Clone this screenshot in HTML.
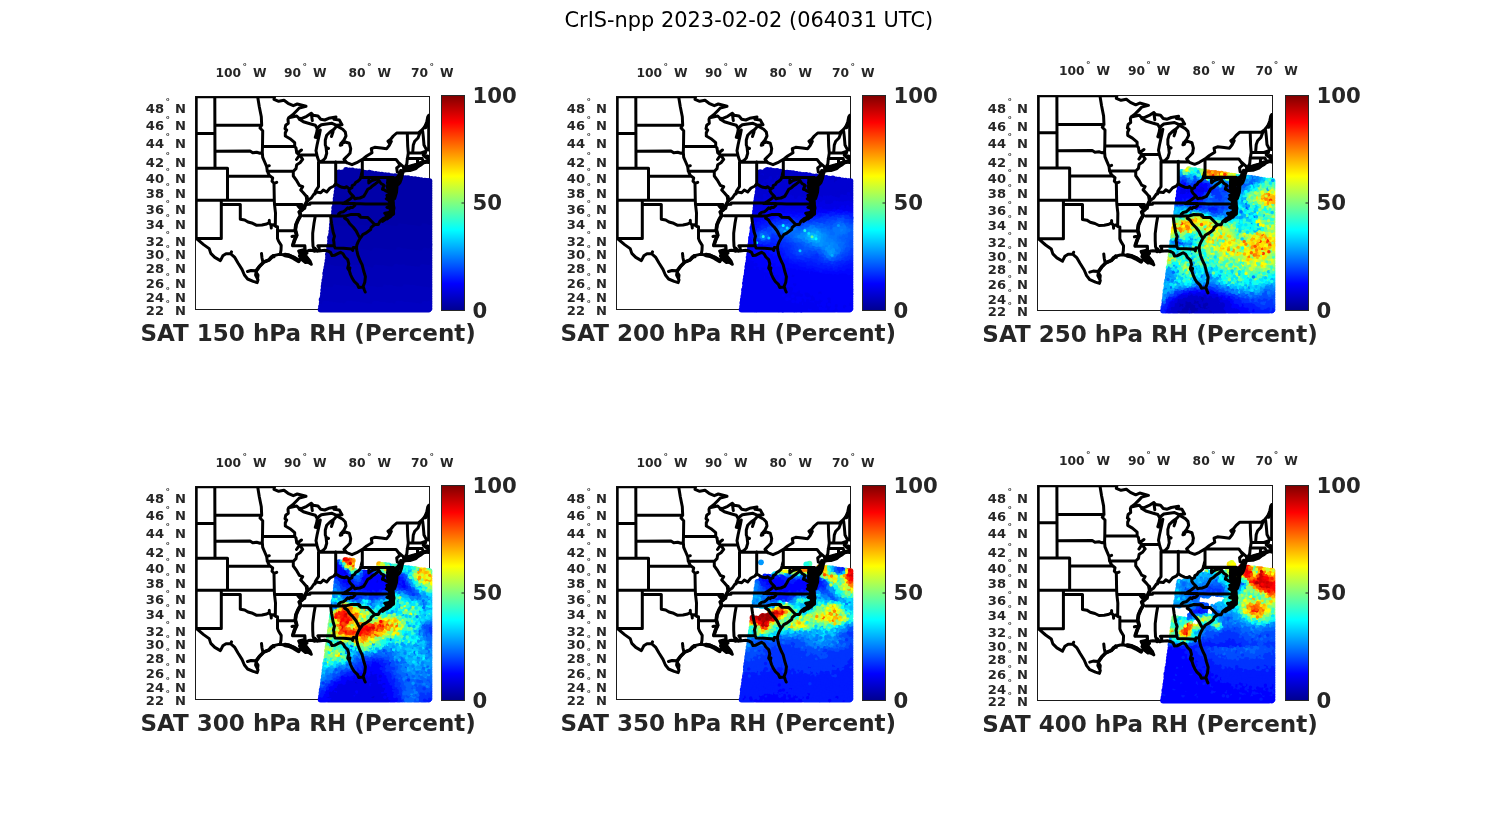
<!DOCTYPE html>
<html lang="en"><head><meta charset="utf-8"><title>CrIS-npp 2023-02-02 (064031 UTC)</title>
<style>html,body{margin:0;padding:0;background:#fff}body{width:1500px;height:825px;overflow:hidden}svg{display:block}text{font-family:"DejaVu Sans","Liberation Sans",sans-serif;fill:#262626}.b{font-weight:bold}.t{font-size:13.1px;font-weight:bold}.c{font-size:21.2px;font-weight:bold}.l{font-size:23.05px;font-weight:bold}.d{font-size:9px;font-weight:bold}.w{font-size:12.3px;font-weight:bold}</style></head><body>
<svg width="1500" height="825" viewBox="0 0 1500 825">
<defs><linearGradient id="jet" x1="0" y1="1" x2="0" y2="0"><stop offset="0" stop-color="#00008f"/><stop offset="0.125" stop-color="#0000ff"/><stop offset="0.375" stop-color="#00ffff"/><stop offset="0.625" stop-color="#ffff00"/><stop offset="0.875" stop-color="#ff0000"/><stop offset="1" stop-color="#800000"/></linearGradient>
<g id="usmap" fill="none" stroke="#000" stroke-linejoin="round" stroke-linecap="round"><path stroke-width="3" d="M0.7 0.2 L0.7 142.0 M0.7 0.2 L79.0 0.2 M233.2 18.8 L233.2 53.5 M19.3 0.5 L19.5 71.8 M1.0 37.0 L19.5 37.0 M19.5 28.8 L66.2 28.8 M19.5 54.8 L54.5 54.5 L57.2 56.2 L61.2 55.8 L64.5 56.8 L66.8 55.8 M1.0 71.8 L32.0 71.8 M32.0 71.8 L32.0 103.8 M32.0 79.8 L73.2 79.8 M1.0 103.8 L78.8 103.8 M25.8 103.8 L25.8 142.0 M1.0 142.0 L25.8 142.0 M25.8 108.0 L44.8 108.0 L44.8 122.8 L49.2 123.5 L52.5 125.5 L57.2 126.8 L61.2 128.8 L66.5 128.5 L71.2 127.5 L73.8 126.2 L75.5 128.8 L77.8 128.2 L80.5 130.0 L82.0 130.3 M73.8 126.5 L73.8 123.8 M75.5 128.5 L75.8 131.5 M62.2 0.5 L63.8 10.2 L65.8 20.2 L66.2 28.8 L64.5 31.5 L67.2 34.2 L67.0 50.0 L66.8 55.5 L67.2 60.8 L69.2 65.5 L71.2 70.2 L71.8 74.8 L73.8 78.8 L77.2 81.5 L76.5 84.8 L78.5 86.8 L78.8 103.8 L79.0 107.9 L80.0 116.5 L79.8 129.5 M71.2 70.2 L73.8 69.2 M78.5 86.8 L81.2 85.8 M82.0 130.3 L82.0 142.0 L83.0 144.5 L85.7 148.9 L85.5 153.5 L84.9 156.9 L86.5 158.1 M67.0 50.0 L99.2 50.0 M71.8 74.8 L97.8 74.8 M79.0 107.9 L106.5 107.9 L106.0 111.7 L109.3 111.7 M82.0 134.3 L99.5 134.3 M79.0 0.5 L78.5 2.8 L83.2 4.8 L88.5 3.8 L92.5 6.8 L97.8 9.2 L101.8 7.5 L110.5 9.8 L103.8 11.5 L101.2 14.2 L97.2 18.2 L93.2 21.2 M93.2 21.2 L92.5 22.8 L92.8 26.8 L90.2 28.8 L89.5 32.2 L91.2 33.5 L89.8 36.2 L89.8 39.5 L94.5 42.2 L99.2 46.2 L99.2 50.0 L100.5 51.5 L101.2 56.2 L103.8 58.2 L107.2 62.8 L104.5 66.2 L101.2 68.2 L100.5 72.2 L97.8 74.8 L97.8 79.5 L101.2 84.2 L103.8 88.8 L107.2 90.2 L105.2 93.5 L107.8 96.2 L111.2 100.2 L111.8 104.2 L110.0 108.0 L109.3 111.7 L106.5 113.5 L103.8 115.5 L105.2 118.8 L102.5 123.5 L100.5 128.2 L99.8 133.5 L101.2 138.8 L99.2 143.2 L97.2 149.3 L109.4 149.3 L109.7 154.5 M102.0 56.5 L106.0 53.5 M104.0 58.5 L101.0 63.0 M105.5 113.0 L102.5 109.5 M101.2 139.0 L96.5 140.0 M93.2 21.2 L101.2 19.5 L103.2 21.5 L105.8 22.2 L111.2 19.8 L115.8 16.8 L117.8 18.8 L122.5 19.5 L125.2 22.8 L129.2 23.5 L133.2 21.8 L140.5 20.5 L138.5 22.8 L143.8 23.5 L146.5 28.2 L141.2 28.8 L136.5 26.8 L131.2 27.5 L125.8 28.2 L123.5 30.0 L121.8 32.2 M115.8 16.8 L116.3 20.5 L116.8 24.0 M103.8 22.8 L107.8 25.2 L114.5 27.2 L119.8 28.8 L121.8 32.2 L121.2 36.2 L119.8 40.8 L122.5 37.0 L124.8 33.5 L123.8 38.5 L122.5 44.2 L121.5 48.8 L120.5 54.2 L121.8 60.2 L123.2 64.2 L124.0 65.5 M121.0 36.5 L120.5 41.0 L121.8 37.5 M141.2 29.5 L138.5 32.8 L134.5 35.5 L131.2 38.8 L129.8 43.5 L129.8 48.5 L130.5 50.2 L131.2 56.8 L129.8 61.5 L127.2 64.2 L124.0 65.5 M138.0 33.0 L137.0 36.5 L136.0 40.0 L137.5 35.5 M130.5 51.0 L133.0 52.0 M141.2 29.5 L147.2 32.8 L149.8 35.5 L150.5 39.5 L148.5 43.5 L145.8 46.8 L145.2 48.0 L147.0 46.5 L149.8 45.5 L153.8 46.8 L155.2 52.2 L154.5 56.8 L151.2 60.2 L148.5 62.8 L151.2 66.2 M145.5 46.7 L144.8 48.8 L146.3 48.3 M124.0 65.5 L151.2 65.8 M123.0 65.5 L123.0 90.2 L121.2 92.8 L119.8 95.0 L119.6 97.5 M140.2 65.2 L140.2 87.2 M103.8 58.5 L121.2 58.5 M151.2 66.2 L156.5 68.2 L161.2 66.2 L164.5 64.2 L167.8 62.2 L171.2 59.5 L176.5 56.2 L175.8 52.2 L179.2 50.8 L185.8 51.5 L191.2 52.2 L193.8 48.8 L195.8 44.8 L193.8 46.8 L192.5 44.8 L195.2 42.8 L197.8 39.5 L201.2 36.5 L223.2 36.2 L226.5 33.5 L230.5 28.8 L233.2 21.5 L233.8 18.8 M166.8 63.0 L166.8 80.8 M169.2 62.9 L200.5 62.9 L202.5 65.5 L204.5 68.8 L201.2 71.5 L201.8 75.5 L204.5 76.8 L202.5 80.0 L200.0 81.7 M211.8 36.5 L212.2 49.5 L212.8 56.5 L211.7 63.5 L211.3 67.5 L210.0 70.0 M212.8 56.5 L225.5 56.5 L229.8 55.0 M211.7 62.0 L226.5 62.0 M224.5 36.2 L222.5 41.5 L219.2 44.8 L217.8 48.5 L217.2 56.2 M227.2 34.8 L227.8 40.2 L228.5 48.5 L229.8 51.0 L230.8 52.8 M222.0 62.0 L222.0 67.0 M226.5 62.0 L227.8 64.8 L227.5 66.5 M233.8 53.5 L230.8 52.8 L229.8 56.8 L227.8 58.8 L230.5 61.0 L233.2 62.8 L233.2 60.0 L231.5 59.5 M233.2 62.8 L233.3 66.0 L231.2 65.5 L227.8 64.8 L227.5 66.5 L224.5 67.0 L217.5 68.8 L212.5 70.3 L208.5 72.2 M208.5 72.5 L213.5 72.3 L218.5 71.0 L224.5 68.3 L220.5 72.0 L214.5 74.0 L208.5 74.3 M202.5 65.5 L207.8 70.2 L208.5 72.2 L208.0 75.0 L207.0 77.5 L206.0 82.0 L204.5 86.0 L203.0 87.8 L201.5 85.0 L200.0 81.7 M111.8 104.2 L115.8 101.5 L118.5 97.5 L121.2 95.5 L125.2 96.2 L127.8 93.5 L131.2 95.5 L134.5 91.5 L138.5 89.5 L140.2 87.2 M139.9 87.2 L143.7 89.6 L146.5 90.8 L149.4 91.2 L151.3 90.2 L152.5 91.4 L153.8 92.6 L156.4 91.2 L156.7 89.2 L159.0 88.0 L160.3 85.8 L162.5 84.7 L164.6 82.7 L165.6 79.3 L166.2 76.6 L166.8 74.6 M153.8 92.6 L153.6 94.8 L154.9 96.8 L157.7 99.6 L159.5 102.3 L161.9 101.7 L164.4 101.5 L168.2 99.9 L170.1 96.8 L172.3 92.8 L175.1 91.2 L177.2 89.2 L180.1 87.2 L183.7 84.3 M157.7 99.6 L155.3 101.9 L151.3 104.7 L147.1 107.0 M110.5 107.9 L114.5 107.7 L114.7 106.5 L149.5 106.5 M147.1 107.0 L159.5 107.1 L170.1 107.4 L196.0 107.4 M107.8 119.3 L136.2 119.3 M135.0 119.4 L150.6 119.4 M119.8 119.5 L118.5 126.8 L117.2 136.8 L117.2 143.5 L117.5 149.5 L118.5 152.5 M135.0 119.4 L136.1 127.0 L137.6 135.6 L139.0 139.7 L138.0 143.4 L138.4 145.6 L138.7 149.3 L139.6 151.5 M123.4 154.4 L123.7 151.5 L122.4 149.3 L138.7 149.3 M139.6 151.5 L148.1 151.8 L156.2 152.4 L157.2 154.0 L157.3 152.4 L157.8 150.9 L161.0 151.3 M159.5 107.1 L159.3 109.0 L157.2 110.9 L155.0 110.8 L153.8 112.1 L152.2 111.3 L150.0 113.6 L148.1 115.2 L145.0 115.9 L143.1 117.5 L143.0 119.4 M179.2 128.0 L172.1 120.9 L165.1 120.8 L164.2 118.6 L163.5 119.4 L163.5 118.1 L155.7 117.9 L150.6 119.4 M150.6 119.4 L149.1 121.7 L151.9 123.4 L154.1 127.0 L157.8 130.8 L160.7 134.5 L162.5 138.2 L164.6 141.7 M166.8 81.1 L198.1 81.1 M196.5 83.1 L197.7 81.2 L198.8 81.5 M173.3 83.5 L173.3 86.4 L175.9 84.3 L177.3 83.7 L179.8 83.1 L181.4 82.3 L182.6 83.1 L183.7 84.3 L184.3 85.4 L185.7 87.2 L187.3 88.0 L188.7 89.2 L187.6 90.8 L187.0 92.8 L188.6 93.2 L190.1 94.4 L193.1 95.6 L192.6 93.6 L191.8 90.4 L192.3 88.0 L192.0 86.0 L194.6 83.5 L195.1 84.7 L193.9 88.0 L193.9 90.0 L193.3 93.6 L195.8 94.4 L197.3 96.4 L195.5 99.6 L195.3 102.9 L197.3 99.9 L199.8 96.0 L201.1 92.4 L200.8 89.6 L198.9 88.0 L198.6 85.5 L197.8 83.1 L198.8 81.5 M196.5 83.1 L197.0 92.4 L201.1 92.4 M193.6 96.8 L193.3 99.6 L191.4 98.8 L192.6 101.9 L193.3 103.9 L190.8 102.3 L195.1 104.4 L196.0 107.4 M193.1 95.6 L193.6 96.8 M196.0 107.4 L198.0 113.2 L198.1 117.5 L195.1 118.8 L191.7 122.4 L188.2 121.7 L184.5 124.7 L182.8 128.1 L179.2 128.0 M196.1 109.4 L191.4 110.9 L195.1 112.1 L195.8 114.8 L192.0 116.3 L189.2 116.7 L191.4 118.6 L190.4 119.8 L191.4 121.7 M179.2 128.0 L175.7 130.8 L175.1 133.0 L170.7 136.4 L167.2 138.2 L165.7 140.5 L164.6 141.7 L162.5 145.6 L161.3 148.6 L161.0 151.3 M123.4 154.4 L129.3 153.8 L133.1 154.8 L135.0 155.8 L136.5 159.0 L139.4 158.7 L142.8 156.9 L145.0 155.8 L147.5 157.3 L149.4 160.5 L152.2 163.1 L153.3 167.4 L152.2 171.6 L153.5 173.7 L154.4 171.3 L153.8 174.1 L155.0 178.0 L156.6 181.5 L158.8 185.0 L161.9 187.8 L163.2 190.9 L167.6 190.5 L168.2 188.5 L169.3 185.7 L169.9 180.1 L168.2 174.5 L166.6 168.1 L164.7 164.5 L162.4 158.7 L161.3 153.7 L161.0 151.3 M168.0 191.1 L168.8 193.3 L169.7 195.5 M123.4 154.4 L121.8 154.8 L120.9 153.7 L119.6 151.9 L119.3 154.8 L117.4 154.0 L114.9 153.7 L113.0 154.0 L110.5 155.1 L109.3 152.9 L109.1 149.3 M86.5 158.1 L92.9 158.5 L98.5 160.9 L103.2 164.5 L104.9 162.5 L106.5 160.0 L104.5 157.0 L103.2 154.5 L107.5 153.5 L109.7 154.5 L111.5 156.5 L109.5 158.5 L112.0 161.5 L114.5 164.5 L115.8 167.8 L113.0 165.5 L110.0 166.0 L107.5 164.0 L104.9 162.5 M104.5 157.5 L108.5 156.0 L110.5 159.5 L107.5 161.5 L105.5 159.5 L109.5 157.5 M1.0 142.0 L2.5 143.3 L8.1 148.1 L13.7 152.1 L15.3 156.9 L19.3 160.9 L24.9 164.1 L27.3 159.3 L30.5 157.3 L35.3 157.3 L39.3 160.9 L42.5 166.5 L46.5 172.9 L48.9 178.5 L52.1 182.5 L57.7 184.9 L61.7 186.1 L62.5 183.3 L60.1 178.5 L60.9 173.7 L64.1 169.7 L68.1 165.7 L73.7 163.3 L77.7 159.3 L82.5 158.1 L86.5 158.1 M60.9 174.3 L55.5 174.0 L52.0 175.0 M67.5 166.0 L66.5 161.5 L66.0 157.0 M60.5 175.5 L62.5 178.5 L62.0 182.5 M73.5 163.3 L75.5 160.5 L78.5 160.3 M35.3 157.3 L36.0 155.3"/><path stroke-width="6.5" d="M194.0 84.0 L195.0 89.5 L195.5 95.5 L195.8 101.5 L196.0 106.5"/><path stroke-width="4.5" d="M200.0 83.5 L200.8 89.5 L200.3 95.5 L198.5 101.5"/><path stroke-width="6" d="M196.0 106.5 L197.0 111.5 L196.0 116.0 L194.0 119.0"/><path stroke-width="3.8" d="M194.0 119.0 L190.5 122.0 L187.0 124.5"/><path stroke-width="5.5" d="M209.5 73.0 L214.5 71.7 L219.5 70.0 L225.0 67.3"/><path stroke-width="4" d="M225.5 67.0 L229.5 65.5 L232.8 64.5"/><path stroke-width="6" d="M106.0 156.5 L108.5 160.0 L111.0 163.0"/><path stroke-width="4" d="M104.5 159.5 L108.5 163.5 L114.0 166.0"/><path stroke-width="4.5" d="M89.5 158.5 L93.5 159.3 L98.0 161.3 L103.0 164.3"/><path stroke-width="3.8" d="M111.2 100.2 L111.8 104.2 L110.0 108.0 L106.5 113.5 L103.8 115.5 L105.2 118.8 L102.5 123.5 L100.5 128.2 L99.8 133.5 L101.2 138.8 L99.2 143.2 L97.4 148.5"/><path stroke-width="3.6" d="M60.9 174.3 L64.1 169.7 L68.1 165.7 L73.7 163.3 L77.7 159.3"/><path stroke-width="4.5" d="M230.0 30.5 L232.0 25.5 L233.0 20.5"/><path stroke-width="4" d="M202.0 83.5 L204.0 79.5 L205.5 74.5"/></g><clipPath id="fc"><rect x="0" y="0" width="234" height="213"/></clipPath>
</defs>
<rect width="1500" height="825" fill="#fff"/>
<text x="748.8" y="26.7" text-anchor="middle" style="font-size:20.9px;fill:#000">CrIS-npp 2023-02-02 (064031 UTC)</text>
<g>
<rect x="195.5" y="96.5" width="234" height="213" fill="#fff" stroke="#1a1a1a" stroke-width="1"/>
<g transform="translate(195.5 96.5) scale(1 1)">
<g fill="none" stroke-linecap="round">
<g stroke-width="5.8">
<path stroke="#0000ad" d="M226.4 127.2h0M229.8 127.6h0M233.0 128.0h0M203.0 127.4h0M206.5 127.4h0M209.8 128.1h0M213.4 128.6h0M216.3 128.9h0M219.6 129.3h0M222.9 129.6h0M226.1 130.2h0M229.3 130.9h0M232.7 130.9h0M183.0 127.9h0M186.4 128.4h0M190.1 128.7h0M192.8 129.3h0M196.4 129.4h0M199.4 130.0h0M202.6 130.6h0M206.3 131.0h0M209.3 131.5h0M212.5 131.9h0M215.8 131.9h0M219.0 132.4h0M222.7 133.0h0M225.8 133.6h0M228.9 134.0h0M232.4 134.6h0M156.4 127.5h0M160.2 128.1h0M163.1 128.7h0M166.6 129.0h0M169.8 129.2h0M173.2 129.7h0M176.5 130.2h0M179.8 130.6h0M182.8 131.1h0M186.0 131.2h0M189.4 132.1h0M192.5 132.6h0M196.1 132.9h0M199.1 133.5h0M202.6 133.7h0M205.5 134.2h0M208.7 134.8h0M212.1 134.9h0M215.5 135.5h0M218.8 135.9h0M222.1 136.5h0M225.3 136.8h0M228.8 136.9h0M231.7 137.5h0M136.4 128.1h0M140.0 128.4h0M143.3 129.3h0M146.6 129.2h0M149.6 130.1h0M153.2 130.1h0M156.2 130.7h0M159.6 130.9h0M162.6 131.8h0M166.2 131.8h0M169.3 132.6h0M172.8 132.9h0M176.1 133.2h0M178.9 133.6h0M182.4 134.1h0M185.5 134.5h0M188.6 135.4h0M192.1 135.9h0M195.6 135.9h0M199.0 136.2h0M202.3 136.7h0M205.1 137.4h0M208.2 138.0h0M211.5 138.5h0M214.8 138.7h0M218.2 139.0h0M221.6 139.5h0M224.8 140.1h0M228.0 140.3h0M231.5 140.8h0M136.2 131.4h0M139.4 132.0h0M142.7 132.1h0M145.8 132.8h0M148.9 133.1h0M152.7 133.4h0M155.7 134.1h0M159.3 134.6h0M162.4 134.8h0M165.5 135.4h0M168.8 136.0h0M171.8 136.4h0M175.5 136.6h0M178.4 137.0h0M182.0 137.7h0M185.4 137.8h0M188.2 138.2h0M192.0 139.0h0M194.8 139.4h0M198.6 139.8h0M201.4 140.5h0M204.9 140.5h0M208.2 141.1h0M211.4 141.5h0M214.5 141.9h0M217.9 142.4h0M221.4 142.6h0M224.3 143.6h0M227.8 143.8h0M231.1 144.0h0M135.8 134.8h0M139.3 134.9h0M142.2 135.4h0M145.3 136.0h0M148.8 136.2h0M152.3 137.1h0M155.1 137.0h0M158.3 137.9h0M162.1 137.9h0M164.8 138.6h0M168.3 138.8h0M171.4 139.3h0M174.8 139.8h0M178.2 140.2h0M181.3 140.7h0M185.0 141.1h0M188.1 141.7h0M191.2 142.1h0M194.3 142.4h0M197.9 143.2h0M200.9 143.3h0M204.6 143.7h0M207.8 144.6h0M210.7 145.0h0M214.0 145.0h0M217.3 145.6h0M220.8 146.1h0M224.2 146.7h0M227.0 146.8h0M230.7 147.2h0M234.1 148.1h0M135.5 138.2h0M138.7 138.3h0M141.8 138.7h0M145.0 139.2h0M148.0 139.4h0M151.4 140.2h0M155.1 140.7h0M157.9 141.0h0M161.5 141.2h0M164.4 142.0h0M167.8 142.4h0M171.0 143.0h0M174.4 143.2h0M177.8 143.9h0M181.3 144.3h0M184.4 144.3h0M187.4 145.0h0M191.1 145.6h0M193.9 145.8h0M197.7 146.3h0M200.9 147.0h0M204.1 147.3h0M207.3 147.5h0M210.2 148.3h0M213.5 148.4h0M217.1 149.2h0M220.1 149.2h0M223.8 149.7h0M226.8 150.2h0M229.8 151.0h0M233.5 150.9h0M134.5 141.1h0M138.2 141.7h0M141.6 141.8h0M144.7 142.3h0M147.8 143.0h0M151.4 143.5h0M154.7 143.5h0M157.6 144.3h0M160.7 144.4h0M164.2 145.2h0M167.3 145.3h0M170.7 146.2h0M174.1 146.8h0M177.4 147.2h0M180.6 147.4h0M183.8 147.6h0M186.9 148.3h0M190.6 148.4h0M193.5 149.0h0M196.8 149.8h0M200.1 149.9h0M203.5 150.7h0M206.6 151.0h0M209.8 151.3h0M213.6 151.6h0M216.5 152.3h0M219.9 152.7h0M223.2 153.2h0M226.3 153.5h0M134.5 144.5h0M137.5 144.6h0M141.1 145.2h0M144.0 145.7h0M147.7 146.5h0M150.8 146.9h0M153.8 147.1h0M157.0 147.4h0M160.8 147.7h0M163.9 148.4h0M167.4 149.2h0M170.1 149.2h0M173.9 149.6h0M176.7 150.4h0M180.2 150.5h0M183.5 151.0h0M186.7 151.6h0M189.8 152.0h0M193.5 152.5h0M196.7 152.7h0M199.6 153.0h0M134.2 147.9h0M137.2 147.9h0M140.3 148.9h0M143.8 148.9h0M147.2 149.3h0M150.3 150.2h0M153.3 150.1h0M156.6 150.6h0M160.0 151.1h0M163.2 151.4h0M166.6 152.1h0M170.0 152.5h0M173.2 152.9h0M176.6 153.3h0M133.6 150.8h0M136.7 151.5h0M140.1 152.0h0M143.6 152.6h0M146.4 152.5h0M150.1 153.0h0M153.4 153.4h0M234.0 127.9h0M234.0 130.3h0M234.0 132.7h0M234.0 135.1h0M234.0 137.5h0M234.0 139.9h0M234.0 142.3h0M234.0 144.7h0M234.0 147.1h0M234.0 149.5h0M234.0 151.9h0"/>
<path stroke="#0000a8" d="M150.6 73.4h0M154.0 74.0h0M156.9 74.0h0M160.7 74.7h0M163.9 74.9h0M167.0 75.7h0M170.1 76.3h0M173.8 76.2h0M176.5 76.9h0M180.3 77.3h0M183.2 77.8h0M186.3 78.1h0M189.8 78.7h0M193.0 79.0h0M196.3 79.6h0M199.6 79.7h0M203.2 80.5h0M206.3 80.7h0M209.8 81.6h0M212.5 81.7h0M216.2 82.4h0M219.6 82.6h0M222.8 83.2h0M225.7 83.6h0M229.4 84.2h0M232.4 84.5h0M143.5 75.8h0M147.2 75.9h0M150.4 76.8h0M153.7 77.2h0M156.9 77.6h0M160.0 77.9h0M163.0 78.6h0M166.6 78.7h0M169.8 79.3h0M173.0 79.7h0M176.4 80.3h0M179.7 80.6h0M182.6 80.9h0M186.0 81.6h0M189.7 82.1h0M192.9 82.6h0M195.8 83.0h0M199.4 83.0h0M202.2 83.4h0M205.9 84.0h0M208.8 84.7h0M212.2 84.8h0M215.4 85.5h0M218.7 85.8h0M222.3 86.4h0M225.3 86.8h0M228.4 87.2h0M231.9 87.5h0M143.4 79.0h0M146.3 79.2h0M150.0 79.6h0M153.2 80.6h0M156.3 80.6h0M159.8 81.5h0M163.0 81.7h0M166.0 82.0h0M169.2 82.7h0M172.6 82.8h0M175.7 83.6h0M179.1 83.9h0M182.4 84.6h0M186.0 84.5h0M188.8 85.1h0M192.6 85.8h0M195.4 85.9h0M198.9 86.8h0M202.3 86.9h0M205.6 87.6h0M208.6 88.2h0M211.7 88.5h0M214.9 88.6h0M218.7 89.0h0M221.9 89.7h0M225.2 90.0h0M228.1 90.4h0M231.7 91.0h0M143.1 82.3h0M145.8 82.6h0M149.2 83.3h0M152.3 83.9h0M155.8 84.4h0M159.4 84.4h0M162.2 84.9h0M165.4 85.5h0M168.7 85.6h0M172.5 86.2h0M175.5 86.7h0M178.6 86.9h0M182.3 87.9h0M185.6 87.8h0M188.4 88.6h0M192.1 89.0h0M195.2 89.5h0M198.2 89.9h0M201.5 90.1h0M204.7 90.6h0M208.5 91.1h0M211.5 91.7h0M215.0 92.0h0M217.9 92.4h0M221.1 93.1h0M224.8 93.2h0M227.7 93.8h0M231.1 94.3h0M142.5 85.8h0M145.8 86.2h0M149.0 86.3h0M152.1 86.7h0M155.5 87.5h0M158.5 87.5h0M162.2 88.4h0M165.3 88.7h0M168.7 89.1h0M171.7 89.5h0M174.9 89.7h0M178.4 90.4h0M181.6 90.6h0M184.8 91.1h0M187.9 91.6h0M191.6 92.2h0M194.6 92.7h0M197.8 92.8h0M201.2 93.5h0M204.6 93.9h0M207.8 94.6h0M210.8 94.9h0M214.3 95.1h0M217.5 95.8h0M221.1 96.4h0M224.0 96.7h0M227.1 96.8h0M230.6 97.7h0M233.7 98.1h0M142.2 88.6h0M145.3 89.5h0M148.5 89.9h0M151.7 90.4h0M155.3 90.5h0M158.4 91.0h0M161.3 91.4h0M164.6 92.2h0M168.3 92.2h0M171.4 92.8h0M174.4 93.2h0M177.7 93.9h0M180.8 94.0h0M184.4 94.3h0M187.7 95.1h0M191.1 95.3h0M194.1 96.0h0M197.3 96.4h0M200.6 96.9h0M204.2 97.4h0M207.6 97.7h0M210.6 98.3h0M214.0 98.6h0M217.0 98.9h0M220.1 99.6h0M223.4 100.1h0M226.9 100.6h0M230.3 101.1h0M233.2 101.2h0M141.5 92.1h0M144.6 92.3h0M147.9 93.0h0M151.2 93.7h0M154.6 94.0h0M158.0 94.5h0M161.1 94.9h0M164.4 95.3h0M167.7 95.6h0M171.0 96.2h0M174.4 96.7h0M177.6 97.1h0M180.9 97.5h0M183.9 97.7h0M187.4 98.5h0M190.5 98.5h0M194.0 99.2h0M197.0 99.4h0M200.3 100.2h0M203.5 100.4h0M206.9 100.7h0M210.1 101.7h0M213.5 101.8h0M216.8 102.4h0M219.8 102.6h0M223.4 103.0h0M226.2 103.8h0M229.8 104.0h0M233.0 104.6h0M141.1 95.2h0M144.3 95.6h0M147.3 96.4h0M150.7 96.9h0M153.9 97.3h0M157.5 97.5h0M160.4 98.0h0M163.9 98.2h0M167.0 98.7h0M170.5 99.6h0M173.5 99.5h0M177.1 100.4h0M180.5 100.8h0M183.4 101.3h0M186.6 101.7h0M189.8 102.0h0M193.3 102.4h0M196.4 102.7h0M200.1 103.3h0M203.2 103.6h0M206.5 104.1h0M209.7 104.9h0M213.2 104.8h0M216.4 105.8h0M219.4 105.9h0M222.8 106.7h0M226.0 107.1h0M229.5 107.1h0M232.8 107.5h0M140.6 98.7h0M143.8 98.8h0M147.0 99.5h0M150.2 100.2h0M153.6 100.5h0M157.0 101.0h0M160.3 101.5h0M163.3 102.0h0M166.5 102.5h0M170.2 102.9h0M173.0 102.8h0M176.7 103.5h0M179.7 104.3h0M182.8 104.4h0M186.3 104.6h0M189.6 105.4h0M193.1 105.5h0M196.2 105.9h0M199.6 106.4h0M202.4 107.0h0M206.1 107.4h0M209.0 108.1h0M212.7 108.6h0M215.7 108.8h0M218.9 109.3h0M222.2 109.6h0M225.8 110.4h0M228.9 110.4h0M232.2 111.0h0M140.1 102.2h0M143.6 102.7h0M146.9 103.1h0M150.2 103.4h0M153.0 103.7h0M156.5 104.4h0M159.9 104.7h0M163.2 104.9h0M166.5 105.6h0M169.5 105.9h0M173.1 106.4h0M175.9 106.6h0M179.5 107.3h0M182.9 107.5h0M185.9 108.3h0M188.9 108.3h0M192.5 108.9h0M195.5 109.3h0M199.1 109.9h0M202.0 110.1h0M205.7 110.9h0M208.6 111.4h0M211.8 111.6h0M215.5 112.2h0M218.5 112.8h0M221.9 113.2h0M225.4 113.4h0M228.5 113.9h0M232.0 114.5h0M139.9 105.5h0M142.9 105.7h0M146.1 106.0h0M149.5 106.6h0M152.8 107.3h0M155.8 107.5h0M159.6 108.0h0M162.6 108.2h0M165.8 109.0h0M169.3 109.3h0M172.6 109.9h0M175.9 110.0h0M178.9 110.7h0M182.1 111.1h0M185.5 111.3h0M188.7 111.6h0M191.9 112.2h0M195.0 112.5h0M198.4 113.4h0M201.9 113.5h0M205.4 113.9h0M208.4 114.6h0M211.7 114.9h0M215.1 115.4h0M218.3 115.8h0M221.7 116.4h0M224.5 116.5h0M228.3 117.0h0M231.0 117.4h0M139.5 108.2h0M142.7 108.7h0M145.7 109.6h0M148.9 109.8h0M152.3 110.5h0M155.9 110.6h0M158.9 111.4h0M162.2 111.4h0M165.6 111.9h0M168.7 112.2h0M172.2 113.0h0M175.5 113.6h0M178.3 113.8h0M181.7 114.4h0M185.2 114.5h0M188.2 115.2h0M191.5 115.3h0M194.6 116.0h0M198.2 116.7h0M201.4 116.9h0M204.4 117.3h0M207.8 117.9h0M211.0 118.0h0M214.4 118.6h0M217.6 119.1h0M220.8 119.8h0M224.4 120.0h0M227.3 120.3h0M230.9 120.9h0M138.7 111.5h0M141.9 112.3h0M145.4 112.4h0M148.4 113.2h0M151.6 113.4h0M155.0 113.7h0M158.1 114.2h0M161.6 115.1h0M165.0 115.1h0M168.3 115.6h0M171.5 116.1h0M175.0 116.5h0M178.2 117.1h0M181.5 117.6h0M184.8 117.9h0M188.0 118.4h0M191.1 118.9h0M194.4 119.2h0M197.9 119.8h0M201.0 119.9h0M204.2 120.4h0M207.3 121.0h0M210.8 121.3h0M213.9 121.9h0M217.3 122.3h0M220.3 122.7h0M223.9 123.3h0M227.1 123.9h0M230.5 124.2h0M233.3 124.5h0M138.5 115.1h0M141.6 115.7h0M144.8 116.0h0M147.9 116.3h0M151.2 116.9h0M154.4 116.9h0M157.7 117.4h0M161.2 118.0h0M164.4 118.8h0M168.0 119.1h0M171.2 119.6h0M174.2 120.1h0M177.4 120.4h0M180.8 120.6h0M184.3 121.5h0M187.3 121.9h0M190.6 122.2h0M194.2 122.7h0M196.9 122.9h0M200.4 123.3h0M203.9 123.8h0M207.1 124.4h0M210.3 124.5h0M213.7 125.4h0M216.6 125.7h0M220.1 126.0h0M223.5 126.8h0M138.1 118.6h0M140.9 118.7h0M144.5 119.3h0M148.0 119.6h0M150.9 119.8h0M154.4 120.8h0M157.8 121.0h0M160.7 121.2h0M164.2 122.1h0M167.6 122.1h0M170.7 122.7h0M173.8 123.3h0M177.4 123.7h0M180.5 124.1h0M183.8 124.5h0M186.8 125.1h0M190.0 125.4h0M193.4 125.8h0M196.9 126.2h0M200.3 126.5h0M137.6 121.5h0M140.8 122.1h0M143.8 122.5h0M147.0 122.7h0M150.5 123.2h0M153.9 124.1h0M157.0 124.4h0M160.2 124.8h0M163.5 125.1h0M166.7 125.7h0M170.0 126.0h0M173.3 126.6h0M176.8 126.9h0M180.1 127.2h0M136.9 125.1h0M140.6 125.4h0M143.3 126.0h0M146.8 126.4h0M149.9 126.4h0M153.6 126.9h0M234.0 84.7h0M234.0 87.1h0M234.0 89.5h0M234.0 91.9h0M234.0 94.3h0M234.0 96.7h0M234.0 99.1h0M234.0 101.5h0M234.0 103.9h0M234.0 106.3h0M234.0 108.7h0M234.0 111.1h0M234.0 113.5h0M234.0 115.9h0M234.0 118.3h0M234.0 120.7h0M234.0 123.1h0M234.0 125.5h0"/>
<path stroke="#0000bd" d="M208.2 188.0h0M211.9 188.2h0M215.0 188.8h0M218.0 189.1h0M221.7 189.6h0M225.1 189.8h0M228.2 190.6h0M231.3 191.1h0M188.1 188.4h0M191.4 188.6h0M195.1 189.0h0M198.1 189.6h0M201.7 190.4h0M204.9 190.6h0M207.8 191.3h0M211.1 191.6h0M214.7 191.9h0M218.0 192.6h0M221.0 192.9h0M224.1 193.2h0M227.7 193.5h0M230.8 194.3h0M234.0 194.8h0M162.0 188.4h0M165.1 188.3h0M168.0 189.3h0M171.8 189.6h0M174.7 190.1h0M177.9 190.4h0M181.5 190.7h0M184.8 191.0h0M188.2 191.9h0M191.1 192.0h0M194.6 192.4h0M197.8 193.1h0M201.3 193.6h0M204.1 193.8h0M207.3 194.5h0M211.0 194.6h0M214.1 195.1h0M217.2 195.3h0M220.7 196.3h0M223.7 196.7h0M227.3 197.0h0M230.7 197.3h0M233.8 197.6h0M138.3 188.2h0M141.9 188.6h0M144.8 189.1h0M148.4 189.9h0M151.7 190.1h0M154.6 190.7h0M157.8 191.0h0M161.6 191.3h0M164.6 191.7h0M167.8 192.0h0M171.2 192.8h0M174.2 192.9h0M177.5 193.5h0M180.9 194.2h0M184.2 194.2h0M187.2 194.9h0M190.6 195.5h0M194.2 196.0h0M197.4 196.1h0M200.7 196.6h0M203.6 196.9h0M207.0 197.8h0M210.5 198.1h0M213.6 198.4h0M217.2 199.2h0M220.1 199.4h0M223.5 199.6h0M226.7 200.0h0M230.2 200.6h0M233.4 201.3h0M128.1 189.9h0M131.5 190.4h0M134.7 190.9h0M137.8 191.7h0M141.0 192.2h0M144.6 192.5h0M147.8 193.0h0M150.9 193.3h0M154.1 193.5h0M157.6 194.3h0M161.2 194.9h0M163.9 195.3h0M167.4 195.5h0M170.5 195.7h0M173.9 196.4h0M177.4 197.0h0M180.3 197.4h0M184.0 197.6h0M186.9 198.0h0M190.6 198.4h0M193.7 199.0h0M197.0 199.5h0M200.0 200.2h0M203.4 200.1h0M206.5 200.6h0M209.8 201.1h0M213.3 201.8h0M216.4 202.0h0M219.8 202.5h0M223.2 203.3h0M226.4 203.8h0M229.4 204.1h0M232.8 204.6h0M127.7 193.6h0M131.0 193.8h0M134.2 194.3h0M137.8 194.6h0M141.0 195.4h0M144.3 195.8h0M147.5 195.9h0M150.9 196.3h0M154.0 196.8h0M157.0 197.6h0M160.4 198.0h0M163.5 198.1h0M166.9 198.8h0M170.4 199.5h0M173.5 200.0h0M176.8 199.9h0M180.1 200.7h0M183.5 200.8h0M186.9 201.5h0M189.6 201.8h0M193.3 202.1h0M196.3 202.9h0M199.5 203.4h0M203.0 203.5h0M206.4 203.9h0M209.3 204.7h0M212.8 204.8h0M216.0 205.6h0M219.1 205.6h0M222.6 206.1h0M226.0 206.6h0M127.4 197.1h0M130.3 197.5h0M134.1 197.9h0M137.1 198.2h0M140.4 198.5h0M143.4 198.8h0M146.9 199.3h0M150.0 199.9h0M153.3 200.5h0M156.5 200.6h0M160.0 201.0h0M163.5 201.6h0M166.3 201.9h0M169.9 202.4h0M173.0 202.8h0M176.1 203.6h0M179.5 203.7h0M182.7 204.3h0M186.3 205.0h0M189.7 204.9h0M192.7 205.6h0M196.0 206.0h0M199.5 206.6h0M127.2 200.2h0M130.2 200.2h0M133.4 200.7h0M136.7 201.3h0M139.7 201.8h0M143.4 202.4h0M146.3 203.0h0M150.0 203.0h0M153.3 203.4h0M156.2 204.2h0M159.3 204.4h0M162.5 204.7h0M166.0 205.5h0M169.4 205.5h0M172.8 206.4h0M175.8 206.5h0M126.1 203.2h0M129.5 203.5h0M132.7 204.4h0M136.0 204.6h0M139.6 205.2h0M142.7 205.3h0M146.0 205.9h0M149.3 206.3h0M126.2 206.7h0M234.0 190.3h0M234.0 192.7h0M234.0 195.1h0M234.0 197.5h0M234.0 199.9h0M234.0 202.3h0M234.0 204.7h0"/>
<path stroke="#0000b2" d="M229.6 154.0h0M233.0 154.7h0M203.3 153.5h0M206.2 154.3h0M209.7 154.7h0M212.8 155.2h0M216.1 155.7h0M219.1 156.1h0M222.4 156.3h0M225.9 156.6h0M229.2 157.5h0M232.2 157.5h0M179.7 153.9h0M183.0 154.4h0M186.3 154.7h0M189.7 155.5h0M192.8 155.8h0M196.2 156.0h0M199.4 156.5h0M202.6 156.9h0M205.9 157.3h0M209.0 157.7h0M212.5 158.2h0M215.9 159.0h0M219.1 159.1h0M222.5 159.6h0M225.4 160.2h0M228.9 160.5h0M232.2 161.2h0M156.4 153.9h0M159.4 154.4h0M163.1 155.1h0M166.1 155.2h0M169.4 155.7h0M172.6 156.3h0M176.0 157.0h0M179.0 157.2h0M182.6 157.4h0M185.7 157.8h0M189.3 158.4h0M192.1 158.9h0M195.6 159.6h0M199.0 159.7h0M202.4 160.0h0M205.6 160.4h0M208.9 161.0h0M212.2 161.8h0M215.4 161.8h0M218.5 162.2h0M221.9 163.2h0M225.1 163.5h0M228.4 163.6h0M231.5 164.2h0M133.0 154.4h0M136.3 154.7h0M139.5 155.3h0M142.7 155.7h0M146.1 155.8h0M149.1 156.2h0M152.5 156.9h0M155.7 157.1h0M159.4 158.1h0M162.4 158.2h0M165.8 158.4h0M169.0 159.2h0M172.6 159.6h0M175.6 160.0h0M179.1 160.5h0M182.1 161.0h0M185.3 161.1h0M188.7 162.0h0M191.8 162.0h0M194.9 162.9h0M198.2 163.2h0M201.5 163.5h0M205.2 163.8h0M208.1 164.5h0M211.6 164.9h0M214.7 165.0h0M218.1 165.6h0M221.4 166.2h0M224.5 166.9h0M227.8 167.4h0M231.1 167.5h0M132.4 157.8h0M136.2 158.2h0M139.1 158.5h0M142.7 158.9h0M145.5 159.6h0M149.0 159.9h0M152.3 159.9h0M155.5 160.3h0M158.6 161.3h0M162.2 161.5h0M165.1 162.1h0M168.6 162.5h0M172.0 163.1h0M175.1 163.3h0M178.4 163.8h0M181.8 164.0h0M184.7 164.4h0M187.9 165.1h0M191.4 165.7h0M194.5 165.7h0M198.2 166.1h0M201.2 166.9h0M204.6 167.1h0M207.6 167.7h0M210.9 168.4h0M214.2 168.8h0M217.3 169.1h0M220.8 169.4h0M224.1 170.1h0M132.5 161.0h0M135.6 161.4h0M138.6 161.4h0M142.1 162.1h0M145.5 162.3h0M148.7 163.1h0M152.0 163.6h0M155.0 163.9h0M158.1 164.2h0M161.6 164.6h0M164.8 165.3h0M168.2 165.9h0M171.4 166.1h0M174.6 166.7h0M178.0 167.3h0M181.0 167.2h0M184.4 167.9h0M187.8 168.1h0M190.9 168.8h0M194.2 169.4h0M197.3 169.8h0M132.0 164.1h0M135.1 164.4h0M138.6 165.2h0M141.4 165.3h0M144.5 165.8h0M148.3 166.4h0M151.1 166.6h0M154.4 167.0h0M157.7 167.4h0M161.2 168.3h0M164.6 168.6h0M167.6 169.2h0M170.8 169.1h0M174.1 170.0h0M177.6 170.1h0M131.5 167.4h0M134.6 167.6h0M137.6 168.2h0M141.0 168.9h0M144.2 168.8h0M147.4 169.4h0M150.7 169.9h0M234.0 154.3h0M234.0 156.7h0M234.0 159.1h0M234.0 161.5h0M234.0 163.9h0M234.0 166.3h0M234.0 168.7h0"/>
<path stroke="#0000b8" d="M227.3 170.5h0M230.4 170.9h0M200.6 170.2h0M204.3 170.8h0M207.6 170.7h0M210.7 171.7h0M214.1 171.8h0M217.3 172.2h0M220.6 172.7h0M224.0 172.9h0M227.0 173.4h0M230.4 174.3h0M233.5 174.7h0M180.6 170.8h0M184.1 171.3h0M187.3 171.3h0M190.3 171.9h0M193.9 172.6h0M197.2 172.6h0M200.7 173.3h0M203.7 173.6h0M206.8 174.1h0M210.3 174.9h0M213.3 175.0h0M216.6 175.3h0M219.7 176.2h0M223.6 176.2h0M226.3 176.9h0M229.7 177.2h0M233.3 177.6h0M154.4 170.6h0M157.5 171.1h0M160.9 171.1h0M164.1 171.5h0M167.2 172.1h0M170.4 172.4h0M173.6 173.2h0M177.3 173.8h0M180.0 174.0h0M183.4 174.4h0M186.9 174.7h0M189.9 175.3h0M193.1 175.9h0M196.9 175.9h0M200.1 176.8h0M202.9 177.1h0M206.5 177.3h0M210.0 178.0h0M213.2 178.7h0M216.6 178.9h0M219.8 179.0h0M222.7 179.7h0M226.1 180.1h0M229.6 180.7h0M232.9 181.0h0M130.9 170.8h0M134.3 170.8h0M137.2 171.6h0M140.8 172.1h0M143.9 172.3h0M147.5 172.7h0M150.3 173.0h0M153.5 173.8h0M157.1 174.0h0M160.4 174.4h0M163.5 175.1h0M167.0 175.4h0M170.3 175.9h0M173.4 176.6h0M176.7 176.8h0M180.1 177.0h0M182.9 177.4h0M186.3 178.1h0M189.8 178.7h0M192.7 179.2h0M196.1 179.7h0M199.4 180.1h0M202.9 180.0h0M206.1 180.7h0M209.6 181.1h0M212.5 181.5h0M215.6 182.1h0M219.2 182.3h0M222.6 182.8h0M225.9 183.5h0M229.2 183.8h0M232.4 184.4h0M130.3 173.9h0M133.9 174.4h0M136.8 174.5h0M140.3 175.1h0M143.7 175.4h0M147.0 176.3h0M149.9 176.2h0M153.5 176.7h0M156.3 177.3h0M159.6 177.6h0M163.1 178.4h0M166.5 178.5h0M169.4 179.2h0M173.1 179.5h0M176.2 179.8h0M179.7 180.7h0M183.0 180.9h0M185.7 181.6h0M189.2 181.7h0M192.5 182.4h0M195.9 182.7h0M198.9 183.0h0M202.1 183.9h0M205.9 183.8h0M208.9 184.8h0M212.2 185.2h0M215.2 185.5h0M218.9 185.6h0M221.8 186.5h0M225.1 186.8h0M228.7 187.3h0M231.9 187.5h0M129.7 177.0h0M133.4 177.5h0M136.5 177.9h0M140.0 178.7h0M142.9 178.8h0M146.1 179.3h0M149.4 179.9h0M152.7 180.4h0M155.8 180.8h0M159.5 181.0h0M162.8 181.8h0M166.2 182.1h0M169.2 182.5h0M172.6 182.8h0M176.0 183.5h0M179.1 183.9h0M182.0 184.4h0M185.5 184.8h0M188.9 185.1h0M192.2 185.8h0M195.7 185.7h0M198.9 186.6h0M202.0 187.0h0M205.1 187.3h0M129.6 180.6h0M132.5 181.1h0M136.0 181.5h0M139.0 181.5h0M142.8 181.9h0M145.6 182.7h0M148.9 183.0h0M152.6 183.3h0M155.9 184.2h0M159.2 184.5h0M162.4 184.6h0M165.5 185.5h0M169.0 185.5h0M172.2 186.1h0M175.3 186.8h0M178.7 186.9h0M182.0 187.8h0M185.3 187.7h0M128.9 183.8h0M132.1 184.3h0M135.5 184.4h0M138.8 184.8h0M142.2 185.7h0M145.5 186.1h0M148.5 186.2h0M152.2 186.7h0M155.4 187.3h0M158.3 187.5h0M128.5 186.8h0M131.8 187.7h0M135.2 187.8h0M234.0 171.1h0M234.0 173.5h0M234.0 175.9h0M234.0 178.3h0M234.0 180.7h0M234.0 183.1h0M234.0 185.5h0M234.0 187.9h0"/>
<path stroke="#0000c2" d="M228.9 207.3h0M232.7 207.7h0M202.5 207.2h0M205.8 207.1h0M209.1 208.1h0M212.4 208.1h0M215.8 208.4h0M219.1 208.9h0M222.3 209.4h0M225.2 209.9h0M228.7 210.6h0M232.0 210.7h0M179.3 207.4h0M182.3 207.5h0M185.6 208.3h0M188.7 208.2h0M192.1 208.9h0M195.8 209.0h0M199.0 209.8h0M202.3 210.5h0M205.5 210.5h0M208.9 210.8h0M212.2 211.5h0M215.0 212.2h0M218.4 212.4h0M221.6 212.8h0M152.6 207.1h0M155.6 207.1h0M159.3 207.7h0M162.6 207.9h0M166.0 208.3h0M169.1 208.9h0M172.3 209.7h0M175.6 210.2h0M178.6 210.6h0M182.1 210.6h0M185.1 211.0h0M188.8 211.6h0M191.7 211.9h0M195.3 212.6h0M129.3 207.1h0M132.4 207.4h0M135.5 207.9h0M139.3 208.4h0M142.5 209.0h0M145.6 209.0h0M149.2 209.7h0M152.1 209.9h0M155.5 210.8h0M158.7 210.8h0M162.1 211.3h0M165.1 211.7h0M168.5 212.4h0M171.8 212.6h0M174.9 213.0h0M125.5 210.1h0M128.9 210.1h0M132.3 210.4h0M135.2 211.2h0M138.9 211.5h0M141.6 212.2h0M145.3 212.3h0M148.5 212.9h0M234.0 207.1h0M234.0 209.5h0M234.0 211.9h0M125.1 213.0h0M127.5 213.0h0M129.9 213.0h0M132.3 213.0h0M134.7 213.0h0M137.1 213.0h0M139.5 213.0h0M141.9 213.0h0M144.3 213.0h0M146.7 213.0h0M149.1 213.0h0M151.5 213.0h0M153.9 213.0h0M156.3 213.0h0M158.7 213.0h0M161.1 213.0h0M163.5 213.0h0M165.9 213.0h0M168.3 213.0h0M170.7 213.0h0M173.1 213.0h0M175.5 213.0h0M177.9 213.0h0M180.3 213.0h0M182.7 213.0h0M185.1 213.0h0M187.5 213.0h0M189.9 213.0h0M192.3 213.0h0M194.7 213.0h0M197.1 213.0h0M199.5 213.0h0M201.9 213.0h0M204.3 213.0h0M206.7 213.0h0M209.1 213.0h0M211.5 213.0h0M213.9 213.0h0M216.3 213.0h0M218.7 213.0h0M221.1 213.0h0M223.5 213.0h0M225.9 213.0h0M228.3 213.0h0M230.7 213.0h0M233.1 213.0h0"/>
</g>
</g>
<use href="#usmap" clip-path="url(#fc)"/>
</g>
<rect x="441.5" y="95.5" width="23" height="215" fill="url(#jet)" stroke="#262626" stroke-width="1"/>
<path d="M464.5 203h-3" stroke="#262626" stroke-width="1" fill="none"/>
<text class="c" x="472.6" y="103.1">100</text>
<text class="c" x="472.6" y="210.4">50</text>
<text class="c" x="472.6" y="317.9">0</text>
<text class="t"><tspan x="145.8" y="112.8">48</tspan><tspan class="d" x="165.4" y="105.2">° </tspan><tspan x="175.1" y="112.8">N</tspan></text>
<text class="t"><tspan x="145.8" y="130.4">46</tspan><tspan class="d" x="165.4" y="122.8">° </tspan><tspan x="175.1" y="130.4">N</tspan></text>
<text class="t"><tspan x="145.8" y="147.7">44</tspan><tspan class="d" x="165.4" y="140.1">° </tspan><tspan x="175.1" y="147.7">N</tspan></text>
<text class="t"><tspan x="145.8" y="166.7">42</tspan><tspan class="d" x="165.4" y="159.1">° </tspan><tspan x="175.1" y="166.7">N</tspan></text>
<text class="t"><tspan x="145.8" y="182.7">40</tspan><tspan class="d" x="165.4" y="175.1">° </tspan><tspan x="175.1" y="182.7">N</tspan></text>
<text class="t"><tspan x="145.8" y="197.6">38</tspan><tspan class="d" x="165.4" y="190.0">° </tspan><tspan x="175.1" y="197.6">N</tspan></text>
<text class="t"><tspan x="145.8" y="214.3">36</tspan><tspan class="d" x="165.4" y="206.7">° </tspan><tspan x="175.1" y="214.3">N</tspan></text>
<text class="t"><tspan x="145.8" y="228.6">34</tspan><tspan class="d" x="165.4" y="221.0">° </tspan><tspan x="175.1" y="228.6">N</tspan></text>
<text class="t"><tspan x="145.8" y="245.6">32</tspan><tspan class="d" x="165.4" y="238.0">° </tspan><tspan x="175.1" y="245.6">N</tspan></text>
<text class="t"><tspan x="145.8" y="259.3">30</tspan><tspan class="d" x="165.4" y="251.7">° </tspan><tspan x="175.1" y="259.3">N</tspan></text>
<text class="t"><tspan x="145.8" y="272.7">28</tspan><tspan class="d" x="165.4" y="265.1">° </tspan><tspan x="175.1" y="272.7">N</tspan></text>
<text class="t"><tspan x="145.8" y="287.7">26</tspan><tspan class="d" x="165.4" y="280.1">° </tspan><tspan x="175.1" y="287.7">N</tspan></text>
<text class="t"><tspan x="145.8" y="301.8">24</tspan><tspan class="d" x="165.4" y="294.2">° </tspan><tspan x="175.1" y="301.8">N</tspan></text>
<text class="t"><tspan x="145.8" y="314.5">22</tspan><tspan class="d" x="165.4" y="306.9">° </tspan><tspan x="175.1" y="314.5">N</tspan></text>
<text class="w"><tspan x="215.4" y="77.0">100</tspan><tspan class="d" x="242.4" y="70.3">° </tspan><tspan x="252.9" y="77.0">W</tspan></text>
<text class="w"><tspan x="284.0" y="77.0">90</tspan><tspan class="d" x="302.4" y="70.3">° </tspan><tspan x="312.9" y="77.0">W</tspan></text>
<text class="w"><tspan x="348.5" y="77.0">80</tspan><tspan class="d" x="366.9" y="70.3">° </tspan><tspan x="377.4" y="77.0">W</tspan></text>
<text class="w"><tspan x="411.0" y="77.0">70</tspan><tspan class="d" x="429.4" y="70.3">° </tspan><tspan x="439.9" y="77.0">W</tspan></text>
<text class="l" x="140.4" y="341.2">SAT 150 hPa RH (Percent)</text>
</g>
<g>
<rect x="616.5" y="96.5" width="234" height="213" fill="#fff" stroke="#1a1a1a" stroke-width="1"/>
<g transform="translate(616.5 96.5) scale(1 1)">
<g fill="none" stroke-linecap="round">
<g stroke-width="5.8">
<path stroke="#0042ff" d="M217.1 122.2h0M230.6 124.3h0M206.8 124.2h0M210.2 124.6h0M193.7 126.1h0M170.3 126.3h0M173.4 126.5h0M176.8 127.1h0M180.3 127.5h0M183.2 127.5h0M156.0 130.9h0M152.5 133.4h0M161.6 137.9h0M168.1 142.1h0M171.0 142.6h0M233.3 151.1h0M141.1 142.0h0M151.4 143.4h0M173.9 146.2h0M177.3 147.0h0M233.0 154.7h0M180.3 150.7h0M179.6 153.8h0M192.6 155.8h0M196.1 156.2h0M225.6 160.2h0M182.4 157.6h0M186.0 158.2h0M189.3 158.2h0M221.7 163.0h0M234.0 125.5h0M234.0 151.9h0"/>
<path stroke="#0000c7" d="M150.8 73.5h0M154.0 73.7h0M157.2 74.3h0M160.5 74.5h0M163.7 75.1h0M167.1 75.9h0M170.5 76.1h0M173.5 76.3h0M176.5 76.6h0M180.1 77.3h0M183.3 78.0h0M186.6 78.3h0M189.7 78.4h0M193.0 78.9h0M196.4 79.9h0M199.8 79.8h0M203.2 80.6h0M143.7 75.6h0M146.8 76.4h0M150.0 76.7h0M153.7 76.9h0M156.6 77.8h0M160.0 78.1h0M163.0 78.3h0M166.4 79.0h0M169.6 79.6h0M172.8 79.9h0M176.1 80.0h0M179.8 80.4h0M182.7 81.2h0M186.1 81.2h0M143.0 78.8h0M146.3 79.3h0M149.8 79.9h0M152.9 80.5h0M156.1 81.1h0M159.8 81.4h0M162.8 81.7h0M166.2 81.9h0M142.5 82.1h0M146.3 83.0h0M149.4 83.0h0"/>
<path stroke="#0075ff" d="M222.8 129.9h0M226.0 130.2h0M219.1 132.8h0M209.0 134.5h0M218.6 135.9h0M222.3 136.4h0M225.1 136.9h0M175.9 133.4h0M185.7 134.5h0M212.0 138.1h0M215.3 138.4h0M218.5 139.0h0M181.8 137.4h0M218.1 142.5h0M181.3 140.9h0M220.7 146.2h0M145.0 139.2h0M148.5 139.5h0M187.6 145.3h0M220.1 149.6h0M196.8 149.4h0M206.4 154.1h0M209.2 157.6h0M218.8 159.0h0"/>
<path stroke="#0000e6" d="M216.4 105.5h0M219.5 106.0h0M223.0 106.2h0M226.1 106.7h0M229.1 107.4h0M232.5 107.5h0M196.1 106.4h0M199.3 106.5h0M203.0 107.1h0M205.7 107.7h0M209.2 108.2h0M212.6 108.6h0M216.0 108.8h0M219.3 109.0h0M222.2 109.9h0M225.3 110.3h0M176.4 106.9h0M179.4 107.1h0M182.6 107.7h0M185.9 108.0h0M189.0 108.7h0M192.7 109.2h0M195.8 109.2h0M198.9 110.1h0M202.5 110.4h0M205.6 110.9h0M159.4 107.8h0M162.8 108.3h0M165.6 108.5h0M168.8 109.2h0M172.5 109.4h0M175.5 110.1h0M179.2 110.8h0M182.4 111.0h0M185.5 111.2h0M188.8 111.6h0M142.7 108.9h0M146.0 109.2h0M148.8 110.0h0M152.1 110.2h0M155.4 110.7h0M158.8 110.9h0M161.9 111.5h0M165.6 111.8h0M168.5 112.5h0M139.0 111.6h0M141.9 112.2h0M145.6 112.4h0M148.8 113.2h0M138.5 114.8h0M234.0 106.3h0M234.0 108.7h0"/>
<path stroke="#00bdff" d="M197.8 143.1h0"/>
<path stroke="#004dff" d="M220.4 122.8h0M224.0 123.1h0M227.0 123.7h0M213.5 125.3h0M216.6 125.7h0M232.9 127.8h0M197.1 126.0h0M199.9 126.4h0M186.8 128.1h0M163.4 128.6h0M155.9 134.2h0M152.2 136.6h0M165.0 138.4h0M233.8 148.0h0M141.6 138.5h0M174.2 143.3h0M180.7 147.4h0M183.8 148.0h0M229.6 153.8h0M183.7 151.0h0M186.7 151.7h0M229.2 157.0h0M183.2 154.5h0M186.5 154.9h0M189.6 155.4h0M202.8 157.2h0M205.6 160.5h0M234.0 127.9h0M234.0 142.3h0M234.0 144.7h0M234.0 147.1h0M234.0 149.5h0"/>
<path stroke="#0005ff" d="M211.5 115.1h0M215.0 115.2h0M218.2 115.7h0M198.4 116.6h0M201.2 116.9h0M174.8 116.8h0M177.9 117.1h0M181.2 117.3h0M184.4 118.2h0M161.4 118.3h0M164.8 118.6h0M168.0 119.0h0M154.4 120.3h0M157.8 120.6h0M147.4 122.9h0M150.6 123.2h0M140.1 125.4h0M143.4 125.7h0M136.9 127.9h0M139.6 128.3h0M135.9 131.4h0M134.5 141.4h0M137.3 148.0h0M140.7 148.6h0M144.0 149.1h0M140.2 152.0h0M143.6 152.4h0M146.5 153.0h0M139.4 155.3h0M142.6 155.5h0M145.9 155.7h0M149.7 156.5h0M152.8 156.7h0M155.9 157.1h0M145.8 159.5h0M148.9 159.7h0M152.1 160.2h0M155.6 160.9h0M158.7 161.3h0M162.1 161.5h0M151.6 163.4h0M155.3 164.1h0M158.5 164.0h0M161.4 164.5h0M165.2 165.0h0M167.9 165.8h0M171.6 166.2h0M174.7 166.8h0M230.2 174.2h0M233.3 174.3h0M161.2 168.0h0M164.5 168.5h0M167.5 168.7h0M171.2 169.2h0M174.1 169.9h0M177.8 170.2h0M180.7 170.6h0M184.0 171.4h0M187.4 171.6h0M190.5 171.9h0M193.8 172.7h0M197.4 173.1h0M200.2 173.6h0M210.2 174.9h0M213.2 175.4h0M216.7 175.4h0M220.0 175.8h0M223.2 176.6h0M226.4 177.0h0M229.7 177.5h0M233.2 177.8h0M187.1 174.8h0M190.3 175.1h0M193.7 175.8h0M196.4 176.3h0M199.9 176.7h0M203.0 177.0h0M234.0 115.9h0M234.0 173.5h0M234.0 175.9h0"/>
<path stroke="#0019ff" d="M227.9 117.1h0M208.0 117.9h0M211.4 118.4h0M197.6 119.4h0M200.9 120.3h0M181.1 120.5h0M184.3 121.0h0M187.3 121.5h0M164.2 121.7h0M167.5 122.5h0M170.4 122.5h0M157.3 124.1h0M150.1 126.6h0M146.7 129.2h0M154.0 147.0h0M157.3 147.7h0M156.6 151.0h0M160.3 151.5h0M163.5 151.6h0M166.2 155.3h0M168.8 158.8h0M172.3 159.6h0M228.2 167.3h0M231.1 167.8h0M175.1 163.4h0M178.6 163.6h0M181.9 164.3h0M184.9 164.7h0M188.5 164.8h0M191.3 165.7h0M194.5 166.0h0M197.9 166.2h0M220.8 169.5h0M224.4 169.9h0M204.1 170.6h0M207.6 170.8h0M210.6 171.6h0M214.1 172.1h0M234.0 118.3h0M234.0 163.9h0M234.0 166.3h0"/>
<path stroke="#009eff" d="M202.2 137.1h0M205.0 140.6h0M204.4 143.8h0"/>
<path stroke="#00c7ff" d="M195.2 139.2h0M198.2 139.8h0"/>
<path stroke="#0061ff" d="M223.2 126.7h0M226.6 127.2h0M232.5 130.9h0M192.9 128.9h0M209.5 131.1h0M212.9 131.7h0M215.9 132.3h0M232.5 134.3h0M169.7 129.2h0M173.3 130.0h0M176.0 130.1h0M179.6 130.7h0M182.8 131.2h0M185.8 131.4h0M231.7 137.4h0M225.2 140.1h0M162.2 134.8h0M224.2 143.2h0M227.8 143.9h0M175.1 140.1h0M227.2 147.3h0M180.9 143.8h0M226.8 150.1h0M144.4 142.5h0M147.9 142.7h0M190.5 148.6h0M226.5 153.8h0M203.3 153.7h0M211.8 161.6h0M215.2 162.3h0M234.0 132.7h0M234.0 135.1h0"/>
<path stroke="#0000db" d="M220.6 99.4h0M223.8 99.7h0M226.9 100.6h0M230.1 101.0h0M233.5 101.2h0M196.8 99.8h0M200.4 99.9h0M203.5 100.4h0M206.8 100.9h0M210.1 101.6h0M213.6 101.9h0M216.6 102.2h0M220.1 103.0h0M223.0 103.3h0M226.6 103.7h0M229.5 104.1h0M232.8 104.3h0M180.1 100.7h0M183.6 101.0h0M186.6 101.6h0M190.3 101.9h0M193.4 102.6h0M196.8 103.0h0M199.8 103.2h0M203.3 103.7h0M206.1 104.5h0M209.5 104.6h0M212.8 105.0h0M160.4 101.4h0M163.6 101.9h0M166.6 101.9h0M170.0 102.4h0M173.1 103.0h0M176.6 103.6h0M179.9 104.2h0M182.8 104.4h0M186.1 105.0h0M189.6 105.1h0M192.8 105.8h0M140.1 101.9h0M143.3 102.6h0M146.4 102.8h0M149.9 103.2h0M153.5 103.7h0M156.5 104.1h0M159.7 104.9h0M163.2 105.1h0M166.1 105.5h0M169.3 105.8h0M172.5 106.5h0M139.6 104.9h0M142.9 105.4h0M146.5 106.0h0M149.6 106.7h0M152.6 107.2h0M155.9 107.2h0M139.2 108.2h0M234.0 99.1h0M234.0 101.5h0M234.0 103.9h0"/>
<path stroke="#0038ff" d="M224.0 120.0h0M213.8 121.8h0M233.9 124.4h0M200.8 123.4h0M203.9 124.1h0M187.2 125.0h0M190.3 125.2h0M166.6 125.3h0M159.7 127.8h0M153.2 130.2h0M149.1 133.4h0M142.3 135.6h0M155.1 137.4h0M158.6 137.6h0M154.6 140.5h0M164.5 141.7h0M170.7 146.3h0M173.6 149.7h0M177.0 150.2h0M232.5 157.8h0M176.2 153.2h0M199.3 156.5h0M228.6 160.7h0M179.4 157.3h0M192.3 158.9h0M195.6 159.7h0M202.3 160.4h0M225.1 163.1h0M208.1 164.6h0M211.3 164.8h0M214.9 165.6h0M234.0 123.1h0M234.0 154.3h0M234.0 156.7h0"/>
<path stroke="#0024ff" d="M214.2 118.8h0M218.0 119.2h0M204.4 120.4h0M191.0 122.2h0M193.9 122.3h0M174.1 123.0h0M176.9 123.6h0M160.5 124.4h0M153.6 126.8h0M142.8 132.4h0M138.9 135.1h0M157.9 141.2h0M157.8 144.4h0M161.1 144.5h0M140.9 145.5h0M151.0 146.7h0M160.8 147.9h0M163.9 148.3h0M166.9 148.6h0M166.7 151.9h0M169.7 152.6h0M169.3 155.7h0M231.3 164.3h0M175.8 160.0h0M178.6 160.4h0M192.1 162.5h0M195.2 162.5h0M198.6 162.9h0M221.5 166.0h0M224.5 166.4h0M201.0 166.7h0M204.5 167.3h0M208.0 167.8h0M210.9 168.2h0M214.6 168.4h0M217.7 168.9h0M234.0 120.7h0M234.0 161.5h0"/>
<path stroke="#0080ff" d="M222.5 133.0h0M225.9 133.6h0M192.4 132.4h0M202.3 133.8h0M205.8 134.2h0M166.0 132.1h0M172.6 133.0h0M208.5 137.9h0M185.5 137.7h0M211.1 141.5h0M214.6 141.8h0M184.7 141.4h0M214.1 145.0h0M217.3 145.4h0M190.7 145.5h0M217.1 148.9h0M200.3 149.7h0M203.4 150.4h0M207.0 150.7h0M219.7 152.5h0M209.6 154.5h0M212.6 158.6h0"/>
<path stroke="#0000fa" d="M225.3 113.4h0M228.4 114.1h0M231.8 114.4h0M204.9 114.3h0M208.6 114.3h0M184.8 114.8h0M188.3 115.4h0M191.8 115.8h0M194.9 115.9h0M164.9 115.2h0M168.0 115.6h0M171.4 116.1h0M151.5 117.0h0M154.7 117.1h0M158.3 117.8h0M144.2 119.0h0M147.6 119.5h0M150.8 120.2h0M141.0 122.2h0M144.2 122.2h0M137.2 125.1h0M134.4 144.7h0M134.0 147.6h0M133.5 151.0h0M136.5 151.4h0M132.9 154.1h0M136.6 154.6h0M132.8 157.4h0M135.7 157.7h0M139.3 158.7h0M142.4 158.6h0M132.1 160.8h0M135.5 161.1h0M138.9 161.9h0M141.8 162.1h0M145.5 162.6h0M148.2 163.2h0M135.3 164.8h0M138.0 164.8h0M141.3 165.6h0M144.6 166.0h0M147.9 166.1h0M151.2 167.0h0M154.5 167.0h0M158.1 167.5h0M141.0 168.9h0M144.3 169.1h0M147.6 169.5h0M150.6 170.1h0M154.2 170.3h0M157.6 170.6h0M160.9 171.3h0M164.2 171.8h0M167.0 172.2h0M170.4 172.7h0M173.5 173.2h0M177.2 173.6h0M180.2 174.1h0M183.5 174.7h0M206.8 177.5h0M209.8 178.1h0M212.8 178.2h0M216.2 178.7h0M219.6 179.3h0M222.6 179.6h0M226.3 180.3h0M229.5 180.3h0M232.8 180.8h0M143.6 172.5h0M146.9 172.9h0M150.7 173.3h0M153.4 173.6h0M157.0 174.4h0M160.2 174.4h0M163.7 175.2h0M167.1 175.5h0M170.2 176.1h0M173.2 176.1h0M176.8 176.9h0M180.1 177.4h0M182.9 177.5h0M186.6 178.2h0M189.9 178.8h0M192.7 178.9h0M196.0 179.3h0M199.4 180.1h0M202.6 180.3h0M206.0 181.0h0M209.4 181.2h0M212.3 181.5h0M215.6 182.4h0M219.0 182.4h0M222.1 182.8h0M225.7 183.4h0M229.0 184.0h0M232.0 184.4h0M156.4 177.3h0M159.9 177.8h0M162.8 178.2h0M166.2 179.0h0M169.4 179.3h0M173.1 179.9h0M176.3 180.2h0M179.5 180.7h0M182.9 181.0h0M186.3 181.4h0M189.2 181.7h0M192.6 182.3h0M195.7 182.7h0M199.0 183.4h0M202.1 183.3h0M205.6 184.1h0M208.6 184.5h0M211.9 184.7h0M215.6 185.1h0M218.5 185.8h0M222.2 186.4h0M225.2 186.7h0M228.7 187.2h0M231.9 187.5h0M166.2 182.0h0M169.1 182.2h0M172.3 182.9h0M175.6 183.3h0M179.1 183.8h0M182.0 184.0h0M185.8 184.5h0M188.8 185.2h0M192.4 185.6h0M195.5 186.1h0M198.8 186.4h0M201.7 186.9h0M205.2 187.1h0M208.5 187.7h0M211.6 188.2h0M214.9 188.6h0M218.5 189.0h0M221.5 189.2h0M224.7 190.2h0M228.1 190.5h0M231.6 191.0h0M171.9 186.4h0M175.0 186.8h0M178.8 186.9h0M181.9 187.3h0M185.0 188.2h0M188.1 188.2h0M191.4 188.6h0M194.7 189.5h0M198.2 189.7h0M201.6 190.2h0M205.0 190.5h0M208.0 191.3h0M211.2 191.7h0M214.5 191.9h0M217.7 192.1h0M221.0 192.9h0M224.6 193.3h0M227.4 193.7h0M231.0 194.2h0M234.0 194.3h0M174.7 189.9h0M178.0 190.2h0M181.4 190.8h0M184.7 191.1h0M188.0 191.9h0M191.1 192.2h0M194.4 192.7h0M197.7 193.2h0M201.3 193.5h0M204.4 193.6h0M207.7 194.4h0M210.6 194.9h0M214.3 195.4h0M217.3 195.4h0M220.5 195.8h0M223.9 196.8h0M227.1 197.0h0M230.2 197.6h0M233.6 197.7h0M177.7 193.4h0M180.7 193.8h0M184.4 194.7h0M187.4 194.9h0M190.8 195.2h0M193.9 195.7h0M197.2 196.4h0M200.6 196.5h0M203.6 197.3h0M207.1 197.8h0M210.5 198.1h0M213.5 198.5h0M216.9 199.0h0M220.0 199.6h0M223.7 200.1h0M226.7 200.0h0M230.0 200.8h0M233.4 200.8h0M183.5 197.8h0M186.8 198.2h0M190.4 198.7h0M193.5 198.9h0M196.6 199.4h0M200.0 199.8h0M203.2 200.2h0M206.6 200.6h0M210.1 201.2h0M213.4 201.8h0M216.6 202.3h0M219.7 202.7h0M222.7 203.3h0M226.4 203.7h0M229.5 203.7h0M233.0 204.2h0M190.1 201.7h0M193.2 202.1h0M196.5 203.1h0M199.8 203.3h0M203.1 203.9h0M206.2 204.3h0M209.6 204.7h0M212.6 205.2h0M216.3 205.2h0M219.3 206.0h0M222.8 206.5h0M225.7 206.7h0M229.3 207.5h0M232.2 207.4h0M202.7 207.0h0M205.6 207.7h0M208.8 207.6h0M212.1 208.4h0M215.6 209.0h0M218.7 208.9h0M221.8 209.5h0M225.6 209.9h0M228.7 210.4h0M231.8 211.1h0M221.6 212.6h0M234.0 113.5h0M234.0 178.3h0M234.0 180.7h0M234.0 183.1h0M234.0 185.5h0M234.0 187.9h0M234.0 190.3h0M234.0 192.7h0M234.0 195.1h0M234.0 197.5h0M234.0 199.9h0M234.0 202.3h0M234.0 204.7h0M234.0 207.1h0M234.0 209.5h0M234.0 211.9h0M221.1 213.0h0M223.5 213.0h0M225.9 213.0h0M228.3 213.0h0M230.7 213.0h0M233.1 213.0h0"/>
<path stroke="#002eff" d="M221.0 119.4h0M227.8 120.2h0M231.0 121.1h0M234.0 121.5h0M207.2 121.2h0M210.7 121.4h0M196.9 122.9h0M180.2 123.9h0M183.6 124.2h0M163.7 124.8h0M156.5 127.2h0M149.9 129.8h0M146.2 132.6h0M138.8 138.2h0M161.3 141.2h0M138.0 141.4h0M154.6 143.7h0M164.5 145.1h0M167.3 145.8h0M144.0 145.5h0M147.3 146.3h0M170.3 149.4h0M173.3 152.9h0M232.0 160.9h0M173.0 156.6h0M175.8 156.9h0M199.2 160.0h0M228.5 163.7h0M181.9 160.6h0M185.3 161.5h0M188.4 162.1h0M201.7 163.7h0M205.0 164.1h0M217.8 165.6h0M234.0 159.1h0"/>
<path stroke="#00b2ff" d="M191.6 139.0h0M201.5 140.3h0M194.4 142.7h0"/>
<path stroke="#0000f0" d="M229.2 110.7h0M232.3 110.8h0M208.6 111.3h0M212.0 111.9h0M215.3 112.2h0M218.6 112.6h0M221.9 113.3h0M191.9 112.5h0M195.3 112.9h0M198.5 113.0h0M201.8 113.6h0M172.0 113.1h0M175.3 113.5h0M178.3 114.0h0M181.5 114.0h0M151.7 113.6h0M155.2 114.1h0M158.4 114.3h0M161.7 114.7h0M141.6 115.6h0M145.0 115.7h0M148.3 116.1h0M138.1 118.5h0M141.3 118.8h0M137.6 121.4h0M132.0 164.3h0M131.3 167.5h0M134.3 167.6h0M137.6 168.1h0M130.8 170.3h0M134.1 171.3h0M137.2 171.5h0M140.7 172.2h0M130.4 174.1h0M133.9 174.4h0M137.1 174.7h0M140.4 175.3h0M143.7 175.9h0M146.8 176.3h0M149.7 176.8h0M153.3 177.0h0M130.2 177.0h0M133.3 177.6h0M136.3 178.0h0M139.5 178.4h0M142.8 178.7h0M146.3 179.3h0M149.4 179.6h0M152.7 180.5h0M156.4 180.6h0M159.1 181.1h0M162.9 181.4h0M129.5 180.1h0M132.8 181.0h0M136.1 181.1h0M139.3 181.5h0M142.4 182.1h0M145.8 182.6h0M149.0 183.3h0M152.2 183.3h0M155.8 183.8h0M159.2 184.6h0M162.2 184.9h0M165.4 185.4h0M169.0 185.8h0M129.0 183.5h0M132.0 184.3h0M135.7 184.4h0M139.1 185.2h0M142.3 185.5h0M145.3 186.0h0M148.5 186.4h0M152.1 186.8h0M155.4 187.4h0M158.5 187.6h0M161.6 188.1h0M164.8 188.8h0M168.2 188.7h0M171.4 189.3h0M128.4 186.8h0M132.0 187.5h0M135.1 188.0h0M138.4 188.1h0M141.7 188.6h0M145.1 189.4h0M148.4 189.7h0M151.3 190.3h0M155.0 190.7h0M158.2 190.7h0M161.2 191.4h0M164.7 191.6h0M168.1 192.3h0M171.3 192.9h0M174.3 193.0h0M128.4 190.4h0M131.4 190.6h0M134.8 191.2h0M138.1 191.5h0M141.4 191.8h0M144.7 192.4h0M147.8 192.6h0M151.3 193.4h0M154.4 193.7h0M157.4 194.2h0M160.9 194.5h0M164.3 194.8h0M167.6 195.8h0M170.5 196.2h0M174.2 196.3h0M177.2 197.1h0M180.2 197.5h0M127.5 193.5h0M131.1 194.1h0M134.3 194.5h0M137.3 194.7h0M141.0 195.0h0M144.1 196.0h0M147.6 196.0h0M150.9 196.6h0M153.7 197.2h0M157.2 197.8h0M160.2 198.1h0M163.6 198.1h0M166.8 199.0h0M170.5 199.4h0M173.6 199.6h0M176.7 200.1h0M179.8 200.4h0M183.2 201.3h0M186.9 201.3h0M127.5 196.7h0M130.4 197.0h0M133.8 197.4h0M137.2 198.0h0M140.5 198.5h0M143.4 199.3h0M147.1 199.5h0M150.0 200.0h0M153.5 200.4h0M156.5 200.8h0M160.3 201.4h0M163.4 201.5h0M166.6 202.2h0M169.7 202.8h0M173.0 202.7h0M176.3 203.6h0M179.7 203.7h0M182.8 204.5h0M186.4 204.7h0M189.4 205.0h0M192.8 205.8h0M195.9 206.2h0M199.2 206.6h0M126.8 199.9h0M129.9 200.2h0M133.6 201.1h0M136.9 201.3h0M140.1 201.9h0M143.1 202.2h0M146.2 202.9h0M149.9 202.9h0M153.1 203.7h0M156.0 204.3h0M159.9 204.5h0M162.8 204.6h0M166.3 205.5h0M169.2 205.5h0M172.6 206.4h0M175.8 206.7h0M179.3 206.9h0M182.5 207.3h0M185.9 208.0h0M189.2 208.4h0M192.2 208.8h0M195.5 209.5h0M198.7 209.5h0M202.2 210.0h0M205.1 210.6h0M208.6 210.9h0M212.1 211.4h0M215.4 211.8h0M218.1 212.6h0M126.3 203.2h0M129.8 204.0h0M133.0 203.9h0M136.2 204.6h0M139.3 205.2h0M142.8 205.5h0M146.1 205.7h0M149.6 206.3h0M152.5 207.1h0M155.9 207.6h0M159.3 207.9h0M162.7 208.3h0M165.4 208.6h0M168.9 209.1h0M172.5 209.8h0M175.6 210.1h0M178.4 210.4h0M182.0 210.7h0M185.5 211.0h0M188.8 212.0h0M191.7 211.9h0M195.0 212.4h0M198.6 213.1h0M125.8 206.4h0M129.5 207.0h0M132.6 207.5h0M135.8 207.6h0M138.8 208.1h0M142.5 208.5h0M145.5 209.0h0M148.9 209.8h0M152.3 210.3h0M155.6 210.4h0M158.6 211.3h0M161.9 211.6h0M165.2 211.8h0M168.7 212.1h0M171.8 212.9h0M175.2 212.9h0M125.6 210.1h0M129.0 210.1h0M132.2 210.6h0M135.4 210.9h0M138.8 211.6h0M142.0 212.3h0M144.9 212.7h0M148.7 212.8h0M234.0 111.1h0M125.1 213.0h0M127.5 213.0h0M129.9 213.0h0M132.3 213.0h0M134.7 213.0h0M137.1 213.0h0M139.5 213.0h0M141.9 213.0h0M144.3 213.0h0M146.7 213.0h0M149.1 213.0h0M151.5 213.0h0M153.9 213.0h0M156.3 213.0h0M158.7 213.0h0M161.1 213.0h0M163.5 213.0h0M165.9 213.0h0M168.3 213.0h0M170.7 213.0h0M173.1 213.0h0M175.5 213.0h0M177.9 213.0h0M180.3 213.0h0M182.7 213.0h0M185.1 213.0h0M187.5 213.0h0M189.9 213.0h0M192.3 213.0h0M194.7 213.0h0M197.1 213.0h0M199.5 213.0h0M201.9 213.0h0M204.3 213.0h0M206.7 213.0h0M209.1 213.0h0M211.5 213.0h0M213.9 213.0h0M216.3 213.0h0M218.7 213.0h0"/>
<path stroke="#008aff" d="M195.7 132.8h0M198.9 133.0h0M169.4 132.4h0M188.8 135.3h0M208.4 141.1h0M207.5 144.6h0M210.8 144.7h0M194.1 145.9h0M207.1 147.6h0M210.5 148.2h0M213.5 148.4h0M210.0 151.5h0M216.4 152.2h0M219.3 156.0h0M215.6 158.7h0"/>
<path stroke="#0000d1" d="M206.4 81.1h0M209.7 81.5h0M212.7 82.1h0M216.3 82.0h0M219.5 82.8h0M222.6 83.1h0M225.9 83.8h0M229.1 84.2h0M232.3 84.7h0M189.7 81.8h0M192.4 82.3h0M196.1 83.0h0M199.0 83.2h0M202.2 83.7h0M206.0 84.3h0M209.3 84.8h0M212.6 85.2h0M215.6 85.3h0M219.0 85.8h0M221.9 86.4h0M225.6 86.6h0M228.7 87.2h0M232.0 87.5h0M169.3 82.6h0M172.5 82.8h0M176.1 83.4h0M179.2 84.2h0M182.5 84.2h0M186.0 84.7h0M188.7 85.3h0M192.0 85.6h0M195.7 86.2h0M198.5 86.5h0M202.0 87.0h0M205.2 87.5h0M208.4 87.8h0M211.8 88.6h0M214.9 88.9h0M218.2 89.3h0M221.6 89.6h0M225.1 90.0h0M228.0 90.3h0M231.3 91.2h0M152.5 83.5h0M156.0 84.2h0M159.1 84.5h0M162.2 85.0h0M165.9 85.6h0M168.7 85.9h0M172.3 86.1h0M175.7 86.7h0M178.9 87.1h0M182.3 87.8h0M185.3 87.8h0M188.5 88.2h0M191.9 89.2h0M194.9 89.4h0M198.4 89.8h0M201.8 90.5h0M205.0 90.7h0M208.5 91.1h0M211.6 91.7h0M214.9 92.2h0M217.8 92.6h0M221.2 93.0h0M224.8 93.4h0M227.5 93.8h0M231.2 94.5h0M142.2 85.4h0M145.6 85.7h0M148.6 86.6h0M151.9 87.1h0M155.6 87.3h0M158.8 88.0h0M162.2 88.0h0M165.0 88.6h0M168.5 89.0h0M171.5 89.6h0M175.3 89.9h0M178.3 90.4h0M181.5 91.1h0M184.7 91.4h0M188.1 91.8h0M191.6 92.0h0M194.8 92.5h0M198.0 93.3h0M201.3 93.5h0M204.7 93.7h0M207.8 94.4h0M211.0 95.1h0M214.5 95.4h0M217.4 95.6h0M220.8 96.0h0M224.0 96.9h0M227.1 97.3h0M230.6 97.4h0M233.8 97.7h0M142.1 89.1h0M145.3 89.6h0M148.3 89.8h0M151.8 90.1h0M154.9 90.4h0M158.5 91.0h0M161.5 91.7h0M164.6 92.2h0M167.8 92.1h0M171.2 92.7h0M174.8 93.5h0M178.0 93.7h0M181.2 94.0h0M184.6 94.5h0M187.5 95.1h0M190.7 95.4h0M194.5 95.7h0M197.3 96.2h0M200.6 96.8h0M203.9 97.2h0M207.1 97.5h0M210.6 98.0h0M213.8 98.7h0M216.8 98.8h0M141.5 91.9h0M145.0 92.7h0M147.7 93.2h0M151.1 93.4h0M154.6 93.7h0M157.8 94.1h0M160.9 95.0h0M164.5 95.2h0M167.7 95.9h0M170.7 96.1h0M173.9 96.3h0M177.2 96.8h0M180.4 97.3h0M183.9 97.9h0M187.4 98.6h0M190.6 98.8h0M194.0 99.0h0M141.1 95.4h0M144.4 95.6h0M147.7 96.1h0M151.1 96.5h0M154.0 97.2h0M157.3 97.6h0M160.9 97.9h0M164.1 98.6h0M167.3 98.9h0M170.4 99.3h0M173.7 99.7h0M176.8 100.2h0M140.6 98.9h0M143.6 99.4h0M147.2 99.3h0M150.5 99.9h0M153.7 100.2h0M156.9 100.9h0M234.0 84.7h0M234.0 87.1h0M234.0 89.5h0M234.0 91.9h0M234.0 94.3h0M234.0 96.7h0"/>
<path stroke="#00a8ff" d="M195.4 136.0h0M198.9 136.4h0M191.2 142.0h0M201.3 143.2h0"/>
<path stroke="#006bff" d="M219.7 129.4h0M229.5 130.7h0M196.3 129.7h0M199.8 130.3h0M202.7 130.5h0M206.4 130.8h0M229.2 134.2h0M189.5 131.7h0M212.5 135.1h0M215.6 135.2h0M228.4 137.3h0M162.9 131.5h0M179.1 133.8h0M182.3 134.6h0M221.3 139.8h0M165.5 135.2h0M169.1 135.9h0M171.8 136.0h0M175.2 137.0h0M178.6 137.3h0M221.2 142.7h0M178.3 140.2h0M224.3 146.8h0M184.4 144.4h0M223.8 149.9h0M193.7 148.9h0M222.9 153.3h0M222.4 156.5h0"/>
<path stroke="#0094ff" d="M192.3 135.4h0M205.0 137.4h0M188.5 138.5h0M187.9 141.8h0M197.3 146.4h0M200.7 146.5h0M204.1 147.0h0M213.2 152.1h0M212.7 155.3h0M216.2 155.4h0"/>
<path stroke="#000fff" d="M221.7 116.3h0M224.7 116.5h0M231.2 117.4h0M204.4 117.0h0M188.1 118.6h0M190.9 118.6h0M194.2 119.1h0M170.9 119.3h0M174.2 119.6h0M177.7 120.3h0M161.1 121.4h0M154.0 123.9h0M146.7 125.9h0M143.2 128.8h0M139.6 131.7h0M135.9 134.9h0M135.3 137.7h0M137.5 145.1h0M147.1 149.3h0M150.5 150.2h0M153.3 150.4h0M150.1 153.5h0M152.9 153.7h0M156.2 153.9h0M159.8 154.7h0M163.0 154.9h0M159.4 157.5h0M162.7 158.5h0M165.6 158.6h0M165.5 161.8h0M168.6 162.6h0M172.0 163.0h0M227.3 170.4h0M230.4 170.9h0M234.0 171.1h0M178.0 166.7h0M181.4 167.1h0M184.8 167.9h0M187.8 168.2h0M191.2 168.7h0M194.3 168.9h0M197.7 169.8h0M200.9 170.3h0M217.3 172.4h0M220.5 172.6h0M223.9 173.4h0M226.8 173.5h0M203.5 173.7h0M206.9 174.0h0M234.0 168.7h0M234.0 171.1h0"/>
<path stroke="#0057ff" d="M220.0 126.2h0M230.2 127.4h0M203.3 127.2h0M206.6 127.5h0M210.1 128.1h0M213.4 128.4h0M216.5 128.7h0M189.9 128.8h0M166.3 128.8h0M159.4 131.5h0M228.3 140.4h0M231.3 141.0h0M159.3 134.4h0M231.1 143.9h0M145.6 135.9h0M149.0 136.1h0M168.5 138.9h0M171.6 139.5h0M230.3 147.2h0M151.5 140.3h0M177.9 143.7h0M230.1 150.9h0M187.1 148.0h0M189.8 152.1h0M193.1 152.2h0M196.5 152.9h0M199.7 153.2h0M226.2 156.9h0M205.7 157.7h0M222.2 159.6h0M208.8 161.4h0M218.5 162.3h0M234.0 130.3h0M234.0 137.5h0M234.0 139.9h0"/>
</g>
<g stroke-width="3.8">
<path stroke="#0005ff" d="M227.1 114.9h0M232.7 116.1h0M201.1 116.4h0M185.9 117.3h0M169.3 118.6h0M147.8 123.3h0M135.8 129.1h0M139.6 147.7h0M147.2 150.9h0M143.0 156.1h0M155.7 161.0h0M150.0 162.3h0M222.5 175.0h0M226.7 175.2h0M161.8 169.5h0M168.2 169.7h0M200.8 175.1h0"/>
<path stroke="#0000fa" d="M220.1 114.3h0M175.3 115.7h0M156.5 116.3h0M158.6 116.8h0M158.6 118.4h0M143.4 120.2h0M147.9 119.8h0M142.8 122.0h0M144.7 123.2h0M134.1 149.9h0M136.1 150.1h0M140.9 158.6h0M139.3 160.8h0M144.9 166.9h0M165.0 172.1h0M167.3 173.2h0M172.9 173.9h0M208.1 177.6h0M216.8 179.1h0M138.3 171.0h0M161.8 174.8h0M174.3 176.6h0M179.3 177.3h0M187.7 178.0h0M192.2 178.1h0M225.9 183.8h0M231.0 183.6h0M186.9 180.2h0M191.9 180.7h0M205.2 183.6h0M218.2 185.1h0M225.8 186.0h0M234.1 187.5h0M165.7 179.8h0M191.9 183.6h0M199.7 185.3h0M206.9 185.8h0M230.3 188.5h0M184.1 185.4h0M222.5 190.5h0M175.6 186.6h0M183.9 188.4h0M199.2 190.0h0M217.1 192.7h0M225.0 193.7h0M226.8 194.0h0M167.1 188.3h0M169.8 188.4h0M180.8 190.1h0M185.7 191.1h0M190.3 192.0h0M222.2 195.6h0M235.0 197.6h0M208.3 196.1h0M216.0 197.7h0M221.9 198.0h0M223.8 199.4h0M200.5 197.9h0M210.8 199.9h0M213.5 199.6h0M216.1 201.0h0M223.8 201.9h0M211.2 202.1h0M216.3 202.7h0M218.7 203.7h0M220.7 204.2h0M226.2 204.6h0M184.5 201.9h0M220.4 205.7h0M189.5 204.6h0M226.0 209.0h0M229.9 209.7h0M179.0 205.6h0M181.3 205.8h0M202.3 208.4h0M219.8 211.3h0M227.0 212.4h0"/>
<path stroke="#009eff" d="M190.7 138.7h0"/>
<path stroke="#0000c7" d="M162.0 75.5h0M170.2 75.8h0M172.1 76.2h0M187.3 81.2h0M195.4 82.1h0M203.3 82.6h0M219.0 85.5h0M143.9 77.2h0M148.1 78.0h0"/>
<path stroke="#00c7ff" d="M195.6 141.7h0"/>
<path stroke="#0019ff" d="M221.7 117.0h0M232.7 117.9h0M208.3 118.3h0M200.6 119.9h0M174.8 121.7h0M176.9 121.6h0M164.3 151.3h0M169.1 157.2h0M171.0 160.6h0M229.0 167.8h0M231.3 167.7h0M184.2 165.0h0M191.9 165.3h0M200.2 167.2h0M223.0 169.2h0M224.7 169.6h0M193.7 168.4h0M197.3 168.3h0M199.9 169.5h0"/>
<path stroke="#0075ff" d="M222.5 130.3h0M191.5 131.8h0M217.1 135.2h0M221.3 138.0h0M175.1 133.8h0M192.3 147.5h0M203.7 150.8h0"/>
<path stroke="#00bdff" d="M192.6 139.4h0"/>
<path stroke="#00d1ff" d="M197.1 142.3h0"/>
<path stroke="#006bff" d="M230.9 131.5h0M194.4 129.2h0M175.2 131.5h0M220.9 140.4h0M175.3 137.6h0M225.6 152.3h0"/>
<path stroke="#0024ff" d="M229.6 118.6h0M206.2 120.7h0M171.4 123.0h0M151.7 128.7h0M141.3 133.1h0M156.1 142.0h0M157.8 142.3h0M234.0 160.6h0M171.8 154.8h0M188.7 164.6h0M215.2 168.4h0"/>
<path stroke="#0000d1" d="M193.1 79.2h0M215.7 82.6h0M234.3 85.3h0M164.4 78.3h0M228.5 87.1h0M145.7 77.9h0M160.7 79.5h0M196.9 84.7h0M200.1 85.2h0M181.5 85.5h0M199.3 88.6h0M202.8 88.3h0M207.0 88.7h0M220.3 90.2h0M225.8 91.0h0M153.5 84.4h0M157.5 84.9h0M166.2 86.0h0M191.3 89.7h0M196.5 89.5h0M204.2 90.9h0M219.5 93.9h0M225.2 93.7h0M232.5 94.5h0M144.5 86.2h0M152.5 86.4h0M201.8 93.1h0M206.4 94.6h0M211.6 94.2h0M142.6 87.4h0M152.7 89.7h0M156.9 90.6h0M160.0 90.6h0M162.8 90.9h0M168.5 91.2h0M177.7 92.3h0M181.3 93.6h0M186.1 94.1h0M206.4 97.0h0M216.8 97.9h0M177.3 95.2h0M181.0 95.5h0M185.7 95.8h0M146.0 93.2h0M162.5 96.6h0M164.4 96.3h0M177.9 97.4h0M187.2 99.4h0M150.6 97.6h0M154.5 97.9h0M143.8 99.1h0M156.5 100.4h0M161.6 100.4h0"/>
<path stroke="#002eff" d="M219.6 119.8h0M221.3 119.9h0M155.8 127.0h0M170.9 147.5h0M195.7 160.8h0"/>
<path stroke="#004dff" d="M224.0 122.6h0M213.5 126.2h0M181.2 127.8h0M162.0 137.3h0M172.2 141.2h0M173.8 142.3h0M173.7 144.5h0M176.2 144.9h0M185.3 154.1h0M187.7 154.7h0M210.4 162.2h0"/>
<path stroke="#0038ff" d="M213.0 121.9h0M197.5 124.0h0M146.5 133.2h0M179.9 158.0h0M220.7 164.7h0"/>
<path stroke="#0042ff" d="M233.4 126.8h0M166.7 141.4h0M178.2 151.1h0M200.3 155.9h0M218.3 164.4h0"/>
<path stroke="#0094ff" d="M187.8 139.4h0M191.8 144.7h0M202.3 146.4h0M214.7 152.2h0M216.6 156.4h0"/>
<path stroke="#000fff" d="M219.0 116.2h0M190.4 118.1h0M192.5 119.1h0M187.2 119.8h0M150.2 123.8h0M153.1 124.0h0M142.3 129.7h0M135.8 134.0h0M147.0 148.9h0M149.4 149.0h0M149.5 151.6h0M162.0 156.3h0M166.2 156.9h0M164.4 158.7h0M165.4 162.4h0M168.7 163.0h0M171.8 163.1h0M183.6 169.0h0M209.6 172.5h0M219.4 173.9h0"/>
<path stroke="#0000db" d="M199.0 95.9h0M227.2 99.0h0M221.1 100.9h0M231.5 102.0h0M220.5 104.4h0M224.2 104.3h0M226.5 104.0h0M185.3 101.9h0M190.6 101.7h0M195.7 103.2h0M203.2 103.8h0M204.8 104.8h0M216.0 105.8h0M173.9 103.4h0M176.2 103.6h0M184.1 104.7h0M202.1 106.6h0M148.3 101.8h0M155.0 105.7h0M139.8 106.4h0M149.9 107.6h0"/>
<path stroke="#0000f0" d="M217.7 110.8h0M232.5 113.0h0M210.0 112.4h0M214.2 112.9h0M188.8 112.0h0M170.8 112.9h0M178.1 114.1h0M146.7 114.6h0M140.9 119.9h0M138.1 121.3h0M133.3 172.9h0M137.6 173.9h0M156.5 178.7h0M169.1 180.9h0M132.5 178.0h0M137.8 179.8h0M153.0 181.6h0M128.8 180.6h0M134.4 181.9h0M139.1 185.2h0M152.7 187.0h0M162.3 187.2h0M128.9 186.1h0M136.0 187.3h0M149.9 188.6h0M164.7 190.9h0M133.7 188.9h0M135.8 188.9h0M141.0 190.3h0M169.2 193.9h0M174.3 194.6h0M141.2 193.3h0M142.9 193.3h0M146.3 193.9h0M171.9 197.2h0M195.6 200.6h0M136.0 194.2h0M143.0 196.1h0M158.9 197.3h0M169.0 199.4h0M171.0 200.1h0M130.6 196.5h0M151.2 199.6h0M165.3 201.4h0M126.8 198.3h0M140.5 200.2h0M141.9 200.6h0M147.2 201.0h0M155.2 201.9h0M198.7 208.1h0M203.9 209.1h0M144.2 204.1h0M171.1 207.2h0M128.2 204.0h0M156.7 207.9h0M162.0 208.7h0M175.4 210.0h0M187.9 211.6h0M190.9 213.1h0M128.5 206.9h0M147.0 209.3h0M164.9 211.4h0M173.0 212.9h0M126.0 209.3h0M130.3 209.5h0M137.9 211.3h0M148.8 212.6h0M150.8 212.8h0M158.9 213.6h0M125.9 211.3h0M138.5 213.8h0"/>
<path stroke="#0000e6" d="M229.0 105.2h0M207.3 105.3h0M196.9 105.4h0M199.3 106.1h0M222.7 109.0h0M189.5 108.1h0M201.5 109.0h0M181.3 109.0h0M183.2 108.9h0M186.7 109.3h0M193.9 110.5h0M152.6 108.2h0M157.1 108.8h0M163.1 109.4h0M191.0 112.3h0M144.1 109.6h0M146.8 109.8h0"/>
<path stroke="#00a8ff" d="M198.5 137.8h0"/>
<path stroke="#0057ff" d="M209.6 128.0h0M214.8 132.0h0M234.6 136.8h0M229.6 141.3h0M167.3 138.2h0M142.2 141.1h0M150.8 141.5h0M183.4 145.7h0"/>
<path stroke="#0080ff" d="M213.5 144.1h0M217.9 146.1h0M217.9 147.5h0"/>
<path stroke="#0061ff" d="M223.1 125.8h0M218.7 127.4h0M199.3 129.4h0M176.4 129.6h0M162.4 130.7h0M226.5 138.2h0M224.1 140.8h0M164.7 135.6h0M168.9 136.4h0M188.2 149.4h0M206.1 157.2h0"/>
<path stroke="#0000fa" d="M217.0 114.2h0M188.5 115.0h0M170.2 115.5h0M180.1 116.5h0M161.9 116.2h0M155.7 118.7h0M150.2 120.1h0M140.6 121.9h0M136.7 126.6h0M133.2 151.7h0M134.9 158.0h0M134.5 163.2h0M140.3 163.4h0M144.9 164.4h0M150.1 164.9h0M154.7 166.3h0M146.7 167.7h0M149.1 167.8h0M232.5 179.2h0M160.0 171.5h0M162.1 171.8h0M180.3 174.3h0M231.1 181.6h0M148.3 173.1h0M154.0 173.3h0M167.0 175.8h0M198.3 179.5h0M200.7 179.8h0M203.5 180.8h0M210.1 180.9h0M212.9 182.3h0M166.6 178.1h0M172.4 178.6h0M203.1 183.0h0M210.3 183.7h0M221.0 185.4h0M231.3 186.8h0M193.9 184.3h0M202.2 185.2h0M209.9 186.1h0M212.1 186.4h0M232.9 190.0h0M148.1 180.8h0M169.0 183.6h0M181.1 184.7h0M194.3 187.0h0M207.4 188.7h0M209.9 189.0h0M212.3 188.7h0M219.9 189.8h0M230.9 191.9h0M232.3 192.4h0M234.9 192.8h0M171.4 186.1h0M180.6 187.3h0M188.6 188.9h0M221.8 193.7h0M232.1 195.1h0M234.8 194.5h0M188.9 190.7h0M219.0 195.1h0M167.9 190.8h0M198.7 195.0h0M227.2 198.6h0M187.5 199.6h0M233.1 205.3h0M199.7 202.9h0M202.4 203.4h0M217.8 205.1h0M222.6 206.7h0M174.2 203.0h0M194.6 205.6h0M196.9 206.1h0M204.3 207.3h0M215.2 208.2h0M206.7 212.8h0M209.2 211.9h0"/>
<path stroke="#008aff" d="M201.0 133.3h0M187.3 136.4h0M201.9 148.7h0M210.9 157.2h0"/>
<path stroke="#0061ff" d="M232.6 131.7h0M207.6 130.5h0M228.2 146.2h0M228.3 152.2h0M144.9 142.8h0M191.9 149.1h0"/>
<path stroke="#0000e6" d="M234.2 105.4h0M220.7 106.1h0M223.9 106.7h0M231.1 108.4h0M209.8 107.8h0M213.2 107.8h0M218.3 108.8h0M184.0 106.4h0M195.1 108.6h0M204.5 110.0h0M215.4 111.0h0M163.0 107.1h0M171.3 106.9h0M176.4 108.7h0M179.0 108.7h0M188.6 110.1h0M198.9 111.0h0M165.5 109.3h0M178.2 110.8h0M181.2 111.1h0M184.0 111.4h0M159.3 110.9h0M139.3 111.5h0M141.1 113.6h0"/>
<path stroke="#0005ff" d="M211.8 116.0h0M198.3 116.0h0M187.7 117.7h0M164.4 119.3h0M153.5 121.3h0M134.5 142.1h0M141.1 151.4h0M144.2 154.0h0M146.0 154.1h0M151.4 155.4h0M138.2 155.2h0M148.0 156.5h0M153.3 157.4h0M156.1 158.0h0M147.9 159.4h0M153.5 163.4h0M168.0 165.5h0M160.5 166.5h0M163.2 167.2h0M173.6 168.6h0M175.1 169.2h0M172.6 170.3h0M193.2 173.4h0M198.5 174.4h0M222.1 177.6h0"/>
<path stroke="#0000f0" d="M222.1 111.9h0M227.5 112.7h0M204.8 112.1h0M211.8 112.5h0M179.8 114.0h0M143.2 114.3h0M138.2 116.0h0M141.4 116.2h0M137.7 119.2h0M136.4 165.3h0M141.0 171.4h0M136.2 174.2h0M151.4 176.4h0M129.6 175.5h0M140.4 177.2h0M143.2 177.3h0M145.3 178.0h0M151.2 178.3h0M145.9 180.6h0M155.2 181.5h0M142.6 182.0h0M149.5 183.4h0M157.9 184.1h0M160.4 185.2h0M141.7 185.2h0M146.6 186.2h0M155.5 186.9h0M165.9 187.7h0M131.5 186.8h0M139.5 186.7h0M151.5 189.0h0M143.6 190.1h0M157.0 192.6h0M162.1 193.1h0M166.5 194.1h0M192.8 197.2h0M138.1 192.6h0M161.0 196.0h0M190.5 198.8h0M197.7 199.9h0M140.6 195.4h0M148.9 197.0h0M151.2 196.9h0M154.0 196.8h0M179.2 200.8h0M204.7 203.6h0M233.0 208.1h0M126.9 196.1h0M137.6 197.7h0M140.6 198.6h0M169.2 202.4h0M199.4 205.7h0M202.5 206.0h0M137.0 199.8h0M165.6 204.2h0M168.8 205.0h0M171.0 204.4h0M209.9 209.4h0M134.5 202.9h0M149.2 204.1h0M152.0 205.0h0M160.1 206.1h0M162.3 206.6h0M202.0 212.1h0M131.6 204.4h0M136.9 205.8h0M147.5 207.2h0M154.7 207.2h0M180.5 210.7h0M195.6 212.7h0M126.2 206.3h0M141.4 208.8h0M169.4 212.2h0M177.9 213.9h0M136.3 210.5h0M143.9 211.8h0M145.7 211.8h0M154.5 213.2h0M156.6 213.0h0M162.4 213.8h0M166.3 214.0h0M130.4 212.9h0"/>
<path stroke="#0000db" d="M232.5 100.6h0M211.7 100.6h0M226.7 101.4h0M200.3 101.0h0M206.3 101.6h0M197.7 102.7h0M200.1 104.0h0M171.2 102.9h0M181.3 103.4h0M187.2 105.1h0M191.5 104.7h0M139.6 100.9h0M165.6 104.0h0M169.1 104.7h0M179.6 105.5h0M145.1 104.2h0M149.7 105.2h0M158.1 105.7h0M160.7 105.6h0"/>
<path stroke="#00bdff" d="M199.5 142.5h0"/>
<path stroke="#0000d1" d="M195.4 79.2h0M208.2 81.4h0M232.0 83.9h0M205.7 83.8h0M208.7 83.8h0M213.4 85.0h0M230.9 87.1h0M192.5 83.7h0M194.4 84.4h0M202.4 86.4h0M209.9 86.6h0M212.7 87.0h0M230.9 88.8h0M158.5 82.5h0M173.8 84.0h0M187.0 86.3h0M195.2 87.1h0M196.5 87.5h0M210.6 89.4h0M213.3 90.2h0M231.3 91.4h0M147.2 83.6h0M163.0 85.6h0M179.1 88.3h0M181.2 87.5h0M189.3 89.7h0M194.7 89.3h0M212.0 91.9h0M222.8 94.2h0M155.0 87.0h0M168.1 88.6h0M175.7 90.0h0M180.8 90.7h0M185.5 91.5h0M193.9 92.3h0M214.6 95.7h0M224.4 96.5h0M227.8 96.4h0M145.1 88.8h0M155.1 90.1h0M165.4 91.7h0M175.2 91.9h0M146.2 91.9h0M159.5 92.9h0M167.5 94.0h0M190.3 97.0h0M203.6 98.2h0M149.3 93.6h0M167.8 97.2h0M146.1 97.0h0M161.2 97.9h0M163.9 98.6h0M145.8 98.5h0M151.3 99.7h0M142.8 100.7h0"/>
<path stroke="#002eff" d="M202.4 122.6h0M173.4 124.3h0M159.3 140.3h0M160.9 141.1h0M138.3 139.2h0M165.4 145.7h0M170.3 149.7h0M172.1 152.0h0M177.4 157.9h0M223.6 164.4h0"/>
<path stroke="#0094ff" d="M204.6 146.6h0"/>
<path stroke="#000fff" d="M195.1 118.8h0M169.5 120.7h0M158.1 122.3h0M143.8 127.1h0M136.6 131.7h0M135.6 137.2h0M153.9 150.6h0M156.7 153.4h0M158.4 158.9h0M160.8 158.4h0M166.0 159.9h0M176.7 165.9h0M224.8 173.0h0M186.0 169.4h0M189.0 171.0h0M199.0 172.1h0M212.2 173.6h0M217.6 174.6h0"/>
<path stroke="#0075ff" d="M220.1 135.8h0M215.7 139.8h0M183.0 138.3h0M220.8 145.4h0M222.7 145.9h0M219.5 153.0h0M222.6 156.1h0"/>
<path stroke="#00d1ff" d="M197.8 139.7h0"/>
<path stroke="#0057ff" d="M226.2 125.5h0M208.0 128.0h0M214.8 129.7h0M168.4 127.9h0M171.3 128.2h0M232.4 137.1h0M161.7 135.6h0M230.4 146.6h0M181.4 145.7h0M227.5 154.9h0M191.0 152.4h0M225.0 156.9h0"/>
<path stroke="#009eff" d="M194.6 145.4h0"/>
<path stroke="#00a8ff" d="M199.1 146.0h0"/>
<path stroke="#0000c7" d="M148.6 73.3h0M179.9 76.7h0M214.2 81.9h0M146.6 74.8h0M148.6 76.0h0M177.9 79.9h0M181.7 79.9h0M163.5 80.7h0M171.1 82.1h0M174.4 82.0h0M181.8 82.7h0M148.3 81.4h0M161.3 83.2h0M171.9 84.6h0M155.8 83.9h0"/>
<path stroke="#0080ff" d="M211.7 139.0h0M210.3 142.0h0M212.0 146.9h0M208.9 154.8h0M219.6 156.8h0"/>
<path stroke="#0042ff" d="M211.0 123.3h0M205.7 125.2h0M189.4 126.2h0M143.9 135.4h0M152.6 141.8h0M232.3 155.5h0M181.1 150.4h0M188.2 157.5h0M223.5 162.4h0"/>
<path stroke="#0019ff" d="M206.7 118.0h0M202.9 119.3h0M192.9 121.1h0M172.0 120.7h0M160.7 122.6h0M169.0 122.7h0M150.6 125.8h0M146.6 128.3h0M161.7 150.7h0M174.2 162.4h0M176.9 163.1h0M181.9 163.8h0M197.7 166.6h0M201.9 170.1h0M217.1 171.8h0"/>
<path stroke="#0024ff" d="M216.2 119.0h0M195.9 121.9h0M200.0 121.9h0M189.9 123.2h0M137.8 137.6h0M155.3 144.8h0M152.7 146.7h0M170.1 155.2h0M197.0 164.2h0M223.4 166.5h0M206.8 167.0h0M209.2 167.5h0M217.1 169.3h0M219.6 169.2h0"/>
<path stroke="#006bff" d="M228.0 128.7h0M201.7 130.2h0M209.4 131.8h0M230.5 134.4h0M215.0 134.7h0M181.3 132.2h0M185.6 133.2h0M223.5 148.5h0M216.3 160.3h0"/>
<path stroke="#0038ff" d="M205.1 122.6h0M163.1 140.6h0M177.9 153.6h0M198.7 158.4h0M181.8 158.4h0M207.5 164.6h0M215.1 165.9h0"/>
<path stroke="#004dff" d="M229.1 126.1h0M195.0 126.3h0M159.9 129.8h0M155.1 131.7h0M151.2 136.2h0M233.8 147.4h0M233.6 149.9h0M147.9 144.5h0M205.7 159.0h0"/>
<path stroke="#0057ff" d="M221.5 125.2h0M233.4 129.7h0M165.6 128.3h0M232.2 139.2h0M231.2 142.1h0M233.8 142.3h0M171.3 138.8h0M176.6 142.5h0M231.1 149.9h0M178.5 144.9h0M187.9 152.1h0M193.4 152.1h0M198.2 152.7h0M221.8 159.8h0M208.1 160.6h0M219.1 161.3h0M213.5 162.8h0"/>
<path stroke="#006bff" d="M222.5 127.1h0M232.2 133.9h0M229.3 137.3h0M224.1 138.4h0M178.3 134.7h0M182.2 135.1h0M166.4 135.8h0M223.5 144.1h0M177.1 140.4h0M147.8 138.1h0M182.4 143.7h0M225.1 149.2h0M189.0 147.4h0M218.9 159.4h0"/>
<path stroke="#0000fa" d="M203.5 114.8h0M150.8 118.2h0M140.2 125.0h0M136.5 152.2h0M143.0 159.2h0M134.8 159.9h0M137.9 161.4h0M141.7 164.7h0M152.1 166.1h0M152.8 168.7h0M224.3 178.0h0M234.0 178.8h0M141.1 168.7h0M143.4 169.1h0M185.0 174.8h0M200.8 177.4h0M206.0 177.7h0M224.1 180.8h0M226.4 180.3h0M144.0 171.9h0M156.9 174.3h0M172.0 176.1h0M185.2 177.8h0M205.1 180.4h0M219.2 182.2h0M221.2 183.0h0M233.9 183.8h0M148.9 175.4h0M161.9 176.8h0M169.5 178.7h0M179.0 179.7h0M194.6 181.8h0M214.9 184.4h0M163.3 180.0h0M174.2 181.6h0M176.2 182.2h0M186.2 182.8h0M215.7 186.4h0M222.6 188.7h0M226.0 188.7h0M170.5 184.0h0M173.7 183.7h0M189.5 186.8h0M192.2 186.9h0M196.7 187.2h0M199.7 188.2h0M214.6 189.2h0M217.4 189.4h0M225.3 191.1h0M186.4 188.9h0M191.9 189.5h0M178.5 189.2h0M182.6 189.9h0M201.8 193.3h0M208.6 194.6h0M224.4 196.2h0M231.7 196.9h0M177.6 192.0h0M183.1 193.3h0M186.0 194.0h0M195.9 194.5h0M200.4 195.3h0M218.7 197.8h0M177.5 195.4h0M180.1 195.8h0M187.1 196.6h0M198.2 198.5h0M206.1 199.2h0M218.3 200.6h0M203.1 200.7h0M208.4 202.2h0M223.5 203.5h0M166.8 198.5h0M188.9 202.2h0M207.8 204.8h0M181.0 203.2h0M217.9 208.4h0M215.3 210.8h0M204.1 211.8h0M193.2 212.8h0"/>
<path stroke="#0000d1" d="M190.3 78.8h0M222.1 82.5h0M193.2 81.8h0M210.1 83.9h0M215.4 84.5h0M208.0 86.0h0M215.8 87.2h0M218.3 87.7h0M223.8 88.6h0M228.2 88.9h0M163.9 83.5h0M176.0 85.5h0M185.0 86.5h0M218.2 90.5h0M223.3 90.9h0M233.2 92.3h0M168.5 87.0h0M174.3 87.0h0M183.7 88.3h0M207.7 92.0h0M217.2 92.6h0M230.7 95.1h0M147.6 85.4h0M158.2 87.4h0M165.2 88.9h0M170.1 89.0h0M173.9 89.1h0M178.3 89.7h0M188.3 92.3h0M191.4 91.4h0M204.3 94.1h0M209.8 94.2h0M219.2 95.8h0M229.5 97.6h0M146.7 89.3h0M149.4 89.1h0M173.0 92.4h0M183.8 93.5h0M190.4 94.4h0M193.0 94.6h0M204.2 95.8h0M211.3 96.7h0M213.6 98.4h0M151.9 91.7h0M155.0 91.7h0M157.6 92.8h0M169.6 94.3h0M172.1 95.4h0M206.5 99.1h0M141.8 93.8h0M143.7 93.0h0M154.8 95.0h0M157.2 94.9h0M174.8 97.1h0M179.8 98.6h0M182.3 98.1h0M190.1 100.3h0M193.1 99.7h0M148.5 96.3h0M171.4 99.2h0M140.9 98.5h0M158.9 100.1h0"/>
<path stroke="#0000db" d="M232.0 97.5h0M224.9 99.7h0M224.1 102.2h0M208.0 101.6h0M213.7 103.2h0M218.9 103.1h0M148.2 99.2h0M179.6 103.0h0M158.0 103.9h0M164.1 104.7h0M147.8 104.7h0M147.2 107.2h0"/>
<path stroke="#0080ff" d="M196.4 131.7h0M203.5 133.7h0M208.8 136.9h0M213.0 142.3h0M210.1 144.3h0M209.8 150.2h0M216.9 150.2h0"/>
<path stroke="#0024ff" d="M210.8 118.9h0M234.8 120.9h0M198.1 121.5h0M183.9 123.2h0M148.8 130.4h0M144.4 132.8h0M174.6 158.3h0M228.9 164.6h0M176.6 160.2h0M194.5 163.9h0"/>
<path stroke="#0000f0" d="M230.4 112.9h0M201.1 114.0h0M172.4 112.7h0M175.7 114.0h0M164.0 114.4h0M148.4 115.2h0M152.1 115.1h0M131.6 162.5h0M131.6 168.1h0M134.1 167.8h0M137.2 176.5h0M148.5 177.4h0M140.3 179.5h0M142.6 179.8h0M132.5 181.4h0M145.2 182.6h0M146.9 183.6h0M164.9 185.9h0M149.9 185.7h0M160.0 188.1h0M142.2 186.9h0M156.9 189.3h0M159.1 190.2h0M162.3 190.4h0M203.6 196.4h0M131.6 188.8h0M139.2 190.1h0M146.9 191.1h0M159.3 192.7h0M131.2 191.7h0M153.6 194.2h0M156.7 194.7h0M166.9 195.9h0M174.1 197.2h0M192.4 199.5h0M212.4 202.6h0M138.6 195.6h0M156.1 198.0h0M163.4 198.0h0M194.9 203.2h0M213.2 205.6h0M132.7 196.5h0M152.6 199.3h0M156.3 200.4h0M157.7 200.8h0M161.2 201.2h0M176.0 202.8h0M210.1 207.7h0M220.0 209.4h0M134.4 199.1h0M144.4 200.6h0M149.6 201.3h0M152.4 201.7h0M160.3 202.8h0M163.1 203.5h0M173.4 205.5h0M196.2 207.6h0M212.4 210.3h0M131.2 202.5h0M155.6 204.9h0M168.0 207.3h0M173.0 207.4h0M175.6 207.7h0M178.3 207.7h0M185.5 208.8h0M188.1 210.3h0M191.6 209.8h0M212.3 213.2h0M142.3 206.4h0M149.3 206.9h0M138.8 208.1h0M149.0 210.2h0M162.4 211.2h0M179.7 213.8h0M128.0 209.0h0M141.4 211.0h0M127.2 212.6h0M135.1 213.2h0M140.1 213.8h0"/>
<path stroke="#008aff" d="M204.4 135.7h0M185.1 141.0h0M186.6 141.8h0M207.3 143.8h0M212.6 152.1h0"/>
<path stroke="#004dff" d="M220.7 122.6h0M216.1 124.6h0M218.2 124.9h0M231.1 126.5h0M181.1 129.4h0M233.8 144.8h0M145.8 135.2h0M232.3 152.4h0M229.7 154.8h0M227.3 157.4h0M207.7 162.1h0"/>
<path stroke="#0042ff" d="M208.0 125.7h0M186.6 127.5h0M163.3 127.0h0M154.4 134.1h0M153.7 139.4h0M168.8 140.9h0M150.0 144.5h0M176.3 147.2h0M178.6 148.3h0M179.9 152.8h0M183.2 157.1h0M190.0 156.9h0"/>
<path stroke="#0005ff" d="M167.2 117.7h0M136.5 147.6h0M141.9 148.4h0M141.7 154.0h0M145.2 156.3h0M150.3 157.7h0M146.1 159.3h0M158.9 160.6h0M160.6 161.0h0M162.9 161.2h0M165.9 165.0h0M157.4 166.5h0M170.0 167.5h0M178.4 168.7h0M230.3 176.3h0M232.3 176.9h0M234.5 176.3h0M182.8 171.6h0M185.0 172.2h0M210.7 176.0h0M213.5 176.1h0M217.0 176.3h0"/>
<path stroke="#0061ff" d="M217.5 129.4h0M189.2 130.5h0M229.9 139.5h0M150.9 139.4h0M227.9 150.1h0M186.9 147.0h0M196.6 151.0h0M224.9 153.9h0M203.4 154.1h0"/>
<path stroke="#000fff" d="M214.6 116.3h0M173.9 119.2h0M182.0 119.6h0M165.9 120.1h0M148.1 125.8h0M136.9 144.7h0M151.7 149.8h0M151.0 152.8h0M154.4 152.9h0M156.3 155.8h0M233.2 168.5h0M232.5 171.7h0M179.3 165.7h0M180.7 166.9h0M222.7 172.9h0M196.1 171.6h0M200.9 172.6h0M204.1 172.9h0M206.7 172.1h0"/>
<path stroke="#00a8ff" d="M200.8 137.7h0M202.1 144.1h0"/>
<path stroke="#0019ff" d="M213.9 118.2h0M166.0 122.2h0M155.4 124.4h0M149.4 127.8h0M144.0 130.3h0M157.1 148.5h0M159.6 148.4h0M225.7 167.4h0M204.4 167.7h0M209.0 170.1h0M212.5 171.2h0M214.6 171.0h0"/>
<path stroke="#0038ff" d="M216.1 121.3h0M233.6 124.0h0M200.3 124.1h0M148.4 133.1h0M156.6 137.7h0M234.8 155.4h0M229.6 159.7h0M195.4 157.8h0M185.0 159.5h0M190.0 160.1h0"/>
<path stroke="#00c7ff" d="M199.9 139.9h0"/>
<path stroke="#0000e6" d="M231.5 106.0h0M204.7 106.9h0M207.6 106.7h0M228.3 109.7h0M191.5 107.7h0M210.1 110.9h0M220.8 111.6h0M165.2 107.4h0M173.6 107.4h0M196.6 111.1h0M167.7 110.2h0M172.7 110.1h0M175.6 110.8h0M185.5 111.8h0M142.2 108.5h0M155.0 110.7h0M164.7 112.4h0M167.0 112.4h0M148.5 113.1h0"/>
<path stroke="#009eff" d="M197.7 145.7h0"/>
<path stroke="#00bdff" d="M195.5 139.1h0"/>
<path stroke="#0075ff" d="M217.6 132.3h0M228.2 133.3h0M222.6 135.3h0M224.8 136.4h0M172.7 131.6h0M167.2 133.6h0M184.9 135.2h0M213.6 140.0h0M179.7 140.3h0M222.7 153.5h0"/>
<path stroke="#0000c7" d="M182.5 78.0h0M188.1 77.8h0M197.9 79.4h0M154.0 76.3h0M157.0 76.6h0M167.3 77.8h0M168.9 78.3h0M172.3 78.5h0M189.4 81.4h0M197.2 82.0h0M153.4 78.9h0M167.0 80.2h0M179.6 83.1h0M143.4 80.1h0M151.0 81.6h0M166.4 84.1h0M142.9 86.0h0M149.7 86.8h0"/>
<path stroke="#0094ff" d="M206.0 137.9h0M213.0 150.2h0M214.4 158.1h0"/>
<path stroke="#002eff" d="M224.7 119.7h0M210.9 120.5h0M181.0 125.4h0M183.8 125.0h0M140.6 135.5h0M162.8 143.7h0M149.6 146.2h0M231.1 162.7h0M197.5 161.2h0M203.0 163.8h0M205.2 164.6h0M218.3 166.3h0"/>
<path stroke="#008aff" d="M208.4 138.8h0M207.6 146.2h0M210.6 147.2h0M206.7 149.8h0M215.0 150.7h0"/>
<path stroke="#0005ff" d="M221.7 114.5h0M177.1 118.3h0M161.7 119.3h0M155.6 121.6h0M144.9 148.7h0M144.0 150.7h0M138.2 152.4h0M140.4 155.7h0M153.8 160.7h0M154.8 163.8h0M158.4 163.3h0M170.5 165.6h0M230.7 174.0h0M165.0 166.7h0M224.0 175.4h0M159.3 168.5h0M170.5 169.8h0M177.4 172.1h0M188.1 172.5h0M190.6 172.8h0M206.1 175.4h0"/>
<path stroke="#0000c7" d="M152.5 74.0h0M153.8 73.8h0M167.7 76.1h0M185.6 78.6h0M159.3 76.8h0M161.8 77.1h0M175.4 79.2h0M179.6 79.8h0M150.8 78.1h0M155.7 79.3h0M158.4 79.8h0M156.4 81.7h0"/>
<path stroke="#0000f0" d="M233.3 111.2h0M225.7 112.9h0M206.3 112.4h0M193.2 113.2h0M199.0 113.3h0M156.6 113.3h0M159.8 114.0h0M166.8 114.9h0M154.3 115.9h0M133.9 165.6h0M132.8 170.9h0M146.6 172.2h0M130.7 172.6h0M132.5 175.4h0M135.5 176.4h0M158.8 178.8h0M170.9 181.1h0M135.6 179.1h0M149.9 180.5h0M161.1 182.7h0M166.0 183.6h0M137.7 182.2h0M139.3 182.5h0M178.1 188.0h0M136.9 184.7h0M145.0 185.4h0M157.6 186.7h0M133.9 186.1h0M143.9 187.6h0M147.5 188.2h0M154.7 189.9h0M169.7 192.1h0M129.1 188.4h0M149.4 190.8h0M164.7 193.8h0M172.4 194.0h0M182.0 195.3h0M189.8 197.1h0M133.6 191.5h0M150.9 194.0h0M169.5 197.2h0M177.2 197.4h0M184.7 198.4h0M132.9 195.0h0M161.2 197.9h0M174.7 199.4h0M142.2 198.1h0M163.4 200.4h0M157.4 202.8h0M126.1 201.8h0M129.9 201.0h0M136.7 202.1h0M138.9 203.2h0M146.7 203.5h0M157.4 205.6h0M165.1 206.5h0M196.9 210.7h0M219.3 213.3h0M133.6 205.1h0M152.6 207.4h0M159.5 208.5h0M164.6 208.9h0M167.6 208.9h0M170.0 209.7h0M172.3 210.3h0M131.5 207.7h0M136.6 207.5h0M143.5 209.6h0M152.1 209.7h0M157.4 210.5h0M159.0 211.3h0M166.9 212.7h0M175.3 213.0h0M184.8 214.0h0M133.2 212.3h0"/>
<path stroke="#0024ff" d="M187.4 122.4h0M160.1 124.2h0M146.1 130.6h0M162.6 145.8h0M147.5 146.8h0M162.8 148.8h0M165.8 149.5h0M234.2 163.6h0M226.2 165.4h0M174.2 160.4h0M192.3 163.3h0M202.3 166.7h0"/>
<path stroke="#0000e6" d="M194.5 106.1h0M215.3 108.5h0M187.1 106.5h0M197.4 109.1h0M207.3 110.6h0M212.5 110.9h0M192.1 110.2h0M160.4 108.3h0M171.0 110.1h0M149.6 110.1h0M151.6 111.0h0M162.9 111.2h0M140.9 110.9h0M146.9 112.1h0M154.5 112.6h0"/>
<path stroke="#004dff" d="M183.4 129.7h0M156.8 134.8h0M153.2 136.4h0M164.3 138.8h0M230.1 152.6h0M183.2 151.0h0M191.1 155.0h0"/>
<path stroke="#0000d1" d="M200.4 79.5h0M223.5 83.1h0M226.5 83.4h0M220.4 86.0h0M223.6 86.5h0M226.0 86.1h0M234.2 86.7h0M185.3 83.9h0M205.0 86.5h0M220.9 88.2h0M225.6 89.1h0M233.3 89.5h0M153.8 81.4h0M168.2 83.4h0M189.7 86.3h0M205.4 88.4h0M151.0 84.3h0M160.9 85.8h0M209.3 91.3h0M227.5 93.9h0M160.9 88.1h0M196.2 92.7h0M199.6 93.2h0M217.2 95.0h0M222.3 96.7h0M196.4 94.7h0M221.9 99.3h0M141.7 90.2h0M162.2 92.7h0M164.4 94.3h0M187.7 96.8h0M192.6 96.8h0M200.3 99.1h0M171.8 97.4h0M184.9 99.2h0M140.9 96.3h0M143.8 96.4h0M157.0 98.5h0M166.7 98.8h0M145.2 101.2h0"/>
<path stroke="#0080ff" d="M224.8 133.4h0M194.5 131.0h0M206.2 135.3h0M187.4 143.3h0M219.7 148.8h0M145.2 140.4h0M215.9 158.9h0"/>
<path stroke="#0000db" d="M214.2 100.3h0M229.1 102.9h0M234.6 103.5h0M198.3 100.4h0M211.5 103.2h0M177.0 100.9h0M192.2 103.0h0M210.3 105.7h0M163.4 101.9h0M189.2 104.2h0M151.0 101.8h0M152.9 103.3h0M161.4 103.4h0M171.6 105.3h0M173.7 105.9h0M141.8 106.5h0M144.7 106.8h0"/>
<path stroke="#0019ff" d="M216.8 117.0h0M224.9 116.8h0M226.9 117.4h0M157.6 124.1h0M152.3 125.4h0M138.0 134.2h0M136.6 142.8h0M139.4 145.1h0M164.8 153.6h0M230.7 165.8h0M168.8 160.5h0M186.1 164.5h0M194.3 165.9h0"/>
<path stroke="#0038ff" d="M226.5 120.2h0M166.1 125.3h0M170.4 125.6h0M160.9 127.1h0M154.9 129.7h0M169.0 144.5h0M173.8 147.6h0M175.8 150.0h0M232.8 158.3h0M177.4 155.8h0M188.0 159.1h0M192.6 160.0h0M205.6 162.4h0"/>
<path stroke="#006bff" d="M165.5 130.0h0M167.4 130.9h0M170.6 130.8h0M214.2 136.8h0M161.7 132.7h0M172.7 136.9h0M177.9 137.1h0M226.3 146.4h0M183.7 144.1h0M193.9 149.4h0M199.2 151.0h0M202.0 151.8h0M213.6 161.2h0"/>
<path stroke="#0042ff" d="M228.7 124.0h0M231.2 123.9h0M213.2 124.3h0M191.7 126.0h0M168.7 125.8h0M178.3 127.1h0M151.8 134.2h0M158.4 137.2h0M171.0 144.3h0M142.8 143.6h0M196.3 155.7h0M192.3 157.5h0M203.4 159.3h0"/>
<path stroke="#0057ff" d="M230.4 128.2h0M202.3 127.1h0M212.5 128.4h0M178.1 128.9h0M157.7 132.6h0M159.3 134.4h0M169.1 138.8h0M143.8 137.6h0M185.9 149.7h0M202.0 154.2h0M203.7 156.2h0M216.3 162.9h0"/>
<path stroke="#0061ff" d="M205.2 128.3h0M204.9 130.1h0M229.4 144.5h0M175.0 139.7h0"/>
<path stroke="#000fff" d="M230.1 116.2h0M198.0 118.6h0M184.2 119.9h0M144.9 125.3h0M139.7 129.8h0M159.9 153.4h0M161.6 154.1h0M154.6 155.6h0M159.5 156.2h0M227.4 171.1h0M230.3 170.1h0M173.8 165.0h0M186.3 168.1h0M188.4 167.6h0M227.0 172.8h0M191.2 170.5h0M194.4 170.6h0M214.5 173.1h0"/>
<path stroke="#0000fa" d="M209.1 114.8h0M190.9 115.4h0M193.8 115.8h0M172.5 116.2h0M176.9 116.2h0M153.2 118.3h0M137.0 123.8h0M138.5 150.5h0M134.9 155.0h0M137.2 158.5h0M132.5 160.6h0M143.2 161.7h0M147.2 164.3h0M139.0 166.1h0M142.4 166.1h0M165.2 170.0h0M227.0 178.8h0M229.1 178.8h0M149.2 169.6h0M151.6 170.4h0M182.7 174.9h0M187.4 176.2h0M198.4 177.5h0M203.9 177.2h0M213.2 178.9h0M228.7 181.4h0M150.9 173.2h0M164.6 174.7h0M169.0 176.1h0M190.2 178.2h0M216.3 181.6h0M229.1 183.3h0M159.1 176.8h0M164.2 178.1h0M182.0 179.4h0M184.0 180.5h0M197.1 181.9h0M200.5 182.4h0M208.3 183.1h0M212.4 184.5h0M222.8 185.1h0M228.5 185.5h0M153.6 178.5h0M179.4 181.8h0M181.3 183.1h0M183.7 182.7h0M204.7 186.1h0M220.2 187.9h0M178.4 185.1h0M201.3 187.8h0M173.3 187.3h0M196.3 189.3h0M175.6 190.0h0M193.5 191.7h0M195.5 191.9h0M198.9 192.9h0M211.8 194.6h0M217.4 195.1h0M230.2 197.0h0M180.3 193.3h0M189.9 194.3h0M193.2 195.2h0M206.7 195.8h0M210.6 197.2h0M231.9 199.6h0M233.8 200.5h0M185.6 195.6h0M203.4 199.0h0M221.8 201.1h0M226.9 202.1h0M228.2 201.7h0M230.9 202.5h0M199.8 201.4h0M176.4 199.7h0M181.5 201.0h0M187.6 201.4h0M192.7 202.1h0M209.8 204.3h0M215.9 204.8h0M227.7 206.8h0M170.6 202.5h0M207.9 207.6h0M222.9 208.6h0M232.5 210.8h0M186.4 206.6h0M216.8 211.6h0M225.0 211.4h0M214.8 212.8h0"/>
<path stroke="#002eff" d="M230.0 120.5h0M232.0 120.5h0M208.2 120.9h0M176.9 124.0h0M179.0 125.0h0M163.8 125.0h0M157.2 126.4h0M156.6 139.5h0M168.2 147.3h0M173.1 150.2h0M232.5 160.8h0M200.0 158.6h0M228.4 163.0h0M213.0 166.1h0"/>
<path stroke="#0075ff" d="M225.1 130.8h0M196.7 130.0h0M222.1 133.4h0M208.9 133.9h0M178.1 132.6h0M188.3 132.9h0M219.2 138.2h0M172.7 133.9h0M218.8 139.9h0M180.5 137.1h0M216.3 142.5h0M145.3 138.5h0M194.6 147.5h0M222.1 151.9h0"/>
<path stroke="#0094ff" d="M198.8 135.0h0M190.7 136.2h0M205.8 141.5h0M204.3 148.4h0M209.8 152.2h0"/>
<path stroke="#00a8ff" d="M201.1 136.0h0M192.2 142.2h0"/>
<path stroke="#009eff" d="M190.4 141.9h0"/>
<path stroke="#006bff" d="M226.4 128.1h0M220.5 130.5h0M212.0 133.5h0M216.7 137.2h0M180.6 134.7h0M220.8 143.2h0M206.8 154.7h0"/>
<path stroke="#0057ff" d="M200.2 127.3h0M188.7 128.5h0M191.4 128.6h0M173.0 129.0h0M185.6 131.1h0M160.3 131.8h0M231.3 144.3h0M148.7 136.7h0M196.3 153.1h0"/>
<path stroke="#0000f0" d="M226.2 110.1h0M231.3 110.1h0M201.1 112.4h0M196.0 114.3h0M182.4 114.0h0M185.9 114.4h0M161.4 114.8h0M143.1 116.9h0M145.9 117.6h0M131.4 165.9h0M136.1 168.5h0M139.3 168.2h0M131.1 170.5h0M135.4 171.0h0M141.3 174.6h0M143.7 175.4h0M145.8 175.3h0M153.4 176.1h0M156.6 176.8h0M176.3 178.7h0M160.5 179.8h0M129.6 178.3h0M158.1 182.6h0M153.2 183.7h0M154.7 184.7h0M162.7 185.0h0M129.0 183.2h0M131.0 184.3h0M134.6 183.5h0M172.2 191.9h0M174.7 192.3h0M151.5 191.7h0M154.8 192.2h0M128.2 191.6h0M136.5 191.7h0M149.3 193.6h0M158.8 195.7h0M163.6 195.8h0M179.6 198.0h0M181.6 198.2h0M127.4 193.6h0M131.0 193.7h0M145.6 196.6h0M196.7 202.8h0M135.3 196.6h0M146.1 199.1h0M148.0 199.0h0M178.3 203.0h0M186.0 203.6h0M191.2 204.5h0M228.2 210.2h0M129.9 198.9h0M132.1 198.9h0M184.3 205.8h0M188.2 206.9h0M191.0 207.7h0M193.9 207.2h0M142.6 203.5h0M181.2 208.7h0M183.8 209.3h0M193.6 210.9h0M199.3 211.4h0M126.9 204.0h0M139.2 205.4h0M144.5 206.5h0M178.2 211.4h0M183.4 211.9h0M185.8 211.4h0M199.1 213.7h0M133.2 208.0h0M153.6 210.3h0M133.2 209.9h0"/>
<path stroke="#0038ff" d="M218.9 122.1h0M208.3 123.5h0M195.2 124.4h0M203.1 124.5h0M186.3 126.0h0M165.8 143.5h0M140.3 142.8h0M152.4 144.1h0M175.8 152.7h0M226.5 161.8h0M202.4 161.2h0M210.4 164.8h0"/>
<path stroke="#0080ff" d="M191.1 133.3h0M165.2 133.3h0M170.6 133.7h0M215.6 144.4h0M190.0 144.8h0M220.4 151.0h0M207.1 151.4h0"/>
<path stroke="#0019ff" d="M234.4 118.8h0M190.2 120.0h0M180.0 121.6h0M181.9 122.1h0M163.4 122.0h0M155.1 147.9h0M156.8 150.4h0M160.2 150.6h0M166.6 155.0h0M233.7 165.4h0M178.9 164.2h0M191.5 167.6h0M204.4 170.1h0M207.0 170.6h0M219.5 171.3h0"/>
<path stroke="#00a8ff" d="M202.4 140.4h0"/>
<path stroke="#0024ff" d="M157.7 144.9h0M160.6 146.0h0M141.6 145.2h0M168.0 151.1h0M169.7 152.4h0M171.4 157.7h0M178.8 161.2h0M189.1 162.6h0M199.6 164.6h0M220.9 167.0h0M211.9 168.0h0"/>
<path stroke="#0005ff" d="M224.6 115.0h0M196.3 116.7h0M182.7 117.8h0M164.1 117.0h0M171.6 118.4h0M142.6 125.0h0M139.0 126.7h0M133.8 144.4h0M148.2 154.1h0M150.8 160.4h0M160.8 164.3h0M162.7 163.9h0M233.1 173.8h0M168.4 166.9h0M180.3 169.7h0M175.4 170.6h0M179.9 172.2h0M196.2 173.3h0M209.4 175.8h0M218.6 177.5h0M193.1 175.8h0"/>
<path stroke="#0061ff" d="M220.5 127.5h0M211.9 131.1h0M183.2 132.3h0M227.0 141.3h0M226.6 143.6h0M179.0 143.5h0"/>
<path stroke="#002eff" d="M192.5 123.3h0M160.8 142.4h0M144.0 146.0h0M167.5 149.0h0M174.8 154.8h0M200.7 160.8h0M181.7 161.1h0M184.7 161.2h0M186.5 162.0h0"/>
<path stroke="#0000fa" d="M206.8 114.8h0M148.2 117.8h0M145.0 119.5h0M133.3 147.5h0M133.1 155.6h0M131.9 158.1h0M145.6 162.4h0M148.4 161.6h0M136.7 162.7h0M154.4 169.0h0M157.5 168.1h0M146.7 169.4h0M153.9 171.2h0M157.1 170.9h0M170.4 173.2h0M174.6 173.6h0M178.1 174.0h0M190.9 176.2h0M195.1 176.4h0M211.1 179.2h0M218.5 179.1h0M221.8 179.8h0M234.1 182.1h0M159.0 174.7h0M177.2 176.6h0M182.5 176.7h0M195.0 178.5h0M208.2 181.0h0M223.7 182.5h0M173.8 178.3h0M190.5 181.4h0M189.5 183.9h0M197.3 184.0h0M217.8 187.6h0M228.0 189.2h0M163.5 183.2h0M175.8 185.0h0M186.7 185.7h0M204.0 188.0h0M227.1 191.2h0M168.5 185.5h0M194.2 190.0h0M201.2 190.6h0M204.4 190.8h0M206.7 190.7h0M209.7 191.2h0M211.5 191.8h0M214.6 192.0h0M219.5 192.8h0M229.5 193.7h0M172.5 188.7h0M203.5 193.2h0M207.0 193.8h0M214.0 195.0h0M227.2 196.5h0M188.7 193.2h0M214.2 197.5h0M228.7 200.0h0M194.9 197.1h0M208.0 199.7h0M234.6 203.0h0M205.2 202.1h0M228.1 204.9h0M230.7 204.8h0M225.2 207.1h0M231.1 207.6h0M183.4 203.6h0M212.5 208.1h0M176.6 204.8h0M207.3 209.2h0M222.4 211.5h0M230.2 212.2h0M232.5 213.1h0"/>
<path stroke="#008aff" d="M198.4 132.6h0M193.6 133.9h0M185.5 137.9h0M208.0 141.8h0M182.5 140.1h0M215.4 147.3h0M197.3 147.6h0M200.0 148.6h0"/>
<path stroke="#009eff" d="M192.6 136.8h0M202.8 137.7h0M214.0 155.3h0"/>
<path stroke="#0000db" d="M229.1 100.1h0M198.4 97.8h0M208.2 99.4h0M216.0 101.3h0M218.9 100.6h0M194.8 100.5h0M203.1 101.3h0M216.4 103.9h0M174.1 99.9h0M182.8 100.9h0M187.1 102.2h0M213.3 105.9h0M169.1 102.2h0M156.4 102.7h0M175.7 105.3h0M181.1 105.8h0M139.2 103.6h0M142.5 103.3h0M153.1 104.9h0M139.4 108.5h0"/>
<path stroke="#0075ff" d="M227.8 130.4h0M219.4 132.3h0M206.1 133.5h0M227.4 135.6h0M211.6 136.4h0M218.7 143.2h0M147.3 141.7h0M209.2 157.0h0M211.4 159.9h0"/>
<path stroke="#00b2ff" d="M195.7 137.7h0"/>
<path stroke="#004dff" d="M226.3 122.6h0M210.6 126.4h0M215.0 126.7h0M197.5 126.5h0M181.5 148.2h0M183.4 149.1h0M185.5 151.4h0M183.6 153.8h0M224.5 160.0h0M185.0 156.7h0M221.0 161.3h0"/>
<path stroke="#000fff" d="M203.1 117.8h0M180.3 119.8h0M141.9 126.8h0M138.8 132.2h0M135.6 139.7h0M164.1 155.9h0M183.6 167.4h0M204.2 174.4h0"/>
<path stroke="#0042ff" d="M174.2 126.4h0M176.2 126.2h0M183.6 128.3h0M157.9 129.2h0M152.2 131.8h0M141.1 137.4h0M140.0 139.6h0M229.9 157.7h0M193.2 155.5h0M198.3 155.8h0M226.4 159.3h0M180.7 156.6h0"/>
<path stroke="#0000c7" d="M156.6 74.3h0M159.2 75.0h0M164.3 75.1h0M174.6 77.3h0M177.1 77.1h0M204.0 81.0h0M205.2 80.5h0M219.0 82.7h0M143.9 75.3h0M151.4 75.9h0M184.7 80.9h0M169.8 80.5h0M187.0 83.3h0M145.1 80.0h0M142.2 83.0h0M145.3 83.5h0"/>
<path stroke="#0000d1" d="M210.8 81.5h0M229.3 84.0h0M200.4 83.0h0M177.0 82.4h0M189.2 83.3h0M178.9 84.8h0M192.0 86.7h0M214.7 90.4h0M227.9 91.7h0M171.7 86.0h0M176.2 87.0h0M186.9 88.9h0M199.7 90.7h0M201.3 91.5h0M214.8 92.0h0M162.9 88.9h0M183.8 91.1h0M169.9 92.4h0M188.6 93.7h0M201.4 95.3h0M208.4 97.4h0M219.6 98.8h0M144.6 91.3h0M149.1 91.1h0M175.8 94.7h0M182.7 96.4h0M195.2 97.3h0M152.1 93.9h0M159.8 95.6h0M170.2 96.6h0M158.9 98.1h0M169.2 98.9h0M179.1 100.5h0M153.8 100.0h0M166.9 101.3h0"/>
<path stroke="#0094ff" d="M196.4 134.3h0M205.4 144.4h0M216.8 153.5h0M212.3 154.6h0"/>
<path stroke="#0000e6" d="M218.2 106.0h0M225.7 107.0h0M228.8 107.2h0M233.8 108.6h0M220.7 109.1h0M199.7 108.8h0M167.8 107.2h0M155.6 107.5h0M156.9 110.7h0M143.4 111.6h0M151.3 112.7h0M138.6 113.6h0"/>
</g>
<g stroke-width="3">
<path stroke="#00ffff" d="M166.7 129.1h0M199.5 142.3h0"/>
<path stroke="#0099ff" d="M221.9 129.1h0"/>
<path stroke="#00ccff" d="M152.3 141.5h0M183.5 154.3h0"/>
<path stroke="#00e5ff" d="M170.7 131.5h0M140.3 146.3h0M192.3 137.1h0"/>
<path stroke="#1affe5" d="M146.7 139.9h0M188.3 133.9h0"/>
<path stroke="#00b2ff" d="M215.5 158.7h0M168.3 135.1h0"/>
<path stroke="#66ff99" d="M195.5 140.3h0"/>
</g>
</g>
<use href="#usmap" clip-path="url(#fc)"/>
</g>
<rect x="862.5" y="95.5" width="23" height="215" fill="url(#jet)" stroke="#262626" stroke-width="1"/>
<path d="M885.5 203h-3" stroke="#262626" stroke-width="1" fill="none"/>
<text class="c" x="893.6" y="103.1">100</text>
<text class="c" x="893.6" y="210.4">50</text>
<text class="c" x="893.6" y="317.9">0</text>
<text class="t"><tspan x="566.8" y="112.8">48</tspan><tspan class="d" x="586.4" y="105.2">° </tspan><tspan x="596.1" y="112.8">N</tspan></text>
<text class="t"><tspan x="566.8" y="130.4">46</tspan><tspan class="d" x="586.4" y="122.8">° </tspan><tspan x="596.1" y="130.4">N</tspan></text>
<text class="t"><tspan x="566.8" y="147.7">44</tspan><tspan class="d" x="586.4" y="140.1">° </tspan><tspan x="596.1" y="147.7">N</tspan></text>
<text class="t"><tspan x="566.8" y="166.7">42</tspan><tspan class="d" x="586.4" y="159.1">° </tspan><tspan x="596.1" y="166.7">N</tspan></text>
<text class="t"><tspan x="566.8" y="182.7">40</tspan><tspan class="d" x="586.4" y="175.1">° </tspan><tspan x="596.1" y="182.7">N</tspan></text>
<text class="t"><tspan x="566.8" y="197.6">38</tspan><tspan class="d" x="586.4" y="190.0">° </tspan><tspan x="596.1" y="197.6">N</tspan></text>
<text class="t"><tspan x="566.8" y="214.3">36</tspan><tspan class="d" x="586.4" y="206.7">° </tspan><tspan x="596.1" y="214.3">N</tspan></text>
<text class="t"><tspan x="566.8" y="228.6">34</tspan><tspan class="d" x="586.4" y="221.0">° </tspan><tspan x="596.1" y="228.6">N</tspan></text>
<text class="t"><tspan x="566.8" y="245.6">32</tspan><tspan class="d" x="586.4" y="238.0">° </tspan><tspan x="596.1" y="245.6">N</tspan></text>
<text class="t"><tspan x="566.8" y="259.3">30</tspan><tspan class="d" x="586.4" y="251.7">° </tspan><tspan x="596.1" y="259.3">N</tspan></text>
<text class="t"><tspan x="566.8" y="272.7">28</tspan><tspan class="d" x="586.4" y="265.1">° </tspan><tspan x="596.1" y="272.7">N</tspan></text>
<text class="t"><tspan x="566.8" y="287.7">26</tspan><tspan class="d" x="586.4" y="280.1">° </tspan><tspan x="596.1" y="287.7">N</tspan></text>
<text class="t"><tspan x="566.8" y="301.8">24</tspan><tspan class="d" x="586.4" y="294.2">° </tspan><tspan x="596.1" y="301.8">N</tspan></text>
<text class="t"><tspan x="566.8" y="314.5">22</tspan><tspan class="d" x="586.4" y="306.9">° </tspan><tspan x="596.1" y="314.5">N</tspan></text>
<text class="w"><tspan x="636.4" y="77.0">100</tspan><tspan class="d" x="663.4" y="70.3">° </tspan><tspan x="673.9" y="77.0">W</tspan></text>
<text class="w"><tspan x="705.0" y="77.0">90</tspan><tspan class="d" x="723.4" y="70.3">° </tspan><tspan x="733.9" y="77.0">W</tspan></text>
<text class="w"><tspan x="769.5" y="77.0">80</tspan><tspan class="d" x="787.9" y="70.3">° </tspan><tspan x="798.4" y="77.0">W</tspan></text>
<text class="w"><tspan x="832.0" y="77.0">70</tspan><tspan class="d" x="850.4" y="70.3">° </tspan><tspan x="860.9" y="77.0">W</tspan></text>
<text class="l" x="560.6" y="341.2">SAT 200 hPa RH (Percent)</text>
</g>
<g>
<rect x="1037.5" y="95.5" width="235" height="215" fill="#fff" stroke="#1a1a1a" stroke-width="1"/>
<g transform="translate(1037.5 95.5) scale(1.00427 1.00939)">
<g fill="none" stroke-linecap="round">
<g stroke-width="5.8">
<path stroke="#00e5ff" d="M143.5 75.7h0M153.4 77.4h0M199.4 83.2h0M222.1 86.4h0M166.4 82.0h0M179.0 83.6h0M207.2 97.6h0M203.8 100.5h0M203.0 103.9h0M202.7 106.8h0M206.2 107.6h0M205.7 110.8h0M209.1 111.4h0M205.0 113.8h0M208.2 114.8h0M201.1 117.1h0M204.8 117.6h0M208.0 117.8h0M201.1 120.2h0M203.9 120.3h0M207.4 120.7h0M210.9 121.3h0M168.0 118.8h0M193.8 122.6h0M197.1 122.7h0M200.3 123.4h0M203.8 123.7h0M207.1 124.1h0M210.4 124.8h0M144.6 119.0h0M203.6 126.9h0M206.9 127.6h0M151.5 139.9h0M154.7 140.7h0M154.5 143.6h0M154.2 147.3h0M150.3 150.0h0M133.3 151.1h0M139.9 152.2h0M143.0 152.5h0M146.6 152.5h0M160.4 171.1h0M164.1 171.7h0M167.5 172.3h0M170.6 172.4h0M173.8 173.2h0M232.5 181.1h0M176.8 177.1h0M225.7 183.6h0M228.8 183.9h0M183.0 180.9h0M218.4 185.7h0M222.2 186.3h0M139.5 178.8h0M156.4 180.9h0M188.8 185.3h0M192.1 185.6h0M195.6 186.2h0M198.5 186.3h0M201.9 186.7h0M205.2 187.1h0M208.4 187.9h0M211.6 188.0h0M215.1 188.5h0M152.4 183.8h0M139.2 184.9h0M142.0 185.2h0M148.9 186.4h0M234.0 84.7h0M234.0 180.7h0"/>
<path stroke="#0000ff" d="M161.8 88.1h0M165.3 88.9h0M168.4 89.2h0M145.0 89.4h0M148.5 89.9h0M158.3 90.8h0M164.9 92.1h0M168.1 92.2h0M141.5 92.3h0M154.3 93.9h0M157.5 94.3h0M164.4 95.5h0M140.8 95.1h0M154.2 97.0h0M157.5 97.6h0M160.9 97.9h0M163.7 98.3h0M140.6 98.4h0M143.6 99.2h0M146.9 99.3h0M150.2 100.1h0M153.7 100.1h0M156.8 101.2h0M139.8 102.1h0M143.3 102.3h0M146.6 103.0h0M162.0 111.7h0M157.8 194.1h0M161.1 194.6h0M164.0 195.0h0M174.0 196.3h0M177.2 196.6h0M180.2 197.6h0M144.4 195.8h0M147.2 196.3h0M189.8 202.1h0M193.1 202.4h0M140.2 198.7h0M192.9 205.7h0M196.1 206.1h0M199.5 206.4h0M136.9 201.2h0M195.6 209.2h0M199.0 209.8h0M202.0 210.4h0M205.2 210.4h0M208.3 211.2h0M133.2 204.1h0M129.2 206.8h0M129.1 210.5h0M127.5 213.0h0M201.9 213.0h0M204.3 213.0h0M206.7 213.0h0M209.1 213.0h0M211.5 213.0h0"/>
<path stroke="#ffcc00" d="M190.0 78.9h0M223.7 100.1h0M229.6 107.2h0M232.5 107.6h0M153.3 126.9h0M140.1 128.7h0M225.1 140.3h0M136.1 131.5h0M217.2 145.7h0M234.0 147.9h0M216.8 149.2h0M229.9 150.9h0M216.7 152.4h0M219.9 152.7h0M223.0 153.1h0M216.3 155.8h0M215.8 158.6h0M234.0 99.1h0M234.0 144.7h0M234.0 147.1h0"/>
<path stroke="#ccff33" d="M150.7 73.1h0M196.4 79.8h0M189.2 82.0h0M224.3 96.5h0M227.2 96.9h0M220.3 99.4h0M222.9 106.6h0M154.2 120.5h0M157.4 121.1h0M160.8 121.3h0M173.6 126.4h0M183.1 130.7h0M185.8 131.6h0M156.1 131.0h0M159.7 131.2h0M162.5 131.5h0M185.4 135.0h0M152.5 133.8h0M168.8 135.9h0M171.9 136.5h0M188.7 138.7h0M192.0 138.6h0M211.1 141.8h0M142.1 135.3h0M171.7 139.5h0M175.0 139.9h0M178.4 140.2h0M191.4 142.0h0M194.4 142.4h0M207.6 144.4h0M135.2 138.0h0M174.5 143.3h0M178.0 143.8h0M181.3 144.2h0M194.2 145.7h0M197.6 146.0h0M174.2 146.6h0M177.1 147.1h0M180.3 147.4h0M183.9 147.5h0M197.2 149.5h0M200.0 150.3h0M180.3 150.9h0M183.3 151.3h0M199.5 153.1h0M203.0 153.9h0M229.3 157.0h0M183.2 154.2h0M186.4 154.9h0M189.7 155.5h0M202.4 157.2h0M225.2 160.2h0M186.0 157.9h0M188.9 158.7h0M192.2 159.2h0M198.8 159.6h0M202.4 160.2h0M205.3 160.5h0M221.6 163.1h0M208.4 164.2h0M211.2 165.0h0M214.6 165.3h0M217.9 165.8h0M132.3 160.6h0M234.0 94.3h0M234.0 135.1h0"/>
<path stroke="#1affe5" d="M153.6 74.0h0M157.0 74.1h0M229.3 84.3h0M228.8 87.0h0M175.8 83.4h0M218.4 89.4h0M207.0 101.0h0M209.6 104.9h0M212.5 108.4h0M218.6 112.4h0M221.6 113.0h0M221.6 116.3h0M224.9 116.4h0M220.9 119.5h0M180.2 124.0h0M193.7 125.8h0M216.4 128.9h0M199.8 129.9h0M215.8 132.1h0M219.0 132.5h0M155.2 137.0h0M158.5 137.8h0M148.6 139.5h0M157.5 147.7h0M153.8 150.5h0M153.3 153.5h0M133.2 154.1h0M152.7 157.0h0M155.8 157.1h0M139.4 158.4h0M142.3 159.1h0M145.8 159.2h0M158.6 161.2h0M162.1 161.4h0M165.5 161.9h0M148.6 162.8h0M152.0 163.4h0M155.0 164.0h0M158.4 164.3h0M161.5 164.8h0M164.6 165.1h0M168.3 165.4h0M171.2 166.3h0M174.6 166.6h0M178.0 167.1h0M158.0 167.5h0M180.7 170.9h0M184.3 171.2h0M229.5 177.5h0M233.2 177.5h0M141.3 169.0h0M190.3 175.2h0M193.5 175.9h0M223.0 179.9h0M226.1 180.2h0M130.6 170.5h0M140.8 172.1h0M196.0 179.7h0M199.8 180.0h0M203.0 180.4h0M205.9 180.6h0M209.2 181.0h0M212.5 181.4h0M215.6 182.3h0M219.3 182.7h0M153.5 177.3h0M142.8 179.2h0M153.1 180.4h0M145.6 182.5h0M234.0 175.9h0"/>
<path stroke="#0066ff" d="M171.9 86.2h0M195.3 89.5h0M198.5 89.9h0M175.1 89.9h0M184.6 91.2h0M201.4 93.6h0M194.1 95.7h0M197.2 96.5h0M190.7 98.8h0M173.8 100.1h0M190.3 101.8h0M173.1 102.8h0M189.5 105.5h0M169.5 105.7h0M172.7 106.3h0M189.1 108.4h0M191.9 112.5h0M185.3 114.9h0M188.1 115.0h0M171.4 115.9h0M181.5 117.7h0M184.8 117.9h0M137.4 145.1h0M141.0 145.5h0M144.1 145.5h0M171.8 186.4h0M230.9 194.4h0M161.8 188.2h0M164.9 188.4h0M178.2 190.1h0M181.7 190.9h0M223.9 196.7h0M227.1 197.0h0M155.0 190.5h0M194.2 195.7h0M197.3 196.5h0M200.6 196.7h0M207.1 197.6h0M210.4 198.1h0M213.5 198.4h0M216.9 198.7h0M141.5 191.9h0M130.7 197.3h0M126.4 203.3h0M234.0 192.7h0M234.0 195.1h0"/>
<path stroke="#ff8000" d="M170.3 76.3h0M173.5 76.6h0M176.9 76.7h0M180.2 77.4h0M170.1 79.3h0"/>
<path stroke="#0000cc" d="M166.7 198.7h0M170.4 199.2h0M173.2 199.9h0M150.1 199.8h0M153.5 200.5h0M156.5 200.6h0M159.9 201.3h0M163.1 201.6h0M166.6 201.8h0M169.7 202.3h0M173.3 202.7h0M176.1 203.5h0M179.5 203.9h0M143.4 202.2h0M146.2 202.6h0M149.8 203.1h0M152.8 203.8h0M156.4 203.9h0M159.4 204.3h0M162.5 205.0h0M166.0 205.4h0M169.6 205.7h0M172.5 206.1h0M175.9 206.4h0M179.1 207.0h0M182.2 207.8h0M139.5 205.2h0M143.0 205.6h0M146.3 205.9h0M172.0 209.5h0M175.3 209.8h0M179.0 210.6h0M181.9 210.8h0M185.0 211.0h0M188.6 212.0h0M135.9 207.9h0M138.8 208.5h0M142.1 209.1h0M161.8 211.6h0M165.3 211.9h0M168.7 212.6h0M171.6 212.9h0M175.1 213.0h0M135.2 211.0h0M138.6 211.9h0M142.0 212.1h0M134.7 213.0h0M137.1 213.0h0M139.5 213.0h0M156.3 213.0h0M158.7 213.0h0M161.1 213.0h0M163.5 213.0h0M165.9 213.0h0M168.3 213.0h0M170.7 213.0h0M173.1 213.0h0M175.5 213.0h0M177.9 213.0h0M180.3 213.0h0M182.7 213.0h0M185.1 213.0h0M187.5 213.0h0"/>
<path stroke="#0080ff" d="M212.9 81.7h0M216.0 82.2h0M219.2 82.7h0M212.2 85.0h0M215.7 85.4h0M146.4 79.4h0M156.0 81.1h0M182.5 84.2h0M205.4 87.5h0M149.5 83.1h0M152.8 83.7h0M185.1 88.0h0M201.4 90.3h0M204.6 90.5h0M208.3 90.9h0M178.1 90.2h0M181.6 90.8h0M194.0 99.3h0M170.3 99.1h0M193.6 102.5h0M170.0 102.5h0M193.0 105.8h0M192.6 108.7h0M146.0 109.7h0M149.3 109.6h0M191.4 115.3h0M158.5 114.2h0M188.0 118.1h0M133.6 174.6h0M231.2 190.6h0M129.8 180.5h0M165.5 185.4h0M168.9 185.5h0M175.5 186.6h0M178.3 186.8h0M224.5 193.2h0M227.5 193.8h0M158.3 187.5h0M184.8 191.1h0M188.2 191.6h0M191.3 192.4h0M214.0 195.4h0M217.6 195.8h0M220.8 195.9h0M151.4 190.1h0M204.0 196.9h0M138.3 191.5h0M134.1 194.5h0M127.1 199.9h0M234.0 190.3h0"/>
<path stroke="#ffff00" d="M193.3 79.4h0M186.1 81.6h0M230.4 97.6h0M223.2 103.3h0M226.2 106.9h0M160.4 124.4h0M163.4 125.2h0M169.9 125.7h0M156.4 127.6h0M166.3 128.6h0M169.9 129.3h0M228.4 137.0h0M231.6 137.5h0M136.8 127.9h0M179.0 133.8h0M135.6 134.5h0M210.8 144.9h0M187.7 145.2h0M210.7 148.1h0M210.1 151.6h0M209.3 154.9h0M222.5 156.6h0M219.1 159.3h0M211.8 161.6h0M215.3 162.1h0M234.0 96.7h0M234.0 108.7h0M234.0 139.9h0M234.0 151.9h0"/>
<path stroke="#80ff80" d="M163.4 78.5h0M221.0 93.1h0M217.3 98.9h0M219.7 105.8h0M220.6 122.9h0M223.8 123.0h0M233.8 124.9h0M161.1 118.3h0M226.8 127.2h0M229.9 127.4h0M170.4 122.6h0M229.2 130.8h0M180.0 127.2h0M225.8 133.4h0M192.7 132.4h0M198.6 136.3h0M155.7 133.9h0M159.0 134.2h0M139.1 135.2h0M148.8 136.3h0M165.2 138.6h0M164.8 142.0h0M166.4 152.4h0M169.2 156.1h0M172.1 159.4h0M175.6 159.9h0M191.4 165.6h0M194.9 165.9h0M227.4 170.4h0M138.9 161.8h0M201.0 169.9h0M204.3 170.8h0M207.2 170.8h0M210.9 171.7h0M213.7 172.0h0M217.4 172.2h0M131.6 167.3h0M234.0 91.9h0M234.0 123.1h0"/>
<path stroke="#e5ff1a" d="M166.6 78.9h0M147.1 123.2h0M159.7 128.2h0M162.9 128.6h0M173.2 129.7h0M176.3 129.9h0M179.6 130.6h0M225.4 136.8h0M166.2 132.0h0M169.2 132.5h0M172.8 132.8h0M175.5 133.7h0M182.7 134.2h0M218.2 139.0h0M175.2 136.9h0M178.5 137.3h0M181.8 137.3h0M185.2 138.2h0M214.4 141.7h0M145.8 136.1h0M181.7 140.7h0M185.0 141.0h0M188.0 141.7h0M184.2 144.5h0M190.8 145.3h0M207.2 147.9h0M187.1 148.5h0M190.5 148.6h0M193.9 149.0h0M206.9 150.7h0M232.8 154.6h0M187.0 151.4h0M189.7 152.1h0M193.5 152.6h0M196.5 152.9h0M206.1 154.4h0M225.7 157.1h0M192.5 156.0h0M196.1 156.0h0M199.3 156.3h0M206.0 157.7h0M222.1 159.8h0M195.8 159.3h0M208.5 161.4h0M218.5 162.4h0M234.0 137.5h0M234.0 154.3h0"/>
<path stroke="#4dffb2" d="M160.7 74.7h0M199.7 80.3h0M221.6 89.5h0M231.8 91.2h0M217.7 92.7h0M228.1 93.9h0M213.8 98.4h0M213.1 101.7h0M216.1 105.7h0M219.0 109.3h0M228.3 114.1h0M231.1 121.1h0M154.5 117.0h0M164.3 118.7h0M216.8 125.6h0M147.4 119.7h0M173.7 123.1h0M219.5 129.2h0M189.6 128.3h0M193.1 129.0h0M222.5 133.1h0M199.2 132.9h0M212.3 135.1h0M161.8 138.4h0M135.1 140.9h0M160.2 151.3h0M162.7 155.1h0M162.3 158.5h0M165.6 158.9h0M175.4 163.5h0M141.8 161.9h0M187.6 168.4h0M190.9 168.9h0M230.4 174.2h0M148.3 166.0h0M197.1 172.7h0M200.5 173.7h0M203.5 173.9h0M207.1 174.3h0M217.0 175.5h0M220.2 176.2h0M137.7 168.0h0M151.1 170.2h0M212.8 178.3h0M150.5 173.3h0M146.5 176.1h0M150.0 176.6h0M234.0 118.3h0"/>
<path stroke="#b3ff4c" d="M192.8 82.1h0M220.9 96.5h0M220.1 102.8h0M220.2 126.1h0M223.3 126.2h0M163.8 121.9h0M176.7 127.2h0M232.2 134.2h0M136.7 124.8h0M221.8 136.2h0M188.8 135.0h0M215.3 138.4h0M165.6 135.3h0M194.9 139.1h0M168.5 139.1h0M197.9 143.1h0M200.8 143.3h0M204.2 144.2h0M168.2 142.1h0M171.1 142.7h0M200.8 146.7h0M203.7 147.2h0M170.6 146.3h0M203.2 150.3h0M170.1 149.2h0M173.6 149.5h0M177.2 150.2h0M232.7 157.6h0M173.2 153.0h0M176.4 153.5h0M180.0 153.9h0M228.6 160.3h0M232.0 161.0h0M176.0 156.8h0M179.2 157.4h0M182.4 157.6h0M225.3 163.4h0M228.2 164.1h0M231.4 164.1h0M195.5 162.4h0M198.2 162.8h0M201.7 163.8h0M204.9 163.9h0M221.6 166.2h0M224.5 166.7h0M228.0 166.8h0M135.6 161.0h0M131.6 164.1h0M234.0 132.7h0M234.0 156.7h0M234.0 161.5h0M234.0 163.9h0"/>
<path stroke="#0000b2" d="M149.3 206.3h0M152.9 206.6h0M155.7 207.4h0M159.0 207.5h0M162.3 208.2h0M165.6 208.5h0M168.8 208.9h0M145.4 209.1h0M148.6 209.5h0M152.2 209.9h0M155.2 210.3h0M158.4 211.0h0M145.1 212.3h0M141.9 213.0h0M144.3 213.0h0M146.7 213.0h0M149.1 213.0h0M151.5 213.0h0M153.9 213.0h0"/>
<path stroke="#00b2ff" d="M209.8 81.3h0M205.5 83.9h0M218.8 85.8h0M143.4 78.9h0M153.3 80.2h0M185.9 84.5h0M189.2 85.3h0M204.2 97.2h0M200.5 100.3h0M200.1 103.1h0M196.3 106.4h0M199.3 106.7h0M199.0 109.7h0M198.8 113.4h0M195.1 115.9h0M142.0 112.4h0M191.3 118.7h0M141.4 115.5h0M177.3 120.3h0M180.8 121.0h0M184.3 120.9h0M138.1 118.3h0M141.5 118.9h0M138.1 141.9h0M141.4 142.1h0M134.2 144.7h0M143.9 148.9h0M130.5 174.0h0M136.8 174.8h0M162.8 178.5h0M166.2 178.6h0M169.5 179.0h0M172.8 179.5h0M228.3 187.4h0M232.0 187.7h0M136.7 178.2h0M162.6 181.5h0M179.0 183.8h0M221.8 189.5h0M224.8 189.8h0M136.0 181.0h0M158.7 184.5h0M185.0 188.0h0M211.2 191.7h0M214.5 192.1h0M132.2 183.9h0M128.4 186.7h0M128.3 190.5h0M131.3 190.9h0M127.5 193.4h0M234.0 185.5h0"/>
<path stroke="#0033ff" d="M146.0 82.8h0M169.0 86.0h0M188.3 88.7h0M142.6 85.4h0M155.2 87.2h0M171.7 89.8h0M188.0 91.9h0M178.0 93.5h0M187.7 95.1h0M173.9 96.5h0M177.3 96.7h0M180.7 97.7h0M183.9 98.1h0M180.0 100.5h0M183.3 100.9h0M163.1 105.3h0M149.8 106.3h0M152.6 107.0h0M165.9 108.8h0M172.5 109.9h0M175.4 110.2h0M178.8 110.5h0M182.4 111.2h0M168.6 112.5h0M171.9 112.9h0M178.5 114.0h0M161.0 191.6h0M164.8 191.6h0M181.0 193.8h0M183.9 194.3h0M147.9 192.6h0M193.7 199.0h0M196.8 199.7h0M200.0 199.7h0M203.2 200.6h0M140.6 195.0h0M206.4 204.3h0M209.7 204.5h0M212.5 205.3h0M215.9 205.7h0M219.3 205.8h0M222.6 206.3h0M226.0 206.8h0M228.9 207.2h0M232.1 207.9h0M221.9 209.4h0M225.7 209.9h0M228.9 210.2h0M231.8 210.9h0M130.3 200.6h0M126.2 206.8h0M125.4 209.9h0M234.0 207.1h0M234.0 209.5h0M234.0 211.9h0"/>
<path stroke="#ffe500" d="M167.1 75.4h0M226.4 103.6h0M150.7 123.3h0M154.0 123.6h0M157.1 124.3h0M167.1 125.3h0M140.0 125.4h0M153.0 130.6h0M221.4 139.9h0M231.4 140.7h0M149.2 133.1h0M218.1 142.3h0M214.4 145.3h0M214.0 148.7h0M233.4 151.4h0M213.4 151.7h0M226.7 153.8h0M229.4 153.8h0M212.7 155.2h0M219.4 156.1h0M208.9 157.7h0M212.3 158.3h0M234.0 142.3h0M234.0 149.5h0"/>
<path stroke="#0000e6" d="M161.5 91.4h0M144.4 92.7h0M148.1 93.0h0M151.3 93.4h0M161.2 94.7h0M144.3 95.6h0M147.6 96.2h0M150.6 96.4h0M167.6 195.8h0M170.7 195.8h0M150.7 196.7h0M153.8 197.1h0M157.1 197.4h0M160.3 198.1h0M163.9 198.2h0M176.8 199.9h0M180.2 200.6h0M183.5 201.2h0M186.8 201.7h0M143.3 198.7h0M146.7 199.6h0M182.8 204.6h0M186.2 204.6h0M189.2 205.2h0M139.7 201.6h0M185.8 208.0h0M188.7 208.6h0M192.2 209.1h0M136.2 204.5h0M191.6 212.1h0M195.3 212.3h0M198.4 212.9h0M132.7 207.4h0M132.2 210.5h0M129.9 213.0h0M132.3 213.0h0M189.9 213.0h0M192.3 213.0h0M194.7 213.0h0M197.1 213.0h0M199.5 213.0h0"/>
<path stroke="#004dff" d="M208.6 88.1h0M142.5 82.1h0M155.8 84.0h0M159.1 84.6h0M162.3 85.1h0M165.6 85.3h0M191.9 89.2h0M149.1 86.5h0M152.1 87.0h0M191.2 92.5h0M194.6 92.7h0M197.9 93.3h0M181.4 93.9h0M184.3 94.7h0M191.0 95.5h0M171.1 96.2h0M187.3 98.1h0M167.4 99.0h0M177.0 100.0h0M186.5 101.7h0M166.8 102.4h0M176.7 103.3h0M179.5 104.2h0M182.9 104.6h0M186.1 104.8h0M166.6 105.7h0M176.1 106.8h0M179.3 107.4h0M182.5 107.7h0M186.1 108.3h0M169.1 109.0h0M185.5 111.2h0M189.0 111.6h0M139.1 108.7h0M142.3 108.7h0M152.2 110.5h0M182.0 114.0h0M174.8 116.9h0M178.1 117.2h0M168.0 189.1h0M171.7 189.2h0M174.7 190.0h0M230.3 197.6h0M233.6 197.8h0M158.0 190.7h0M187.6 195.2h0M190.7 195.6h0M220.4 199.6h0M223.5 199.7h0M226.7 200.2h0M229.9 200.5h0M233.5 201.0h0M144.5 192.7h0M206.5 200.6h0M210.0 201.1h0M213.2 201.9h0M216.3 202.1h0M220.0 202.8h0M223.2 202.8h0M226.6 203.5h0M229.4 204.2h0M232.6 204.7h0M137.8 194.9h0M133.6 197.6h0M234.0 197.5h0M234.0 199.9h0M234.0 202.3h0M234.0 204.7h0"/>
<path stroke="#99ff66" d="M163.9 75.1h0M147.0 76.0h0M231.2 94.0h0M225.7 110.1h0M228.9 110.7h0M232.0 111.0h0M233.1 128.1h0M151.1 120.0h0M167.2 122.4h0M232.9 130.9h0M144.3 122.3h0M228.7 133.6h0M189.6 131.9h0M218.6 135.8h0M192.4 135.4h0M195.7 136.0h0M212.1 138.4h0M162.3 134.9h0M198.4 139.7h0M201.7 140.4h0M205.1 140.8h0M208.3 141.1h0M145.2 139.3h0M167.4 145.6h0M167.0 148.6h0M169.8 152.7h0M172.6 156.2h0M178.9 160.3h0M182.0 160.8h0M185.6 161.1h0M188.6 162.0h0M192.0 162.1h0M231.0 167.4h0M132.6 157.6h0M198.1 166.2h0M201.3 166.9h0M204.3 167.3h0M207.8 167.5h0M210.9 168.3h0M214.3 168.4h0M217.5 169.0h0M220.8 169.4h0M224.1 169.7h0M135.0 164.8h0M234.0 111.1h0M234.0 125.5h0M234.0 127.9h0M234.0 130.3h0M234.0 159.1h0M234.0 166.3h0M234.0 168.7h0"/>
<path stroke="#66ff99" d="M224.6 93.6h0M217.4 95.9h0M216.5 102.3h0M222.1 109.7h0M231.6 114.2h0M227.4 123.8h0M230.1 124.1h0M157.9 117.6h0M223.2 130.0h0M226.3 130.5h0M140.8 122.1h0M183.4 127.4h0M186.4 128.3h0M195.8 132.8h0M215.8 135.4h0M202.0 137.0h0M205.2 137.4h0M208.4 138.0h0M164.2 145.3h0M163.9 148.5h0M163.6 151.4h0M165.9 155.2h0M168.8 159.1h0M178.5 163.5h0M181.5 164.0h0M184.9 164.7h0M187.9 165.0h0M230.5 170.8h0M233.9 171.5h0M194.2 169.3h0M197.5 169.8h0M220.6 172.6h0M223.9 173.2h0M227.0 173.4h0M138.0 164.8h0M210.1 174.5h0M213.6 175.4h0M134.8 167.9h0M147.7 169.7h0M147.3 172.7h0M234.0 113.5h0M234.0 115.9h0M234.0 120.7h0M234.0 171.1h0"/>
<path stroke="#00ccff" d="M206.0 80.7h0M202.6 83.9h0M215.0 89.0h0M211.2 91.4h0M208.0 94.4h0M202.0 110.2h0M201.7 113.5h0M198.3 116.2h0M145.5 112.5h0M148.5 113.1h0M194.4 119.5h0M197.5 119.5h0M145.0 115.8h0M171.3 119.4h0M187.3 121.6h0M190.5 121.9h0M148.1 143.0h0M151.2 143.3h0M150.4 146.4h0M133.9 148.0h0M147.0 149.5h0M137.0 151.1h0M160.3 174.6h0M163.8 174.8h0M166.8 175.5h0M169.9 175.9h0M173.3 176.3h0M232.2 184.5h0M159.8 177.9h0M176.2 180.0h0M179.6 180.8h0M225.4 187.0h0M159.3 181.3h0M182.4 184.0h0M185.4 184.4h0M218.5 189.2h0M139.3 181.6h0M155.8 184.2h0M188.6 188.1h0M191.8 189.1h0M195.1 189.5h0M198.1 189.8h0M201.2 190.3h0M204.8 190.5h0M207.7 190.8h0M135.8 184.4h0M152.0 186.5h0M131.8 187.2h0M135.0 188.0h0M138.6 188.2h0M141.4 188.9h0M144.8 188.9h0M234.0 183.1h0"/>
<path stroke="#ffb300" d="M186.8 78.2h0M182.9 80.8h0M226.8 100.6h0M233.2 101.0h0M229.9 104.0h0M232.8 104.7h0M143.8 126.0h0M143.3 129.3h0M149.9 129.6h0M228.2 140.2h0M139.4 132.0h0M142.7 132.0h0M145.8 132.9h0M221.3 142.6h0M224.3 143.4h0M227.4 143.8h0M231.2 144.0h0M220.7 145.9h0M227.1 147.1h0M230.6 147.5h0M220.5 149.7h0M223.7 149.8h0M226.6 150.4h0M234.0 101.5h0M234.0 103.9h0M234.0 106.3h0"/>
<path stroke="#0099ff" d="M222.6 83.4h0M209.2 84.9h0M149.7 79.9h0M159.8 81.5h0M162.8 82.0h0M192.5 85.9h0M195.8 86.2h0M198.5 86.7h0M201.9 86.9h0M212.0 88.2h0M175.4 87.0h0M179.0 87.1h0M182.3 87.8h0M204.5 94.1h0M200.9 96.8h0M197.2 99.5h0M196.8 103.2h0M195.5 109.5h0M195.2 112.6h0M138.8 112.0h0M151.8 113.4h0M155.2 114.2h0M161.5 114.8h0M165.0 115.1h0M168.0 115.6h0M138.2 115.3h0M174.2 119.7h0M147.3 146.3h0M137.3 148.4h0M140.5 148.8h0M130.0 176.9h0M133.3 177.6h0M165.9 182.1h0M169.1 182.5h0M172.5 183.1h0M175.7 183.3h0M227.8 190.7h0M132.8 180.6h0M162.1 185.1h0M182.0 187.6h0M217.6 192.2h0M220.9 192.7h0M129.0 183.4h0M155.5 187.1h0M194.7 192.3h0M197.5 192.8h0M200.8 193.6h0M204.3 193.8h0M207.5 194.3h0M210.8 194.9h0M148.4 189.9h0M134.6 191.2h0M131.1 194.0h0M127.2 196.8h0M234.0 187.9h0"/>
<path stroke="#0019ff" d="M145.4 86.2h0M158.5 87.8h0M142.1 89.0h0M151.6 90.3h0M155.2 90.7h0M171.4 92.9h0M174.4 93.5h0M167.8 95.4h0M160.0 101.4h0M163.4 101.9h0M150.1 103.1h0M153.0 103.6h0M156.4 103.9h0M159.5 104.7h0M139.7 105.1h0M142.9 105.6h0M146.4 106.1h0M156.0 107.6h0M159.5 108.1h0M162.6 108.0h0M155.6 110.8h0M158.7 110.8h0M165.6 112.1h0M175.4 113.2h0M168.0 192.1h0M171.3 192.6h0M174.5 193.2h0M177.4 193.6h0M150.9 193.3h0M154.2 193.5h0M183.9 197.6h0M187.1 197.9h0M190.5 198.7h0M196.2 202.9h0M199.4 203.4h0M202.8 203.7h0M137.2 197.9h0M202.5 207.2h0M206.0 207.4h0M209.2 208.0h0M212.2 208.2h0M215.7 208.6h0M218.8 209.2h0M133.2 200.7h0M211.7 211.3h0M214.9 212.1h0M218.3 212.6h0M221.9 213.1h0M129.6 203.5h0M125.1 213.0h0M213.9 213.0h0M216.3 213.0h0M218.7 213.0h0M221.1 213.0h0M223.5 213.0h0M225.9 213.0h0M228.3 213.0h0M230.7 213.0h0M233.1 213.0h0"/>
<path stroke="#33ffcc" d="M149.9 76.9h0M160.0 78.0h0M196.1 82.8h0M169.5 82.8h0M172.7 83.0h0M225.0 90.3h0M228.0 90.7h0M214.3 95.1h0M210.8 97.9h0M209.9 101.1h0M212.7 105.1h0M215.9 108.6h0M224.9 113.3h0M227.8 117.4h0M231.0 117.4h0M224.2 119.9h0M227.4 120.5h0M217.3 122.3h0M151.6 116.9h0M177.2 123.4h0M137.4 121.3h0M196.6 129.3h0M202.3 133.8h0M205.6 134.1h0M208.8 134.5h0M152.3 136.8h0M142.0 139.0h0M161.4 141.7h0M161.2 144.9h0M160.6 148.2h0M157.0 150.6h0M156.6 154.3h0M159.4 154.5h0M159.1 158.0h0M136.0 157.7h0M168.3 162.3h0M171.6 162.8h0M145.3 162.5h0M181.1 167.6h0M184.2 168.1h0M233.4 174.2h0M141.3 165.7h0M144.9 165.9h0M151.6 166.6h0M154.7 167.1h0M187.0 171.3h0M190.7 172.2h0M194.0 172.5h0M223.2 176.6h0M226.5 176.7h0M144.5 169.2h0M154.0 170.6h0M196.9 175.9h0M200.1 176.8h0M203.3 177.3h0M206.7 177.6h0M210.0 178.0h0M216.6 178.7h0M219.6 179.5h0M143.8 172.4h0M154.0 173.6h0M143.3 175.7h0M146.6 179.2h0M149.4 179.6h0M234.0 89.5h0M234.0 173.5h0"/>
<path stroke="#00ffff" d="M203.2 80.2h0M226.0 83.8h0M232.5 84.2h0M157.0 77.5h0M225.3 86.8h0M232.0 87.8h0M214.9 91.8h0M211.1 95.1h0M206.7 104.0h0M209.4 107.8h0M212.4 111.4h0M215.1 111.8h0M211.4 114.8h0M214.7 115.1h0M218.2 116.0h0M211.3 118.0h0M214.5 118.6h0M217.5 119.1h0M213.9 121.8h0M148.3 116.6h0M213.4 125.3h0M183.5 124.5h0M186.8 124.7h0M190.3 125.6h0M196.7 126.0h0M199.9 126.6h0M209.8 127.9h0M213.4 128.3h0M203.1 130.4h0M206.2 130.7h0M209.2 131.3h0M212.9 131.6h0M138.3 138.6h0M157.9 141.1h0M144.8 142.2h0M157.7 144.1h0M149.9 152.9h0M136.4 154.7h0M139.6 155.2h0M142.7 155.4h0M146.4 155.9h0M149.2 156.8h0M148.7 159.7h0M152.2 160.1h0M155.3 160.7h0M161.0 167.9h0M164.6 168.5h0M167.5 168.8h0M171.0 169.3h0M174.3 170.0h0M177.6 170.4h0M157.7 170.9h0M177.3 173.8h0M180.2 174.0h0M183.9 174.2h0M186.6 174.7h0M229.1 180.4h0M134.3 170.9h0M137.6 171.4h0M156.8 174.1h0M180.2 177.1h0M183.1 178.0h0M186.2 177.9h0M189.4 178.8h0M193.0 179.0h0M222.3 183.0h0M140.2 175.3h0M156.4 177.7h0M186.1 181.5h0M189.4 181.8h0M192.3 182.4h0M195.9 182.6h0M199.2 182.9h0M202.5 183.8h0M205.9 183.8h0M209.0 184.7h0M211.9 185.0h0M215.2 185.2h0M142.4 182.1h0M149.1 182.9h0M145.4 185.9h0M234.0 87.1h0M234.0 178.3h0"/>
<path stroke="#ff9900" d="M183.2 77.5h0M173.0 79.9h0M176.2 80.1h0M179.9 80.6h0M230.0 100.7h0M146.6 126.3h0M150.0 126.6h0M146.2 129.6h0M224.2 146.5h0"/>
</g>
<g stroke-width="3.5">
<path stroke="#80ff80" d="M228.7 96.2h0M228.9 109.9h0M232.0 119.4h0M164.1 122.1h0M177.4 128.4h0M136.9 126.4h0M199.9 134.6h0M187.4 137.1h0M172.4 143.2h0M181.3 152.7h0M180.4 160.6h0M202.7 163.7h0M221.1 165.8h0M139.5 157.9h0M191.1 163.7h0M190.5 166.2h0M226.0 170.8h0M227.9 171.3h0M150.6 166.3h0M150.6 182.0h0"/>
<path stroke="#ff6600" d="M180.7 79.9h0M159.3 121.3h0M138.7 131.1h0"/>
<path stroke="#ff9900" d="M176.1 81.6h0M229.9 104.8h0M229.2 107.2h0M145.9 127.0h0M167.0 132.0h0M199.6 155.7h0"/>
<path stroke="#0080ff" d="M154.1 83.2h0M178.1 89.5h0M199.2 100.9h0M190.0 102.7h0M203.7 104.0h0M215.0 106.5h0M209.4 111.7h0M190.3 112.5h0M188.7 114.3h0M139.0 109.9h0M151.9 116.4h0M144.9 150.9h0M153.5 157.5h0M162.6 162.7h0M232.8 186.6h0M130.1 177.3h0M132.5 179.3h0M171.5 185.9h0M173.6 185.9h0M175.7 185.4h0M182.4 189.6h0M133.5 184.4h0M183.2 191.0h0M189.8 191.8h0M196.7 195.5h0M127.7 191.9h0"/>
<path stroke="#0099ff" d="M201.9 81.0h0M215.7 86.4h0M143.6 79.5h0M180.1 89.0h0M205.4 94.4h0M173.2 100.0h0M215.9 115.7h0M148.9 111.1h0M171.6 116.6h0M144.7 117.5h0M148.4 146.6h0M136.5 168.7h0M159.2 171.2h0M194.1 176.5h0M176.2 181.5h0M223.5 189.9h0M169.5 185.0h0M188.4 187.3h0M159.9 186.5h0M184.5 189.3h0M137.8 185.4h0M126.3 200.5h0M126.1 202.6h0"/>
<path stroke="#0000ff" d="M158.8 89.2h0M157.6 91.1h0M160.4 91.1h0M145.8 91.5h0M153.8 93.1h0M154.9 95.7h0M160.5 95.6h0M161.6 96.7h0M148.3 96.1h0M140.3 98.3h0M154.9 100.2h0M158.8 100.7h0M145.5 101.5h0M177.0 196.0h0M151.7 193.9h0M153.3 194.2h0M163.5 195.8h0M186.7 199.3h0M141.5 197.7h0M138.4 199.8h0"/>
<path stroke="#e5ff1a" d="M190.4 129.1h0M153.0 130.0h0M212.8 139.2h0M217.5 140.0h0M181.1 136.2h0M190.3 137.7h0M212.9 140.5h0M146.8 136.7h0M183.8 146.9h0M195.4 150.3h0M216.0 154.0h0M208.4 154.4h0M177.8 152.6h0M192.5 154.5h0M191.9 156.8h0M207.5 164.2h0M209.9 164.6h0M231.3 166.6h0"/>
<path stroke="#b3ff4c" d="M226.1 94.9h0M215.1 107.7h0M234.7 120.1h0M197.1 131.9h0M178.4 136.5h0M214.7 143.1h0M135.1 137.5h0M159.9 146.4h0M168.9 146.9h0M213.7 152.9h0M201.0 158.9h0M217.7 160.7h0M228.2 167.3h0M172.0 161.6h0M216.8 169.6h0M197.5 169.2h0M224.8 173.0h0M145.2 172.5h0"/>
<path stroke="#66ff99" d="M178.2 82.1h0M209.5 100.6h0M225.7 114.6h0M232.4 118.2h0M220.9 120.8h0M168.9 120.3h0M188.5 125.9h0M226.3 130.8h0M210.9 136.1h0M202.1 136.6h0M136.7 139.7h0M161.6 148.5h0M187.7 157.3h0M218.9 168.3h0M134.1 159.3h0M145.2 168.2h0M186.9 176.1h0M214.9 182.3h0M195.9 182.0h0"/>
<path stroke="#4dffb2" d="M234.7 86.8h0M211.7 95.6h0M191.1 130.3h0M153.8 154.0h0M187.0 163.5h0M157.7 161.8h0M180.7 170.5h0M192.4 171.6h0M222.6 175.9h0M196.6 173.8h0M153.9 173.8h0M205.5 182.5h0M186.0 182.4h0M198.4 184.6h0"/>
<path stroke="#00ffff" d="M205.6 107.0h0M206.5 116.0h0M209.2 116.4h0M210.8 119.3h0M205.3 128.0h0M181.7 126.9h0M169.4 161.2h0M174.7 164.2h0M185.5 173.1h0M174.8 178.5h0M180.1 179.2h0M139.4 179.2h0M153.6 182.4h0"/>
<path stroke="#0000e6" d="M160.9 94.1h0M145.4 93.8h0M146.0 96.2h0M150.8 97.4h0M164.9 196.6h0M169.7 196.3h0M176.3 198.5h0M152.8 196.9h0M165.1 198.1h0M177.1 199.7h0M189.9 206.4h0M192.4 206.9h0M191.7 208.7h0M201.0 213.5h0"/>
<path stroke="#33ffcc" d="M164.0 80.2h0M222.4 93.0h0M207.6 109.3h0M202.2 118.4h0M194.2 119.5h0M164.6 117.8h0M173.4 121.2h0M231.1 130.0h0M200.3 127.5h0M228.7 131.7h0M207.1 135.8h0M161.6 133.5h0M164.1 134.8h0M148.9 137.3h0M141.5 140.4h0M158.1 144.8h0M234.7 160.0h0M137.8 154.7h0M145.1 155.1h0M195.9 162.5h0M200.0 168.2h0M206.4 170.5h0M159.2 167.1h0M164.5 167.8h0M229.5 179.5h0M130.9 168.6h0M204.0 177.4h0M202.6 180.2h0M220.0 182.6h0M228.1 183.4h0"/>
<path stroke="#0000cc" d="M159.5 200.6h0M179.1 203.5h0M146.1 200.3h0M154.8 201.7h0M157.7 202.3h0M173.6 204.1h0M148.2 203.2h0M150.4 203.9h0M152.4 204.0h0M153.8 207.2h0M156.9 206.6h0M161.2 210.3h0M170.1 211.8h0M177.3 211.8h0M137.3 209.8h0M142.0 209.8h0M144.1 209.9h0M132.5 213.5h0"/>
<path stroke="#ffb300" d="M186.3 80.7h0M148.4 133.0h0M145.1 134.8h0M186.8 142.7h0M190.4 150.5h0"/>
<path stroke="#0000b2" d="M159.9 205.1h0M166.1 210.6h0M147.4 209.7h0M158.9 211.7h0M172.8 213.4h0M146.9 213.2h0M148.1 213.4h0"/>
<path stroke="#0019ff" d="M165.8 87.2h0M156.1 88.4h0M155.6 90.2h0M172.3 93.3h0M164.1 99.2h0M162.0 100.4h0M144.9 102.8h0M151.3 104.6h0M160.4 105.3h0M144.7 105.2h0M153.7 106.8h0M162.2 110.3h0M168.1 192.4h0M173.5 193.1h0M179.0 195.6h0M188.7 199.4h0M195.9 200.4h0M194.7 203.3h0M208.8 209.8h0M210.8 208.9h0M214.9 209.7h0M125.9 209.8h0M125.9 212.0h0"/>
<path stroke="#0033ff" d="M156.6 85.5h0M198.0 92.1h0M141.6 86.4h0M172.2 89.9h0M173.6 96.2h0M179.3 96.7h0M167.1 97.5h0M180.5 98.8h0M183.2 98.9h0M183.5 101.8h0M174.3 109.5h0M181.8 110.6h0M166.8 111.5h0M164.1 112.7h0M179.1 115.1h0M165.8 191.3h0M177.1 192.9h0M193.8 197.7h0M223.5 204.1h0M213.3 205.9h0M216.8 205.7h0M229.6 207.4h0M232.8 207.5h0M230.0 209.8h0"/>
<path stroke="#00e5ff" d="M209.6 94.9h0M201.0 108.3h0M203.8 123.6h0M204.8 132.4h0M156.4 138.3h0M135.9 149.0h0M143.3 152.8h0M133.8 166.0h0M152.0 170.7h0M161.5 172.3h0M216.9 179.2h0M188.8 178.8h0M222.1 182.0h0M139.0 175.7h0M155.7 180.4h0M139.1 182.8h0M143.1 186.0h0M135.2 187.3h0"/>
<path stroke="#ffcc00" d="M169.5 131.0h0M170.7 135.1h0M189.7 139.9h0M179.9 143.8h0M167.6 149.1h0M183.2 151.4h0"/>
<path stroke="#ffe500" d="M230.9 94.3h0M225.7 138.0h0M192.1 138.2h0M219.6 142.2h0M221.8 142.3h0M184.9 139.7h0M216.8 143.4h0M182.7 141.7h0M233.3 148.9h0M212.0 147.5h0M230.0 153.2h0M182.4 153.9h0M210.4 157.6h0M187.0 158.3h0M194.6 169.0h0"/>
<path stroke="#00ccff" d="M199.4 80.2h0M220.3 89.6h0M214.8 91.7h0M200.4 99.0h0M208.1 104.5h0M198.6 108.9h0M225.0 118.5h0M147.7 113.6h0M158.1 114.4h0M162.3 115.1h0M182.3 122.8h0M211.9 131.9h0M150.5 149.7h0M137.3 157.2h0M155.4 168.7h0M200.5 177.1h0M180.1 177.4h0M144.8 176.7h0M183.5 185.1h0M215.5 189.0h0M208.9 190.5h0M143.9 184.4h0M145.7 186.6h0M150.1 187.1h0M129.2 187.2h0M130.0 194.4h0"/>
<path stroke="#ff8000" d="M142.9 132.2h0"/>
<path stroke="#0066ff" d="M166.4 83.3h0M210.3 88.0h0M199.2 88.7h0M151.7 87.3h0M195.6 96.4h0M190.6 97.1h0M196.6 101.4h0M170.8 107.3h0M212.5 127.1h0M163.4 179.4h0M225.6 193.0h0M227.5 192.6h0M168.6 187.7h0M171.2 187.4h0M161.3 188.1h0M154.4 190.3h0M223.6 199.5h0M142.1 192.5h0"/>
<path stroke="#ccff33" d="M221.0 104.7h0M222.3 125.1h0M157.3 118.6h0M159.0 120.1h0M233.6 131.8h0M174.3 126.3h0M190.0 135.9h0M135.5 136.0h0M143.0 135.8h0M229.6 162.6h0M211.9 166.5h0M199.7 170.8h0M140.4 166.7h0M146.9 170.4h0"/>
<path stroke="#00b2ff" d="M152.4 78.0h0M152.3 80.3h0M164.5 82.0h0M198.8 86.7h0M204.1 87.0h0M215.8 89.7h0M175.8 86.8h0M200.6 113.2h0M140.1 114.2h0M151.5 139.6h0M133.6 146.6h0M136.1 152.1h0M133.3 171.1h0M165.5 175.7h0M162.6 176.8h0M166.1 177.2h0M234.9 187.1h0M186.0 186.9h0M194.8 190.4h0M136.1 185.5h0M156.5 187.7h0M130.4 188.8h0"/>
<path stroke="#004dff" d="M142.1 84.3h0M154.4 86.1h0M177.0 91.7h0M182.4 92.1h0M187.1 91.8h0M193.6 93.7h0M169.8 96.9h0M190.2 99.4h0M182.4 104.5h0M181.8 105.4h0M184.2 109.2h0M207.4 111.2h0M150.7 109.4h0M181.1 115.3h0M181.0 117.5h0M138.4 145.3h0M178.7 188.5h0M227.1 197.8h0M156.8 190.7h0M187.2 194.1h0M233.3 200.4h0M216.3 201.1h0M139.5 192.9h0M225.5 206.4h0M129.7 200.8h0"/>
<path stroke="#99ff66" d="M221.1 97.3h0M224.1 111.4h0M232.8 112.5h0M228.1 117.2h0M224.4 123.8h0M232.2 126.9h0M234.7 135.0h0M140.6 129.4h0M172.9 140.7h0M168.1 141.7h0M168.0 144.9h0M204.2 149.3h0M232.1 153.5h0M169.0 154.5h0M176.0 154.5h0M168.1 156.3h0M203.5 160.6h0M194.9 167.8h0M159.8 164.3h0M228.1 173.9h0M144.8 169.4h0"/>
<path stroke="#ff4c00" d="M182.0 77.6h0M177.0 130.9h0M223.7 138.0h0M228.5 145.1h0"/>
<path stroke="#1affe5" d="M156.1 76.8h0M220.7 87.3h0M206.9 97.5h0M203.1 111.4h0M218.3 118.4h0M211.3 122.0h0M147.8 118.5h0M186.6 126.3h0M207.6 130.7h0M154.8 135.8h0M138.5 135.5h0M158.6 159.3h0M154.0 171.2h0M205.2 178.0h0M164.0 175.3h0M207.3 181.2h0M224.0 185.8h0M147.2 177.8h0M218.8 186.3h0M180.6 183.8h0M192.3 186.5h0M137.7 187.7h0"/>
<path stroke="#ffff00" d="M183.3 77.9h0M175.8 79.2h0M222.9 104.3h0M153.7 125.8h0M225.1 135.2h0M164.3 129.8h0M206.0 137.4h0M205.5 147.3h0M228.6 150.4h0"/>
<path stroke="#0019ff" d="M161.7 86.6h0M153.7 90.8h0M172.2 94.7h0M163.0 104.0h0M158.3 108.3h0M162.6 108.4h0M155.7 109.0h0M158.5 109.3h0M170.6 192.9h0M187.1 196.9h0M144.1 195.4h0M199.7 205.2h0M202.0 206.0h0M204.2 206.2h0M226.8 212.5h0M210.1 211.2h0M219.3 213.5h0M221.6 213.6h0M130.5 203.2h0"/>
<path stroke="#ffcc00" d="M187.7 78.7h0M149.1 75.7h0M167.2 78.6h0M173.5 133.2h0M225.7 140.0h0M192.0 141.1h0M216.8 150.4h0M228.8 152.0h0M220.4 155.7h0"/>
<path stroke="#b3ff4c" d="M218.6 99.0h0M218.6 103.4h0M219.5 116.3h0M159.9 127.3h0M171.6 131.1h0M190.2 133.3h0M234.9 138.8h0M194.3 138.0h0M233.6 145.8h0M171.2 140.3h0M193.1 150.0h0M170.8 152.5h0M187.5 153.6h0M171.2 153.8h0M196.9 157.3h0M208.9 159.1h0M233.7 167.6h0M188.6 166.3h0M136.0 163.7h0"/>
<path stroke="#0000cc" d="M150.8 199.7h0M153.5 198.7h0M155.8 199.7h0M152.7 201.7h0M171.0 204.6h0M178.5 205.3h0M143.2 202.9h0M145.2 202.7h0M171.1 206.9h0M175.2 207.5h0M158.8 207.7h0M174.9 209.9h0M184.9 210.5h0M137.6 207.2h0M172.3 211.4h0M181.6 212.8h0M165.1 212.6h0"/>
<path stroke="#0099ff" d="M211.4 83.9h0M196.5 84.2h0M178.4 83.8h0M152.5 83.8h0M180.6 87.0h0M203.2 94.8h0M189.1 107.6h0M195.8 113.1h0M193.1 117.1h0M196.8 117.1h0M152.7 113.9h0M167.2 115.7h0M208.6 121.0h0M182.4 120.1h0M143.3 148.3h0M142.6 157.0h0M156.6 169.0h0M131.3 170.6h0M170.7 176.1h0M229.8 187.9h0M134.3 177.3h0M134.8 179.6h0M155.6 183.7h0M161.9 183.5h0M187.6 190.0h0M201.6 192.1h0M131.4 184.3h0M140.1 185.7h0M155.2 188.3h0M151.6 190.4h0"/>
<path stroke="#0000e6" d="M151.0 95.4h0M167.6 194.8h0M172.9 197.9h0M181.6 200.4h0M189.9 204.1h0M195.9 211.9h0M135.0 206.8h0"/>
<path stroke="#0000b2" d="M148.1 205.6h0M150.2 206.5h0M151.7 206.1h0M156.0 209.4h0M163.3 209.8h0"/>
<path stroke="#0033ff" d="M158.6 86.5h0M183.3 95.2h0M187.9 94.8h0M170.1 95.3h0M174.2 98.0h0M175.7 98.5h0M177.8 98.3h0M166.9 98.6h0M180.8 103.5h0M179.1 109.9h0M169.9 111.7h0M179.2 112.8h0M154.9 112.3h0M172.0 113.6h0M173.7 190.6h0M188.4 196.5h0M196.3 198.2h0M198.6 198.9h0M228.7 202.7h0M204.2 201.1h0M139.0 195.6h0M204.2 203.9h0M221.2 206.3h0M232.0 210.4h0"/>
<path stroke="#99ff66" d="M233.7 91.9h0M220.3 92.6h0M230.3 116.9h0M222.1 123.5h0M227.1 128.1h0M186.7 140.5h0M200.8 142.3h0M201.1 146.2h0M202.2 149.6h0M202.5 151.9h0M155.4 150.3h0M222.4 159.4h0M229.7 160.6h0M158.4 155.7h0M169.5 163.2h0M234.4 172.8h0"/>
<path stroke="#4dffb2" d="M154.1 74.0h0M161.8 76.9h0M209.9 97.9h0M216.7 99.2h0M213.6 115.1h0M181.5 125.4h0M221.4 130.4h0M183.5 127.4h0M218.9 134.2h0M198.9 139.2h0M181.2 148.3h0M231.8 154.9h0M201.6 154.3h0M154.3 152.7h0M177.5 157.9h0M189.4 161.8h0M195.3 165.0h0M152.6 164.0h0M206.8 172.8h0M198.1 179.1h0M142.9 173.8h0M188.4 180.7h0M191.4 180.3h0M146.7 179.5h0M208.7 187.6h0"/>
<path stroke="#ff9900" d="M229.9 102.8h0M151.3 125.6h0M182.8 132.4h0M215.4 141.1h0M214.8 148.3h0M220.2 159.2h0"/>
<path stroke="#66ff99" d="M145.9 76.9h0M234.6 89.5h0M219.3 108.7h0M179.9 124.8h0M191.4 126.0h0M183.0 135.1h0M137.3 137.8h0M144.7 141.1h0M174.0 148.0h0M179.2 149.0h0M165.2 158.6h0M156.4 162.3h0M144.1 162.9h0M162.2 165.0h0M224.9 178.8h0"/>
<path stroke="#ffe500" d="M218.9 101.3h0M179.4 132.1h0M184.1 142.5h0M212.4 146.2h0M221.6 147.2h0M186.1 144.7h0M218.6 149.1h0M169.6 144.9h0M212.2 153.1h0M227.4 154.4h0M198.8 157.9h0M215.6 160.7h0M208.1 162.3h0"/>
<path stroke="#33ffcc" d="M158.2 76.5h0M232.1 89.0h0M221.8 108.4h0M231.3 115.6h0M232.3 125.3h0M157.8 117.3h0M227.1 126.2h0M211.0 126.3h0M217.0 127.8h0M194.0 126.1h0M217.3 130.2h0M219.9 130.5h0M158.7 138.3h0M147.1 139.1h0M176.2 148.3h0M188.9 156.8h0M158.1 158.0h0M195.8 176.3h0M231.0 181.8h0M138.9 180.2h0"/>
<path stroke="#e5ff1a" d="M233.7 94.2h0M225.5 102.7h0M154.9 118.6h0M169.5 133.1h0M176.0 136.1h0M202.6 144.1h0M217.0 146.7h0M189.0 145.3h0M199.7 148.5h0M229.6 157.0h0M203.5 156.3h0M188.7 159.6h0"/>
<path stroke="#0000ff" d="M146.7 87.6h0M142.0 88.9h0M144.5 89.3h0M166.9 92.9h0M155.7 92.4h0M164.0 96.5h0M141.6 95.5h0M157.2 98.4h0M154.5 101.7h0M147.6 103.5h0M160.4 109.7h0M165.5 194.4h0M183.3 198.1h0M187.7 202.4h0M195.1 207.5h0M197.3 209.4h0M199.7 209.9h0M206.3 210.7h0M133.8 204.5h0M131.1 205.9h0M130.4 208.7h0"/>
<path stroke="#004dff" d="M212.8 87.1h0M206.0 88.4h0M168.3 84.9h0M184.2 92.5h0M200.9 94.6h0M181.9 94.6h0M187.9 97.0h0M185.2 99.1h0M171.6 109.3h0M186.7 111.5h0M188.9 111.9h0M160.5 113.3h0M163.0 113.3h0M164.1 188.9h0M226.1 199.5h0M230.6 201.1h0M200.5 198.7h0M214.8 200.7h0M223.8 201.2h0M230.7 203.0h0M223.5 205.9h0"/>
<path stroke="#00e5ff" d="M206.6 80.3h0M161.7 81.6h0M217.6 94.0h0M203.7 108.4h0M219.2 111.3h0M218.7 113.1h0M197.1 122.5h0M213.5 125.0h0M202.7 127.9h0M158.8 142.6h0M149.2 144.1h0M155.5 147.1h0M140.4 152.4h0M136.5 159.6h0M175.3 171.0h0M138.4 169.0h0M156.4 171.0h0M223.9 180.1h0M223.5 182.9h0M141.6 181.2h0M218.3 191.8h0"/>
<path stroke="#ccff33" d="M229.5 129.7h0M194.0 129.0h0M181.0 130.0h0M185.8 133.4h0M204.7 138.2h0M211.7 138.4h0M141.0 134.3h0M166.4 137.7h0M166.0 142.0h0M198.1 145.7h0M225.0 155.1h0M180.2 151.6h0M197.5 153.8h0M205.6 158.9h0M234.2 165.6h0M183.7 161.5h0M223.3 170.8h0M134.7 161.5h0"/>
<path stroke="#0066ff" d="M182.5 85.4h0M150.2 82.2h0M190.8 96.0h0M197.2 96.2h0M186.8 104.9h0M187.0 107.4h0M190.7 109.4h0M186.6 114.4h0M216.5 119.6h0M139.9 143.6h0M145.2 148.9h0M167.9 182.7h0M229.6 192.6h0M232.3 195.4h0M215.4 195.4h0M203.2 196.7h0M214.4 198.2h0M202.5 198.7h0M212.5 200.2h0M129.7 198.9h0"/>
<path stroke="#00ccff" d="M199.4 84.2h0M205.1 97.7h0M201.8 106.3h0M202.2 113.5h0M145.7 113.4h0M171.7 119.4h0M191.5 122.1h0M218.6 132.7h0M133.4 155.8h0M156.5 173.8h0M173.1 175.8h0M201.9 184.9h0M152.9 181.1h0M167.4 184.3h0M197.1 188.4h0"/>
<path stroke="#ff4c00" d="M223.7 151.5h0"/>
<path stroke="#0080ff" d="M208.3 93.0h0M195.0 99.0h0M190.9 113.9h0M186.3 115.7h0M164.8 115.1h0M183.0 118.0h0M187.5 118.6h0M134.9 145.2h0M145.8 146.7h0M138.9 150.6h0M180.5 186.9h0M157.0 186.3h0M181.0 189.4h0M224.4 194.6h0M219.2 196.2h0M209.6 197.8h0M212.1 198.3h0"/>
<path stroke="#00ffff" d="M212.6 89.6h0M229.5 91.1h0M201.9 101.5h0M211.7 111.8h0M216.7 117.6h0M201.0 123.5h0M197.8 127.6h0M212.1 133.9h0M177.4 161.9h0M167.5 165.6h0M171.6 168.7h0M197.5 172.0h0M204.7 173.1h0M168.1 171.4h0M164.5 173.0h0M208.2 177.8h0M182.7 176.7h0M167.8 180.3h0M183.7 182.2h0M190.2 188.4h0M149.8 184.2h0"/>
<path stroke="#1affe5" d="M194.1 83.4h0M215.1 94.0h0M207.3 100.1h0M218.0 108.3h0M221.1 112.1h0M218.6 122.9h0M214.2 129.5h0M188.8 128.7h0M213.7 133.8h0M197.4 133.8h0M158.9 136.8h0M164.5 148.5h0M159.3 152.2h0M153.8 159.0h0M202.6 166.2h0M141.2 159.5h0M231.9 172.0h0M183.0 167.5h0M202.0 170.0h0M182.6 172.3h0M135.9 171.2h0M193.7 178.5h0M151.9 175.8h0M214.3 183.4h0M221.5 185.5h0M188.8 182.4h0M193.2 183.0h0M195.7 183.6h0M145.5 182.2h0M148.8 182.3h0"/>
<path stroke="#ff8000" d="M193.0 80.9h0M226.1 100.6h0M223.8 101.5h0M149.6 133.0h0M210.6 160.0h0"/>
<path stroke="#ff3300" d="M172.1 76.6h0M229.8 143.5h0"/>
<path stroke="#00b2ff" d="M207.3 84.0h0M196.5 86.1h0M207.0 102.2h0M204.0 106.6h0M196.5 108.6h0M195.0 116.9h0M159.1 114.5h0M169.0 116.8h0M139.8 117.6h0M156.5 142.5h0M147.6 149.4h0M167.2 168.2h0M132.2 173.3h0M165.2 182.2h0M207.4 188.3h0M218.1 189.6h0M224.8 189.7h0M163.5 186.4h0M129.1 184.5h0M144.3 189.1h0M133.2 192.3h0"/>
<path stroke="#80ff80" d="M221.4 95.5h0M213.6 98.7h0M209.4 102.9h0M226.9 124.3h0M233.8 124.8h0M170.5 121.1h0M136.6 123.2h0M199.4 132.0h0M194.9 133.7h0M196.2 141.8h0M161.2 139.5h0M144.0 138.5h0M224.8 164.6h0M167.8 161.4h0M198.9 172.8h0M143.0 170.1h0"/>
<path stroke="#ff1a00" d="M174.5 79.1h0"/>
<path stroke="#ffff00" d="M168.7 80.9h0M226.9 105.1h0M232.3 107.4h0M160.4 129.8h0M190.3 147.8h0M198.2 151.4h0M225.0 159.0h0M217.1 167.6h0M204.3 167.8h0"/>
<path stroke="#ffb300" d="M174.0 76.3h0M169.9 78.2h0M225.4 98.4h0M155.5 123.6h0M158.3 123.8h0M172.4 125.9h0M183.4 130.0h0M136.2 130.5h0M149.9 134.6h0M213.4 142.8h0M194.2 143.6h0M185.9 151.2h0"/>
<path stroke="#00ccff" d="M225.5 83.1h0M160.6 76.9h0M155.2 78.9h0M218.4 87.1h0M199.1 106.6h0M217.2 110.3h0M216.4 113.3h0M200.6 115.1h0M205.8 121.7h0M172.8 119.7h0M208.6 123.2h0M142.9 117.7h0M185.2 123.1h0M133.0 151.4h0M161.2 169.7h0M165.9 169.7h0M173.7 173.0h0M161.8 174.9h0M210.1 181.6h0M181.9 181.5h0M162.5 182.0h0M178.6 183.8h0M215.2 191.0h0M220.4 192.4h0M192.7 189.9h0M206.2 192.6h0"/>
<path stroke="#00e5ff" d="M199.6 82.6h0M162.4 79.3h0M212.1 93.2h0M204.2 116.6h0M213.9 122.2h0M200.3 129.9h0M202.4 130.4h0M201.7 132.3h0M145.9 144.1h0M155.7 159.5h0M166.7 172.2h0M168.5 173.4h0M170.2 172.7h0M175.0 174.6h0M134.6 172.7h0M176.7 179.4h0M193.7 181.8h0M221.7 187.2h0M148.0 179.4h0M199.5 187.2h0M199.7 189.2h0M206.3 190.2h0"/>
<path stroke="#ffcc00" d="M232.4 99.1h0M223.9 100.5h0M231.0 101.1h0M156.7 122.2h0M143.6 124.6h0M145.9 124.7h0M149.0 127.6h0M143.7 129.8h0M230.1 140.7h0M146.0 131.9h0M152.7 133.3h0M206.6 140.1h0M234.4 143.3h0M218.5 151.2h0M209.8 162.6h0M131.7 163.0h0"/>
<path stroke="#0080ff" d="M147.5 80.0h0M175.2 84.2h0M187.7 86.0h0M193.9 86.9h0M175.3 88.2h0M204.9 93.2h0M199.7 97.3h0M171.6 97.9h0M197.1 103.9h0M191.6 104.7h0M207.8 107.8h0M151.2 111.3h0M189.5 121.8h0M140.8 147.5h0M232.8 188.5h0M211.3 190.5h0M223.0 194.6h0M187.4 192.2h0M131.4 196.7h0"/>
<path stroke="#0000e6" d="M164.3 94.1h0M143.0 93.6h0M148.5 93.8h0M158.2 195.8h0M161.3 196.2h0M151.2 196.5h0M155.9 196.9h0M158.7 197.2h0M160.7 198.5h0M174.4 200.4h0M143.8 198.2h0M188.0 206.5h0M189.6 208.7h0M194.4 212.4h0"/>
<path stroke="#ffff00" d="M230.8 96.5h0M217.6 125.1h0M162.6 129.1h0M145.3 129.2h0M171.9 132.4h0M178.8 134.2h0M192.9 147.6h0M175.6 150.6h0M187.5 152.6h0M211.1 155.4h0M208.7 157.5h0M185.5 156.9h0M204.9 163.4h0M217.2 165.4h0M149.9 172.4h0"/>
<path stroke="#ff9900" d="M171.3 137.6h0M231.3 146.6h0M217.7 155.6h0"/>
<path stroke="#004dff" d="M213.5 82.3h0M142.6 82.2h0M171.1 85.6h0M172.9 87.9h0M200.2 92.5h0M193.0 96.2h0M185.1 102.4h0M168.0 102.3h0M166.4 104.5h0M168.5 104.1h0M175.9 105.0h0M177.6 107.2h0M179.7 107.7h0M182.0 109.1h0M146.1 108.4h0M148.9 108.1h0M153.2 112.1h0M168.7 113.5h0M175.8 117.3h0M143.3 146.2h0M166.5 189.7h0M169.2 189.7h0M189.3 195.5h0M200.3 196.2h0M151.4 191.7h0M221.1 201.6h0M219.5 202.9h0"/>
<path stroke="#ff3300" d="M143.2 126.9h0"/>
<path stroke="#ff8000" d="M141.3 131.7h0M142.2 134.4h0"/>
<path stroke="#33ffcc" d="M151.4 74.1h0M155.7 73.7h0M213.8 105.6h0M224.5 114.1h0M223.2 119.0h0M229.9 121.7h0M206.0 123.3h0M233.8 126.7h0M205.7 125.5h0M208.5 126.6h0M159.0 133.8h0M165.2 143.8h0M164.4 146.6h0M156.3 154.4h0M155.8 157.0h0M205.2 166.3h0M185.5 168.4h0M145.1 165.4h0M232.2 177.5h0M163.5 169.5h0M179.8 171.8h0M215.7 176.9h0M147.4 174.7h0M153.5 175.3h0M144.5 179.7h0M188.2 185.1h0"/>
<path stroke="#00ffff" d="M232.2 85.0h0M213.1 91.1h0M205.5 111.0h0M221.8 116.2h0M224.6 121.8h0M143.5 115.2h0M193.3 124.5h0M196.7 124.7h0M212.4 128.7h0M197.7 130.2h0M209.9 131.4h0M214.0 131.9h0M163.9 140.9h0M151.7 142.7h0M162.2 143.2h0M149.5 151.2h0M179.5 164.9h0M145.4 163.1h0M187.6 170.7h0M220.0 175.6h0M189.8 173.6h0M233.7 180.0h0M180.6 175.2h0M228.8 180.6h0M212.0 181.4h0M231.6 183.8h0M209.4 182.8h0M156.0 178.8h0M160.8 179.1h0M157.2 181.3h0M147.7 184.6h0M198.8 191.5h0"/>
<path stroke="#ccff33" d="M220.6 139.1h0M226.9 157.2h0M232.1 163.0h0M184.2 158.2h0M215.4 163.1h0M225.9 163.7h0M132.9 154.7h0M184.2 163.7h0M214.3 167.9h0"/>
<path stroke="#1affe5" d="M197.7 79.4h0M203.8 99.8h0M210.5 107.0h0M226.8 109.7h0M214.0 112.7h0M228.1 114.8h0M184.4 126.0h0M210.1 128.7h0M142.1 121.8h0M151.6 137.9h0M156.0 144.8h0M157.6 164.5h0M175.8 167.2h0M139.2 164.4h0M143.7 165.2h0M230.2 177.0h0M205.7 176.0h0M217.8 177.9h0M189.5 176.3h0M186.3 178.3h0M205.1 184.9h0"/>
<path stroke="#0000ff" d="M167.6 88.2h0M162.9 88.8h0M147.1 88.8h0M169.4 93.2h0M143.8 91.0h0M148.7 92.5h0M167.4 94.0h0M153.3 95.7h0M157.4 95.4h0M140.5 100.4h0M143.0 100.8h0M146.7 101.5h0M152.6 101.8h0M158.9 193.7h0M169.8 194.7h0M173.2 194.7h0M156.2 195.1h0M145.9 196.3h0M190.3 201.6h0M203.7 208.1h0M194.6 209.2h0M200.8 211.3h0M208.8 211.8h0M215.1 212.9h0M203.1 213.0h0M130.8 211.0h0M128.0 212.2h0"/>
<path stroke="#0066ff" d="M145.2 80.4h0M196.5 88.7h0M149.8 85.2h0M152.4 85.3h0M193.0 100.8h0M171.0 102.8h0M168.5 106.0h0M175.2 107.9h0M173.7 117.2h0M178.0 117.9h0M189.7 190.5h0M159.5 188.1h0M184.5 191.6h0M191.9 195.0h0M220.0 199.1h0M207.2 199.6h0M137.4 192.4h0M130.2 195.8h0"/>
<path stroke="#99ff66" d="M162.6 74.9h0M190.4 83.0h0M227.0 93.8h0M233.5 111.2h0M154.6 121.0h0M168.1 128.2h0M196.0 131.1h0M201.9 139.0h0M203.9 140.5h0M138.6 133.9h0M147.6 134.9h0M175.1 138.9h0M188.8 141.9h0M142.1 139.2h0M211.3 150.2h0M161.9 153.1h0M203.4 158.8h0M226.7 162.4h0M196.0 160.3h0M198.3 160.5h0M200.9 160.6h0M192.9 165.0h0M230.6 171.8h0M136.9 161.2h0M216.0 173.0h0M222.5 178.0h0M149.7 170.2h0M200.2 180.2h0"/>
<path stroke="#ff6600" d="M230.1 98.3h0"/>
<path stroke="#ffb300" d="M190.6 81.1h0M232.8 101.4h0M234.9 103.1h0M227.4 138.9h0M175.3 143.3h0M219.3 160.6h0"/>
<path stroke="#0019ff" d="M145.4 84.3h0M149.1 89.0h0M157.0 102.7h0M159.1 102.6h0M156.1 105.1h0M142.5 105.6h0M146.3 106.1h0M156.0 106.9h0M160.6 108.5h0M171.6 112.4h0M161.6 192.8h0M183.8 196.1h0M200.3 201.7h0M206.7 206.3h0M136.3 199.7h0M202.0 207.8h0M207.0 208.6h0M212.9 209.4h0M234.4 213.1h0M212.6 212.1h0M217.6 212.8h0M129.0 205.6h0"/>
<path stroke="#0099ff" d="M216.3 82.2h0M234.2 84.2h0M220.4 85.4h0M190.0 86.2h0M192.0 107.3h0M203.3 120.3h0M150.8 146.8h0M139.1 147.9h0M168.8 175.6h0M130.1 173.0h0M168.1 178.0h0M182.3 179.1h0M179.1 181.0h0M174.0 182.6h0M129.4 179.1h0M160.0 183.9h0M215.3 193.5h0M196.2 192.7h0"/>
<path stroke="#80ff80" d="M225.4 116.1h0M224.6 126.7h0M192.8 133.4h0M164.0 132.6h0M194.1 136.0h0M196.6 139.1h0M165.4 139.5h0M177.1 141.1h0M198.0 149.0h0M171.0 149.1h0M204.3 154.2h0M190.9 159.6h0M141.2 164.3h0M152.2 165.9h0M194.0 171.7h0M208.0 173.5h0M227.5 179.2h0M217.2 182.4h0"/>
<path stroke="#b3ff4c" d="M165.0 74.7h0M193.7 79.1h0M169.2 82.7h0M218.5 96.8h0M224.2 109.3h0M220.6 123.7h0M159.9 117.7h0M177.6 125.1h0M215.5 136.6h0M192.5 136.5h0M180.5 139.5h0M134.7 140.5h0M181.7 146.0h0M195.8 148.2h0M223.6 154.9h0M196.9 155.5h0M180.9 156.1h0M193.3 159.6h0M221.6 163.2h0M181.4 162.5h0M218.0 171.0h0M190.6 171.3h0M151.8 168.8h0"/>
<path stroke="#0033ff" d="M188.4 90.7h0M191.7 91.4h0M174.9 90.8h0M190.7 93.0h0M176.7 93.6h0M179.1 93.7h0M186.4 94.9h0M180.5 96.6h0M180.8 100.6h0M165.8 101.3h0M163.1 106.3h0M149.1 106.9h0M150.8 106.0h0M170.3 108.6h0M139.5 107.9h0M153.0 108.9h0M176.1 115.3h0M141.5 145.3h0M163.8 191.0h0M175.7 192.4h0M233.0 203.2h0M144.1 194.0h0M198.3 200.2h0M202.6 201.8h0M206.6 202.6h0M230.6 204.7h0M137.7 195.5h0M208.9 204.7h0M133.6 198.7h0M222.9 210.5h0M231.7 212.4h0M126.3 207.4h0"/>
<path stroke="#0000cc" d="M167.5 201.3h0M148.1 201.5h0M175.6 205.5h0M183.4 206.3h0M140.1 205.1h0M177.4 210.3h0M152.1 211.1h0"/>
<path stroke="#e5ff1a" d="M223.7 95.5h0M149.2 120.7h0M230.6 136.8h0M181.7 132.5h0M218.1 141.2h0M177.3 138.7h0M191.3 142.8h0M208.5 145.1h0M193.8 145.3h0M208.9 152.2h0M175.9 152.9h0M190.1 154.9h0M173.3 156.7h0M174.7 157.0h0M182.4 161.0h0"/>
<path stroke="#4dffb2" d="M219.1 94.2h0M234.3 107.9h0M227.9 120.0h0M166.2 120.2h0M166.6 130.1h0M168.4 137.9h0M199.2 140.9h0M157.9 140.4h0M152.4 152.0h0M177.8 155.2h0M147.9 153.1h0M228.4 165.0h0M219.2 166.1h0M200.3 165.4h0M221.7 168.2h0M177.3 164.3h0M201.9 168.8h0M178.9 167.8h0M190.3 168.4h0M185.7 171.2h0M218.3 175.0h0"/>
<path stroke="#0000b2" d="M163.8 203.1h0M156.6 204.7h0M166.8 206.0h0M161.9 208.0h0M141.8 207.6h0M145.3 207.8h0M152.1 209.1h0M153.9 208.4h0M167.5 210.8h0M144.5 212.7h0"/>
<path stroke="#66ff99" d="M226.9 88.9h0M230.0 88.6h0M214.2 96.5h0M211.4 105.2h0M223.4 121.6h0M196.4 126.4h0M179.1 126.9h0M204.7 134.5h0M166.0 135.3h0M205.4 141.9h0M167.8 140.2h0M176.8 142.7h0M146.0 141.7h0M159.7 149.9h0M213.4 160.6h0M160.6 159.9h0M139.5 161.7h0M154.9 163.9h0M210.6 173.4h0M198.5 174.4h0M220.5 178.0h0M152.5 173.1h0M202.3 182.5h0"/>
<path stroke="#ffe500" d="M158.1 127.0h0M169.8 127.5h0M155.3 129.2h0M180.4 141.1h0M210.6 144.8h0M222.1 149.7h0M206.7 152.7h0M220.8 153.7h0M223.4 168.4h0"/>
<path stroke="#00b2ff" d="M223.2 83.3h0M149.8 80.1h0M154.1 81.4h0M209.9 93.8h0M198.2 113.2h0M196.9 114.8h0M211.8 117.1h0M204.1 117.9h0M220.0 128.1h0M139.6 138.6h0M233.5 182.3h0M138.1 170.8h0M169.6 180.5h0M178.9 186.0h0M132.0 181.7h0M130.5 191.9h0"/>
<path stroke="#0000b2" d="M148.9 210.3h0M155.8 212.1h0"/>
<path stroke="#b3ff4c" d="M217.1 96.3h0M221.0 101.2h0M216.1 104.2h0M146.7 120.0h0M168.4 122.7h0M141.5 123.9h0M229.5 139.3h0M162.6 131.6h0M188.2 135.1h0M163.5 139.8h0M234.7 155.8h0M231.6 157.4h0M213.1 158.2h0M171.0 156.7h0M205.9 161.8h0M191.1 161.5h0M181.4 164.9h0M188.2 169.0h0M147.2 168.2h0M198.3 177.1h0"/>
<path stroke="#ff8000" d="M172.3 78.3h0M218.1 153.0h0"/>
<path stroke="#e5ff1a" d="M196.0 79.3h0M161.4 119.7h0M166.0 122.7h0M136.4 133.7h0M175.8 141.2h0M195.3 146.2h0M168.9 149.3h0M207.2 155.0h0M221.8 161.2h0M233.4 163.3h0M226.1 169.3h0"/>
<path stroke="#4dffb2" d="M230.9 83.5h0M229.4 86.8h0M223.3 88.3h0M226.9 90.5h0M213.1 110.1h0M208.4 119.0h0M162.3 117.9h0M228.9 126.3h0M140.4 122.2h0M157.0 134.1h0M183.5 136.6h0M179.3 146.1h0M173.9 154.5h0M144.6 153.3h0M180.0 158.1h0M175.3 161.6h0M167.3 162.9h0M173.4 167.0h0M156.8 167.2h0M227.9 175.9h0M187.4 172.9h0M222.2 179.6h0"/>
<path stroke="#0000e6" d="M150.7 93.0h0M158.1 93.7h0M162.4 94.3h0M175.1 197.6h0M162.8 198.3h0M184.1 201.0h0M186.1 204.0h0M188.6 203.8h0M143.2 200.3h0M187.3 209.1h0M135.6 204.4h0M186.9 210.9h0M189.8 211.2h0M133.1 208.7h0M132.6 211.3h0M130.4 212.7h0"/>
<path stroke="#0066ff" d="M213.7 84.0h0M216.5 84.2h0M211.6 86.4h0M208.2 87.7h0M158.6 83.5h0M187.4 87.7h0M189.5 87.6h0M200.4 89.5h0M193.1 90.8h0M187.8 100.4h0M169.3 98.9h0M175.7 100.1h0M189.5 105.2h0M196.6 105.4h0M167.0 114.1h0M184.8 118.3h0M175.6 118.8h0M178.3 119.4h0M187.3 120.9h0M130.0 182.3h0M179.9 191.3h0M194.1 193.0h0M229.8 198.1h0M133.6 190.3h0"/>
<path stroke="#004dff" d="M147.2 82.7h0M161.1 84.7h0M193.9 88.3h0M187.3 90.7h0M196.5 92.0h0M179.2 91.2h0M196.0 93.5h0M183.9 97.1h0M186.1 97.6h0M188.0 101.7h0M172.7 103.0h0M177.9 105.8h0M180.2 105.6h0M186.5 109.4h0M168.0 109.1h0M181.5 112.8h0M183.1 115.2h0M224.9 197.0h0M159.5 190.5h0M184.5 193.7h0M228.5 199.5h0M218.6 201.0h0M216.9 203.3h0M134.4 197.3h0M132.3 198.3h0"/>
<path stroke="#00e5ff" d="M204.5 81.2h0M204.5 82.7h0M231.9 86.9h0M156.8 78.7h0M201.4 103.5h0M191.5 124.4h0M143.6 143.8h0M138.5 152.9h0M162.9 161.0h0M149.0 163.0h0M178.6 169.5h0M234.7 177.4h0M161.3 177.0h0M198.4 181.1h0M207.3 185.4h0M197.0 187.0h0M214.0 188.5h0M151.8 187.3h0M135.3 189.2h0"/>
<path stroke="#00ffff" d="M153.2 76.3h0M171.1 83.4h0M201.1 110.4h0M200.1 118.6h0M145.4 115.4h0M223.9 130.9h0M199.0 137.3h0M149.0 141.8h0M135.4 154.1h0M161.2 157.6h0M167.6 158.8h0M139.4 160.3h0M144.4 160.6h0M136.2 166.0h0M139.1 166.9h0M231.4 179.7h0M141.1 169.4h0M191.9 176.4h0M178.1 177.2h0M206.0 179.9h0M226.8 183.2h0M186.3 180.8h0M207.2 183.5h0M218.9 184.2h0M226.1 185.8h0M213.8 186.2h0M185.9 185.4h0M136.0 182.6h0M141.2 184.0h0M152.7 184.5h0"/>
<path stroke="#ff4c00" d="M231.2 148.3h0"/>
<path stroke="#ffe500" d="M224.4 105.0h0M227.0 107.9h0M165.0 125.9h0M165.8 127.4h0M139.2 126.7h0M185.5 136.8h0M223.9 144.3h0M225.9 150.0h0M209.6 149.6h0M183.7 149.5h0M215.4 155.9h0M212.4 162.3h0"/>
<path stroke="#0099ff" d="M212.1 81.8h0M185.0 82.8h0M204.1 85.4h0M207.0 85.6h0M159.7 81.4h0M173.4 86.1h0M208.4 91.3h0M144.4 110.9h0M143.6 112.3h0M201.8 121.2h0M142.4 120.0h0M142.2 143.9h0M130.4 175.4h0M132.9 174.7h0M228.0 188.1h0M136.3 181.3h0M223.4 192.1h0M204.4 192.0h0M217.5 196.2h0M140.6 190.5h0M133.0 194.5h0"/>
<path stroke="#0000cc" d="M178.7 200.9h0M158.2 199.7h0M162.0 200.2h0M169.5 200.9h0M181.6 203.7h0M166.3 204.3h0M168.6 204.0h0M180.0 204.8h0M184.8 206.8h0M140.1 202.8h0M154.5 204.2h0M173.3 207.2h0M180.3 207.8h0M145.8 205.2h0M171.4 208.4h0M173.5 209.7h0M146.7 208.3h0M158.5 209.1h0M161.2 212.3h0M135.1 213.7h0"/>
<path stroke="#0033ff" d="M163.3 85.3h0M147.0 84.5h0M153.6 88.4h0M151.2 89.8h0M166.1 106.8h0M171.3 190.4h0M176.2 190.6h0M180.6 193.7h0M149.2 192.4h0M191.5 197.2h0M220.7 203.2h0M227.7 205.3h0M141.8 195.4h0M207.0 204.4h0M211.5 204.2h0M228.3 207.7h0M218.5 208.2h0M223.2 208.8h0M225.4 209.2h0M226.9 209.7h0"/>
<path stroke="#ffff00" d="M173.8 81.5h0M220.5 124.7h0M222.1 128.1h0M226.5 142.7h0M152.4 135.0h0M186.5 149.4h0M200.1 163.0h0M223.9 166.1h0M226.7 167.1h0M210.0 166.6h0"/>
<path stroke="#0019ff" d="M170.2 88.4h0M143.9 86.2h0M174.0 93.0h0M158.7 105.6h0M139.7 105.6h0M177.2 112.4h0M156.8 192.2h0M146.4 193.6h0M149.1 194.1h0M198.2 203.0h0M201.6 203.9h0M139.4 197.9h0M208.6 207.3h0M215.4 208.4h0M217.7 210.6h0M220.2 210.7h0M230.2 211.5h0M131.6 201.0h0M134.0 201.2h0"/>
<path stroke="#80ff80" d="M222.6 90.6h0M224.9 92.2h0M220.6 98.9h0M215.9 101.6h0M188.0 130.4h0M154.7 131.4h0M160.0 131.2h0M208.4 140.2h0M164.0 150.8h0M181.9 157.8h0M231.0 165.2h0M174.6 159.1h0M198.2 162.6h0M183.9 165.2h0M209.7 169.7h0M223.2 172.9h0M183.5 170.2h0M175.2 175.8h0"/>
<path stroke="#99ff66" d="M150.6 75.5h0M195.2 81.9h0M181.0 82.4h0M188.4 82.8h0M224.1 106.8h0M151.4 120.3h0M181.2 134.0h0M173.8 135.6h0M145.3 137.0h0M171.5 147.5h0M234.9 168.5h0M228.6 169.2h0M220.7 170.4h0M148.1 165.9h0M132.0 165.5h0M210.9 178.7h0"/>
<path stroke="#00b2ff" d="M225.9 85.2h0M142.8 76.8h0M182.4 87.3h0M184.5 87.8h0M229.5 93.0h0M205.5 109.4h0M190.0 119.4h0M184.7 120.2h0M137.5 116.4h0M187.4 122.8h0M137.7 119.2h0M152.0 149.8h0M151.4 153.8h0M140.1 155.2h0M165.7 180.1h0M211.5 186.3h0M137.3 178.6h0M171.8 182.9h0M197.4 190.6h0M208.9 192.7h0M220.2 193.8h0M129.0 189.1h0M134.9 192.1h0"/>
<path stroke="#00ccff" d="M208.7 81.4h0M223.5 86.0h0M191.9 86.7h0M182.0 89.7h0M233.7 115.9h0M150.1 113.0h0M194.5 121.3h0M211.2 123.9h0M201.1 125.5h0M137.6 142.9h0M153.5 145.1h0M227.0 180.6h0M231.3 185.9h0M136.7 176.1h0M157.6 179.4h0M199.7 184.6h0M223.9 188.1h0M225.5 187.6h0M141.0 178.9h0M191.0 184.9h0M220.2 189.8h0M143.6 181.2h0M183.4 186.2h0M212.9 190.4h0M211.4 193.4h0M200.9 194.7h0M149.1 188.9h0"/>
<path stroke="#0000ff" d="M162.9 87.5h0M160.1 88.7h0M168.1 89.7h0M160.1 98.3h0M161.6 99.2h0M145.9 99.0h0M152.1 100.1h0M157.3 99.9h0M149.0 101.3h0M139.8 103.4h0M142.7 103.1h0M158.3 112.0h0M164.0 194.3h0M148.4 196.8h0M192.5 201.9h0M193.3 204.7h0M194.6 204.7h0M196.4 208.1h0M199.0 208.6h0M135.6 202.4h0M205.0 213.7h0"/>
<path stroke="#33ffcc" d="M197.3 81.8h0M160.3 79.1h0M234.1 122.8h0M199.0 124.8h0M175.4 123.7h0M207.3 133.4h0M209.3 133.7h0M173.5 138.1h0M160.7 144.0h0M179.3 162.6h0M160.1 163.0h0M141.2 162.0h0M174.3 169.2h0M214.0 174.5h0M213.4 177.2h0M132.9 168.8h0M184.8 175.2h0M142.9 171.7h0M142.1 176.8h0"/>
<path stroke="#1affe5" d="M228.4 84.5h0M215.4 110.0h0M208.9 115.2h0M211.5 114.9h0M221.0 117.9h0M232.4 122.8h0M198.5 122.6h0M177.2 122.3h0M204.5 131.0h0M164.6 164.8h0M225.5 176.5h0M150.0 167.6h0M184.6 177.1h0M233.3 184.3h0M158.1 176.6h0M216.5 184.8h0M151.5 178.3h0M216.3 186.0h0M150.9 180.3h0M201.5 186.7h0"/>
<path stroke="#0080ff" d="M218.4 84.3h0M172.8 84.1h0M203.8 90.5h0M203.0 91.9h0M170.7 99.4h0M192.3 103.1h0M193.8 102.5h0M198.2 111.2h0M193.9 112.6h0M192.6 114.5h0M195.8 114.6h0M141.3 109.8h0M187.6 116.3h0M139.7 140.1h0M152.5 146.9h0M171.9 178.3h0M228.1 190.3h0M233.8 193.3h0M161.8 186.9h0M206.5 195.3h0M198.3 196.1h0M144.3 191.2h0M134.5 194.8h0"/>
<path stroke="#ffb300" d="M163.2 120.5h0M148.9 124.7h0M218.9 136.7h0M221.1 151.2h0M226.4 151.8h0M199.7 150.6h0M194.8 155.1h0M206.1 157.1h0"/>
<path stroke="#ff3300" d="M232.2 103.8h0M230.4 154.9h0M224.8 156.5h0"/>
<path stroke="#ff9900" d="M179.4 77.6h0M228.4 98.1h0M137.2 127.7h0M227.3 141.2h0M194.9 153.3h0"/>
<path stroke="#ffcc00" d="M187.6 80.2h0M226.1 145.1h0M196.2 143.2h0M191.3 145.9h0M175.0 145.3h0"/>
<path stroke="#66ff99" d="M137.9 121.9h0M226.4 133.5h0M228.9 134.0h0M161.1 136.9h0M207.6 143.2h0M162.5 146.2h0M166.9 146.7h0M192.9 152.6h0M164.0 157.8h0M151.8 158.9h0M230.5 169.1h0M211.5 168.9h0M180.4 168.2h0M209.3 172.0h0M220.3 173.0h0M210.1 176.3h0M219.9 179.9h0M201.0 182.5h0M194.6 186.0h0"/>
<path stroke="#ccff33" d="M227.6 99.8h0M222.0 106.4h0M170.0 124.0h0M147.5 122.0h0M162.6 124.7h0M223.3 136.1h0M184.9 134.8h0M169.3 135.3h0M210.0 143.3h0M228.2 148.1h0M166.4 151.4h0M219.8 163.8h0M214.7 165.3h0M214.4 169.2h0M211.9 171.5h0M213.3 172.5h0"/>
<path stroke="#ccff33" d="M191.0 78.2h0M234.2 129.2h0M160.6 121.7h0M185.5 130.9h0M187.9 133.1h0M139.5 129.3h0M157.2 131.9h0M155.3 133.3h0M225.0 142.4h0M194.1 141.4h0M232.7 151.6h0M173.7 149.4h0M178.7 150.0h0M132.1 161.4h0"/>
<path stroke="#66ff99" d="M227.5 86.0h0M231.1 91.8h0M210.6 103.3h0M195.6 129.0h0M197.7 136.2h0M156.5 135.8h0M135.0 156.8h0M146.1 161.1h0M204.2 171.2h0M218.3 172.0h0M215.7 174.8h0"/>
<path stroke="#ff4c00" d="M216.7 149.3h0"/>
<path stroke="#004dff" d="M156.7 80.7h0M145.0 81.6h0M157.0 83.3h0M166.5 84.6h0M192.2 88.8h0M175.7 103.2h0M178.4 103.5h0M184.7 104.5h0M184.0 106.9h0M173.0 107.8h0M189.2 109.1h0M183.6 113.7h0M227.4 195.3h0M178.5 190.8h0M234.3 197.8h0M161.6 190.4h0M182.0 193.4h0M207.7 197.1h0M222.4 199.3h0M147.5 191.9h0M204.6 198.8h0M209.3 200.4h0M212.5 203.0h0M226.0 204.7h0"/>
<path stroke="#0000e6" d="M163.3 92.0h0M164.6 92.6h0M143.4 96.6h0M168.1 196.1h0M178.8 197.9h0M169.6 199.0h0M145.6 198.9h0M148.1 198.6h0M182.9 203.3h0M141.0 199.8h0M138.0 202.7h0M137.8 203.9h0M191.6 212.3h0M199.1 213.3h0M133.7 205.7h0M134.9 208.3h0"/>
<path stroke="#e5ff1a" d="M167.4 76.3h0M164.6 78.3h0M223.9 96.9h0M231.7 110.2h0M230.5 132.2h0M169.6 126.5h0M179.7 129.0h0M232.1 136.9h0M234.5 136.3h0M234.0 142.2h0M188.0 149.2h0M185.3 154.2h0M207.7 176.4h0"/>
<path stroke="#ffff00" d="M148.7 73.5h0M151.5 118.8h0M224.6 128.8h0M160.3 124.4h0M231.7 139.5h0M232.2 143.2h0M226.7 148.3h0M202.9 147.5h0M172.6 145.2h0M188.4 147.0h0M206.9 149.8h0M194.0 156.9h0M217.4 163.4h0"/>
<path stroke="#ff1a00" d="M221.4 144.4h0"/>
<path stroke="#33ffcc" d="M224.5 90.4h0M212.6 108.3h0M204.9 113.2h0M149.8 118.7h0M213.9 135.9h0M163.8 137.0h0M155.7 141.2h0M184.8 144.2h0M159.8 148.0h0M157.1 150.5h0M165.9 153.6h0M163.4 155.8h0M141.9 155.8h0M146.4 158.3h0M188.6 163.9h0M233.1 170.0h0M186.0 165.7h0M171.2 166.4h0M192.2 169.2h0M234.4 175.5h0M191.4 174.1h0M212.0 178.9h0M140.1 171.9h0M191.1 178.6h0M149.3 178.2h0M146.0 183.8h0"/>
<path stroke="#0000cc" d="M166.6 199.0h0M172.1 200.2h0M171.5 201.7h0M173.9 202.0h0M176.3 202.7h0M150.1 201.5h0M160.2 202.2h0M162.3 202.5h0M162.0 205.1h0M163.5 205.7h0M178.2 207.3h0M182.5 208.8h0M185.0 208.2h0M143.0 204.5h0M164.1 208.4h0M168.6 208.9h0M179.9 210.1h0M182.4 209.8h0M140.0 207.4h0M174.5 212.5h0M180.2 212.3h0M184.7 213.7h0M139.2 209.4h0M163.2 212.2h0M167.4 213.0h0M175.1 213.9h0M134.3 211.1h0M137.5 211.4h0M139.3 211.8h0M142.2 212.1h0M151.5 213.9h0"/>
<path stroke="#0099ff" d="M220.7 82.6h0M209.1 85.8h0M202.9 97.3h0M210.0 109.4h0M145.6 110.2h0M155.7 113.8h0M180.2 120.0h0M153.3 142.0h0M136.5 147.1h0M139.2 174.1h0M156.0 175.6h0M132.7 177.2h0M176.7 183.5h0M207.5 195.5h0M210.3 195.2h0M146.9 189.4h0"/>
<path stroke="#00b2ff" d="M159.7 75.4h0M202.1 84.9h0M210.9 90.6h0M197.0 99.0h0M203.9 102.1h0M198.7 104.3h0M194.0 105.5h0M206.1 118.9h0M218.0 120.1h0M141.6 112.3h0M196.3 120.6h0M199.1 120.9h0M216.6 134.2h0M151.2 145.0h0M153.7 161.9h0M155.2 166.0h0M172.9 171.4h0M174.1 181.1h0M164.8 184.2h0M192.9 188.7h0M203.9 189.9h0M217.6 194.2h0M130.5 187.6h0M140.1 188.0h0M138.1 190.0h0M128.1 193.8h0M127.0 195.7h0"/>
<path stroke="#ffcc00" d="M179.3 79.0h0M232.3 105.7h0M151.4 127.9h0M221.3 137.7h0M231.4 141.8h0M220.3 144.0h0M214.6 146.5h0M170.7 141.8h0"/>
<path stroke="#ff3300" d="M186.6 78.3h0"/>
<path stroke="#00ccff" d="M202.6 82.0h0M184.7 84.7h0M202.8 99.2h0M213.3 117.0h0M138.9 112.1h0M193.0 118.7h0M137.8 115.1h0M175.9 121.6h0M179.9 121.9h0M144.8 119.9h0M221.0 132.7h0M201.5 134.4h0M203.7 142.2h0M134.3 149.1h0M141.2 150.9h0M148.7 160.7h0M230.1 174.6h0M193.8 173.9h0M183.0 174.4h0M212.2 183.0h0M159.5 181.9h0M211.7 187.7h0M158.1 182.9h0M194.1 187.9h0M201.9 189.8h0M155.1 185.2h0M143.0 189.1h0"/>
<path stroke="#ffb300" d="M182.9 80.5h0M171.6 81.2h0M234.6 106.1h0M172.2 129.0h0M222.8 140.5h0M182.4 139.9h0M231.3 150.3h0"/>
<path stroke="#80ff80" d="M167.4 80.6h0M211.7 98.9h0M212.9 103.9h0M177.4 127.4h0M233.6 134.7h0M138.9 124.7h0M198.7 143.8h0M209.1 148.5h0M177.2 146.0h0M234.5 157.8h0M169.9 158.4h0M187.0 161.7h0M207.3 168.2h0M162.6 166.9h0M152.8 178.6h0M191.0 182.5h0"/>
<path stroke="#1affe5" d="M192.0 83.7h0M224.7 88.0h0M206.3 105.1h0M231.4 112.7h0M228.2 122.1h0M166.2 118.9h0M215.7 124.6h0M216.9 132.3h0M224.0 133.1h0M154.6 138.5h0M149.1 139.3h0M161.2 141.6h0M135.0 142.5h0M204.1 151.3h0M147.7 151.3h0M164.5 153.1h0M150.3 154.0h0M161.3 156.0h0M149.9 156.8h0M151.4 156.6h0M143.7 157.6h0M172.2 163.7h0M193.0 167.4h0M203.4 175.3h0M178.4 174.3h0M147.7 173.1h0M184.1 179.8h0M204.2 187.5h0"/>
<path stroke="#0066ff" d="M205.4 90.5h0M185.0 89.7h0M170.3 105.1h0M172.7 105.5h0M202.7 115.3h0M189.9 117.1h0M135.3 175.2h0M232.3 192.8h0M174.1 187.9h0M176.3 188.8h0M234.2 195.8h0M212.8 195.9h0M231.2 198.2h0M205.2 196.9h0M216.7 199.2h0M126.3 204.8h0"/>
<path stroke="#b3ff4c" d="M233.9 95.9h0M211.9 100.6h0M220.6 105.9h0M230.1 124.0h0M148.7 123.0h0M193.5 131.1h0M221.0 135.0h0M228.3 136.5h0M141.8 126.3h0M158.1 128.2h0M208.4 138.5h0M211.1 140.7h0M200.2 143.8h0M199.5 153.3h0M161.6 151.0h0M157.6 152.0h0M201.3 173.2h0"/>
<path stroke="#0000b2" d="M164.1 201.1h0M168.3 206.9h0M166.3 208.3h0M148.7 208.7h0M153.3 211.4h0"/>
<path stroke="#ff9900" d="M154.1 123.6h0M219.2 147.4h0M213.6 150.7h0M190.2 152.8h0"/>
<path stroke="#99ff66" d="M183.2 81.8h0M229.1 111.8h0M221.5 113.3h0M173.0 124.2h0M230.9 133.8h0M174.0 128.7h0M176.3 133.9h0M169.0 151.9h0M231.8 160.2h0M182.7 156.4h0M212.6 164.9h0M198.5 164.9h0M207.0 166.6h0M164.8 163.5h0M148.9 175.6h0"/>
<path stroke="#00ffff" d="M157.5 74.1h0M217.7 92.3h0M207.4 95.2h0M226.6 112.8h0M213.4 119.8h0M215.2 123.0h0M150.0 116.4h0M168.6 118.7h0M202.7 125.6h0M215.7 127.3h0M157.6 148.3h0M143.6 150.2h0M166.5 156.5h0M149.1 158.4h0M164.7 161.0h0M151.4 161.5h0M151.3 162.9h0M209.4 185.7h0M147.7 186.8h0"/>
<path stroke="#0080ff" d="M218.8 82.8h0M208.4 84.0h0M180.8 84.9h0M201.7 86.7h0M177.3 86.7h0M198.8 94.1h0M193.4 98.1h0M194.3 100.9h0M194.5 107.4h0M193.4 110.3h0M196.2 110.0h0M136.1 145.3h0M215.0 179.9h0M170.1 178.3h0M172.8 180.9h0M169.0 182.5h0M229.7 190.5h0M232.8 191.1h0M134.3 183.3h0M166.6 186.5h0M230.0 195.3h0M191.3 192.8h0M198.6 193.1h0M203.0 194.4h0M222.1 196.7h0M194.3 194.9h0M142.0 190.4h0M127.5 198.2h0"/>
<path stroke="#0000ff" d="M165.5 89.4h0M141.6 91.5h0M140.9 93.2h0M152.3 97.2h0M155.6 97.5h0M143.2 99.1h0M147.3 99.2h0M150.2 98.9h0M174.4 194.9h0M181.6 198.4h0M190.9 200.4h0M185.6 201.2h0M203.2 211.4h0"/>
<path stroke="#00e5ff" d="M150.1 77.6h0M217.3 89.3h0M207.0 113.7h0M147.6 116.0h0M189.0 123.6h0M140.5 119.0h0M207.4 128.1h0M209.0 135.5h0M153.8 139.9h0M146.5 155.9h0M176.9 160.0h0M169.1 166.0h0M159.7 170.1h0M171.0 171.5h0M178.3 172.2h0M201.1 174.6h0M159.0 173.8h0M196.0 179.1h0M137.7 173.2h0M228.0 185.4h0M213.7 193.0h0M132.9 186.9h0"/>
<path stroke="#ff6600" d="M169.9 75.8h0M163.3 127.8h0M205.8 144.6h0M212.9 155.8h0M215.8 158.1h0"/>
<path stroke="#4dffb2" d="M148.5 77.3h0M213.5 101.4h0M217.1 106.2h0M223.4 116.1h0M230.6 120.3h0M155.4 116.6h0M145.1 122.0h0M186.3 128.4h0M140.3 136.3h0M181.6 143.6h0M173.7 151.8h0M172.7 159.4h0M193.1 161.7h0M132.3 158.9h0M197.4 167.2h0M232.7 174.3h0M134.6 163.5h0M169.2 168.2h0M175.6 168.7h0M143.8 167.4h0M144.2 174.8h0"/>
<path stroke="#0033ff" d="M149.7 87.7h0M189.3 92.2h0M176.8 95.3h0M177.9 100.7h0M164.8 108.2h0M177.1 109.7h0M184.4 111.2h0M142.0 107.7h0M144.4 107.8h0M165.3 110.6h0M174.0 114.6h0M153.7 191.9h0M225.9 202.5h0M209.0 202.5h0M214.3 202.9h0M233.2 206.0h0M217.9 206.2h0M137.3 197.6h0M220.7 208.2h0M224.4 210.8h0"/>
<path stroke="#ffe500" d="M167.8 125.8h0M155.5 126.5h0M153.4 128.1h0M173.9 130.6h0M215.6 139.6h0M224.5 147.0h0M223.2 149.0h0M186.6 147.6h0M222.3 156.2h0M201.1 156.2h0M226.8 159.5h0M225.2 161.3h0"/>
<path stroke="#ff8000" d="M177.2 77.4h0M227.4 102.8h0M151.6 123.6h0M148.7 129.6h0M150.1 130.9h0M207.5 147.4h0M217.4 158.1h0"/>
<path stroke="#0019ff" d="M170.6 90.6h0M164.0 101.2h0M160.8 103.9h0M149.2 103.6h0M154.2 104.6h0M174.6 112.1h0M181.5 196.8h0M193.3 199.8h0M199.9 203.7h0M196.9 204.9h0M211.5 207.5h0M213.0 207.2h0M129.3 203.6h0M128.1 208.1h0M127.2 210.5h0"/>
</g>
</g>
<use href="#usmap" clip-path="url(#fc)"/>
</g>
<rect x="1285.5" y="95.5" width="23" height="215" fill="url(#jet)" stroke="#262626" stroke-width="1"/>
<path d="M1308.5 203h-3" stroke="#262626" stroke-width="1" fill="none"/>
<text class="c" x="1316.6" y="103.1">100</text>
<text class="c" x="1316.6" y="210.4">50</text>
<text class="c" x="1316.6" y="317.9">0</text>
<text class="t"><tspan x="987.8" y="112.8">48</tspan><tspan class="d" x="1007.4" y="105.2">° </tspan><tspan x="1017.1" y="112.8">N</tspan></text>
<text class="t"><tspan x="987.8" y="130.5">46</tspan><tspan class="d" x="1007.4" y="122.9">° </tspan><tspan x="1017.1" y="130.5">N</tspan></text>
<text class="t"><tspan x="987.8" y="148.0">44</tspan><tspan class="d" x="1007.4" y="140.4">° </tspan><tspan x="1017.1" y="148.0">N</tspan></text>
<text class="t"><tspan x="987.8" y="167.2">42</tspan><tspan class="d" x="1007.4" y="159.6">° </tspan><tspan x="1017.1" y="167.2">N</tspan></text>
<text class="t"><tspan x="987.8" y="183.3">40</tspan><tspan class="d" x="1007.4" y="175.7">° </tspan><tspan x="1017.1" y="183.3">N</tspan></text>
<text class="t"><tspan x="987.8" y="198.3">38</tspan><tspan class="d" x="1007.4" y="190.7">° </tspan><tspan x="1017.1" y="198.3">N</tspan></text>
<text class="t"><tspan x="987.8" y="215.2">36</tspan><tspan class="d" x="1007.4" y="207.6">° </tspan><tspan x="1017.1" y="215.2">N</tspan></text>
<text class="t"><tspan x="987.8" y="229.6">34</tspan><tspan class="d" x="1007.4" y="222.0">° </tspan><tspan x="1017.1" y="229.6">N</tspan></text>
<text class="t"><tspan x="987.8" y="246.8">32</tspan><tspan class="d" x="1007.4" y="239.2">° </tspan><tspan x="1017.1" y="246.8">N</tspan></text>
<text class="t"><tspan x="987.8" y="260.6">30</tspan><tspan class="d" x="1007.4" y="253.0">° </tspan><tspan x="1017.1" y="260.6">N</tspan></text>
<text class="t"><tspan x="987.8" y="274.2">28</tspan><tspan class="d" x="1007.4" y="266.6">° </tspan><tspan x="1017.1" y="274.2">N</tspan></text>
<text class="t"><tspan x="987.8" y="289.3">26</tspan><tspan class="d" x="1007.4" y="281.7">° </tspan><tspan x="1017.1" y="289.3">N</tspan></text>
<text class="t"><tspan x="987.8" y="303.5">24</tspan><tspan class="d" x="1007.4" y="295.9">° </tspan><tspan x="1017.1" y="303.5">N</tspan></text>
<text class="t"><tspan x="987.8" y="316.3">22</tspan><tspan class="d" x="1007.4" y="308.7">° </tspan><tspan x="1017.1" y="316.3">N</tspan></text>
<text class="w"><tspan x="1059.0" y="74.7">100</tspan><tspan class="d" x="1086.0" y="68.0">° </tspan><tspan x="1096.5" y="74.7">W</tspan></text>
<text class="w"><tspan x="1127.9" y="74.7">90</tspan><tspan class="d" x="1146.3" y="68.0">° </tspan><tspan x="1156.8" y="74.7">W</tspan></text>
<text class="w"><tspan x="1192.6" y="74.7">80</tspan><tspan class="d" x="1211.1" y="68.0">° </tspan><tspan x="1221.6" y="74.7">W</tspan></text>
<text class="w"><tspan x="1255.4" y="74.7">70</tspan><tspan class="d" x="1273.8" y="68.0">° </tspan><tspan x="1284.3" y="74.7">W</tspan></text>
<text class="l" x="982.3" y="342.2">SAT 250 hPa RH (Percent)</text>
</g>
<g>
<rect x="195.5" y="486.5" width="234" height="213" fill="#fff" stroke="#1a1a1a" stroke-width="1"/>
<g transform="translate(195.5 486.5) scale(1 1)">
<g fill="none" stroke-linecap="round">
<g stroke-width="5.8">
<path stroke="#1affe5" d="M203.2 80.5h0M202.4 84.0h0M223.5 100.2h0M229.5 103.8h0M205.3 114.3h0M204.9 117.1h0M208.1 117.5h0M217.5 118.8h0M142.1 112.4h0M223.7 123.3h0M161.0 118.1h0M164.4 118.6h0M207.0 124.4h0M210.4 124.6h0M173.7 123.3h0M206.8 127.8h0M210.1 127.8h0M213.1 128.4h0M216.3 129.1h0M219.6 129.6h0M222.7 129.7h0M179.9 127.4h0M183.1 127.6h0M209.5 131.5h0M212.1 134.8h0M215.0 138.8h0M214.9 141.8h0M210.7 148.0h0M206.6 150.9h0M196.3 153.1h0M189.6 155.1h0M178.8 160.2h0M142.5 159.1h0M158.9 160.9h0M151.2 169.8h0M140.1 175.0h0"/>
<path stroke="#ff6600" d="M151.8 136.7h0M188.0 141.7h0M157.7 144.4h0M143.9 145.9h0"/>
<path stroke="#ffcc00" d="M229.1 83.9h0M225.7 86.8h0M228.2 90.7h0M231.3 91.2h0M195.7 132.9h0M198.8 136.3h0M178.7 137.1h0M161.9 138.1h0M194.6 142.3h0M187.4 144.9h0M144.0 148.9h0M146.7 149.7h0M173.4 152.8h0M234.0 89.5h0M234.0 91.9h0M234.0 94.3h0"/>
<path stroke="#ffb300" d="M157.3 74.1h0M183.6 77.6h0M150.1 76.9h0M156.5 77.3h0M228.9 87.4h0M157.1 124.1h0M185.4 134.7h0M195.2 136.1h0M175.6 136.9h0M198.5 139.5h0M142.1 135.3h0M191.6 142.2h0M161.2 141.3h0M177.0 150.4h0M150.1 149.7h0M153.7 150.5h0M170.1 152.7h0"/>
<path stroke="#004dff" d="M143.5 75.6h0M146.7 79.2h0M165.5 88.8h0M210.8 94.9h0M158.4 91.1h0M164.9 91.7h0M213.7 98.7h0M161.2 95.0h0M164.1 95.0h0M216.5 102.4h0M200.1 103.6h0M209.9 104.5h0M213.2 105.4h0M143.9 99.2h0M192.6 105.8h0M215.5 108.5h0M219.3 109.2h0M146.5 102.7h0M149.3 106.5h0M162.7 108.5h0M166.0 108.7h0M182.4 110.9h0M152.2 110.0h0M175.0 113.3h0M155.4 113.8h0M141.2 118.8h0M231.1 141.1h0M231.0 144.4h0M230.6 147.5h0M233.8 148.1h0M177.3 170.1h0M190.4 172.1h0M193.9 172.5h0M163.7 171.7h0M167.3 171.9h0M170.6 172.9h0M196.7 176.4h0M160.5 174.9h0M163.5 174.9h0M196.3 179.6h0M199.5 180.1h0M159.7 177.9h0M198.8 182.9h0M156.2 180.7h0M201.7 186.8h0M149.2 183.1h0M152.4 183.3h0M201.4 190.2h0M204.9 190.7h0M145.2 186.0h0M204.0 193.7h0M207.8 194.5h0M234.0 198.1h0M141.6 189.0h0M204.1 196.9h0M207.3 197.9h0M223.3 199.9h0M227.0 200.5h0M230.0 200.4h0M233.2 201.2h0M137.9 191.5h0M206.8 200.9h0M210.2 201.6h0M223.2 202.9h0M226.1 203.2h0M229.8 204.2h0M232.9 204.1h0M134.1 194.5h0M206.4 204.1h0M209.3 204.8h0M222.8 206.1h0M225.7 206.7h0M229.4 207.0h0M130.5 197.0h0M221.9 209.6h0M225.6 209.9h0M127.0 200.3h0M208.5 211.1h0M222.0 212.7h0M234.0 147.1h0M234.0 149.5h0M234.0 197.5h0M234.0 199.9h0M234.0 202.3h0M209.1 213.0h0M218.7 213.0h0M221.1 213.0h0M223.5 213.0h0"/>
<path stroke="#66ff99" d="M219.5 82.4h0M232.7 84.3h0M199.0 83.2h0M218.7 85.7h0M188.7 85.4h0M229.9 101.1h0M144.9 115.9h0M172.9 133.0h0M176.1 133.2h0M178.8 133.6h0M136.3 131.5h0M138.3 141.4h0M196.8 149.8h0M183.2 154.4h0M133.4 151.1h0M136.7 151.3h0M179.3 157.1h0M155.6 157.3h0M138.8 161.9h0M141.6 165.6h0M144.3 168.8h0"/>
<path stroke="#ccff33" d="M186.7 78.4h0M222.3 83.2h0M189.6 81.9h0M156.1 84.0h0M224.8 93.6h0M230.8 97.6h0M144.5 119.1h0M157.4 120.9h0M202.5 133.5h0M205.1 140.5h0M201.2 143.4h0M155.1 140.5h0M187.0 148.0h0M183.2 150.9h0M140.7 148.8h0M153.4 153.6h0M156.3 154.2h0M169.0 159.1h0M234.0 99.1h0"/>
<path stroke="#ff0000" d="M146.7 126.0h0M150.4 126.7h0M146.4 129.5h0M150.0 130.0h0M149.4 132.9h0M175.1 139.7h0M171.1 142.7h0M174.8 143.2h0M167.7 145.7h0M170.6 146.0h0"/>
<path stroke="#0000e6" d="M171.5 189.6h0M174.6 190.2h0M178.3 190.4h0M181.3 190.5h0M164.9 192.1h0M167.7 192.5h0M171.3 192.5h0M174.4 193.4h0M177.4 193.6h0M181.1 194.0h0M184.1 194.4h0M157.8 194.4h0M161.0 194.9h0M164.3 195.1h0M167.6 195.7h0M170.4 196.2h0M173.9 196.5h0M177.3 197.0h0M180.5 197.2h0M183.5 197.8h0M187.0 198.2h0M150.6 196.6h0M153.8 197.3h0M157.2 197.6h0M160.5 197.9h0M163.9 198.2h0M166.8 198.7h0M170.4 199.0h0M173.3 199.8h0M176.8 200.0h0M180.3 200.8h0M183.1 201.0h0M186.8 201.6h0M146.7 199.4h0M149.9 200.0h0M153.3 200.6h0M156.6 201.0h0M159.9 201.0h0M163.2 201.7h0M166.5 201.8h0M169.6 202.4h0M173.0 203.2h0M176.4 203.5h0M179.6 203.6h0M182.9 204.3h0M186.4 204.5h0M189.6 205.2h0M143.1 202.2h0M146.2 202.8h0M149.6 203.0h0M152.8 203.7h0M156.3 204.1h0M159.4 204.4h0M163.0 204.9h0M166.1 205.4h0M169.2 205.8h0M172.6 206.3h0M175.9 206.6h0M179.3 207.4h0M182.3 207.3h0M185.7 207.9h0M189.2 208.6h0M139.2 205.1h0M143.0 205.8h0M145.9 206.2h0M149.6 206.5h0M152.4 206.9h0M155.8 207.0h0M159.4 208.0h0M162.4 208.5h0M165.4 208.6h0M168.7 209.3h0M172.0 209.5h0M175.6 210.1h0M179.0 210.6h0M181.9 211.1h0M185.4 211.0h0M188.4 211.6h0M192.0 211.9h0M135.7 207.6h0M139.0 208.3h0M142.5 208.9h0M145.5 209.0h0M149.1 210.0h0M151.9 209.9h0M155.3 210.3h0M158.6 210.8h0M161.7 211.2h0M165.2 212.0h0M168.8 212.4h0M171.8 212.8h0M135.1 211.1h0M138.5 211.5h0M141.7 212.3h0M145.1 212.4h0M132.3 213.0h0M134.7 213.0h0M137.1 213.0h0M139.5 213.0h0M141.9 213.0h0M144.3 213.0h0M146.7 213.0h0M149.1 213.0h0M151.5 213.0h0M153.9 213.0h0M156.3 213.0h0M158.7 213.0h0M161.1 213.0h0M163.5 213.0h0M165.9 213.0h0M168.3 213.0h0M170.7 213.0h0M173.1 213.0h0M175.5 213.0h0M177.9 213.0h0M180.3 213.0h0M182.7 213.0h0M185.1 213.0h0M187.5 213.0h0M189.9 213.0h0M192.3 213.0h0"/>
<path stroke="#b3ff4c" d="M185.9 81.5h0M193.0 82.4h0M218.6 89.0h0M148.1 116.3h0M160.7 121.6h0M170.4 125.8h0M169.5 129.4h0M166.1 132.1h0M205.4 137.2h0M138.7 135.1h0M197.6 146.3h0M179.6 154.0h0M149.8 153.2h0M165.7 158.4h0M131.5 164.1h0M131.6 167.6h0M134.6 167.9h0M234.0 87.1h0"/>
<path stroke="#e5ff1a" d="M153.2 80.5h0M233.7 98.0h0M166.8 125.3h0M166.3 128.5h0M186.1 131.5h0M194.0 145.7h0M176.6 153.3h0M159.8 154.5h0M172.6 156.2h0"/>
<path stroke="#ff3300" d="M150.4 73.3h0M147.6 119.8h0M153.5 127.0h0M143.3 129.3h0M156.0 130.9h0M177.8 143.4h0M147.7 142.8h0M147.2 146.2h0M151.0 146.9h0M153.9 147.4h0M157.1 147.7h0M160.7 147.7h0M163.7 148.4h0M167.4 148.7h0"/>
<path stroke="#00ffff" d="M206.5 81.1h0M215.8 82.1h0M215.4 85.7h0M195.6 86.0h0M202.2 110.3h0M198.4 113.4h0M208.6 114.6h0M211.6 115.0h0M198.2 116.2h0M201.5 116.6h0M221.1 119.5h0M204.2 120.7h0M168.0 119.1h0M203.8 123.7h0M226.4 127.0h0M177.2 123.8h0M203.5 127.2h0M140.5 122.0h0M212.6 131.6h0M215.9 132.3h0M219.4 132.7h0M215.4 135.7h0M219.1 135.6h0M218.3 139.3h0M217.8 142.5h0M214.4 145.3h0M217.5 145.4h0M213.7 148.6h0M210.1 151.6h0M213.5 151.6h0M199.9 153.4h0M202.8 153.9h0M206.4 154.1h0M185.6 158.3h0M145.4 159.5h0M175.0 163.1h0M148.2 162.9h0M151.5 166.4h0M150.6 173.0h0M143.6 175.7h0M133.2 177.6h0M136.2 177.8h0M234.0 106.3h0"/>
<path stroke="#ff9900" d="M150.9 120.2h0M140.3 125.3h0M160.1 127.8h0M189.1 135.1h0M192.1 135.4h0M158.7 134.7h0M182.2 137.5h0M195.0 139.5h0M151.5 139.9h0M184.1 144.5h0M154.4 143.6h0M180.8 147.3h0M156.9 150.6h0M160.2 151.1h0M163.4 151.8h0M166.5 152.1h0"/>
<path stroke="#00e5ff" d="M209.5 81.3h0M212.8 81.7h0M206.0 84.2h0M182.2 84.3h0M215.0 92.2h0M226.4 103.6h0M199.2 110.0h0M205.7 110.9h0M195.3 112.9h0M215.0 115.4h0M218.0 116.0h0M194.7 116.0h0M224.2 119.9h0M139.0 111.9h0M145.5 112.9h0M168.2 115.6h0M187.8 118.6h0M190.9 119.0h0M194.4 119.1h0M197.6 119.6h0M201.0 120.1h0M227.0 123.9h0M233.7 124.6h0M171.1 119.7h0M183.9 121.2h0M187.2 121.8h0M190.5 122.2h0M194.2 122.6h0M197.5 123.2h0M200.7 123.1h0M230.1 127.2h0M233.3 127.7h0M180.2 124.0h0M183.5 124.5h0M186.8 124.8h0M190.3 125.2h0M193.7 125.6h0M196.6 126.4h0M199.9 126.6h0M226.3 130.4h0M222.7 133.1h0M225.9 133.3h0M222.0 136.3h0M217.2 148.9h0M216.6 152.0h0M220.0 152.6h0M209.3 154.8h0M212.7 155.2h0M216.2 155.4h0M192.7 155.6h0M195.8 156.1h0M199.5 156.3h0M202.5 157.3h0M206.1 157.2h0M182.2 160.8h0M148.8 159.6h0M152.1 160.2h0M155.7 160.7h0M151.5 163.4h0M164.7 165.1h0M167.9 165.8h0M146.9 176.4h0M129.7 177.1h0M139.9 178.5h0M234.0 125.5h0"/>
<path stroke="#0033ff" d="M176.0 83.5h0M149.1 83.0h0M179.0 87.4h0M182.2 87.8h0M188.6 88.5h0M208.1 91.4h0M141.5 92.0h0M158.0 94.5h0M144.3 95.8h0M196.3 102.9h0M216.4 105.4h0M147.1 99.4h0M189.3 105.5h0M149.7 103.5h0M153.3 103.8h0M162.9 105.0h0M185.8 108.3h0M152.7 106.7h0M156.2 107.5h0M159.5 108.1h0M172.1 109.4h0M175.5 110.0h0M179.1 110.5h0M155.7 110.8h0M162.1 111.6h0M234.0 144.4h0M180.5 170.7h0M183.9 171.2h0M187.4 171.6h0M173.8 173.2h0M176.8 173.3h0M190.0 175.5h0M193.6 175.6h0M166.7 175.4h0M170.0 176.0h0M192.7 178.9h0M162.8 178.4h0M166.4 178.4h0M192.5 182.2h0M195.9 182.7h0M159.2 181.3h0M162.5 181.7h0M195.4 186.0h0M198.8 186.7h0M155.4 183.9h0M158.7 184.4h0M198.2 189.9h0M148.6 186.2h0M152.1 186.5h0M197.9 192.9h0M200.7 193.6h0M144.7 189.4h0M200.3 196.6h0M141.2 192.0h0M203.6 200.1h0M202.9 203.8h0M232.3 207.8h0M133.9 197.5h0M205.6 207.3h0M228.6 210.7h0M232.0 210.8h0M130.0 200.7h0M205.5 210.9h0M126.2 203.3h0M125.9 206.3h0M234.0 139.9h0M234.0 142.3h0M234.0 144.7h0M234.0 204.7h0M234.0 207.1h0M234.0 209.5h0M234.0 211.9h0M206.7 213.0h0M225.9 213.0h0M228.3 213.0h0M230.7 213.0h0"/>
<path stroke="#0080ff" d="M179.4 84.0h0M201.9 87.0h0M165.6 85.7h0M211.4 91.7h0M217.0 99.0h0M223.1 106.2h0M196.2 106.0h0M140.3 102.0h0M221.6 113.3h0M143.1 105.9h0M149.2 109.8h0M181.6 114.1h0M152.0 113.6h0M174.5 116.8h0M228.5 137.5h0M229.9 150.8h0M233.2 154.6h0M232.3 157.7h0M195.4 163.0h0M198.7 163.1h0M194.9 165.9h0M198.3 166.6h0M181.1 167.2h0M197.6 169.9h0M200.9 170.2h0M161.3 167.9h0M164.7 168.4h0M167.7 168.9h0M203.5 173.9h0M207.2 174.4h0M206.3 177.5h0M209.5 177.8h0M232.5 181.2h0M157.2 174.4h0M205.8 180.9h0M209.3 181.3h0M229.1 183.6h0M232.1 184.1h0M209.0 184.4h0M212.2 184.9h0M225.1 186.4h0M228.5 187.4h0M232.0 187.7h0M211.6 188.4h0M215.0 188.7h0M218.5 189.3h0M221.2 189.7h0M224.5 189.8h0M227.8 190.6h0M231.1 191.1h0M142.4 181.9h0M214.8 191.8h0M217.8 192.1h0M135.4 184.7h0M139.0 185.0h0M135.1 187.9h0M131.5 190.5h0M127.7 193.6h0M234.0 135.1h0M234.0 154.3h0M234.0 156.7h0M234.0 159.1h0M234.0 161.5h0M234.0 163.9h0M234.0 180.7h0M234.0 183.1h0M234.0 185.5h0M234.0 187.9h0"/>
<path stroke="#4dffb2" d="M189.9 78.5h0M185.9 84.8h0M192.5 85.4h0M159.2 84.4h0M217.9 92.3h0M214.1 122.2h0M154.5 117.3h0M219.9 125.8h0M170.6 122.5h0M176.6 126.7h0M189.9 128.7h0M203.2 130.2h0M176.3 130.3h0M179.3 130.5h0M209.1 134.8h0M136.5 128.3h0M211.9 138.4h0M211.2 141.6h0M207.8 144.6h0M203.7 147.1h0M200.3 149.7h0M190.0 151.7h0M133.3 154.3h0M136.4 154.5h0M139.9 154.9h0M142.9 155.6h0M146.1 156.3h0M149.5 156.2h0M152.4 157.0h0M175.8 160.0h0M136.1 157.7h0M168.4 162.3h0M141.7 162.4h0M145.0 165.6h0M147.8 169.6h0M140.7 172.2h0M133.8 174.6h0M234.0 103.9h0"/>
<path stroke="#ff1a00" d="M147.5 123.1h0M143.6 126.0h0M153.2 130.3h0M146.0 132.6h0M152.3 133.6h0M145.4 136.0h0M148.8 136.3h0M171.5 139.7h0M178.0 140.5h0M145.2 139.0h0M168.2 142.5h0M164.2 145.4h0M174.0 146.5h0"/>
<path stroke="#0019ff" d="M168.7 85.9h0M205.0 90.9h0M207.9 94.6h0M155.0 90.3h0M168.0 92.2h0M210.6 98.3h0M145.0 92.4h0M154.8 93.6h0M167.4 95.6h0M200.2 100.4h0M203.4 100.2h0M210.3 101.7h0M213.4 101.6h0M147.8 96.1h0M154.3 97.2h0M157.6 97.4h0M160.8 98.1h0M163.6 98.7h0M190.3 102.3h0M193.2 102.4h0M150.6 100.1h0M153.8 100.7h0M156.9 100.8h0M186.6 104.6h0M156.3 104.0h0M159.7 104.8h0M166.2 105.7h0M169.3 106.1h0M172.5 106.5h0M176.3 106.8h0M179.5 107.1h0M182.4 107.6h0M159.1 111.4h0M180.5 174.1h0M183.4 174.3h0M186.7 174.9h0M173.2 176.6h0M186.3 178.3h0M189.5 178.6h0M169.4 179.2h0M173.2 179.6h0M186.1 181.4h0M189.0 181.9h0M165.9 182.2h0M169.1 182.4h0M188.6 185.3h0M191.9 185.8h0M162.4 184.9h0M191.5 189.1h0M194.7 189.5h0M155.2 187.0h0M158.3 187.4h0M194.5 192.6h0M148.1 189.6h0M194.0 195.6h0M197.2 196.0h0M144.5 192.6h0M196.7 199.4h0M200.1 200.0h0M137.6 194.8h0M140.8 195.0h0M199.6 203.1h0M136.9 197.9h0M199.5 206.7h0M202.5 206.8h0M133.7 201.2h0M201.9 209.9h0M129.9 203.6h0M125.5 209.8h0M201.9 213.0h0M204.3 213.0h0M233.1 213.0h0"/>
<path stroke="#80ff80" d="M195.8 82.8h0M150.0 79.7h0M224.3 96.9h0M151.5 116.8h0M164.2 121.7h0M167.2 122.4h0M173.2 126.6h0M193.1 129.3h0M196.1 129.4h0M199.7 129.9h0M172.8 129.7h0M205.6 134.0h0M208.4 138.0h0M135.8 134.5h0M204.6 144.0h0M135.0 138.0h0M138.4 138.1h0M200.6 146.8h0M134.8 141.2h0M193.9 149.2h0M186.9 151.3h0M134.0 147.8h0M140.3 152.0h0M159.4 157.8h0M172.4 159.6h0M132.6 157.6h0M135.3 161.1h0M138.5 164.8h0M141.1 168.6h0M137.5 171.7h0"/>
<path stroke="#ffe500" d="M156.5 80.8h0M221.9 89.5h0M224.9 90.3h0M231.3 94.1h0M154.1 120.8h0M144.2 122.2h0M160.5 124.5h0M163.3 128.4h0M192.6 132.1h0M199.3 133.2h0M162.6 131.8h0M139.4 131.6h0M162.2 134.9h0M168.8 136.1h0M171.9 136.0h0M201.5 140.4h0M155.4 137.2h0M142.0 138.5h0M183.7 147.9h0M141.1 145.5h0M169.4 155.6h0"/>
<path stroke="#0000ff" d="M143.0 78.7h0M142.9 82.2h0M146.1 82.5h0M172.1 86.2h0M175.2 86.4h0M191.9 89.2h0M195.3 89.7h0M198.1 89.9h0M201.7 90.4h0M142.3 85.4h0M145.4 85.7h0M148.8 86.2h0M151.9 87.2h0M168.5 89.2h0M171.9 89.6h0M175.0 89.8h0M178.5 90.4h0M181.3 90.7h0M185.1 91.2h0M188.0 91.9h0M191.6 92.1h0M194.6 92.6h0M197.6 93.3h0M200.9 93.8h0M204.3 93.8h0M141.7 88.6h0M145.3 89.5h0M148.5 89.5h0M152.0 90.4h0M171.2 93.1h0M174.7 93.5h0M177.7 93.6h0M181.2 93.9h0M184.3 94.9h0M187.8 95.3h0M190.8 95.6h0M194.4 96.0h0M197.4 96.2h0M200.5 97.0h0M204.3 97.1h0M207.4 97.6h0M147.8 93.3h0M151.5 93.6h0M170.9 96.1h0M174.1 96.7h0M177.6 97.1h0M180.4 97.2h0M183.8 97.7h0M187.3 98.1h0M190.6 98.7h0M193.7 99.3h0M197.3 99.5h0M206.7 101.2h0M150.8 96.5h0M167.4 98.7h0M170.7 99.5h0M173.8 99.8h0M176.8 100.0h0M180.2 100.9h0M183.3 101.1h0M186.7 101.7h0M160.1 101.2h0M163.3 101.6h0M166.6 102.2h0M169.9 102.6h0M173.4 103.0h0M176.8 103.7h0M179.7 104.2h0M182.9 104.2h0M176.6 176.6h0M179.8 177.0h0M183.2 177.8h0M176.0 179.8h0M179.2 180.3h0M182.4 181.1h0M172.3 183.0h0M175.8 183.4h0M178.8 184.0h0M182.1 184.1h0M185.3 184.7h0M165.2 185.5h0M168.7 185.5h0M172.3 186.4h0M175.5 186.6h0M178.8 186.8h0M182.0 187.5h0M185.3 188.0h0M188.6 188.4h0M161.8 188.2h0M165.0 188.7h0M168.5 189.0h0M184.9 191.3h0M188.0 191.6h0M191.4 192.2h0M151.3 189.8h0M155.1 190.7h0M158.1 190.6h0M161.3 191.2h0M187.8 194.7h0M190.9 195.5h0M147.5 193.0h0M151.0 193.1h0M154.1 193.6h0M190.3 198.7h0M193.8 198.9h0M144.1 195.6h0M147.2 195.9h0M189.6 201.8h0M193.1 202.1h0M196.7 202.6h0M140.2 198.7h0M143.9 198.9h0M192.6 205.6h0M196.1 206.2h0M136.5 201.6h0M140.0 201.6h0M192.5 208.7h0M195.7 209.0h0M198.8 209.5h0M133.0 204.5h0M136.1 204.6h0M195.3 212.4h0M129.3 207.1h0M132.6 207.5h0M129.1 210.2h0M131.9 210.9h0M125.1 213.0h0M127.5 213.0h0M129.9 213.0h0M194.7 213.0h0M197.1 213.0h0M199.5 213.0h0"/>
<path stroke="#0099ff" d="M152.8 83.4h0M155.3 87.6h0M158.8 87.9h0M162.0 88.5h0M214.3 95.4h0M219.9 102.5h0M225.7 106.8h0M209.1 107.7h0M225.9 110.1h0M192.7 109.2h0M215.4 111.9h0M218.7 112.3h0M225.4 113.3h0M228.1 114.1h0M139.9 105.1h0M188.8 111.7h0M145.9 109.5h0M172.0 113.0h0M185.1 114.6h0M164.7 115.3h0M177.9 117.3h0M137.4 121.4h0M232.2 134.2h0M224.9 140.2h0M224.5 143.3h0M223.9 146.9h0M226.6 150.2h0M229.4 154.1h0M229.3 157.6h0M229.0 160.7h0M231.8 161.1h0M228.3 163.9h0M231.4 164.1h0M188.7 161.6h0M192.0 162.0h0M201.6 163.6h0M205.2 163.8h0M231.4 167.7h0M181.7 164.3h0M184.8 164.3h0M201.4 167.0h0M204.3 167.1h0M207.9 167.9h0M230.7 170.7h0M234.1 171.2h0M177.9 166.9h0M204.3 170.8h0M207.1 171.2h0M210.6 171.5h0M233.6 174.3h0M157.6 167.5h0M210.0 174.7h0M213.7 175.4h0M230.0 177.5h0M233.0 178.1h0M157.3 170.7h0M213.2 178.7h0M216.2 178.7h0M226.0 180.2h0M229.6 180.4h0M212.6 181.5h0M216.1 182.2h0M219.1 182.3h0M222.1 183.2h0M225.6 183.3h0M153.1 176.8h0M215.2 185.2h0M218.9 185.8h0M222.1 186.1h0M149.4 179.7h0M139.0 181.5h0M132.1 184.4h0M128.8 186.8h0M132.1 187.3h0M128.3 190.0h0M234.0 132.7h0M234.0 166.3h0M234.0 168.7h0M234.0 171.1h0M234.0 173.5h0M234.0 175.9h0M234.0 178.3h0"/>
<path stroke="#ff8000" d="M153.6 123.9h0M139.7 128.6h0M159.2 131.3h0M142.8 132.5h0M191.7 138.6h0M165.4 138.6h0M181.2 144.1h0M173.4 150.0h0"/>
<path stroke="#ff4c00" d="M154.2 74.0h0M153.4 76.8h0M150.8 123.5h0M156.4 127.3h0M155.8 134.2h0M185.2 138.0h0M188.3 138.3h0M168.2 139.0h0M181.5 140.7h0M184.7 141.1h0M148.6 139.7h0M164.5 142.0h0M144.7 142.7h0M151.2 143.6h0M161.2 144.5h0M177.3 146.7h0M170.3 149.5h0"/>
<path stroke="#00b2ff" d="M208.8 84.5h0M199.0 86.4h0M199.3 106.9h0M205.9 107.6h0M228.8 110.7h0M231.8 111.0h0M195.9 109.7h0M212.2 111.5h0M231.9 114.1h0M191.7 112.2h0M224.6 116.4h0M228.0 116.9h0M231.3 117.4h0M139.4 108.4h0M168.6 112.5h0M188.1 115.1h0M230.7 120.6h0M148.7 112.9h0M181.1 117.4h0M138.1 114.9h0M177.6 120.4h0M232.6 131.0h0M229.2 134.0h0M225.6 136.8h0M223.3 149.6h0M226.4 153.5h0M222.7 156.6h0M226.0 156.8h0M222.2 159.4h0M225.6 160.0h0M195.5 159.5h0M198.7 160.1h0M202.0 160.3h0M208.8 161.1h0M212.1 161.6h0M215.4 161.8h0M218.3 162.6h0M221.5 162.9h0M225.2 163.1h0M185.3 161.4h0M208.3 164.3h0M211.5 164.6h0M214.9 165.2h0M218.1 165.8h0M221.6 166.3h0M224.8 166.9h0M228.1 166.9h0M210.8 168.4h0M214.6 168.3h0M217.8 169.1h0M220.8 169.5h0M224.0 169.9h0M227.7 170.3h0M155.2 163.9h0M158.2 164.6h0M174.8 166.5h0M214.1 171.6h0M216.9 172.5h0M220.5 172.9h0M223.5 173.2h0M227.0 173.4h0M230.4 173.9h0M216.5 175.6h0M219.9 176.0h0M223.2 176.7h0M226.3 176.7h0M219.3 179.4h0M222.8 179.9h0M153.6 173.4h0M146.5 179.4h0M132.5 181.1h0M135.9 181.4h0M129.0 183.8h0M234.0 113.5h0M234.0 115.9h0M234.0 130.3h0"/>
<path stroke="#0066ff" d="M205.6 87.2h0M208.4 88.0h0M185.6 87.9h0M161.6 91.2h0M140.9 95.4h0M202.9 103.8h0M206.2 104.2h0M219.7 106.3h0M140.6 98.8h0M212.7 108.1h0M222.5 109.8h0M143.5 102.6h0M189.2 108.7h0M146.1 105.9h0M169.3 109.4h0M185.5 111.2h0M165.7 111.8h0M178.3 113.7h0M158.1 114.3h0M161.5 114.8h0M137.9 118.3h0M232.0 137.9h0M228.1 140.4h0M227.9 143.8h0M227.5 147.0h0M233.5 151.1h0M188.5 165.2h0M191.6 165.6h0M184.5 167.9h0M188.0 168.3h0M191.3 168.5h0M194.3 169.2h0M171.0 169.1h0M174.3 169.8h0M196.8 172.6h0M200.3 173.4h0M160.8 171.2h0M199.8 176.4h0M203.3 177.4h0M202.7 180.4h0M156.8 177.2h0M202.6 183.8h0M205.7 184.3h0M153.1 180.5h0M204.9 187.1h0M208.7 187.9h0M146.0 182.3h0M208.2 191.0h0M211.4 191.4h0M220.9 192.5h0M224.3 193.0h0M227.6 193.4h0M231.1 193.8h0M234.0 194.3h0M142.1 185.2h0M210.8 194.7h0M213.9 195.0h0M217.6 195.8h0M220.8 196.2h0M223.8 196.3h0M227.2 197.1h0M230.4 197.2h0M138.2 188.4h0M210.4 198.2h0M213.7 198.2h0M216.9 199.1h0M220.2 199.2h0M134.8 191.0h0M213.0 202.0h0M216.5 202.0h0M219.7 202.5h0M130.8 194.2h0M212.6 205.0h0M216.3 205.5h0M219.3 206.0h0M127.4 196.8h0M209.2 207.7h0M212.1 208.3h0M215.8 208.5h0M219.0 209.0h0M211.6 211.5h0M215.3 211.8h0M218.2 212.2h0M234.0 137.5h0M234.0 151.9h0M234.0 190.3h0M234.0 192.7h0M234.0 195.1h0M211.5 213.0h0M213.9 213.0h0M216.3 213.0h0"/>
<path stroke="#00ccff" d="M212.2 84.9h0M212.1 88.3h0M217.4 95.9h0M220.1 99.3h0M223.1 103.2h0M229.3 107.3h0M232.3 107.9h0M202.6 106.9h0M209.0 111.4h0M221.5 116.0h0M142.4 109.2h0M191.7 115.4h0M227.5 120.5h0M234.1 121.6h0M171.3 116.2h0M184.7 117.9h0M230.3 124.0h0M141.5 115.4h0M174.2 120.2h0M180.6 120.5h0M229.5 130.9h0M221.9 139.6h0M220.9 142.9h0M220.5 146.3h0M220.4 149.3h0M223.2 152.9h0M219.4 155.8h0M209.4 158.1h0M212.5 158.2h0M215.7 158.6h0M219.0 159.0h0M189.3 158.7h0M192.6 158.9h0M205.5 160.5h0M178.5 163.5h0M161.8 164.8h0M171.5 166.2h0M154.6 167.4h0M154.0 170.3h0M149.9 176.3h0M142.9 178.9h0M129.5 180.6h0M234.0 108.7h0M234.0 111.1h0M234.0 118.3h0M234.0 120.7h0M234.0 123.1h0M234.0 127.9h0"/>
<path stroke="#ffff00" d="M225.7 83.6h0M222.4 86.4h0M232.1 87.9h0M227.7 93.7h0M163.8 125.3h0M189.5 132.1h0M182.3 134.6h0M202.0 136.9h0M165.3 135.3h0M158.4 137.9h0M197.8 143.1h0M158.2 140.9h0M190.8 145.4h0M141.2 142.3h0M180.1 150.7h0M162.7 155.3h0M166.0 155.5h0M234.0 96.7h0"/>
<path stroke="#33ffcc" d="M193.1 78.9h0M196.7 79.8h0M199.7 79.9h0M146.9 76.0h0M215.1 89.0h0M221.1 96.3h0M226.7 100.5h0M233.2 104.6h0M202.0 113.4h0M211.2 118.1h0M214.6 118.8h0M207.7 121.1h0M210.6 121.6h0M217.2 122.4h0M220.7 122.7h0M157.9 117.9h0M213.4 124.9h0M217.0 125.8h0M223.2 126.8h0M186.3 128.0h0M206.4 131.0h0M137.1 124.9h0M211.2 144.6h0M207.1 147.6h0M203.6 150.2h0M193.4 152.5h0M186.3 154.8h0M182.3 157.5h0M139.0 158.7h0M162.2 161.4h0M165.5 162.0h0M171.9 162.9h0M145.1 162.4h0M148.1 166.1h0M144.0 172.5h0M146.9 172.6h0M130.5 173.9h0M137.2 174.7h0M234.0 84.7h0"/>
<path stroke="#99ff66" d="M182.8 81.4h0M221.2 93.0h0M227.3 97.3h0M233.3 101.0h0M183.0 131.1h0M169.3 132.4h0M207.9 141.3h0M190.5 148.4h0M134.4 144.5h0M137.7 144.8h0M137.4 148.1h0M143.2 152.5h0M146.7 153.0h0M175.7 156.5h0M162.8 158.2h0M132.1 160.5h0M135.0 164.4h0M138.1 168.2h0M131.1 170.5h0M134.4 171.2h0M234.0 101.5h0"/>
</g>
<g stroke-width="3.5">
<path stroke="#ffb300" d="M234.0 94.0h0M162.7 127.6h0M161.3 136.6h0M183.5 149.5h0M161.6 150.5h0"/>
<path stroke="#0000cc" d="M161.1 196.1h0"/>
<path stroke="#ff8000" d="M222.5 93.1h0M151.7 123.6h0M139.8 126.0h0M201.9 137.9h0M186.9 137.9h0M186.9 145.2h0"/>
<path stroke="#0033ff" d="M177.7 86.3h0M208.3 90.5h0M210.9 102.3h0M144.9 98.7h0M151.9 107.2h0M156.1 107.3h0M179.9 110.1h0M234.8 142.2h0M182.6 173.0h0M188.0 173.4h0M189.8 173.0h0M168.1 175.7h0M193.3 178.7h0M195.6 186.8h0M199.2 191.3h0M204.5 202.2h0M207.1 203.9h0M228.0 207.4h0M227.9 209.0h0M227.6 211.8h0M232.5 211.9h0M206.2 211.9h0M225.2 213.4h0M126.4 202.3h0"/>
<path stroke="#99ff66" d="M234.7 84.5h0M156.3 83.6h0M202.8 110.7h0M190.4 130.8h0M212.6 141.3h0M132.9 168.5h0"/>
<path stroke="#0066ff" d="M203.1 87.5h0M199.5 104.1h0M204.3 104.1h0M203.9 106.6h0M222.2 108.6h0M193.8 107.2h0M139.1 104.7h0M184.5 111.0h0M183.6 113.4h0M176.3 118.8h0M230.7 138.0h0M234.2 156.1h0M232.2 157.6h0M195.6 163.2h0M180.7 167.9h0M206.2 171.5h0M194.0 171.3h0M162.1 169.1h0M194.9 173.8h0M208.8 176.2h0M202.9 177.6h0M226.7 182.5h0M202.5 182.3h0M215.5 188.6h0M223.2 189.4h0M152.2 183.4h0M206.0 190.4h0M234.7 193.8h0M203.7 192.2h0M142.6 185.6h0M219.4 197.2h0M212.5 198.0h0M221.2 199.5h0M211.8 204.6h0M220.1 210.5h0"/>
<path stroke="#ff1a00" d="M163.4 141.5h0M164.6 144.0h0"/>
<path stroke="#0000e6" d="M186.9 92.1h0M186.3 94.2h0M176.1 188.4h0M177.8 191.2h0M180.6 191.1h0M179.7 193.0h0M168.0 194.2h0M181.3 195.8h0M153.0 195.1h0M165.3 196.9h0M171.7 197.0h0M185.8 202.0h0M188.7 201.9h0M144.0 198.7h0M162.9 200.3h0M152.8 201.3h0M154.9 201.6h0M159.3 202.1h0M162.1 203.6h0M168.6 203.8h0M147.4 203.3h0M155.0 204.3h0M159.1 204.4h0M142.2 204.4h0M156.7 207.0h0M192.0 212.1h0M149.3 208.3h0M168.6 210.7h0M170.3 211.2h0M174.4 211.2h0M189.4 213.4h0M191.8 213.6h0M141.6 209.1h0M155.8 212.0h0M135.4 211.8h0M136.7 211.0h0M151.2 213.8h0M153.6 213.0h0"/>
<path stroke="#00ccff" d="M194.7 78.8h0M222.7 83.1h0M221.3 101.4h0M230.0 105.6h0M142.3 107.3h0M183.1 118.2h0M190.5 118.7h0M197.1 119.4h0M161.4 117.2h0M189.5 123.1h0M224.1 129.1h0M191.9 126.6h0M183.9 128.3h0M215.1 139.1h0M224.6 140.2h0M210.8 162.7h0M217.1 163.6h0M211.7 169.8h0M213.3 174.9h0M145.4 167.4h0"/>
<path stroke="#00ffff" d="M208.5 120.9h0M211.2 139.0h0M206.8 146.9h0M195.2 154.9h0M177.1 159.5h0"/>
<path stroke="#66ff99" d="M152.9 116.5h0M163.8 119.5h0M181.2 126.8h0M138.5 135.7h0M204.9 149.5h0"/>
<path stroke="#ffe500" d="M229.8 89.5h0M198.1 132.5h0M185.9 147.2h0M143.2 148.7h0M163.6 150.6h0M173.7 154.2h0"/>
<path stroke="#ccff33" d="M232.3 101.7h0M219.7 128.0h0M206.7 133.9h0M174.4 150.7h0M131.3 162.7h0M135.8 166.8h0"/>
<path stroke="#004dff" d="M151.9 83.2h0M179.7 86.8h0M141.2 94.0h0M140.8 95.4h0M212.7 107.3h0M148.9 106.0h0M162.7 108.7h0M178.8 113.2h0M175.9 114.7h0M231.8 141.4h0M198.1 164.6h0M192.0 169.0h0M180.2 169.4h0M183.3 170.0h0M186.0 169.9h0M166.1 170.6h0M200.7 182.2h0M158.0 178.5h0M199.4 184.5h0M202.3 187.2h0M150.6 185.1h0M206.5 191.9h0M210.2 194.7h0M207.4 200.2h0M132.7 194.6h0M206.6 206.0h0M222.8 211.2h0"/>
<path stroke="#b3ff4c" d="M218.3 89.8h0M154.8 83.4h0M145.4 114.9h0M167.4 128.2h0M195.5 131.6h0M139.7 138.9h0M170.6 157.0h0"/>
<path stroke="#e5ff1a" d="M149.8 77.4h0M226.8 94.9h0M205.6 142.1h0M190.9 145.0h0M132.5 175.3h0"/>
<path stroke="#ff6600" d="M149.7 118.8h0M148.1 146.3h0M159.4 150.4h0"/>
<path stroke="#0099ff" d="M206.9 85.6h0M155.9 88.0h0M216.5 96.5h0M212.2 109.9h0M221.5 113.5h0M234.7 122.8h0M170.7 123.0h0M207.0 128.6h0M225.8 135.6h0M193.3 162.8h0M207.5 164.3h0M199.9 165.6h0M213.7 169.5h0M232.9 172.4h0M209.5 172.0h0M169.2 168.6h0M217.4 177.6h0M230.4 191.2h0"/>
<path stroke="#00b2ff" d="M197.3 81.9h0M209.0 85.5h0M213.5 86.1h0M186.6 87.5h0M226.2 100.4h0M226.6 111.5h0M228.5 112.3h0M229.6 120.1h0M167.7 113.3h0M203.5 120.5h0M201.7 124.9h0M195.7 126.3h0M225.7 131.4h0M230.6 134.0h0M210.5 147.4h0M215.9 156.4h0M221.0 157.0h0M229.3 157.9h0M227.6 159.6h0M193.7 160.2h0M196.5 159.7h0M214.4 165.6h0M134.2 158.3h0M153.1 161.2h0M169.1 165.7h0M218.4 172.8h0M222.4 177.4h0M219.6 180.6h0M212.2 181.5h0M216.5 181.8h0"/>
<path stroke="#ff9900" d="M148.2 75.0h0M153.8 119.3h0M156.0 124.6h0M156.8 134.0h0M175.8 150.0h0M150.5 149.1h0M155.1 150.3h0"/>
<path stroke="#e50000" d="M148.8 72.8h0M153.8 74.0h0"/>
<path stroke="#ffcc00" d="M225.7 86.1h0M200.0 131.6h0M170.6 137.1h0M158.8 138.7h0M184.4 147.1h0M145.3 148.1h0M152.9 150.2h0"/>
<path stroke="#ffff00" d="M222.4 90.7h0M226.8 91.1h0M209.5 119.2h0M167.0 130.8h0M161.6 139.4h0M189.1 142.1h0M188.7 146.9h0M192.7 147.6h0M188.3 151.5h0M140.4 149.7h0M154.0 151.7h0M161.9 153.3h0M142.9 166.9h0"/>
<path stroke="#33ffcc" d="M219.9 95.2h0M221.5 94.9h0M230.4 103.6h0M200.5 115.9h0M199.5 117.7h0M203.5 123.3h0M184.5 123.6h0M176.9 127.0h0M144.6 157.5h0M176.4 162.3h0M138.9 159.3h0M143.6 160.3h0"/>
<path stroke="#1affe5" d="M216.3 82.1h0M216.8 91.3h0M164.3 117.5h0M222.7 127.5h0M188.4 125.3h0M186.7 127.7h0M207.8 130.8h0M174.4 128.9h0M217.3 143.7h0M219.2 146.2h0M196.2 155.7h0M199.7 156.4h0M142.4 159.2h0M174.5 164.2h0M148.4 168.2h0"/>
<path stroke="#0000ff" d="M143.2 81.3h0M202.9 90.4h0M143.0 83.8h0M179.2 89.7h0M191.1 91.2h0M147.1 87.8h0M188.9 93.3h0M191.6 92.7h0M146.0 89.2h0M149.2 90.0h0M151.2 90.1h0M188.5 94.8h0M202.4 97.6h0M171.8 94.8h0M176.1 95.7h0M178.4 95.5h0M190.9 98.2h0M186.2 99.6h0M192.9 101.0h0M174.2 100.7h0M190.4 102.2h0M164.6 101.3h0M177.5 103.0h0M186.0 179.9h0M179.4 181.6h0M169.9 182.1h0M185.2 184.8h0M186.1 187.0h0M162.5 187.0h0M173.4 190.1h0M185.3 191.2h0M191.7 192.3h0M156.0 192.5h0M194.1 197.1h0M141.5 195.0h0M195.0 202.2h0M140.8 200.6h0M132.7 206.4h0M130.2 210.4h0"/>
<path stroke="#ff4c00" d="M155.4 73.7h0M152.9 78.8h0M143.1 129.9h0M186.8 142.5h0M169.4 149.6h0"/>
<path stroke="#0019ff" d="M145.5 79.1h0M176.3 83.7h0M171.4 85.7h0M205.7 92.2h0M207.9 93.6h0M209.3 95.3h0M154.7 95.8h0M208.7 102.6h0M149.3 99.2h0M152.4 99.9h0M166.4 102.3h0M151.9 102.1h0M183.9 106.5h0M156.1 105.2h0M175.6 107.7h0M180.7 174.0h0M194.4 177.2h0M170.6 176.1h0M189.4 180.2h0M167.9 179.9h0M162.0 184.5h0M189.8 188.3h0M193.9 194.8h0M142.6 193.5h0M144.2 192.8h0M199.6 202.7h0M202.2 208.5h0M126.1 207.5h0"/>
<path stroke="#0080ff" d="M231.0 110.3h0M230.6 150.5h0M225.3 154.1h0M232.6 155.7h0M217.0 160.7h0M201.3 163.7h0M230.8 171.7h0M150.3 166.4h0M222.4 176.2h0M228.3 183.6h0M153.3 178.6h0M207.7 185.7h0M210.0 185.7h0M212.4 186.5h0M216.4 187.3h0M220.5 187.3h0M222.7 187.1h0M151.4 180.3h0M214.4 188.6h0M221.1 189.4h0M215.8 191.6h0M223.1 192.3h0M128.7 191.7h0M129.6 195.7h0M218.4 211.1h0"/>
<path stroke="#ff0000" d="M148.5 125.7h0M148.7 127.7h0M174.8 143.3h0M164.8 148.3h0"/>
<path stroke="#80ff80" d="M220.2 92.9h0M142.8 121.7h0M208.2 137.5h0M138.9 133.4h0M191.2 149.9h0M180.5 155.1h0M144.0 155.1h0M137.9 157.2h0M145.4 164.8h0M143.9 173.9h0"/>
<path stroke="#00e5ff" d="M202.4 116.6h0M168.5 115.8h0M227.0 123.4h0M194.1 121.7h0M211.5 131.1h0M222.9 134.7h0M215.9 137.2h0M138.3 150.0h0M189.4 158.8h0M151.7 158.6h0M165.5 162.8h0M219.8 174.6h0M141.9 176.9h0M148.6 177.5h0"/>
<path stroke="#4dffb2" d="M200.0 80.4h0M204.7 82.6h0M232.7 96.8h0M234.3 104.1h0M222.7 123.5h0M213.5 125.1h0M212.4 127.0h0M202.6 132.9h0M133.1 149.8h0M155.0 154.4h0M158.7 160.1h0M143.6 164.2h0M129.8 174.9h0"/>
<path stroke="#ff3300" d="M157.2 79.1h0M149.6 137.0h0M151.0 146.8h0"/>
<path stroke="#1affe5" d="M208.7 80.6h0M168.2 118.5h0M205.5 123.5h0M161.9 119.2h0M173.3 121.9h0M175.5 124.0h0M203.0 127.3h0M190.6 128.9h0M202.5 129.8h0M176.1 130.9h0M218.4 137.7h0M199.3 151.3h0M184.8 156.0h0M148.1 162.8h0M136.5 164.1h0M142.3 174.7h0"/>
<path stroke="#ff0000" d="M145.1 139.3h0M170.1 142.4h0M167.2 144.2h0M150.7 145.2h0"/>
<path stroke="#00b2ff" d="M199.6 85.2h0M147.8 79.8h0M227.4 104.8h0M225.2 107.0h0M219.4 113.2h0M226.4 114.2h0M202.7 113.9h0M204.9 118.7h0M224.7 125.6h0M213.7 139.2h0M221.7 147.4h0M213.1 158.2h0M229.3 160.5h0M205.8 159.2h0M210.5 160.0h0M233.5 163.1h0M200.7 161.4h0M211.9 165.4h0M209.3 168.9h0M199.5 170.8h0M213.3 172.7h0M227.5 173.9h0M229.3 174.2h0M233.3 181.6h0M212.3 183.4h0M214.3 184.2h0M141.3 178.9h0M131.6 182.2h0M128.4 184.1h0"/>
<path stroke="#ffff00" d="M152.4 80.6h0M188.6 132.9h0M196.9 134.7h0M159.0 141.1h0"/>
<path stroke="#e5ff1a" d="M231.7 89.1h0M156.3 118.9h0M196.1 141.2h0M201.0 146.5h0M172.9 159.0h0"/>
<path stroke="#00e5ff" d="M213.4 91.4h0M217.4 94.3h0M195.5 109.8h0M197.3 113.1h0M218.4 115.6h0M230.2 122.5h0M140.5 115.1h0M173.5 118.6h0M180.9 120.2h0M175.2 121.3h0M217.3 127.8h0M217.3 141.9h0M218.7 149.4h0M207.1 154.1h0M199.3 157.5h0M206.1 160.9h0M217.6 165.5h0M147.1 173.0h0M130.3 172.9h0M134.3 180.1h0"/>
<path stroke="#80ff80" d="M221.5 82.4h0M204.5 130.6h0M157.1 155.5h0M131.0 165.1h0M138.6 166.2h0"/>
<path stroke="#00ffff" d="M202.9 80.8h0M219.4 96.2h0M224.8 102.6h0M224.4 104.4h0M214.6 112.8h0M208.9 117.2h0M227.3 120.0h0M188.1 118.6h0M137.8 114.6h0M183.3 120.3h0M216.9 132.1h0M135.6 130.1h0M216.4 148.1h0M206.6 152.3h0M210.3 157.8h0M160.8 159.8h0M155.9 161.3h0M227.8 171.8h0M133.6 165.9h0M151.5 170.6h0M132.1 179.7h0"/>
<path stroke="#ff4c00" d="M149.8 121.3h0M154.5 131.0h0M179.4 143.6h0M157.7 143.0h0"/>
<path stroke="#0000ff" d="M195.8 89.1h0M144.9 84.1h0M201.3 91.8h0M173.1 91.0h0M195.1 94.0h0M202.1 94.2h0M141.4 88.7h0M204.4 97.1h0M146.8 91.6h0M148.0 92.7h0M181.7 96.2h0M194.9 98.1h0M174.3 97.3h0M185.6 102.4h0M173.7 102.7h0M175.9 103.5h0M180.9 103.5h0M182.8 104.5h0M171.5 181.3h0M180.9 182.6h0M183.3 182.5h0M183.7 184.1h0M172.1 185.3h0M173.6 186.1h0M183.1 187.5h0M168.5 187.7h0M171.9 187.4h0M158.8 188.6h0M163.4 189.0h0M168.7 190.3h0M152.1 189.6h0M164.1 192.0h0M146.7 196.7h0M198.0 203.7h0M192.8 204.4h0M192.0 209.1h0M194.4 209.2h0M196.4 210.6h0M131.5 203.2h0M133.1 204.0h0M135.6 204.1h0M159.4 209.6h0"/>
<path stroke="#ff3300" d="M153.8 126.4h0M154.8 128.1h0M143.5 131.7h0M145.1 132.2h0M169.7 147.6h0M179.0 148.6h0"/>
<path stroke="#33ffcc" d="M204.0 80.5h0M183.6 82.6h0M186.9 85.7h0M226.3 97.7h0M220.9 122.7h0M233.3 127.8h0M179.8 123.1h0M220.0 129.4h0M209.2 131.4h0M211.1 133.3h0M215.5 144.0h0M217.1 146.7h0M138.0 154.1h0M162.7 160.0h0M172.4 161.6h0"/>
<path stroke="#0000e6" d="M178.5 188.4h0M171.5 190.4h0M184.8 194.7h0M166.0 193.9h0M151.1 194.2h0M155.3 195.4h0M157.6 196.0h0M162.7 195.8h0M186.0 199.6h0M160.0 198.2h0M166.7 198.4h0M148.7 199.4h0M155.0 199.4h0M159.8 200.2h0M166.9 201.5h0M187.3 203.5h0M145.2 200.4h0M166.6 203.5h0M171.3 203.7h0M178.4 204.6h0M184.7 205.8h0M143.3 202.4h0M150.0 203.9h0M151.7 204.0h0M175.6 207.0h0M147.6 206.0h0M149.1 205.9h0M151.5 206.6h0M154.3 206.3h0M163.8 208.3h0M134.8 206.7h0M137.6 206.5h0M142.1 207.9h0M147.0 207.4h0M154.2 208.9h0M160.5 210.3h0M177.4 212.2h0M181.5 212.3h0M183.8 213.3h0M193.3 213.9h0M143.9 209.8h0M151.4 210.9h0M161.0 212.3h0M139.8 212.3h0"/>
<path stroke="#0019ff" d="M193.8 88.8h0M168.2 87.5h0M167.6 90.4h0M206.9 97.8h0M142.2 90.7h0M144.3 91.6h0M145.9 93.5h0M153.4 95.4h0M148.2 97.3h0M150.5 97.5h0M184.8 104.5h0M156.1 103.2h0M158.3 103.5h0M161.5 103.6h0M167.7 104.0h0M170.2 104.9h0M180.0 108.1h0M181.7 108.0h0M159.7 112.2h0M187.2 175.1h0M184.8 177.7h0M170.0 177.8h0M163.2 181.3h0M188.1 184.9h0M191.1 185.1h0M192.1 185.5h0M154.7 185.9h0M193.7 193.6h0M196.5 193.5h0M147.9 188.8h0M196.8 195.8h0M144.6 191.8h0M195.5 198.0h0M198.1 198.7h0M139.8 194.7h0M201.6 203.8h0M198.0 204.8h0M136.1 199.0h0"/>
<path stroke="#0066ff" d="M159.0 89.1h0M163.4 88.7h0M162.4 93.4h0M222.2 111.8h0M227.9 114.4h0M172.1 111.7h0M181.0 112.8h0M148.5 111.4h0M178.5 114.7h0M226.9 140.9h0M227.7 142.4h0M228.9 143.8h0M228.5 145.5h0M234.9 158.2h0M234.1 160.5h0M231.4 167.7h0M185.4 165.2h0M197.0 169.6h0M199.4 175.2h0M210.2 176.0h0M159.3 172.5h0M228.8 181.7h0M160.7 174.0h0M203.7 180.6h0M230.4 185.5h0M151.6 178.3h0M155.6 178.3h0M204.2 185.3h0M144.6 179.7h0M204.9 187.5h0M208.3 194.6h0M222.6 196.9h0M215.0 198.1h0M215.9 203.4h0M209.1 204.0h0M218.2 208.9h0M212.8 212.6h0"/>
<path stroke="#b3ff4c" d="M194.8 81.4h0M215.7 122.6h0M149.8 115.6h0M133.7 144.1h0M167.5 158.9h0"/>
<path stroke="#ffcc00" d="M157.2 77.3h0M227.8 86.6h0M229.2 93.1h0M196.6 137.1h0M162.0 134.5h0M199.1 141.1h0M186.4 148.8h0M147.6 150.6h0M149.7 151.8h0M143.5 169.7h0"/>
<path stroke="#ff1a00" d="M150.9 125.8h0M152.7 130.7h0M187.7 139.6h0M145.3 136.2h0M165.4 139.6h0M148.5 143.9h0"/>
<path stroke="#0033ff" d="M147.8 82.4h0M181.9 87.7h0M165.7 92.1h0M158.5 92.7h0M199.1 101.9h0M188.9 105.4h0M191.6 104.4h0M187.4 106.3h0M153.9 104.7h0M158.8 105.8h0M154.0 107.2h0M155.8 109.3h0M157.4 110.3h0M154.9 111.7h0M177.7 172.0h0M180.1 172.8h0M184.4 173.2h0M192.8 181.7h0M195.5 181.6h0M160.6 178.8h0M164.5 180.2h0M195.6 183.8h0M157.2 183.6h0M146.2 184.5h0M197.5 191.5h0M150.1 186.8h0M204.5 206.1h0M225.3 209.8h0M229.4 209.8h0M231.6 209.8h0M206.1 208.5h0M224.9 211.5h0M230.1 211.5h0M129.3 200.8h0"/>
<path stroke="#ffe500" d="M154.7 78.8h0M144.8 119.4h0M158.4 124.6h0M194.5 134.3h0M139.4 141.3h0M170.3 154.4h0M161.4 156.1h0"/>
<path stroke="#cc0000" d="M150.7 128.2h0"/>
<path stroke="#0080ff" d="M206.2 104.6h0M196.9 105.5h0M210.4 107.5h0M191.6 108.0h0M187.9 114.0h0M230.9 136.6h0M195.6 153.1h0M218.0 159.0h0M221.9 159.5h0M203.1 165.7h0M199.6 167.4h0M155.8 164.0h0M204.0 174.8h0M229.8 188.8h0M131.0 189.2h0M218.8 203.5h0M127.6 194.0h0M218.5 206.1h0"/>
<path stroke="#ff9900" d="M225.0 83.6h0M223.9 92.4h0M231.4 94.4h0M154.5 121.6h0M152.5 137.6h0M193.4 143.4h0M168.6 154.6h0"/>
<path stroke="#66ff99" d="M199.8 83.1h0M158.6 83.5h0M143.4 117.0h0M183.2 129.8h0M217.0 134.8h0M169.2 134.6h0M136.5 143.1h0M133.9 152.0h0M179.7 158.6h0M184.0 158.5h0M135.7 156.3h0M134.7 161.8h0M143.3 162.8h0M138.9 164.0h0M138.0 168.7h0M136.2 171.0h0M138.4 171.4h0"/>
<path stroke="#00ccff" d="M223.2 100.1h0M139.4 107.8h0M191.3 123.6h0M181.7 124.8h0M221.6 144.9h0M221.9 149.9h0M225.6 149.5h0M223.0 157.0h0M227.2 157.7h0M219.4 160.8h0M151.1 156.6h0M151.3 160.8h0M157.9 166.7h0M138.7 180.8h0M128.3 187.2h0"/>
<path stroke="#ffb300" d="M157.3 81.7h0M183.2 137.2h0M189.8 138.3h0M194.4 139.0h0M154.4 138.0h0M177.0 148.6h0M159.1 155.5h0"/>
<path stroke="#99ff66" d="M207.8 125.9h0M200.5 129.8h0M178.5 134.5h0M146.9 156.4h0M149.4 156.7h0M163.6 158.2h0"/>
<path stroke="#004dff" d="M178.1 84.1h0M216.5 101.5h0M220.4 106.0h0M219.6 108.9h0M164.7 108.7h0M150.7 108.3h0M153.2 110.0h0M227.7 137.8h0M234.3 138.8h0M231.5 148.9h0M173.2 171.1h0M163.7 172.2h0M166.0 173.0h0M200.9 180.2h0M197.7 183.7h0M155.8 181.4h0M158.1 180.6h0M210.9 188.5h0M154.6 183.0h0M210.6 193.0h0M226.7 195.2h0M204.0 194.2h0M206.1 195.1h0M208.1 197.6h0M219.9 199.0h0M137.5 190.8h0M209.9 200.1h0M216.7 201.3h0M226.4 201.9h0M233.3 203.2h0M137.6 192.9h0M221.8 204.2h0M223.6 206.6h0M230.9 207.0h0M219.5 213.7h0"/>
<path stroke="#4dffb2" d="M232.1 105.1h0M140.7 112.0h0M157.0 117.3h0M165.5 125.6h0M195.4 129.2h0M204.9 147.6h0M203.7 154.2h0M208.2 154.5h0M212.9 154.9h0M139.9 153.0h0M180.3 160.0h0M132.9 177.9h0"/>
<path stroke="#0099ff" d="M164.0 87.6h0M214.8 93.8h0M213.8 95.6h0M145.5 110.4h0M148.6 113.7h0M177.3 121.8h0M228.9 128.6h0M142.4 119.6h0M228.7 152.3h0M228.7 162.3h0M191.9 159.4h0M188.5 160.9h0M209.4 165.0h0M205.4 166.0h0M225.3 171.6h0M173.5 166.4h0M161.6 167.7h0M199.4 172.7h0M229.6 176.2h0M234.5 179.2h0M205.9 177.7h0M215.3 178.8h0M231.2 181.7h0M214.9 181.5h0M150.9 175.2h0M216.3 184.7h0M225.9 187.7h0M141.9 181.8h0M133.4 182.2h0M138.0 183.1h0M215.8 207.3h0"/>
<path stroke="#ccff33" d="M232.1 84.6h0M137.1 126.1h0M204.0 137.5h0M164.2 134.3h0M140.5 136.2h0M201.2 144.5h0M155.6 142.4h0M135.1 142.1h0M141.2 148.3h0M168.5 156.4h0"/>
<path stroke="#ff6600" d="M185.4 137.2h0M181.6 141.0h0"/>
<path stroke="#ff8000" d="M153.1 123.3h0M162.1 130.0h0M157.1 130.6h0M159.6 131.4h0M162.0 132.3h0M196.1 138.7h0M161.0 143.9h0M143.6 143.2h0"/>
<path stroke="#004dff" d="M192.0 88.0h0M157.6 91.5h0M213.9 98.6h0M160.4 93.9h0M213.2 105.3h0M222.3 107.5h0M142.3 98.5h0M188.7 106.9h0M166.9 111.1h0M174.7 112.4h0M152.8 111.5h0M137.3 119.2h0M233.1 146.2h0M190.2 166.2h0M175.6 169.7h0M198.4 177.3h0M162.9 174.6h0M165.8 174.8h0M195.9 178.5h0M158.5 176.0h0M151.1 182.7h0M204.1 189.4h0M231.7 198.8h0M205.5 196.3h0M226.6 199.7h0M140.5 190.0h0M204.6 198.9h0M210.2 202.9h0M231.1 204.4h0M130.7 194.6h0M132.3 195.9h0M208.1 209.1h0M211.5 210.1h0"/>
<path stroke="#0000e6" d="M200.4 95.0h0M181.7 94.4h0M175.0 190.6h0M158.5 191.4h0M174.6 193.0h0M177.2 193.0h0M182.0 193.8h0M159.3 193.7h0M177.8 196.1h0M169.3 196.5h0M178.7 197.9h0M150.5 196.6h0M153.3 196.4h0M157.8 198.2h0M162.6 198.7h0M153.6 199.5h0M157.3 199.9h0M175.7 202.8h0M142.9 200.2h0M147.8 200.7h0M150.2 201.5h0M157.7 201.8h0M180.2 206.1h0M156.7 204.3h0M167.0 206.5h0M169.2 206.5h0M173.6 207.5h0M180.0 208.2h0M189.7 209.2h0M161.8 207.4h0M169.0 208.8h0M170.4 209.6h0M172.8 208.9h0M180.1 210.5h0M186.6 211.1h0M151.9 208.8h0M179.8 211.9h0M135.3 208.6h0M149.2 210.3h0M162.6 212.5h0M165.2 212.9h0M167.2 213.0h0M146.5 212.4h0"/>
<path stroke="#33ffcc" d="M201.9 83.1h0M195.1 115.4h0M166.3 132.8h0M135.9 133.1h0M137.1 138.6h0M135.5 139.4h0M195.9 150.3h0M211.3 152.9h0M185.1 153.8h0M182.4 158.9h0M133.6 154.3h0M181.5 160.6h0M150.3 171.1h0M141.9 172.0h0M132.3 173.4h0"/>
<path stroke="#1affe5" d="M211.4 83.9h0M213.0 89.1h0M143.3 110.4h0M211.1 122.1h0M207.8 123.3h0M224.2 131.3h0M214.4 136.5h0M199.7 149.3h0M214.2 152.5h0M218.8 153.7h0M203.6 159.4h0M137.0 159.5h0M139.8 162.0h0M135.9 172.8h0"/>
<path stroke="#0000ff" d="M199.0 89.2h0M147.5 84.5h0M198.1 91.8h0M142.5 85.8h0M144.4 87.0h0M149.7 87.9h0M151.9 87.3h0M169.9 90.6h0M193.7 93.4h0M144.5 88.4h0M176.8 94.2h0M179.8 93.8h0M197.5 96.1h0M209.2 98.5h0M173.6 94.9h0M187.8 97.7h0M199.7 98.4h0M168.7 97.5h0M171.5 97.5h0M176.8 98.8h0M180.6 98.6h0M190.2 99.4h0M152.3 97.3h0M164.7 99.3h0M178.6 100.3h0M161.2 101.4h0M168.1 101.5h0M170.7 101.5h0M180.2 176.3h0M178.9 178.9h0M183.7 179.5h0M174.4 181.5h0M177.4 181.1h0M171.7 182.6h0M178.6 184.6h0M181.0 187.1h0M187.2 188.1h0M167.2 186.3h0M189.4 190.2h0M187.6 191.5h0M154.1 190.4h0M186.3 196.3h0M191.5 196.9h0M195.5 200.4h0M139.2 196.8h0M187.0 207.0h0M197.5 207.0h0M138.3 201.7h0M161.1 205.4h0M131.3 206.4h0M127.6 210.0h0"/>
<path stroke="#00ccff" d="M215.7 84.2h0M184.6 85.3h0M199.0 107.7h0M191.3 112.6h0M145.3 113.4h0M171.6 116.4h0M186.6 122.9h0M199.0 124.4h0M228.3 133.8h0M219.6 162.8h0M174.9 161.4h0M225.2 169.6h0M176.2 165.3h0M211.0 172.0h0M152.1 165.5h0M224.9 175.7h0M151.9 169.2h0M129.8 176.7h0"/>
<path stroke="#e5ff1a" d="M188.0 78.4h0M233.9 86.6h0M170.3 127.6h0M178.7 131.8h0M163.9 132.5h0M140.3 133.6h0M159.6 136.3h0M164.6 153.8h0"/>
<path stroke="#0080ff" d="M220.1 110.7h0M233.0 112.5h0M191.7 110.0h0M150.9 113.9h0M159.6 115.3h0M140.1 121.0h0M229.8 153.0h0M231.6 160.0h0M233.0 167.6h0M195.1 165.5h0M187.9 166.7h0M198.0 167.9h0M177.0 167.0h0M203.7 170.7h0M171.0 169.2h0M174.2 168.9h0M155.1 169.0h0M164.0 170.7h0M219.5 182.7h0M218.8 184.7h0M228.2 186.5h0M214.2 186.6h0M228.3 187.9h0M221.0 191.6h0M225.2 192.1h0"/>
<path stroke="#ff9900" d="M234.2 89.0h0M156.4 126.3h0M192.8 135.6h0M174.1 136.0h0M194.1 141.2h0M191.6 142.3h0M166.7 156.3h0"/>
<path stroke="#80ff80" d="M188.4 82.7h0M165.7 120.7h0M166.0 134.2h0M175.5 135.6h0M196.1 145.5h0M195.6 148.0h0M193.2 150.5h0M139.1 144.9h0M185.1 151.7h0M169.3 163.1h0"/>
<path stroke="#ff3300" d="M145.8 125.0h0M141.5 126.0h0M155.2 133.2h0M145.8 144.2h0M167.3 146.2h0M155.2 146.8h0"/>
<path stroke="#0033ff" d="M144.0 77.6h0M189.1 88.7h0M153.9 88.4h0M215.7 104.1h0M215.6 106.5h0M145.1 101.2h0M151.1 104.2h0M163.2 106.3h0M174.2 110.4h0M160.2 110.5h0M139.9 119.9h0M234.4 143.8h0M191.4 174.0h0M174.8 174.0h0M189.2 175.4h0M191.7 179.0h0M163.0 179.5h0M159.9 183.4h0M152.6 185.3h0M145.8 186.8h0M202.9 199.3h0M203.1 201.3h0M234.2 208.3h0M134.3 196.3h0M234.9 210.8h0M203.3 208.9h0M128.9 203.6h0"/>
<path stroke="#ffff00" d="M135.9 149.6h0M146.7 154.0h0M140.9 169.0h0"/>
<path stroke="#ffcc00" d="M184.0 78.4h0M182.8 134.4h0"/>
<path stroke="#00ffff" d="M230.4 100.9h0M223.3 102.7h0M203.3 109.3h0M211.3 115.2h0M216.4 115.6h0M221.2 115.8h0M213.9 118.0h0M168.6 114.2h0M225.7 121.9h0M185.6 121.2h0M199.7 122.5h0M186.0 125.7h0M220.5 140.0h0M212.2 145.4h0M221.7 151.2h0M223.9 151.8h0M188.2 154.6h0M192.6 157.9h0M221.6 168.8h0M146.7 160.9h0M129.7 180.1h0"/>
<path stroke="#00e5ff" d="M202.0 85.2h0M214.9 89.8h0M209.2 114.0h0M215.6 117.9h0M234.7 120.0h0M213.5 122.8h0M171.6 118.6h0M182.3 122.7h0M220.9 134.8h0M180.7 131.5h0M222.6 142.2h0M209.9 145.6h0M201.9 154.0h0M136.0 154.3h0M198.1 163.2h0M153.4 159.2h0M214.7 167.0h0M149.0 160.6h0M221.3 170.9h0M160.7 164.3h0M157.1 169.1h0"/>
<path stroke="#0066ff" d="M179.7 85.0h0M184.9 87.3h0M160.9 88.8h0M193.6 105.9h0M144.5 103.4h0M185.9 110.8h0M188.7 111.5h0M228.4 117.7h0M170.0 111.5h0M150.8 111.2h0M232.5 151.4h0M231.4 162.2h0M232.9 165.0h0M156.4 159.2h0M191.0 164.7h0M194.8 166.8h0M190.6 169.4h0M194.9 169.8h0M163.8 167.5h0M205.6 175.9h0M231.9 179.7h0M226.2 181.1h0M204.8 183.0h0M225.5 185.7h0M202.5 185.3h0M209.1 188.0h0M234.9 191.5h0M208.3 189.9h0M229.1 195.1h0M224.9 197.2h0M226.4 198.0h0M135.7 187.6h0M232.9 200.4h0M214.2 205.8h0M216.9 205.5h0M208.4 207.3h0"/>
<path stroke="#ff1a00" d="M146.7 126.7h0M158.3 128.3h0M168.5 139.4h0M146.5 139.5h0M169.3 145.1h0M174.5 145.2h0"/>
<path stroke="#ffb300" d="M168.2 123.2h0M139.0 128.8h0M138.2 130.6h0M157.9 149.9h0"/>
<path stroke="#0019ff" d="M169.0 85.9h0M206.3 91.0h0M153.6 92.0h0M155.8 92.8h0M202.3 99.4h0M143.9 93.1h0M157.1 96.3h0M164.7 96.8h0M157.0 97.6h0M158.8 100.8h0M154.2 101.9h0M177.4 105.0h0M179.2 106.5h0M187.0 178.3h0M189.2 178.0h0M185.7 181.9h0M188.7 183.0h0M192.5 190.7h0M199.3 193.2h0M199.7 201.4h0M201.5 206.0h0M134.1 198.8h0M199.5 207.6h0M201.2 210.2h0M126.7 205.2h0"/>
<path stroke="#ff4c00" d="M153.0 75.8h0M147.4 122.5h0M191.9 138.8h0M152.8 145.5h0M174.0 148.1h0M144.1 146.4h0"/>
<path stroke="#b3ff4c" d="M160.8 122.0h0M139.1 124.7h0M186.3 132.1h0M178.2 136.8h0M141.4 140.8h0M172.6 157.6h0M145.8 170.6h0"/>
<path stroke="#ff0000" d="M148.3 130.3h0M140.3 130.7h0M152.7 133.5h0M145.0 134.4h0M171.2 140.7h0"/>
<path stroke="#ccff33" d="M230.6 83.9h0M192.2 84.3h0M196.6 83.7h0M224.5 95.3h0M210.5 124.1h0M174.3 132.8h0M194.3 136.6h0M134.8 163.5h0"/>
<path stroke="#66ff99" d="M217.9 84.3h0M218.4 87.7h0M223.1 98.0h0M167.8 120.8h0M175.2 126.3h0M209.5 132.9h0M208.2 140.6h0M215.8 141.9h0M138.8 143.3h0M183.6 151.7h0M132.9 171.1h0"/>
<path stroke="#99ff66" d="M192.0 81.5h0M226.7 93.3h0M206.3 121.1h0M193.0 146.0h0M182.6 153.1h0M166.0 157.8h0M141.5 158.3h0M141.2 166.4h0M137.7 173.7h0"/>
<path stroke="#e50000" d="M154.8 77.0h0M174.8 140.6h0M146.4 141.3h0"/>
<path stroke="#ffe500" d="M229.0 91.2h0M142.3 124.6h0M143.3 149.9h0"/>
<path stroke="#ff8000" d="M155.9 121.6h0M180.8 139.4h0M142.3 138.8h0M171.1 149.4h0"/>
<path stroke="#4dffb2" d="M190.5 79.2h0M190.5 80.5h0M206.3 83.8h0M215.5 124.8h0M214.0 132.1h0M176.6 128.4h0M203.7 145.0h0M201.1 156.3h0M139.6 173.9h0"/>
<path stroke="#00b2ff" d="M193.8 86.7h0M192.5 116.7h0M185.4 118.8h0M187.6 120.7h0M137.9 116.4h0M183.8 125.9h0M225.0 138.6h0M219.6 144.5h0M212.4 159.5h0M222.5 160.9h0M177.9 157.5h0M142.8 155.0h0M205.6 164.3h0M206.8 165.8h0M180.8 165.3h0M204.3 168.1h0M207.4 169.2h0M157.9 164.4h0M224.6 173.3h0M159.8 166.6h0M215.0 176.7h0M224.3 183.2h0M154.4 176.3h0"/>
<path stroke="#0099ff" d="M216.3 99.2h0M208.6 107.3h0M226.9 109.8h0M205.7 109.0h0M194.2 110.2h0M230.2 115.5h0M155.4 114.8h0M196.5 125.2h0M233.2 134.4h0M226.1 152.3h0M230.9 164.9h0M187.3 160.6h0M219.4 168.5h0M234.9 169.9h0M155.0 171.6h0M156.8 171.9h0M210.0 178.6h0M233.1 188.3h0M218.7 192.2h0M135.7 182.3h0M133.2 184.5h0M136.1 185.3h0"/>
<path stroke="#ff6600" d="M144.1 125.2h0M164.2 137.2h0M164.0 139.4h0M181.4 149.0h0"/>
<path stroke="#e5ff1a" d="M233.8 92.1h0M231.7 96.0h0M215.3 127.8h0M206.6 139.8h0M142.5 135.7h0M178.9 152.8h0"/>
<path stroke="#00ccff" d="M210.9 86.9h0M210.0 111.6h0M214.4 115.5h0M222.9 116.0h0M185.9 114.3h0M215.3 120.5h0M227.3 129.2h0M233.2 132.0h0M179.3 126.9h0M223.6 132.4h0M212.0 136.0h0M212.7 148.2h0M209.0 149.6h0M216.2 158.6h0M212.5 162.7h0M214.7 162.3h0M221.7 163.9h0M148.8 158.0h0M212.4 166.7h0M164.1 164.9h0M129.0 182.1h0"/>
<path stroke="#0000e6" d="M176.7 91.0h0M174.1 92.6h0M176.4 185.4h0M180.7 189.0h0M172.4 194.8h0M188.5 197.6h0M181.6 198.0h0M156.2 197.3h0M169.1 199.7h0M174.7 199.6h0M176.1 200.7h0M183.1 200.6h0M151.0 198.5h0M171.6 201.4h0M178.2 202.3h0M183.2 203.1h0M186.3 203.5h0M174.0 204.3h0M176.0 205.3h0M182.9 205.5h0M190.2 206.1h0M145.4 203.8h0M182.0 208.1h0M187.8 208.4h0M138.5 205.2h0M158.6 206.9h0M165.4 208.2h0M185.2 210.4h0M145.3 208.2h0M156.6 209.9h0M166.2 210.3h0M146.3 209.7h0M170.3 213.7h0M132.5 210.6h0M142.5 211.9h0M144.4 212.6h0"/>
<path stroke="#ff4c00" d="M150.8 75.2h0M148.6 122.6h0M153.3 128.7h0M174.9 138.4h0M163.4 144.4h0M167.2 149.0h0"/>
<path stroke="#ccff33" d="M219.8 87.8h0M222.5 87.2h0M190.6 147.7h0M142.2 143.7h0M151.5 154.2h0M174.6 157.7h0"/>
<path stroke="#e50000" d="M150.0 130.0h0M166.0 142.2h0"/>
<path stroke="#0000ff" d="M142.7 79.4h0M175.7 85.7h0M201.5 90.2h0M171.2 88.4h0M175.4 88.6h0M177.1 89.0h0M182.7 89.2h0M184.3 89.6h0M186.8 89.9h0M203.2 92.1h0M174.6 90.5h0M198.2 93.9h0M207.5 95.6h0M172.5 92.3h0M193.6 95.3h0M200.7 96.5h0M150.9 92.5h0M184.2 96.2h0M185.9 97.4h0M193.0 98.6h0M206.2 100.5h0M209.7 100.0h0M151.1 94.7h0M167.6 96.6h0M183.2 98.5h0M187.8 100.1h0M195.3 100.1h0M171.0 99.6h0M157.4 100.9h0M174.8 104.5h0M172.8 178.9h0M181.1 179.0h0M177.8 186.4h0M188.9 193.0h0M157.0 189.9h0M160.7 190.6h0M154.1 192.3h0M149.5 194.1h0M191.0 199.5h0M193.0 199.7h0M144.1 196.0h0M148.7 196.4h0M192.3 202.7h0M140.9 197.9h0M190.0 204.9h0M193.0 206.4h0M194.1 206.8h0M140.0 205.3h0M189.3 210.7h0M194.3 212.0h0M196.5 211.9h0M132.2 209.0h0M124.9 212.3h0M132.3 213.1h0"/>
<path stroke="#66ff99" d="M211.8 117.1h0M217.9 123.1h0M170.6 121.3h0M197.9 129.2h0M202.1 148.6h0M175.1 154.6h0M165.8 161.2h0M131.9 158.6h0M130.9 169.8h0"/>
<path stroke="#ffcc00" d="M144.7 122.9h0M201.8 134.3h0M158.9 134.6h0M191.8 140.7h0M188.7 145.3h0M182.1 146.5h0M141.0 145.7h0"/>
<path stroke="#004dff" d="M164.2 94.0h0M210.3 105.7h0M218.4 105.7h0M232.2 139.1h0M231.9 143.9h0M231.3 146.3h0M188.2 164.2h0M187.1 170.3h0M190.0 171.7h0M192.6 171.7h0M169.3 171.1h0M171.4 172.7h0M196.7 177.4h0M209.7 181.4h0M156.2 176.5h0M161.1 176.8h0M201.2 189.5h0M232.6 193.9h0M148.6 184.1h0M224.4 195.1h0M233.5 196.3h0M140.0 188.4h0M224.6 199.8h0M221.5 202.0h0M234.8 202.9h0M207.7 202.5h0M226.5 204.0h0M233.4 205.1h0M134.1 195.2h0M221.2 208.2h0M213.9 210.2h0M126.5 200.1h0"/>
<path stroke="#80ff80" d="M220.1 85.0h0M209.7 126.1h0M186.0 129.7h0M136.8 145.4h0M134.1 147.5h0M136.1 161.5h0"/>
<path stroke="#ff9900" d="M192.5 133.3h0M170.9 152.2h0"/>
<path stroke="#1affe5" d="M211.8 82.2h0M218.7 82.1h0M215.1 86.4h0M220.8 97.0h0M195.6 112.2h0M197.7 115.1h0M213.5 119.4h0M198.7 120.5h0M166.5 118.7h0M231.9 130.0h0M205.6 127.6h0M221.5 132.2h0M218.7 135.0h0M222.2 140.0h0M201.7 152.1h0M199.6 153.1h0M217.7 156.4h0M180.0 162.1h0M146.5 175.0h0M146.4 177.2h0"/>
<path stroke="#99ff66" d="M228.1 98.5h0M231.1 98.7h0M167.3 124.9h0M170.2 126.5h0M208.4 136.5h0M137.2 140.7h0M135.2 151.8h0"/>
<path stroke="#ffff00" d="M165.7 127.9h0M190.8 132.7h0M199.7 138.9h0M198.8 146.4h0M197.6 148.2h0M176.5 153.3h0M163.4 155.3h0"/>
<path stroke="#00b2ff" d="M214.0 84.3h0M196.8 87.3h0M153.5 85.2h0M219.3 99.6h0M206.5 107.5h0M233.9 111.3h0M207.6 110.2h0M224.0 114.2h0M223.4 118.1h0M183.0 115.4h0M166.5 116.2h0M180.2 117.6h0M194.2 126.4h0M136.5 123.2h0M227.4 136.6h0M224.5 142.2h0M224.3 150.2h0M215.7 160.6h0M207.6 161.4h0M224.4 163.5h0M181.1 162.6h0M184.7 163.5h0M153.4 163.9h0M216.3 172.1h0M220.3 173.5h0M232.9 174.3h0M216.3 174.9h0M212.9 176.9h0M224.5 178.4h0M229.5 179.1h0M154.7 173.2h0M231.1 183.5h0"/>
<path stroke="#ff1a00" d="M143.7 126.3h0M140.8 128.5h0M146.2 130.2h0M181.7 143.5h0M171.5 147.3h0"/>
<path stroke="#00ffff" d="M198.8 110.5h0M138.4 112.5h0M225.6 123.1h0M193.7 124.3h0M214.4 150.6h0M216.3 153.3h0M220.7 154.6h0M191.8 155.2h0M151.4 173.2h0M136.8 176.2h0"/>
<path stroke="#ff0000" d="M150.8 73.3h0M147.7 135.3h0M184.2 139.2h0M167.9 142.4h0M162.7 145.9h0M165.6 145.8h0"/>
<path stroke="#4dffb2" d="M181.4 82.4h0M227.9 102.7h0M219.9 125.6h0M159.0 119.0h0M213.4 133.7h0M208.0 143.2h0M205.6 145.3h0M190.2 151.9h0M143.2 153.0h0M141.6 161.7h0"/>
<path stroke="#ff3300" d="M183.1 139.9h0M149.8 139.1h0M177.3 143.3h0M155.3 144.6h0M160.2 146.1h0M158.0 147.5h0"/>
<path stroke="#ffe500" d="M159.2 122.2h0M158.5 126.1h0M169.1 129.9h0M202.5 147.2h0"/>
<path stroke="#ffb300" d="M185.4 80.8h0M151.3 121.4h0M154.9 136.2h0M198.5 143.6h0M151.5 140.4h0M161.2 141.0h0M179.7 146.0h0M165.6 153.2h0"/>
<path stroke="#ff8000" d="M157.6 74.4h0M160.1 129.0h0M179.9 137.3h0M165.8 137.3h0M144.6 141.1h0M167.2 151.0h0M168.3 152.3h0"/>
<path stroke="#0019ff" d="M172.5 86.3h0M205.0 95.6h0M153.9 90.5h0M166.8 94.9h0M197.7 99.2h0M211.5 100.9h0M204.0 101.4h0M145.7 95.9h0M162.5 99.2h0M154.9 100.2h0M173.2 105.4h0M168.3 107.1h0M172.1 107.3h0M157.4 111.9h0M162.2 113.2h0M184.8 175.5h0M175.3 178.6h0M167.0 182.6h0M166.2 185.0h0M192.1 187.8h0M194.6 188.3h0M156.8 186.2h0M159.1 185.4h0M152.3 187.2h0M154.3 188.4h0M198.0 201.0h0M136.5 197.4h0M199.8 205.0h0M229.1 213.8h0M204.0 212.8h0M128.6 207.8h0M126.1 209.5h0"/>
<path stroke="#0033ff" d="M209.4 92.6h0M214.0 100.9h0M202.4 102.3h0M213.4 103.2h0M187.9 105.1h0M149.2 102.1h0M165.1 105.8h0M158.2 107.0h0M160.2 108.0h0M165.1 110.7h0M176.0 171.9h0M192.3 175.8h0M165.5 176.7h0M191.1 180.2h0M197.9 181.9h0M191.4 183.8h0M193.7 183.5h0M164.9 182.6h0M197.2 187.0h0M197.7 188.9h0M199.1 188.4h0M147.2 187.0h0M144.4 188.7h0M203.6 197.2h0M142.3 191.1h0M139.3 192.8h0"/>
<path stroke="#00e5ff" d="M213.9 81.9h0M208.5 83.9h0M234.3 108.5h0M233.7 115.2h0M189.9 117.2h0M195.0 117.1h0M197.6 118.0h0M201.9 120.0h0M234.9 124.5h0M189.9 120.7h0M205.3 125.9h0M200.9 128.0h0M214.1 145.7h0M218.4 151.6h0M197.5 153.8h0M210.8 154.6h0M208.9 156.5h0M227.3 161.8h0M147.1 157.8h0M228.5 168.9h0M167.7 165.9h0M154.6 166.4h0M134.7 178.4h0"/>
<path stroke="#0080ff" d="M210.8 89.3h0M212.5 93.0h0M140.0 98.8h0M215.0 111.0h0M217.7 110.7h0M224.6 112.1h0M216.8 112.7h0M138.9 110.0h0M137.3 120.7h0M226.2 166.2h0M159.9 162.8h0M222.7 171.3h0M151.4 164.1h0M162.2 165.8h0M208.5 173.6h0M227.0 176.3h0M226.5 178.9h0M208.7 178.4h0M217.5 179.8h0M207.8 180.6h0M206.7 182.5h0M209.9 183.1h0M224.3 185.3h0M153.5 180.7h0M227.7 190.1h0M211.1 191.1h0M131.5 184.5h0M140.6 185.5h0M228.5 197.7h0M231.7 199.8h0M220.8 206.2h0"/>
<path stroke="#b3ff4c" d="M172.3 127.8h0M200.1 137.5h0M144.9 150.8h0M149.0 153.3h0M159.3 158.0h0"/>
<path stroke="#ff6600" d="M187.9 135.5h0M179.4 142.0h0M176.7 146.0h0"/>
<path stroke="#0099ff" d="M183.1 85.0h0M198.5 87.1h0M165.7 85.6h0M201.3 106.9h0M229.5 110.2h0M142.3 105.9h0M140.8 110.0h0M173.1 117.2h0M229.5 123.7h0M223.1 154.8h0M230.2 155.7h0M219.8 158.9h0M225.1 162.1h0M226.7 164.8h0M223.4 165.9h0M202.8 168.1h0M215.9 169.6h0M222.8 173.8h0M231.5 177.3h0M233.8 177.3h0M224.9 181.1h0M157.1 173.7h0M148.1 179.5h0M127.8 188.8h0"/>
<path stroke="#0066ff" d="M159.9 90.9h0M162.8 91.5h0M209.1 105.3h0M224.0 109.2h0M188.9 108.9h0M146.3 105.5h0M172.0 110.1h0M146.2 108.6h0M228.2 121.0h0M163.7 114.9h0M175.8 117.2h0M224.7 144.8h0M224.7 147.6h0M232.3 152.9h0M193.3 167.3h0M185.2 167.6h0M196.6 172.3h0M201.6 173.4h0M200.7 177.4h0M233.3 184.0h0M207.3 187.3h0M217.8 189.8h0M226.0 190.9h0M143.8 182.1h0M145.4 182.2h0M143.6 184.0h0M214.9 194.1h0M232.1 196.3h0M212.6 195.3h0M233.7 198.0h0M210.0 197.5h0M216.8 197.9h0M211.8 199.8h0M211.9 206.7h0M213.2 208.1h0M222.5 208.6h0M126.5 198.6h0M221.9 213.0h0"/>
<path stroke="#33ffcc" d="M157.0 86.2h0M200.9 112.6h0M211.8 119.7h0M223.6 121.6h0M195.2 119.0h0M172.2 123.3h0M176.9 124.3h0M217.0 130.4h0M188.9 128.9h0M172.4 130.6h0M204.4 151.8h0M139.6 155.5h0M146.1 163.1h0M144.4 171.7h0"/>
<path stroke="#0080ff" d="M222.2 104.5h0M230.3 117.0h0M178.3 119.3h0M140.2 116.9h0M221.5 130.3h0M232.8 136.6h0M226.6 144.8h0M229.0 150.3h0M235.0 168.5h0M185.8 163.6h0M209.5 166.7h0M232.5 170.1h0M158.8 169.7h0M212.1 178.8h0M145.7 179.7h0M147.8 181.5h0M208.5 192.6h0M131.1 187.3h0M132.9 187.9h0M130.6 191.5h0M215.7 210.9h0"/>
<path stroke="#ff1a00" d="M149.6 132.5h0M150.0 135.0h0M168.1 137.9h0M177.5 139.0h0M158.1 146.1h0"/>
<path stroke="#ff9900" d="M223.4 86.0h0M224.1 90.8h0"/>
<path stroke="#ff6600" d="M160.8 127.0h0M201.4 140.0h0M151.1 142.2h0M159.7 148.6h0"/>
<path stroke="#ff3300" d="M147.6 119.9h0M171.7 145.3h0M153.3 146.8h0"/>
<path stroke="#66ff99" d="M186.1 82.3h0M204.9 115.7h0M173.8 131.0h0M136.3 128.4h0M206.8 150.4h0M183.1 156.2h0M154.1 156.8h0M174.6 159.9h0M167.8 160.8h0M131.0 167.7h0"/>
<path stroke="#33ffcc" d="M197.0 79.8h0M148.5 77.2h0M194.6 84.7h0M158.9 85.9h0M221.4 99.1h0M227.4 99.8h0M200.1 110.9h0M204.7 114.3h0M221.4 117.8h0M212.1 128.9h0M187.7 130.3h0M171.0 133.7h0M210.6 140.2h0M219.7 141.8h0M209.9 142.5h0M135.2 137.9h0M203.8 156.2h0M149.9 168.9h0M136.5 177.8h0"/>
<path stroke="#e5ff1a" d="M184.0 80.3h0M231.6 91.0h0M203.8 135.2h0M171.4 135.5h0M153.4 140.1h0M173.7 152.4h0M160.0 152.2h0"/>
<path stroke="#ff0000" d="M148.1 118.2h0M185.3 135.1h0M147.2 133.0h0M172.5 139.8h0"/>
<path stroke="#0066ff" d="M201.6 87.2h0M218.0 102.2h0M220.4 104.7h0M197.4 103.8h0M140.5 100.0h0M142.9 100.7h0M142.6 102.5h0M164.5 113.2h0M157.9 114.2h0M161.8 114.8h0M228.4 148.3h0M233.1 148.2h0M219.5 165.9h0M183.6 165.3h0M183.6 167.3h0M187.4 168.7h0M167.0 167.6h0M206.8 173.4h0M159.1 174.7h0M204.9 179.7h0M221.8 185.4h0M233.5 186.0h0M232.7 191.5h0M212.9 191.0h0M227.3 192.2h0M229.5 193.3h0M217.5 193.8h0M220.5 194.2h0M138.9 185.4h0M214.9 195.4h0M132.4 190.1h0M135.6 189.2h0M214.8 200.3h0M218.6 200.9h0M132.5 192.5h0M134.6 191.7h0M211.7 202.6h0M214.7 203.5h0M210.4 212.5h0M214.9 212.0h0M217.3 213.2h0"/>
<path stroke="#ffe500" d="M188.5 80.3h0M225.2 87.8h0M183.9 131.8h0M147.7 149.1h0"/>
<path stroke="#b3ff4c" d="M219.4 89.8h0M217.6 120.4h0M148.3 116.3h0M192.8 131.3h0M181.4 134.0h0M196.5 143.0h0M161.3 157.6h0M131.8 161.6h0M141.3 164.7h0"/>
<path stroke="#004dff" d="M208.4 88.6h0M210.2 90.7h0M165.9 87.8h0M165.8 89.9h0M211.5 95.8h0M217.7 103.4h0M142.8 96.6h0M201.3 103.3h0M215.1 107.5h0M146.4 104.1h0M149.4 104.6h0M167.8 109.0h0M169.8 109.2h0M148.5 108.2h0M229.6 140.9h0M179.3 166.9h0M179.0 169.9h0M171.4 171.1h0M196.9 174.9h0M202.0 175.6h0M162.0 172.7h0M198.0 179.1h0M199.4 187.1h0M140.5 183.3h0M201.4 191.6h0M222.4 194.6h0M138.5 188.3h0M143.1 188.1h0M228.2 200.7h0M223.8 201.7h0M231.4 203.3h0M224.2 203.6h0M227.9 204.6h0M130.0 198.3h0M207.7 211.0h0"/>
<path stroke="#0000ff" d="M145.0 81.9h0M172.9 88.5h0M188.8 89.8h0M194.0 91.7h0M195.6 92.1h0M179.1 91.5h0M181.8 91.6h0M184.0 92.6h0M167.7 92.0h0M169.5 93.2h0M184.3 93.9h0M191.3 95.8h0M195.7 96.2h0M169.2 94.4h0M148.8 94.9h0M178.3 98.9h0M197.0 100.8h0M167.2 99.1h0M169.2 99.9h0M175.8 100.7h0M181.0 101.1h0M183.0 101.1h0M187.9 101.6h0M177.2 107.1h0M176.9 177.3h0M181.6 177.6h0M177.3 179.2h0M173.6 183.3h0M176.1 183.4h0M181.4 184.5h0M168.7 184.7h0M164.9 186.5h0M173.3 188.4h0M182.7 189.6h0M186.9 189.5h0M162.1 188.4h0M166.9 188.7h0M183.1 192.2h0M187.3 194.9h0M188.6 194.8h0M191.1 195.4h0M146.8 191.1h0M149.8 192.3h0M152.2 191.5h0M183.8 196.2h0M147.1 194.0h0M175.2 198.0h0M188.4 199.7h0M191.2 202.5h0M195.4 205.7h0M138.6 200.0h0M133.1 202.1h0M135.6 201.3h0M198.4 212.8h0M200.4 212.5h0M129.8 208.8h0M128.2 212.9h0M129.8 212.3h0M134.7 213.3h0"/>
<path stroke="#00ccff" d="M150.2 82.1h0M161.8 86.9h0M212.7 112.4h0M187.4 115.8h0M192.8 120.0h0M159.7 116.6h0M200.8 122.7h0M229.4 126.4h0M233.1 129.6h0M210.7 129.5h0M214.6 130.1h0M228.5 131.3h0M221.3 136.9h0M217.1 150.8h0M208.7 152.1h0M228.1 155.4h0M225.6 156.4h0M202.8 160.7h0M202.7 163.6h0M223.6 169.0h0M219.0 170.7h0M220.6 177.6h0"/>
<path stroke="#00ffff" d="M192.6 86.3h0M200.2 108.2h0M207.4 114.6h0M232.4 119.8h0M171.7 114.8h0M142.8 115.3h0M154.8 117.1h0M196.2 121.9h0M223.5 137.3h0M207.7 145.2h0M133.3 156.8h0M158.2 162.6h0M148.8 174.5h0"/>
<path stroke="#99ff66" d="M193.1 79.5h0M155.0 81.5h0M232.4 99.1h0M204.6 111.3h0M198.8 127.9h0M193.9 129.0h0M164.8 130.0h0M175.7 133.9h0M135.5 135.1h0M156.6 138.7h0M188.2 149.9h0M197.2 150.4h0M145.0 152.8h0M136.0 169.2h0"/>
<path stroke="#ffcc00" d="M228.3 83.1h0M231.9 86.1h0M190.5 83.9h0M152.2 118.8h0"/>
<path stroke="#0000cc" d="M177.2 210.1h0"/>
<path stroke="#e50000" d="M151.7 135.7h0M177.8 141.4h0M172.4 143.4h0"/>
<path stroke="#1affe5" d="M207.7 81.6h0M206.5 118.6h0M218.0 125.4h0M222.2 126.0h0M180.0 124.6h0M189.2 154.7h0M187.2 156.3h0M189.1 156.3h0M187.0 159.3h0M157.1 157.4h0M184.9 161.6h0M140.1 156.7h0M162.2 163.3h0M134.5 176.1h0"/>
<path stroke="#ffff00" d="M228.6 96.3h0M160.9 124.4h0M162.6 124.4h0M201.3 142.5h0M203.3 141.5h0M138.9 147.0h0"/>
<path stroke="#ffb300" d="M230.4 86.0h0M199.5 134.4h0M189.5 136.2h0M156.8 135.9h0M178.2 150.1h0M152.6 151.2h0"/>
<path stroke="#0000e6" d="M149.8 85.8h0M184.8 189.8h0M165.6 191.3h0M168.5 192.4h0M170.0 191.7h0M172.9 193.3h0M161.2 193.7h0M164.0 194.2h0M169.7 194.9h0M175.2 194.8h0M179.4 196.0h0M167.4 196.4h0M176.8 198.5h0M183.8 199.3h0M165.3 199.0h0M171.4 200.1h0M178.3 201.2h0M181.3 201.4h0M145.8 198.7h0M164.6 200.9h0M168.8 201.7h0M173.5 202.8h0M180.6 203.2h0M164.8 203.2h0M140.5 203.1h0M164.0 206.0h0M171.7 206.5h0M177.9 208.0h0M185.3 208.4h0M144.9 205.0h0M175.8 209.0h0M182.1 210.5h0M139.4 207.1h0M163.2 209.6h0M173.1 211.6h0M186.6 213.1h0M137.1 208.7h0M139.1 209.7h0M154.0 210.8h0M159.1 212.5h0M149.0 212.7h0M157.8 213.6h0M136.4 213.8h0"/>
<path stroke="#0019ff" d="M204.5 100.0h0M154.9 97.9h0M159.4 99.0h0M192.1 102.9h0M148.3 98.4h0M163.4 102.9h0M165.2 103.4h0M182.8 106.4h0M170.0 107.5h0M178.1 173.8h0M181.8 174.4h0M173.2 176.5h0M175.0 176.5h0M170.4 179.7h0M164.0 184.7h0M194.1 190.9h0M156.6 187.8h0M150.2 189.1h0M198.2 196.6h0M136.5 195.2h0M234.1 212.8h0M132.0 201.9h0M199.2 210.0h0M203.5 210.3h0M127.8 205.6h0"/>
<path stroke="#00e5ff" d="M231.8 107.4h0M207.1 112.5h0M190.2 114.9h0M192.8 114.3h0M218.0 118.0h0M225.7 119.2h0M202.3 118.4h0M220.6 121.4h0M232.3 125.2h0M191.7 121.4h0M226.6 126.0h0M231.8 126.3h0M202.9 125.9h0M231.3 131.2h0M219.3 132.6h0M226.6 133.4h0M213.9 148.7h0M192.3 153.1h0M221.1 166.1h0M179.5 165.2h0M218.2 175.5h0M139.9 176.1h0M138.9 178.7h0"/>
<path stroke="#4dffb2" d="M214.9 91.1h0M206.6 116.3h0M166.3 122.3h0M178.5 130.0h0M204.7 133.1h0M213.3 143.0h0M211.8 150.4h0M138.1 152.8h0M166.9 164.1h0M172.3 163.4h0M148.0 166.0h0M149.5 172.8h0"/>
<path stroke="#00b2ff" d="M226.5 107.0h0M195.9 107.9h0M210.7 109.9h0M231.0 113.2h0M193.6 112.4h0M232.8 117.6h0M144.4 107.5h0M174.2 115.0h0M231.6 121.9h0M143.5 112.4h0M218.4 140.0h0M225.5 158.7h0M193.8 157.7h0M197.3 157.6h0M201.7 157.9h0M216.3 168.1h0M203.8 173.5h0M211.7 174.2h0M221.2 182.6h0M144.5 177.6h0M136.2 180.6h0"/>
<path stroke="#ccff33" d="M186.2 78.3h0M226.7 88.6h0M150.4 80.0h0M163.9 123.2h0M172.0 126.2h0M169.7 133.4h0M205.8 138.2h0M155.9 140.9h0M136.9 146.9h0M180.3 153.0h0M178.1 155.6h0M169.7 159.2h0"/>
<path stroke="#80ff80" d="M190.2 86.1h0M232.4 103.5h0M145.0 117.5h0M181.7 129.7h0M207.1 136.1h0M204.1 139.5h0M180.5 151.6h0M170.5 161.6h0M148.1 170.6h0M139.6 171.4h0"/>
<path stroke="#ff4c00" d="M173.5 138.4h0M147.5 136.8h0M184.5 142.0h0M148.8 142.6h0M145.5 146.2h0M161.9 148.7h0"/>
<path stroke="#0033ff" d="M206.3 88.7h0M152.4 85.0h0M155.2 90.5h0M211.3 97.6h0M160.0 96.1h0M162.2 97.0h0M206.4 102.7h0M194.8 102.6h0M217.8 108.0h0M147.1 102.0h0M161.2 105.1h0M183.7 109.3h0M186.7 108.5h0M177.2 110.2h0M181.4 111.3h0M162.9 110.5h0M176.4 112.1h0M169.1 172.6h0M172.4 173.0h0M163.8 177.2h0M167.3 177.5h0M159.9 181.6h0M213.0 193.6h0M201.3 193.8h0M200.6 196.8h0M200.6 199.2h0M228.6 202.3h0M205.0 204.3h0M225.5 207.5h0M232.6 207.6h0M127.7 196.4h0M131.1 198.3h0"/>
<path stroke="#0099ff" d="M145.1 76.8h0M204.6 86.0h0M228.8 107.6h0M198.3 106.2h0M139.7 103.2h0M144.5 106.1h0M225.8 117.4h0M180.7 114.9h0M186.0 116.3h0M152.1 113.7h0M177.9 118.0h0M226.0 147.2h0M206.7 157.3h0M208.7 159.0h0M198.1 160.2h0M228.2 164.4h0M191.5 161.4h0M228.5 166.5h0M193.2 164.1h0M231.3 168.9h0M171.2 166.1h0M201.8 170.7h0M222.3 180.8h0M218.1 186.5h0M217.6 196.7h0"/>
<path stroke="#ff8000" d="M143.3 133.7h0M190.1 140.9h0M183.8 143.9h0M153.6 142.3h0M157.0 152.4h0"/>
</g>
</g>
<use href="#usmap" clip-path="url(#fc)"/>
</g>
<rect x="441.5" y="485.5" width="23" height="215" fill="url(#jet)" stroke="#262626" stroke-width="1"/>
<path d="M464.5 593h-3" stroke="#262626" stroke-width="1" fill="none"/>
<text class="c" x="472.6" y="493.1">100</text>
<text class="c" x="472.6" y="600.4">50</text>
<text class="c" x="472.6" y="707.9">0</text>
<text class="t"><tspan x="145.8" y="502.8">48</tspan><tspan class="d" x="165.4" y="495.2">° </tspan><tspan x="175.1" y="502.8">N</tspan></text>
<text class="t"><tspan x="145.8" y="520.4">46</tspan><tspan class="d" x="165.4" y="512.8">° </tspan><tspan x="175.1" y="520.4">N</tspan></text>
<text class="t"><tspan x="145.8" y="537.7">44</tspan><tspan class="d" x="165.4" y="530.1">° </tspan><tspan x="175.1" y="537.7">N</tspan></text>
<text class="t"><tspan x="145.8" y="556.7">42</tspan><tspan class="d" x="165.4" y="549.1">° </tspan><tspan x="175.1" y="556.7">N</tspan></text>
<text class="t"><tspan x="145.8" y="572.7">40</tspan><tspan class="d" x="165.4" y="565.1">° </tspan><tspan x="175.1" y="572.7">N</tspan></text>
<text class="t"><tspan x="145.8" y="587.6">38</tspan><tspan class="d" x="165.4" y="580.0">° </tspan><tspan x="175.1" y="587.6">N</tspan></text>
<text class="t"><tspan x="145.8" y="604.3">36</tspan><tspan class="d" x="165.4" y="596.7">° </tspan><tspan x="175.1" y="604.3">N</tspan></text>
<text class="t"><tspan x="145.8" y="618.6">34</tspan><tspan class="d" x="165.4" y="611.0">° </tspan><tspan x="175.1" y="618.6">N</tspan></text>
<text class="t"><tspan x="145.8" y="635.6">32</tspan><tspan class="d" x="165.4" y="628.0">° </tspan><tspan x="175.1" y="635.6">N</tspan></text>
<text class="t"><tspan x="145.8" y="649.3">30</tspan><tspan class="d" x="165.4" y="641.7">° </tspan><tspan x="175.1" y="649.3">N</tspan></text>
<text class="t"><tspan x="145.8" y="662.7">28</tspan><tspan class="d" x="165.4" y="655.1">° </tspan><tspan x="175.1" y="662.7">N</tspan></text>
<text class="t"><tspan x="145.8" y="677.7">26</tspan><tspan class="d" x="165.4" y="670.1">° </tspan><tspan x="175.1" y="677.7">N</tspan></text>
<text class="t"><tspan x="145.8" y="691.8">24</tspan><tspan class="d" x="165.4" y="684.2">° </tspan><tspan x="175.1" y="691.8">N</tspan></text>
<text class="t"><tspan x="145.8" y="704.5">22</tspan><tspan class="d" x="165.4" y="696.9">° </tspan><tspan x="175.1" y="704.5">N</tspan></text>
<text class="w"><tspan x="215.4" y="467.0">100</tspan><tspan class="d" x="242.4" y="460.3">° </tspan><tspan x="252.9" y="467.0">W</tspan></text>
<text class="w"><tspan x="284.0" y="467.0">90</tspan><tspan class="d" x="302.4" y="460.3">° </tspan><tspan x="312.9" y="467.0">W</tspan></text>
<text class="w"><tspan x="348.5" y="467.0">80</tspan><tspan class="d" x="366.9" y="460.3">° </tspan><tspan x="377.4" y="467.0">W</tspan></text>
<text class="w"><tspan x="411.0" y="467.0">70</tspan><tspan class="d" x="429.4" y="460.3">° </tspan><tspan x="439.9" y="467.0">W</tspan></text>
<text class="l" x="140.4" y="731.2">SAT 300 hPa RH (Percent)</text>
</g>
<g>
<rect x="616.5" y="486.5" width="234" height="213" fill="#fff" stroke="#1a1a1a" stroke-width="1"/>
<g transform="translate(616.5 486.5) scale(1 1)">
<g fill="none" stroke-linecap="round">
<g stroke-width="5.8">
<path stroke="#b30000" d="M153.6 127.2h0M156.7 127.7h0M146.3 129.5h0M149.5 129.6h0M152.8 130.3h0M156.0 130.5h0M139.6 131.8h0M142.5 132.2h0M145.9 132.5h0M149.3 133.3h0M145.2 135.7h0"/>
<path stroke="#4dffb2" d="M229.3 84.0h0M212.3 84.9h0M202.1 86.9h0M221.6 89.4h0M217.2 99.2h0M220.2 99.3h0M229.2 107.3h0M224.5 119.7h0M174.5 120.1h0M229.9 127.4h0M176.7 126.6h0M189.8 128.4h0M176.2 130.3h0M179.8 130.4h0M225.1 137.0h0M215.1 138.8h0M168.8 135.9h0"/>
<path stroke="#ffcc00" d="M192.0 85.5h0M211.6 88.3h0M233.2 101.4h0M213.7 125.3h0M217.0 125.4h0M167.6 122.1h0M153.6 123.8h0M209.2 131.2h0M222.3 133.3h0M155.2 137.1h0M150.9 143.5h0M234.0 101.5h0"/>
<path stroke="#e5ff1a" d="M195.4 85.9h0M218.2 89.4h0M217.3 95.5h0M218.0 119.2h0M220.7 122.6h0M164.3 118.7h0M170.4 122.6h0M169.7 129.4h0M202.4 133.5h0M205.4 134.3h0M215.5 135.7h0M162.3 135.0h0M181.8 137.6h0M185.3 137.7h0M178.4 140.3h0M181.8 140.6h0M138.3 138.3h0"/>
<path stroke="#e50000" d="M144.9 139.1h0M234.0 84.7h0M234.0 87.1h0M234.0 89.5h0"/>
<path stroke="#33ffcc" d="M182.1 87.7h0M223.1 103.4h0M225.9 106.6h0M207.6 117.9h0M204.0 120.3h0M227.4 123.7h0M161.0 118.2h0M197.5 122.9h0M157.6 121.1h0M176.9 123.4h0M193.6 125.6h0M232.9 131.3h0M180.1 127.6h0M232.0 134.2h0M218.1 139.0h0M195.1 139.5h0M165.1 138.5h0M168.2 139.2h0M158.1 141.2h0M171.5 142.7h0M174.8 143.4h0M178.0 143.8h0M180.8 144.0h0M135.0 141.3h0M137.7 144.9h0M153.9 147.2h0"/>
<path stroke="#ffe500" d="M215.0 88.7h0M214.4 92.2h0M230.3 97.7h0M214.3 122.2h0M217.3 122.1h0M220.1 125.8h0M210.0 128.2h0M170.3 125.9h0"/>
<path stroke="#ff4c00" d="M232.3 84.4h0M160.4 124.4h0M166.8 125.7h0M135.7 134.9h0"/>
<path stroke="#ff6600" d="M163.8 122.1h0M234.0 96.7h0"/>
<path stroke="#00ffff" d="M213.8 98.4h0M220.1 102.9h0M222.6 106.4h0M229.0 110.7h0M231.9 111.0h0M188.7 112.0h0M191.8 112.3h0M218.3 115.6h0M221.4 116.4h0M224.4 116.9h0M191.8 115.3h0M194.9 115.8h0M198.2 116.5h0M201.4 116.7h0M177.5 120.2h0M194.1 122.2h0M154.3 120.7h0M183.6 124.6h0M190.5 125.6h0M221.6 139.6h0M201.5 140.2h0M205.1 140.5h0M208.2 141.4h0M211.1 141.7h0M214.7 142.0h0M194.7 142.8h0M164.9 141.9h0M168.2 142.2h0M184.4 144.8h0M161.1 144.5h0M137.1 147.9h0M140.6 148.7h0M234.0 127.9h0"/>
<path stroke="#00e5ff" d="M215.5 85.3h0M158.4 87.7h0M225.6 110.2h0M185.3 111.5h0M201.9 113.5h0M205.0 114.0h0M208.4 114.8h0M211.5 115.0h0M214.8 115.4h0M227.9 117.1h0M230.7 120.6h0M181.1 117.2h0M184.7 117.9h0M188.1 118.1h0M197.9 119.7h0M233.7 124.8h0M181.1 120.5h0M184.1 121.2h0M186.9 124.7h0M218.1 142.6h0M197.5 142.9h0M204.6 143.7h0M207.9 144.4h0M210.8 144.6h0M187.7 144.7h0M164.5 145.0h0M157.4 147.5h0M134.1 147.8h0M146.9 149.7h0M150.3 149.8h0M234.0 123.1h0M234.0 125.5h0M234.0 135.1h0"/>
<path stroke="#0066ff" d="M219.2 82.7h0M181.3 91.0h0M141.0 95.4h0M213.0 105.3h0M196.4 106.4h0M209.1 108.0h0M143.5 102.5h0M189.1 108.5h0M215.1 112.0h0M146.2 105.9h0M179.2 110.2h0M149.0 109.6h0M148.8 112.9h0M152.0 113.6h0M231.4 141.1h0M228.0 143.9h0M223.9 146.7h0M223.7 149.8h0M226.6 150.1h0M222.9 153.4h0M226.4 153.7h0M180.3 150.7h0M183.7 151.0h0M186.8 151.6h0M222.5 156.5h0M226.2 156.9h0M163.3 151.8h0M166.5 152.2h0M186.1 155.1h0M189.4 155.4h0M219.0 159.1h0M222.4 159.5h0M143.6 152.6h0M149.6 153.1h0M189.0 158.7h0M192.4 158.7h0M195.4 159.4h0M205.4 160.7h0M209.0 161.2h0M211.8 161.5h0M133.0 154.1h0M136.1 155.0h0M139.3 154.9h0M143.0 155.5h0M136.0 158.0h0M139.1 158.5h0M135.7 161.3h0M131.7 164.0h0M234.0 139.9h0"/>
<path stroke="#0099ff" d="M202.7 107.1h0M219.1 109.3h0M192.7 109.0h0M224.9 113.3h0M139.6 105.5h0M139.2 108.5h0M142.3 108.9h0M178.3 113.5h0M141.9 111.9h0M141.4 115.3h0M144.6 115.9h0M157.8 117.6h0M138.1 118.0h0M141.2 118.7h0M144.6 119.2h0M147.7 119.3h0M228.1 140.5h0M224.5 143.4h0M217.2 149.1h0M177.1 147.1h0M180.5 147.4h0M193.7 149.2h0M197.0 149.4h0M200.0 149.8h0M210.2 151.6h0M213.3 151.7h0M167.2 148.8h0M196.6 152.6h0M200.0 153.1h0M202.9 154.0h0M206.3 154.3h0M209.5 154.5h0M156.6 150.6h0M133.5 151.0h0M136.6 151.5h0M234.0 137.5h0"/>
<path stroke="#0019ff" d="M225.8 83.4h0M201.8 90.3h0M191.4 92.3h0M194.5 92.7h0M204.3 93.9h0M148.4 90.0h0M151.8 90.1h0M154.9 90.4h0M158.0 90.9h0M165.0 91.7h0M167.9 92.3h0M171.1 92.7h0M174.4 93.3h0M177.6 94.0h0M203.9 97.0h0M144.9 92.4h0M147.7 93.0h0M167.4 95.5h0M170.6 96.3h0M174.3 96.4h0M200.3 100.0h0M203.7 100.6h0M147.6 96.6h0M193.5 102.5h0M196.3 102.7h0M147.3 99.4h0M150.7 100.0h0M153.6 100.1h0M186.1 104.9h0M153.0 103.8h0M156.4 104.3h0M159.7 104.9h0M166.4 105.6h0M169.4 105.7h0M172.8 106.3h0M176.2 107.0h0M179.3 107.1h0M182.6 107.8h0M155.8 107.4h0M159.0 107.8h0M162.8 108.5h0M165.7 108.5h0M169.3 109.5h0M172.4 109.4h0M159.0 111.0h0M162.3 111.6h0M165.3 112.1h0M168.5 112.3h0M233.2 177.7h0M226.3 180.4h0M229.3 180.6h0M232.9 181.2h0M222.6 182.8h0M225.4 183.7h0M228.7 183.8h0M232.0 184.1h0M215.2 185.2h0M218.7 186.1h0M222.1 186.5h0M225.3 186.9h0M228.4 187.1h0M232.0 187.4h0M162.5 181.3h0M166.0 181.9h0M169.0 182.4h0M205.0 187.5h0M208.3 187.9h0M211.4 188.5h0M215.0 188.8h0M218.0 189.1h0M221.7 189.4h0M224.5 189.9h0M228.2 190.6h0M231.1 190.7h0M152.6 183.7h0M155.6 184.0h0M159.2 184.1h0M162.0 185.1h0M165.5 185.2h0M168.9 185.7h0M171.8 186.1h0M175.4 186.7h0M178.6 186.8h0M182.1 187.2h0M185.0 188.1h0M188.6 188.5h0M191.6 189.0h0M195.0 189.3h0M198.4 189.7h0M201.5 190.0h0M204.9 190.4h0M207.8 191.1h0M211.0 191.7h0M214.4 191.9h0M217.7 192.3h0M221.1 192.6h0M224.4 193.5h0M227.4 193.5h0M230.7 193.9h0M233.9 194.8h0M142.2 185.4h0M145.6 185.6h0M148.9 186.5h0M151.8 186.8h0M155.0 187.4h0M158.8 187.7h0M162.1 188.1h0M165.3 188.8h0M168.6 189.0h0M171.6 189.2h0M175.1 189.6h0M178.2 190.4h0M181.2 190.7h0M184.5 190.9h0M187.9 191.6h0M191.3 192.2h0M194.7 192.8h0M197.6 193.0h0M201.1 193.6h0M204.1 193.8h0M207.6 194.2h0M211.1 194.7h0M214.2 194.9h0M217.6 195.9h0M220.9 196.0h0M224.1 196.8h0M226.9 196.7h0M230.5 197.7h0M233.4 198.0h0M132.0 187.5h0M135.2 187.9h0M138.2 188.1h0M141.8 188.7h0M144.9 189.4h0M148.2 189.7h0M151.7 190.3h0M154.6 190.6h0M158.0 191.0h0M161.1 191.2h0M164.4 192.0h0M168.0 192.2h0M171.2 192.7h0M174.4 193.0h0M177.6 193.9h0M181.2 193.8h0M184.0 194.7h0M187.5 195.0h0M190.8 195.4h0M194.3 195.6h0M197.5 196.1h0M200.3 196.6h0M203.8 197.3h0M207.2 197.9h0M210.2 197.9h0M213.7 198.5h0M217.0 198.9h0M220.0 199.5h0M223.6 199.5h0M226.9 199.9h0M230.1 200.7h0M233.2 200.9h0M128.4 190.0h0M131.7 190.8h0M134.8 191.2h0M138.0 191.8h0M141.6 192.3h0M144.3 192.5h0M147.9 192.7h0M151.3 193.5h0M154.1 193.6h0M157.7 194.4h0M161.2 194.5h0M164.4 195.1h0M167.3 195.4h0M170.5 195.7h0M173.9 196.2h0M177.1 196.8h0M180.3 197.1h0M183.6 198.0h0M187.0 198.3h0M190.3 198.9h0M193.8 199.3h0M197.1 199.7h0M200.4 199.9h0M203.5 200.3h0M206.9 200.7h0M210.2 201.1h0M213.1 201.9h0M216.5 202.0h0M219.5 202.8h0M222.8 203.1h0M226.5 203.5h0M229.5 203.7h0M233.1 204.4h0M127.7 193.6h0M131.0 194.2h0M134.4 194.3h0M137.6 194.7h0M141.1 195.1h0M144.3 195.7h0M147.2 196.4h0M150.5 196.7h0M153.8 196.8h0M157.3 197.7h0M160.7 198.0h0M163.8 198.2h0M167.3 198.7h0M170.3 199.0h0M173.4 199.7h0M176.8 200.1h0M180.0 200.3h0M183.4 200.9h0M186.4 201.4h0M190.0 202.0h0M193.1 202.1h0M196.5 202.8h0M199.7 203.5h0M202.9 203.7h0M205.9 203.9h0M209.3 204.4h0M212.6 204.8h0M216.3 205.5h0M219.3 205.9h0M222.4 206.5h0M226.0 206.7h0M228.8 206.9h0M232.1 207.8h0M127.5 197.0h0M130.4 197.4h0M133.7 197.7h0M137.1 197.9h0M140.4 198.4h0M143.8 198.8h0M147.1 199.2h0M149.9 199.8h0M153.7 200.4h0M156.6 200.8h0M159.9 201.3h0M163.1 201.4h0M166.8 201.8h0M169.6 202.4h0M173.0 203.0h0M176.3 203.2h0M179.8 204.0h0M182.7 204.1h0M185.9 204.7h0M189.5 205.3h0M192.5 205.8h0M196.2 206.0h0M199.0 206.3h0M202.6 206.7h0M205.9 207.5h0M208.8 207.6h0M212.2 208.2h0M215.8 208.9h0M218.8 208.9h0M222.2 209.4h0M225.3 210.3h0M228.5 210.4h0M232.0 211.2h0M126.9 200.2h0M130.4 200.6h0M133.4 201.2h0M136.9 201.1h0M140.2 201.6h0M143.4 202.3h0M146.6 202.6h0M149.6 202.9h0M152.8 203.3h0M156.1 204.2h0M159.6 204.7h0M163.1 204.9h0M165.9 205.6h0M169.1 205.8h0M172.8 206.0h0M175.8 206.8h0M178.9 207.3h0M182.6 207.6h0M185.9 207.8h0M189.2 208.5h0M192.2 209.1h0M195.5 209.1h0M198.9 209.5h0M202.1 210.0h0M205.3 210.6h0M208.7 211.2h0M211.8 211.4h0M215.3 211.7h0M218.5 212.6h0M221.8 212.6h0M126.2 203.2h0M129.6 203.9h0M133.2 204.4h0M136.5 204.9h0M139.5 205.1h0M142.5 205.7h0M146.2 205.9h0M149.4 206.2h0M152.8 206.8h0M155.8 207.1h0M175.7 209.7h0M178.8 210.3h0M181.8 210.7h0M185.6 211.1h0M188.5 211.9h0M191.6 211.9h0M195.2 212.7h0M126.2 206.7h0M129.0 207.1h0M132.4 207.4h0M135.6 207.7h0M139.0 208.5h0M142.4 209.0h0M145.8 209.4h0M148.7 209.8h0M125.7 209.6h0M128.8 210.1h0M131.8 211.0h0M135.3 211.2h0M138.4 211.4h0M234.0 175.9h0M234.0 178.3h0M234.0 180.7h0M234.0 183.1h0M234.0 185.5h0M234.0 187.9h0M234.0 190.3h0M234.0 192.7h0M234.0 195.1h0M234.0 197.5h0M234.0 199.9h0M234.0 202.3h0M234.0 204.7h0M234.0 207.1h0M234.0 209.5h0M234.0 211.9h0M125.1 213.0h0M127.5 213.0h0M129.9 213.0h0M132.3 213.0h0M134.7 213.0h0M137.1 213.0h0M187.5 213.0h0M189.9 213.0h0M192.3 213.0h0M194.7 213.0h0M197.1 213.0h0M199.5 213.0h0M201.9 213.0h0M204.3 213.0h0M206.7 213.0h0M209.1 213.0h0M211.5 213.0h0M213.9 213.0h0M216.3 213.0h0M218.7 213.0h0M221.1 213.0h0M223.5 213.0h0M225.9 213.0h0M228.3 213.0h0M230.7 213.0h0M233.1 213.0h0"/>
<path stroke="#0080ff" d="M222.4 86.5h0M191.8 88.8h0M210.5 98.0h0M213.4 102.0h0M216.1 105.3h0M140.7 98.7h0M199.6 106.6h0M206.2 107.4h0M140.0 101.9h0M209.1 111.2h0M212.0 111.9h0M218.8 112.2h0M222.0 112.9h0M143.2 105.5h0M145.5 109.1h0M145.2 112.5h0M161.4 114.9h0M148.2 116.6h0M151.2 116.9h0M154.5 117.3h0M221.0 146.1h0M220.4 149.4h0M184.0 147.7h0M187.0 148.1h0M190.7 148.8h0M216.6 152.2h0M220.0 152.7h0M170.6 149.0h0M173.6 150.0h0M177.1 150.0h0M190.3 151.9h0M193.2 152.2h0M212.8 155.3h0M215.9 155.7h0M219.6 156.0h0M160.2 151.2h0M193.1 155.8h0M195.9 156.1h0M199.1 156.4h0M202.5 156.8h0M206.0 157.5h0M209.0 157.7h0M212.2 158.1h0M215.6 158.5h0M140.0 152.1h0M146.8 152.5h0M199.1 159.7h0M202.0 160.2h0M132.7 157.4h0M132.1 160.6h0"/>
<path stroke="#ffb300" d="M202.8 80.7h0M206.3 81.2h0M195.8 83.1h0M199.1 83.3h0M202.8 83.9h0M206.1 84.1h0M179.2 84.0h0M182.3 84.5h0M185.8 84.5h0M189.0 85.1h0M208.5 88.1h0M213.3 128.7h0M216.6 128.8h0M219.8 129.4h0M213.0 131.5h0M215.9 132.0h0M219.3 132.6h0M166.2 129.0h0M163.0 131.6h0M142.0 138.8h0"/>
<path stroke="#cc0000" d="M159.7 127.9h0M136.0 131.2h0M152.5 133.6h0M148.6 136.3h0M148.1 139.7h0"/>
<path stroke="#80ff80" d="M224.5 93.6h0M220.9 96.0h0M224.3 96.6h0M207.5 120.9h0M223.8 123.0h0M171.1 119.4h0M203.7 124.1h0M173.6 123.1h0M229.4 130.5h0M196.1 129.6h0M229.0 134.2h0M173.3 130.0h0M186.1 131.3h0M169.3 132.4h0M195.5 136.1h0M172.2 136.3h0M191.7 138.9h0M161.8 137.9h0M171.4 139.5h0M187.7 141.6h0M155.1 140.8h0M154.4 143.8h0"/>
<path stroke="#00b2ff" d="M215.8 82.0h0M225.4 86.7h0M204.6 90.6h0M219.5 106.1h0M195.4 109.4h0M205.3 110.8h0M228.4 113.8h0M231.7 114.0h0M182.0 110.9h0M139.0 111.9h0M174.9 116.5h0M138.1 115.3h0M231.7 137.7h0M217.4 145.6h0M190.8 145.3h0M193.9 145.7h0M197.4 146.2h0M200.5 146.7h0M204.2 147.2h0M207.4 147.9h0M210.2 148.3h0M213.5 148.3h0M170.7 146.3h0M174.1 146.6h0M203.5 150.5h0M207.0 151.0h0M163.7 148.6h0M153.8 150.7h0"/>
<path stroke="#ccff33" d="M209.7 81.2h0M228.4 87.1h0M172.1 86.1h0M211.7 91.6h0M227.3 97.3h0M232.9 104.6h0M210.5 121.5h0M207.1 124.2h0M223.6 126.7h0M203.3 127.3h0M202.6 130.3h0M218.9 135.8h0M185.7 134.6h0M188.6 135.0h0M178.8 137.2h0M188.6 138.3h0M175.1 140.0h0M135.5 138.0h0M141.1 141.8h0"/>
<path stroke="#1affe5" d="M212.7 81.6h0M185.4 87.8h0M195.6 112.8h0M198.3 112.9h0M181.9 114.3h0M184.7 114.4h0M188.5 115.1h0M204.9 117.1h0M227.7 120.3h0M200.7 120.1h0M230.3 124.0h0M233.0 127.7h0M180.1 124.0h0M183.3 127.5h0M186.5 128.2h0M228.3 137.2h0M198.3 140.0h0M191.6 142.3h0M161.2 141.7h0M157.8 144.5h0M134.4 144.7h0M143.7 148.9h0M234.0 111.1h0M234.0 130.3h0M234.0 132.7h0"/>
<path stroke="#ff9900" d="M228.3 90.4h0M156.9 124.3h0M144.7 142.4h0M234.0 99.1h0"/>
<path stroke="#004dff" d="M195.0 89.4h0M165.3 88.8h0M168.7 88.9h0M175.1 90.0h0M178.6 90.4h0M184.6 91.4h0M207.9 94.2h0M210.3 101.5h0M199.6 103.5h0M203.4 103.6h0M206.6 104.1h0M209.8 104.9h0M143.7 99.1h0M192.6 105.8h0M212.8 108.2h0M215.5 108.6h0M146.4 102.8h0M149.5 106.4h0M152.6 110.1h0M155.4 113.7h0M158.6 114.3h0M231.2 143.9h0M227.1 147.0h0M230.3 147.3h0M229.9 150.4h0M233.6 151.4h0M229.7 154.1h0M233.0 154.2h0M229.0 157.3h0M232.8 157.8h0M169.7 152.4h0M173.2 153.0h0M176.7 153.2h0M180.0 153.8h0M182.9 154.1h0M225.7 160.4h0M229.0 160.4h0M232.3 161.0h0M153.3 153.7h0M156.2 153.8h0M159.5 154.3h0M162.7 155.1h0M166.0 155.2h0M169.5 155.6h0M172.9 156.4h0M176.2 156.9h0M179.4 157.0h0M182.5 157.5h0M185.7 158.3h0M215.2 161.8h0M218.4 162.2h0M145.9 156.2h0M149.7 156.3h0M152.8 156.8h0M156.2 157.4h0M159.4 157.9h0M182.2 160.9h0M185.4 161.6h0M188.6 161.5h0M191.7 162.5h0M195.3 162.9h0M198.2 162.9h0M201.8 163.5h0M205.0 163.8h0M208.4 164.6h0M211.7 164.8h0M214.8 165.2h0M142.3 159.0h0M145.6 159.5h0M148.8 159.5h0M152.1 160.0h0M155.7 160.9h0M191.7 165.4h0M194.9 166.1h0M198.1 166.5h0M201.2 166.6h0M204.5 167.5h0M207.5 167.6h0M138.9 161.7h0M142.0 162.4h0M145.0 162.4h0M197.8 169.5h0M201.0 170.3h0M204.1 170.2h0M135.0 164.4h0M138.0 164.9h0M141.4 165.2h0M131.3 167.5h0M134.3 167.8h0M137.8 168.3h0M130.7 170.5h0M134.0 170.8h0M234.0 142.3h0M234.0 144.7h0M234.0 151.9h0M234.0 154.3h0M234.0 156.7h0M234.0 159.1h0"/>
<path stroke="#ff3300" d="M231.6 91.3h0M163.1 128.4h0M139.0 135.0h0M151.4 140.1h0M234.0 94.3h0"/>
<path stroke="#ff1a00" d="M232.1 87.9h0M163.8 125.0h0M159.3 131.1h0M155.9 134.3h0M142.1 135.4h0M152.2 137.1h0"/>
<path stroke="#ffff00" d="M209.1 84.8h0M165.5 85.7h0M169.1 85.7h0M217.9 92.5h0M227.7 93.7h0M230.5 100.5h0M210.4 124.7h0M161.0 121.4h0M206.7 127.8h0M223.2 129.9h0M206.4 130.7h0M225.7 133.6h0M209.1 134.4h0M212.2 135.0h0M234.0 103.9h0"/>
<path stroke="#0000ff" d="M197.8 93.2h0M201.2 93.3h0M161.4 91.4h0M181.1 94.4h0M184.5 94.7h0M187.7 95.3h0M190.7 95.6h0M194.1 96.0h0M197.6 96.2h0M200.6 96.5h0M151.2 93.5h0M154.5 94.0h0M157.9 94.6h0M161.0 94.7h0M164.5 95.1h0M177.2 96.7h0M180.5 97.2h0M183.9 97.9h0M187.1 98.0h0M190.6 98.5h0M193.6 99.1h0M197.0 99.4h0M150.9 96.5h0M154.3 97.1h0M157.1 97.9h0M160.3 98.1h0M163.9 98.7h0M167.1 98.8h0M170.3 99.2h0M173.7 99.7h0M177.1 100.1h0M180.2 100.5h0M183.8 101.3h0M187.0 101.7h0M190.0 101.8h0M156.8 100.7h0M160.3 101.6h0M163.7 101.8h0M166.7 102.0h0M170.1 102.7h0M173.4 103.0h0M176.8 103.4h0M179.7 103.8h0M183.1 104.6h0M163.3 104.8h0M159.3 208.0h0M162.3 208.2h0M165.5 208.7h0M169.0 209.3h0M171.9 209.5h0M152.3 209.9h0M155.1 210.8h0M158.5 211.2h0M162.2 211.4h0M165.2 211.6h0M168.2 212.5h0M171.8 212.6h0M174.8 213.0h0M141.9 212.3h0M145.4 212.4h0M148.4 212.8h0M139.5 213.0h0M141.9 213.0h0M144.3 213.0h0M146.7 213.0h0M149.1 213.0h0M151.5 213.0h0M153.9 213.0h0M156.3 213.0h0M158.7 213.0h0M161.1 213.0h0M163.5 213.0h0M165.9 213.0h0M168.3 213.0h0M170.7 213.0h0M173.1 213.0h0M175.5 213.0h0M177.9 213.0h0M180.3 213.0h0M182.7 213.0h0M185.1 213.0h0"/>
<path stroke="#00ccff" d="M218.8 86.2h0M188.7 88.4h0M161.7 88.0h0M211.1 95.0h0M216.8 102.6h0M222.1 109.5h0M198.8 110.0h0M202.0 110.2h0M231.3 117.8h0M165.2 115.3h0M178.0 116.9h0M191.0 118.6h0M194.7 119.4h0M187.7 121.4h0M190.8 122.2h0M151.2 120.2h0M224.6 140.2h0M221.0 142.9h0M201.1 143.7h0M214.1 145.3h0M167.6 145.7h0M160.7 147.9h0M234.0 113.5h0M234.0 115.9h0M234.0 118.3h0M234.0 120.7h0"/>
<path stroke="#99ff66" d="M175.8 86.6h0M214.0 95.4h0M229.5 103.9h0M220.7 119.6h0M200.0 126.4h0M189.2 131.8h0M222.0 136.4h0M182.2 134.0h0M175.6 136.8h0M144.1 145.6h0M147.6 146.1h0"/>
<path stroke="#ff8000" d="M231.3 94.1h0M233.6 97.8h0M159.1 134.2h0M147.7 142.7h0"/>
<path stroke="#b3ff4c" d="M198.6 86.3h0M205.4 87.5h0M227.0 100.3h0M214.4 118.7h0M167.7 119.0h0M226.2 130.0h0M173.5 126.2h0M199.4 129.8h0M192.9 132.3h0M195.7 132.9h0M199.1 133.3h0M166.2 132.2h0M192.0 135.4h0M158.5 137.8h0M185.0 141.2h0M234.0 106.3h0"/>
<path stroke="#ff0000" d="M234.0 91.9h0"/>
<path stroke="#0033ff" d="M222.3 83.2h0M198.3 89.7h0M171.7 89.4h0M188.1 92.0h0M207.2 98.0h0M207.1 101.1h0M144.4 96.1h0M189.8 105.1h0M150.0 103.2h0M186.1 108.2h0M152.9 106.7h0M175.5 110.3h0M155.5 110.9h0M172.2 112.9h0M175.4 113.1h0M221.9 163.1h0M225.3 163.4h0M228.3 163.8h0M231.6 164.1h0M162.3 158.2h0M165.9 158.5h0M168.8 159.4h0M172.5 159.7h0M175.3 160.1h0M179.1 160.6h0M218.1 165.6h0M221.3 166.5h0M224.8 166.4h0M228.0 167.3h0M231.1 167.8h0M158.7 160.9h0M162.3 161.7h0M165.2 161.8h0M168.6 162.2h0M171.7 162.8h0M174.9 163.1h0M178.5 163.6h0M181.9 164.4h0M185.0 164.5h0M188.4 164.9h0M211.0 168.1h0M214.6 168.4h0M217.4 168.7h0M220.8 169.6h0M224.1 170.0h0M227.4 170.3h0M230.7 170.5h0M148.7 163.1h0M152.0 163.7h0M155.2 164.0h0M158.5 164.4h0M161.4 164.7h0M165.1 165.2h0M167.9 165.7h0M171.7 166.2h0M174.7 166.5h0M178.0 167.1h0M181.2 167.7h0M184.7 168.0h0M187.9 168.4h0M190.8 168.7h0M194.2 169.0h0M207.2 171.1h0M210.8 171.3h0M214.0 171.6h0M217.3 172.5h0M220.6 172.8h0M223.8 172.9h0M226.9 173.6h0M230.0 173.8h0M233.8 174.6h0M144.7 165.6h0M147.8 166.6h0M151.1 167.0h0M154.6 166.9h0M157.8 167.6h0M160.9 168.1h0M164.1 168.4h0M167.8 169.1h0M170.8 169.3h0M174.5 169.7h0M177.3 170.1h0M181.0 170.6h0M184.1 171.4h0M187.4 171.4h0M190.6 171.9h0M193.8 172.5h0M197.4 173.0h0M200.4 173.5h0M203.7 173.6h0M207.0 174.1h0M210.0 174.6h0M213.5 174.8h0M216.7 175.8h0M220.0 175.9h0M223.3 176.6h0M226.6 176.8h0M229.9 177.2h0M141.1 168.8h0M144.6 169.3h0M147.5 169.3h0M150.9 169.7h0M154.3 170.4h0M157.6 171.1h0M160.8 171.4h0M163.9 171.9h0M167.3 172.0h0M170.7 172.6h0M173.8 172.9h0M177.3 173.5h0M180.5 174.2h0M183.6 174.5h0M186.8 174.7h0M190.3 175.5h0M193.1 175.5h0M196.7 175.9h0M199.9 176.5h0M203.1 177.2h0M206.5 177.8h0M209.6 177.9h0M213.1 178.6h0M216.3 178.6h0M219.5 179.3h0M223.1 179.8h0M137.2 171.4h0M140.6 172.0h0M144.2 172.1h0M147.0 173.1h0M150.3 173.3h0M153.6 173.9h0M157.3 174.2h0M160.0 174.5h0M163.7 175.1h0M166.7 175.4h0M169.8 175.9h0M173.5 176.3h0M176.6 176.6h0M180.0 177.2h0M183.1 177.8h0M186.3 177.9h0M189.8 178.7h0M192.7 178.9h0M196.5 179.5h0M199.5 179.7h0M202.7 180.4h0M206.3 180.9h0M209.6 181.2h0M212.3 181.6h0M215.8 181.8h0M218.9 182.8h0M130.4 174.0h0M133.6 174.4h0M136.8 174.8h0M140.0 175.4h0M143.3 175.5h0M146.5 176.0h0M150.0 176.4h0M153.1 177.2h0M156.4 177.2h0M159.8 178.1h0M163.2 178.5h0M166.4 178.6h0M169.6 178.9h0M173.0 179.8h0M176.4 180.3h0M179.5 180.7h0M182.6 181.0h0M185.8 181.7h0M189.3 181.6h0M192.8 182.4h0M195.6 182.9h0M199.1 183.2h0M202.6 183.5h0M205.5 184.1h0M208.7 184.6h0M212.1 184.8h0M129.8 177.3h0M133.2 177.4h0M136.8 177.8h0M139.5 178.2h0M142.9 178.6h0M146.1 179.6h0M149.4 179.9h0M152.7 180.0h0M155.8 180.5h0M159.7 181.1h0M172.6 182.8h0M175.8 183.2h0M179.0 183.5h0M182.5 184.5h0M185.6 184.6h0M188.8 185.3h0M192.1 185.7h0M195.3 185.9h0M198.8 186.2h0M201.8 186.7h0M129.3 180.3h0M132.8 180.9h0M136.1 181.5h0M139.6 181.6h0M142.9 182.1h0M145.8 182.8h0M149.4 183.1h0M129.3 183.5h0M132.1 184.1h0M135.6 184.6h0M138.7 185.3h0M128.9 187.2h0M234.0 147.1h0M234.0 149.5h0M234.0 161.5h0M234.0 163.9h0M234.0 166.3h0M234.0 168.7h0M234.0 171.1h0M234.0 173.5h0"/>
<path stroke="#66ff99" d="M225.0 89.9h0M178.8 87.2h0M208.2 91.4h0M221.4 93.0h0M223.7 100.2h0M226.4 103.4h0M232.6 107.9h0M210.9 117.9h0M200.7 123.5h0M226.9 126.7h0M196.7 126.2h0M192.9 129.0h0M183.0 131.2h0M172.5 132.8h0M175.9 133.6h0M179.3 133.7h0M198.6 136.6h0M201.8 137.2h0M205.0 137.4h0M208.7 138.0h0M211.8 138.5h0M165.5 135.5h0M137.9 141.6h0M141.0 145.4h0M150.4 146.5h0M234.0 108.7h0"/>
</g>
<g stroke-width="3.5">
<path stroke="#e50000" d="M162.9 126.7h0M145.1 136.7h0"/>
<path stroke="#1affe5" d="M189.9 88.1h0M221.7 94.6h0M220.4 99.0h0M206.8 116.9h0M206.1 120.7h0M234.0 125.5h0M179.8 126.6h0M188.1 128.5h0M179.8 130.1h0M201.1 137.8h0M175.4 142.9h0M180.1 144.1h0"/>
<path stroke="#e5ff1a" d="M225.5 97.2h0M234.1 104.3h0M217.8 120.4h0M215.1 124.9h0M205.1 125.5h0M209.1 130.8h0M167.0 128.3h0M214.1 136.1h0M161.3 134.7h0"/>
<path stroke="#00e5ff" d="M168.5 88.0h0M230.5 112.3h0M196.9 117.4h0M189.6 123.0h0M168.0 144.3h0M204.3 149.0h0M156.9 149.9h0M138.3 149.9h0"/>
<path stroke="#0080ff" d="M184.5 90.4h0M208.0 93.2h0M217.7 108.6h0M198.2 108.9h0M203.1 111.2h0M142.0 106.0h0M143.6 110.0h0M224.0 142.7h0M218.8 146.1h0M167.2 149.4h0M191.3 157.4h0M189.4 158.7h0M132.3 155.8h0"/>
<path stroke="#0000ff" d="M195.2 93.2h0M200.5 93.9h0M188.3 94.5h0M200.7 96.7h0M202.6 97.5h0M165.2 94.6h0M166.5 94.4h0M186.2 97.5h0M151.0 94.2h0M173.6 98.3h0M175.6 98.7h0M177.9 99.1h0M180.9 99.0h0M173.9 100.6h0M156.8 99.7h0M180.0 103.6h0M182.7 104.3h0M163.9 104.3h0M191.8 207.5h0M170.4 205.9h0M191.7 209.2h0M227.0 213.7h0M156.8 207.5h0M177.6 210.2h0M187.2 211.1h0M151.4 208.8h0M156.1 208.9h0M166.3 210.7h0M177.2 212.4h0M183.9 213.6h0M158.5 212.0h0M128.5 210.4h0"/>
<path stroke="#33ffcc" d="M177.0 121.8h0M175.7 123.6h0M173.8 128.1h0M227.4 136.0h0M168.5 134.5h0M168.0 137.1h0M134.9 142.3h0M150.4 147.5h0"/>
<path stroke="#0033ff" d="M174.3 93.6h0M149.0 104.2h0M179.4 108.5h0M183.8 108.4h0M176.3 109.8h0M153.5 109.6h0M174.9 111.7h0M155.1 111.8h0M157.3 112.8h0M233.3 146.0h0M229.2 162.8h0M233.5 165.0h0M162.7 158.0h0M170.5 159.4h0M215.1 165.2h0M220.9 165.4h0M223.7 166.6h0M158.9 159.1h0M162.9 160.0h0M164.9 160.3h0M172.0 161.3h0M179.0 163.3h0M160.0 162.3h0M162.8 162.7h0M204.5 168.0h0M211.6 169.5h0M155.3 164.5h0M157.2 164.2h0M178.7 166.8h0M181.4 167.9h0M225.9 173.5h0M230.0 174.4h0M148.2 164.9h0M160.3 167.5h0M165.0 167.1h0M169.5 168.9h0M215.6 174.6h0M218.1 175.3h0M150.3 167.8h0M168.1 171.1h0M198.9 175.3h0M201.1 174.6h0M220.5 177.7h0M224.2 178.6h0M180.7 174.9h0M162.9 175.2h0M170.4 175.9h0M184.0 177.5h0M195.9 179.8h0M135.6 172.6h0M148.7 175.3h0M153.2 175.7h0M166.1 177.2h0M174.3 178.1h0M189.4 180.9h0M191.6 181.2h0M160.4 178.9h0M176.7 181.2h0M185.9 182.5h0M188.4 183.3h0M132.9 177.3h0M134.9 177.8h0M158.2 180.9h0M159.6 180.7h0M167.7 181.7h0M173.6 183.3h0M183.3 185.2h0M201.8 186.7h0M133.6 180.0h0M146.5 181.9h0M194.6 188.4h0M141.6 183.5h0M134.1 185.1h0"/>
<path stroke="#00ffff" d="M224.6 88.0h0M220.6 101.3h0M201.5 109.1h0M206.9 114.5h0M229.8 122.2h0M196.6 120.0h0M198.8 120.7h0M179.4 122.7h0M215.2 138.5h0M159.5 148.0h0M143.5 148.1h0"/>
<path stroke="#ff4c00" d="M205.0 82.8h0"/>
<path stroke="#ffff00" d="M228.5 96.1h0M227.9 97.7h0M200.4 127.3h0M212.2 133.5h0M187.8 135.7h0M188.9 140.4h0M178.1 140.7h0M140.5 138.1h0"/>
<path stroke="#4dffb2" d="M187.4 87.4h0M222.6 102.6h0M224.3 107.6h0M175.9 120.0h0M176.7 134.4h0M181.9 144.3h0M139.1 144.9h0"/>
<path stroke="#ff1a00" d="M165.1 127.8h0M144.9 139.4h0"/>
<path stroke="#00b2ff" d="M215.9 82.6h0M203.7 89.6h0M205.9 111.3h0M207.8 112.4h0M229.4 123.7h0M186.5 123.5h0M222.9 139.7h0M195.3 146.1h0M203.1 147.5h0M205.0 146.7h0M208.0 147.1h0M202.2 149.7h0M164.7 148.3h0M202.1 153.7h0"/>
<path stroke="#0019ff" d="M160.9 89.3h0M167.2 90.4h0M204.8 95.6h0M179.6 93.4h0M145.9 91.3h0M171.5 95.6h0M204.9 100.0h0M206.8 100.2h0M145.8 98.2h0M152.4 99.3h0M189.6 104.2h0M156.8 102.5h0M173.2 105.4h0M153.9 104.0h0M157.0 105.1h0M159.0 104.9h0M162.8 106.5h0M167.3 105.9h0M160.9 107.8h0M162.7 107.9h0M157.6 109.6h0M163.0 110.9h0M159.5 112.7h0M229.8 178.9h0M221.5 183.0h0M219.6 184.4h0M229.0 186.0h0M218.2 187.4h0M220.8 186.6h0M171.6 182.4h0M194.9 185.9h0M206.8 188.3h0M220.6 189.9h0M231.9 190.7h0M188.3 188.2h0M196.5 189.5h0M218.1 191.5h0M223.3 191.9h0M227.7 192.2h0M234.2 193.5h0M170.9 186.9h0M185.9 189.1h0M161.8 188.0h0M187.8 192.8h0M197.2 193.7h0M200.8 194.0h0M203.0 194.3h0M213.4 195.9h0M214.9 195.9h0M231.3 198.0h0M129.2 186.8h0M139.8 188.1h0M152.2 190.0h0M160.8 190.4h0M165.6 192.3h0M185.0 193.6h0M191.9 195.3h0M208.0 197.8h0M219.4 199.3h0M221.6 198.7h0M130.8 189.3h0M151.8 192.3h0M165.9 194.6h0M176.9 195.4h0M181.5 196.2h0M197.8 198.9h0M205.5 198.8h0M216.4 200.8h0M141.7 192.6h0M144.7 193.2h0M153.1 194.6h0M160.8 195.9h0M162.4 196.0h0M164.8 196.7h0M181.8 198.4h0M185.9 199.8h0M192.8 200.6h0M199.6 201.4h0M203.1 201.2h0M209.4 202.1h0M223.7 203.8h0M139.0 195.0h0M160.9 198.6h0M167.5 199.1h0M197.7 203.0h0M207.6 204.6h0M218.0 206.2h0M234.2 208.3h0M138.5 197.6h0M181.6 203.6h0M190.7 204.4h0M206.2 207.2h0M223.6 208.5h0M224.6 209.7h0M227.3 210.1h0M232.8 209.9h0M129.3 198.6h0M148.2 200.8h0M162.3 202.9h0M169.7 204.1h0M178.1 205.2h0M180.4 204.9h0M183.2 206.3h0M196.6 207.1h0M222.5 211.1h0M232.3 212.6h0M126.8 200.6h0M132.1 200.9h0M140.9 202.9h0M155.4 204.8h0M166.3 205.5h0M168.2 206.9h0M182.5 208.2h0M196.5 210.1h0M138.7 203.9h0M140.5 204.7h0M159.3 206.7h0M161.6 207.4h0M203.3 213.9h0M127.5 207.6h0M132.6 208.1h0M142.2 210.2h0M139.0 211.1h0"/>
<path stroke="#0099ff" d="M174.6 88.6h0M177.8 88.9h0M158.4 88.4h0M189.2 111.2h0M141.6 108.4h0M217.2 146.2h0M192.9 148.3h0M216.3 151.0h0M197.4 151.5h0M202.8 151.9h0M211.8 152.5h0M171.3 149.8h0M196.5 155.0h0M210.3 158.1h0M147.8 151.9h0M208.7 158.8h0"/>
<path stroke="#004dff" d="M177.1 90.8h0M180.1 92.0h0M181.5 91.4h0M142.7 98.0h0M172.1 113.9h0M231.1 144.0h0M226.2 150.2h0M226.0 154.9h0M232.7 155.0h0M229.3 157.5h0M230.0 160.2h0M168.1 153.4h0M156.4 154.4h0M173.3 157.4h0M194.3 160.1h0M210.3 162.5h0M217.5 163.4h0M137.1 154.8h0M154.5 156.7h0M182.1 161.0h0M184.9 160.5h0M196.0 162.8h0M201.0 163.6h0M155.7 160.0h0M207.1 166.0h0M206.5 169.3h0M144.1 162.3h0M145.9 162.7h0M140.6 164.6h0M186.1 170.4h0M133.7 168.4h0M137.1 173.6h0"/>
<path stroke="#0066ff" d="M212.7 105.8h0M208.3 107.5h0M146.7 108.9h0M150.0 113.3h0M154.3 117.1h0M228.6 146.2h0M226.4 152.0h0M168.7 152.3h0M187.8 154.4h0M152.2 152.3h0M135.9 152.6h0M149.2 153.5h0M196.5 159.7h0M132.9 154.2h0M135.3 158.7h0M140.0 160.3h0"/>
<path stroke="#ff8000" d="M202.8 80.0h0M233.2 98.8h0M163.4 120.4h0M144.4 141.5h0"/>
<path stroke="#00ccff" d="M209.8 93.0h0M224.1 110.1h0M183.4 115.3h0M191.5 145.5h0M209.1 147.6h0M183.5 147.3h0M157.7 145.8h0M167.0 146.5h0M157.7 147.5h0"/>
<path stroke="#ff6600" d="M229.5 88.7h0M230.0 91.8h0"/>
<path stroke="#80ff80" d="M175.0 86.6h0M228.8 107.8h0M224.6 125.8h0M206.1 135.1h0M215.7 136.9h0M166.7 136.6h0M153.3 144.2h0"/>
<path stroke="#b3ff4c" d="M186.8 85.8h0M230.2 103.4h0M186.3 113.3h0M205.0 135.0h0M178.4 136.1h0M149.3 144.6h0"/>
<path stroke="#ffcc00" d="M216.6 95.9h0M195.1 129.5h0M217.3 132.4h0M165.2 130.2h0"/>
<path stroke="#ff9900" d="M207.2 83.4h0M200.0 84.8h0"/>
<path stroke="#99ff66" d="M211.8 84.6h0M180.7 87.0h0M163.1 86.4h0M188.6 130.7h0M223.0 135.5h0M192.2 134.2h0M220.5 137.5h0M166.4 132.8h0M176.1 136.6h0"/>
<path stroke="#ffe500" d="M191.5 86.1h0M212.4 88.8h0M226.8 90.2h0M209.8 128.9h0M204.6 132.8h0M187.8 138.0h0M161.0 136.0h0"/>
<path stroke="#66ff99" d="M211.8 118.9h0M197.3 136.4h0M192.8 138.1h0M203.8 139.5h0M170.1 140.1h0M138.8 147.0h0"/>
<path stroke="#ccff33" d="M190.3 85.9h0M230.2 100.5h0M228.7 129.4h0M182.8 134.8h0"/>
<path stroke="#cc0000" d="M140.3 131.8h0M145.3 133.8h0M149.9 134.8h0"/>
<path stroke="#00e5ff" d="M215.9 99.3h0M221.6 115.7h0M203.9 115.6h0M187.6 116.3h0M204.1 118.9h0M228.0 121.2h0M231.5 122.6h0M173.5 117.2h0M184.4 123.6h0M233.4 134.9h0M166.3 142.4h0M200.3 146.0h0M207.3 149.3h0M135.7 146.8h0"/>
<path stroke="#0066ff" d="M209.8 108.2h0M216.9 111.0h0M214.6 112.3h0M152.3 113.9h0M145.9 115.0h0M190.0 152.2h0M193.1 152.8h0M222.3 156.9h0M213.4 157.9h0M225.4 159.0h0M189.8 156.7h0M154.1 154.7h0M203.7 160.8h0M139.5 154.9h0M137.9 156.5h0M141.9 160.2h0M132.3 161.5h0M135.0 161.2h0M138.6 163.7h0"/>
<path stroke="#00b2ff" d="M220.2 87.1h0M228.5 119.5h0M178.0 117.1h0M187.3 118.4h0M194.6 119.4h0M159.7 116.8h0M142.8 120.1h0M206.2 140.7h0M214.9 148.2h0M172.2 145.6h0M196.2 148.2h0M134.2 149.8h0"/>
<path stroke="#99ff66" d="M211.5 86.9h0M227.3 93.7h0M223.0 99.8h0M215.6 117.3h0M201.1 123.3h0M195.5 126.6h0M198.3 127.6h0M169.0 130.6h0M196.8 134.9h0M156.1 137.7h0M186.4 142.0h0M141.1 142.8h0"/>
<path stroke="#b3ff4c" d="M185.5 135.6h0M162.6 141.6h0"/>
<path stroke="#0000ff" d="M202.4 94.0h0M181.6 94.4h0M194.8 95.7h0M163.1 93.3h0M192.5 98.3h0M155.9 95.9h0M158.2 95.9h0M160.4 96.6h0M183.2 99.5h0M190.0 100.6h0M192.9 100.1h0M149.9 96.6h0M157.3 97.7h0M161.7 99.1h0M164.7 98.4h0M167.9 101.7h0M187.0 103.8h0M158.9 102.3h0M161.9 205.2h0M164.3 208.2h0M160.7 209.6h0M182.0 212.9h0M155.9 211.5h0M167.3 213.9h0M151.0 213.6h0M126.9 212.1h0"/>
<path stroke="#ffb300" d="M210.3 88.9h0M217.4 122.9h0M221.6 127.7h0M216.5 129.3h0"/>
<path stroke="#0080ff" d="M196.8 88.5h0M217.8 103.3h0M202.0 104.4h0M215.1 105.8h0M199.3 105.5h0M207.6 109.9h0M209.8 109.8h0M224.8 112.0h0M209.4 111.7h0M232.7 115.4h0M144.3 106.0h0M144.7 117.0h0M229.6 141.6h0M178.8 146.4h0M222.9 152.4h0M174.9 148.4h0M187.7 149.0h0M209.3 152.8h0M189.6 154.4h0M196.2 158.4h0M203.3 158.6h0M213.2 159.7h0M141.0 152.5h0"/>
<path stroke="#ccff33" d="M217.6 89.2h0M210.9 124.3h0M207.6 132.5h0M190.6 133.5h0"/>
<path stroke="#ff8000" d="M190.3 83.8h0M231.7 94.1h0"/>
<path stroke="#ff6600" d="M206.9 131.3h0M216.9 133.7h0M162.7 129.7h0M151.9 139.3h0"/>
<path stroke="#ff0000" d="M233.5 94.2h0"/>
<path stroke="#0099ff" d="M222.4 87.7h0M179.6 89.4h0M217.4 106.2h0M139.6 102.7h0M144.6 107.7h0M141.7 110.3h0M211.6 147.8h0M162.4 148.6h0M194.5 152.2h0M204.2 157.0h0M215.4 157.9h0M132.3 159.1h0"/>
<path stroke="#ff4c00" d="M167.1 125.7h0"/>
<path stroke="#e50000" d="M165.4 125.6h0M153.6 125.5h0M136.3 133.6h0M151.8 134.8h0"/>
<path stroke="#ffff00" d="M229.2 93.9h0M218.3 118.7h0M219.9 125.6h0M175.0 137.7h0"/>
<path stroke="#00ccff" d="M213.7 81.6h0M216.3 85.2h0M186.8 111.4h0M212.0 114.5h0M226.0 116.9h0M142.7 112.1h0M187.9 121.4h0M205.9 144.2h0M211.8 145.6h0M215.2 145.6h0M169.6 145.4h0M181.4 145.9h0M169.4 147.0h0M136.2 149.2h0"/>
<path stroke="#cc0000" d="M154.9 133.6h0M142.6 134.1h0M149.9 139.3h0"/>
<path stroke="#33ffcc" d="M228.5 110.2h0M185.4 116.0h0M198.5 122.5h0M183.7 125.8h0M194.1 127.3h0M210.8 138.7h0M133.8 145.2h0"/>
<path stroke="#004dff" d="M218.9 84.9h0M163.3 88.8h0M144.8 100.9h0M217.3 112.8h0M150.9 108.9h0M233.6 144.1h0M231.4 148.6h0M224.0 149.5h0M229.0 149.9h0M230.9 150.2h0M233.8 150.5h0M232.7 153.2h0M227.6 155.0h0M176.1 151.0h0M224.8 157.2h0M163.9 150.4h0M158.9 153.4h0M148.0 153.5h0M171.1 156.5h0M158.1 157.6h0M148.8 158.9h0M153.6 158.7h0M161.1 160.3h0M199.9 165.5h0M209.2 166.7h0M144.1 160.1h0M146.6 160.8h0M190.3 166.0h0M136.7 161.2h0M131.0 165.4h0M131.5 168.6h0"/>
<path stroke="#0019ff" d="M225.7 83.0h0M201.1 92.1h0M188.4 93.4h0M170.5 92.7h0M204.5 98.0h0M169.3 94.6h0M174.0 95.5h0M194.2 103.1h0M149.5 100.0h0M154.8 102.9h0M180.6 105.2h0M182.7 106.4h0M174.9 107.6h0M170.1 108.9h0M161.7 112.4h0M169.0 113.3h0M226.9 180.6h0M233.2 181.8h0M193.1 181.1h0M224.0 185.3h0M232.5 187.0h0M164.6 179.2h0M204.8 185.6h0M207.3 184.7h0M225.4 188.1h0M181.4 183.9h0M185.5 185.3h0M200.3 186.2h0M209.2 188.6h0M214.0 188.0h0M227.3 190.6h0M168.9 185.3h0M203.7 189.6h0M220.7 192.3h0M163.6 186.8h0M166.8 186.7h0M175.8 187.6h0M195.1 190.7h0M196.5 190.5h0M215.1 193.5h0M217.4 193.7h0M227.6 195.1h0M140.6 186.0h0M182.0 191.8h0M185.2 191.7h0M194.2 193.5h0M224.1 197.0h0M234.1 199.1h0M154.4 189.5h0M173.6 192.3h0M178.0 193.0h0M196.5 196.3h0M215.4 198.0h0M224.8 199.3h0M228.4 200.6h0M138.1 190.6h0M144.5 190.7h0M158.3 193.2h0M170.8 194.0h0M174.3 194.9h0M196.4 198.1h0M202.9 199.1h0M207.1 200.2h0M226.0 201.7h0M231.1 203.3h0M138.0 192.1h0M152.0 194.4h0M167.4 197.1h0M170.2 197.3h0M174.1 197.7h0M177.3 197.7h0M179.1 198.6h0M184.2 198.2h0M198.5 200.7h0M204.5 202.2h0M207.0 202.6h0M225.2 203.8h0M232.9 205.3h0M129.7 194.4h0M169.6 199.0h0M179.5 200.7h0M185.6 201.2h0M188.7 201.6h0M195.0 202.7h0M209.4 204.5h0M214.4 205.2h0M223.6 206.9h0M232.5 208.2h0M129.1 195.9h0M140.7 197.4h0M152.5 199.8h0M154.9 199.4h0M157.7 199.5h0M166.9 201.8h0M170.0 201.2h0M175.8 203.0h0M201.7 206.2h0M203.6 206.4h0M220.8 208.6h0M136.8 199.3h0M138.3 199.6h0M154.6 202.3h0M175.7 205.0h0M185.9 205.5h0M201.0 207.7h0M204.5 208.3h0M215.2 209.7h0M218.2 210.4h0M229.1 212.3h0M136.3 201.2h0M143.4 202.4h0M144.8 203.2h0M159.8 204.8h0M163.8 205.7h0M173.1 206.9h0M178.6 208.1h0M205.8 211.4h0M128.6 202.6h0M132.9 203.8h0M170.4 208.6h0M182.9 210.3h0M126.0 204.9h0M128.9 205.1h0M133.3 206.8h0M137.2 206.2h0M143.1 207.2h0M180.3 212.6h0M188.9 213.4h0"/>
<path stroke="#0033ff" d="M223.9 83.3h0M222.4 84.9h0M209.2 100.2h0M208.8 102.0h0M192.1 105.5h0M153.8 107.3h0M233.9 158.3h0M177.9 158.0h0M224.8 163.6h0M227.1 164.8h0M167.4 159.4h0M212.9 165.2h0M217.2 165.7h0M228.5 166.6h0M231.6 167.0h0M155.7 161.9h0M179.4 164.4h0M188.9 165.8h0M213.4 169.7h0M218.7 170.1h0M229.9 171.8h0M153.8 163.2h0M159.8 165.1h0M167.5 165.8h0M187.9 169.1h0M192.8 169.2h0M194.9 169.5h0M213.8 171.7h0M215.8 171.7h0M227.9 173.3h0M142.9 164.7h0M152.3 166.2h0M154.9 166.5h0M183.2 170.0h0M194.1 171.5h0M196.7 172.6h0M225.2 175.7h0M227.9 176.4h0M229.1 176.7h0M157.5 169.1h0M191.7 173.2h0M211.0 176.1h0M143.3 169.3h0M147.7 170.6h0M153.8 171.7h0M161.1 171.5h0M164.0 172.8h0M166.7 173.3h0M172.4 173.0h0M175.8 173.4h0M195.9 176.8h0M202.9 178.4h0M208.6 178.5h0M215.0 179.6h0M165.8 174.4h0M167.8 174.9h0M182.0 177.3h0M189.6 177.7h0M203.6 179.6h0M205.6 180.0h0M223.9 183.2h0M226.5 182.8h0M140.1 173.2h0M145.0 175.1h0M161.1 176.1h0M205.2 182.6h0M133.2 175.4h0M134.9 176.0h0M151.5 177.9h0M154.0 178.8h0M158.7 178.2h0M183.4 182.3h0M190.4 183.5h0M193.0 182.9h0M195.4 183.8h0M198.4 184.0h0M201.8 185.2h0M129.6 176.6h0M143.3 179.7h0M132.2 179.4h0M175.5 186.6h0M180.4 186.1h0M199.6 189.4h0M129.2 181.4h0M136.9 182.6h0M138.3 183.8h0M145.0 183.9h0M136.2 185.1h0M142.8 186.4h0"/>
<path stroke="#1affe5" d="M214.5 115.2h0M219.5 115.9h0M183.6 113.7h0M226.0 119.4h0M155.8 121.6h0M233.5 132.1h0M134.9 140.6h0"/>
<path stroke="#00ffff" d="M179.9 120.6h0M178.2 132.1h0M228.3 137.7h0M210.9 141.1h0M208.2 145.3h0M160.4 142.9h0"/>
<path stroke="#ffe500" d="M197.2 84.1h0M180.2 84.8h0M233.7 105.9h0M151.6 142.3h0"/>
<path stroke="#990000" d="M150.1 129.7h0M153.3 130.5h0"/>
<path stroke="#ff1a00" d="M158.0 124.7h0"/>
<path stroke="#80ff80" d="M212.7 93.6h0M165.8 117.7h0M203.4 123.6h0M226.7 131.4h0M197.5 129.7h0M230.0 133.7h0M197.8 131.4h0"/>
<path stroke="#e5ff1a" d="M208.1 123.8h0M209.0 133.0h0M143.7 143.1h0"/>
<path stroke="#ffcc00" d="M167.9 122.7h0M213.4 134.1h0"/>
<path stroke="#b30000" d="M153.8 128.9h0M151.9 132.5h0"/>
<path stroke="#4dffb2" d="M181.6 113.7h0M192.3 116.7h0M222.5 121.4h0M227.1 124.1h0M177.9 124.1h0M175.3 127.0h0M164.0 134.5h0"/>
<path stroke="#66ff99" d="M218.5 87.0h0M231.6 110.1h0M159.6 120.2h0M200.1 134.5h0M136.9 142.9h0"/>
<path stroke="#00b2ff" d="M156.3 87.9h0M189.9 116.9h0M234.5 122.5h0M176.5 117.3h0M222.1 143.0h0M202.9 141.6h0M218.9 148.4h0M193.5 150.2h0"/>
<path stroke="#ffcc00" d="M209.0 80.8h0M215.7 91.6h0M166.0 120.7h0M218.9 134.7h0M180.2 134.6h0"/>
<path stroke="#00ffff" d="M227.6 116.4h0M232.2 118.4h0M202.3 117.8h0M182.8 120.5h0M182.3 127.3h0M224.9 138.5h0M205.3 142.3h0M156.3 142.5h0"/>
<path stroke="#ffb300" d="M175.9 84.3h0M215.3 120.2h0M159.7 133.8h0"/>
<path stroke="#1affe5" d="M222.7 89.8h0M218.7 101.6h0M220.6 104.8h0M222.9 107.1h0M234.0 108.4h0M233.2 110.1h0M191.0 112.7h0M187.7 113.5h0M151.9 121.4h0M233.0 136.8h0M215.7 141.7h0M210.8 143.4h0M212.4 143.1h0M166.4 139.4h0M192.1 143.2h0M186.0 144.5h0M137.5 140.6h0M162.3 143.3h0"/>
<path stroke="#00e5ff" d="M199.7 86.9h0M233.5 113.6h0M192.8 114.6h0M195.0 117.8h0M180.5 117.6h0M145.5 120.4h0M153.5 121.0h0M186.1 128.1h0M160.4 141.0h0M160.9 145.5h0M162.2 146.6h0M140.2 150.3h0"/>
<path stroke="#4dffb2" d="M212.1 82.2h0M219.0 96.5h0M174.9 121.7h0M223.9 128.4h0M191.9 126.5h0M177.5 126.8h0M199.6 136.9h0M201.6 139.9h0M194.7 140.4h0"/>
<path stroke="#b30000" d="M148.2 132.8h0M147.0 134.4h0"/>
<path stroke="#ff9900" d="M204.5 80.5h0M232.6 102.9h0M156.2 123.7h0M153.9 135.9h0"/>
<path stroke="#ff3300" d="M142.4 138.9h0"/>
<path stroke="#0000ff" d="M191.3 93.3h0M183.6 94.6h0M190.8 95.8h0M178.3 96.6h0M187.8 97.4h0M190.0 97.1h0M200.1 99.3h0M146.4 94.1h0M147.8 94.8h0M172.1 97.6h0M152.2 96.8h0M155.0 97.5h0M170.7 99.3h0M177.9 100.3h0M181.0 100.6h0M184.6 101.1h0M188.0 102.0h0M165.6 100.9h0M175.6 102.9h0M161.7 103.1h0M168.3 104.9h0M173.9 202.3h0M163.8 203.9h0M220.4 211.0h0M167.9 208.9h0M179.8 210.0h0M172.5 211.5h0M175.4 212.3h0M144.0 210.2h0M170.5 213.8h0"/>
<path stroke="#ff4c00" d="M165.7 122.3h0"/>
<path stroke="#ffe500" d="M208.5 85.6h0M213.0 90.9h0M216.0 122.1h0M163.8 117.8h0M168.2 121.5h0M179.8 136.7h0M156.3 136.6h0"/>
<path stroke="#ffff00" d="M223.1 123.7h0M159.4 121.9h0M215.1 130.1h0M199.8 132.1h0M167.5 130.4h0M164.8 131.5h0M180.6 138.7h0"/>
<path stroke="#0033ff" d="M220.5 82.8h0M192.1 91.0h0M195.6 91.0h0M170.6 90.3h0M171.8 91.2h0M174.4 90.5h0M207.7 94.7h0M172.1 92.2h0M194.0 104.8h0M187.0 107.4h0M156.0 109.7h0M232.1 163.2h0M161.6 155.9h0M228.8 165.0h0M231.9 164.5h0M209.3 164.1h0M219.5 165.5h0M226.1 166.5h0M170.5 161.9h0M176.9 161.9h0M188.0 164.3h0M211.5 167.5h0M221.6 168.7h0M227.5 169.1h0M158.5 161.9h0M165.2 163.3h0M166.8 163.6h0M171.8 164.6h0M173.8 164.5h0M176.1 164.1h0M222.8 170.4h0M148.2 163.5h0M150.2 163.7h0M168.9 166.4h0M176.1 166.3h0M211.5 171.8h0M218.6 173.2h0M157.6 167.4h0M167.1 167.9h0M171.3 168.6h0M180.3 170.2h0M190.1 171.8h0M201.4 173.1h0M205.8 172.8h0M212.7 174.0h0M220.8 175.3h0M231.4 177.5h0M145.6 166.9h0M159.3 169.5h0M164.6 170.2h0M170.8 170.6h0M175.6 171.1h0M177.6 172.5h0M180.2 172.9h0M182.5 173.1h0M186.9 173.4h0M189.2 173.4h0M208.8 176.4h0M213.1 176.9h0M234.0 180.2h0M141.1 168.8h0M192.2 176.4h0M194.4 176.4h0M198.3 176.6h0M200.7 177.1h0M210.4 178.0h0M149.7 173.5h0M154.1 173.8h0M156.4 173.7h0M161.6 174.6h0M172.2 176.0h0M179.1 176.2h0M198.6 178.8h0M200.8 179.1h0M210.2 180.9h0M218.8 182.0h0M142.4 174.6h0M151.8 175.1h0M159.1 177.0h0M170.7 178.0h0M184.1 179.3h0M202.8 181.8h0M212.0 184.0h0M214.1 184.2h0M130.2 175.1h0M142.1 176.8h0M147.2 176.8h0M172.7 180.8h0M174.9 180.8h0M199.5 184.1h0M214.1 186.3h0M148.0 179.3h0M169.5 182.6h0M136.2 180.0h0M143.3 181.2h0M133.3 183.2h0M131.5 185.1h0M142.7 187.9h0"/>
<path stroke="#e50000" d="M235.0 87.2h0M157.7 126.7h0"/>
<path stroke="#66ff99" d="M224.3 92.8h0M223.5 95.8h0M221.4 118.6h0M173.8 131.2h0M181.7 131.8h0M168.9 132.1h0M203.5 136.9h0M137.6 138.7h0M155.5 145.3h0M141.1 145.8h0"/>
<path stroke="#0019ff" d="M149.4 90.1h0M158.7 90.5h0M165.6 91.4h0M144.5 91.6h0M172.5 107.2h0M171.7 109.1h0M167.2 111.8h0M169.5 111.4h0M234.9 172.7h0M232.6 175.2h0M232.1 178.8h0M217.2 179.4h0M229.5 181.5h0M231.1 181.8h0M228.6 184.1h0M233.0 184.0h0M221.6 184.5h0M226.5 185.1h0M211.6 186.0h0M223.6 187.1h0M228.4 187.9h0M230.2 188.0h0M211.9 187.8h0M224.7 190.4h0M173.6 185.1h0M208.3 190.4h0M215.5 191.2h0M225.1 192.5h0M132.2 182.5h0M157.5 185.9h0M160.1 185.7h0M161.3 186.7h0M168.5 187.1h0M201.1 192.1h0M211.0 193.5h0M234.7 195.9h0M147.7 187.3h0M165.9 189.5h0M178.4 190.3h0M188.9 192.5h0M191.4 192.5h0M198.7 193.2h0M210.9 194.9h0M217.8 195.7h0M229.8 198.2h0M132.7 187.2h0M145.5 189.4h0M146.9 188.7h0M156.7 190.9h0M167.7 191.3h0M170.6 192.4h0M175.7 193.1h0M200.9 196.1h0M202.9 196.2h0M128.0 189.5h0M135.8 190.5h0M168.0 194.1h0M184.0 197.1h0M191.3 198.1h0M200.6 198.3h0M212.7 200.0h0M132.3 192.2h0M147.2 194.0h0M158.5 195.5h0M189.1 199.8h0M227.6 204.9h0M230.0 205.2h0M127.9 192.9h0M155.7 197.4h0M164.6 198.8h0M181.6 200.2h0M183.9 201.5h0M204.5 204.3h0M211.1 204.6h0M216.4 206.0h0M230.7 206.9h0M126.8 196.3h0M132.0 197.1h0M134.9 196.7h0M136.6 197.1h0M162.6 201.2h0M186.0 203.5h0M199.6 205.9h0M209.3 206.8h0M213.9 207.6h0M141.6 199.6h0M145.5 200.8h0M151.0 201.7h0M171.7 203.7h0M187.0 206.2h0M206.8 208.8h0M208.2 208.9h0M213.4 210.3h0M227.9 212.2h0M234.3 212.4h0M129.0 200.9h0M133.2 201.6h0M147.1 203.3h0M175.1 207.1h0M190.3 208.9h0M198.3 210.3h0M203.9 211.1h0M208.1 212.2h0M210.7 212.5h0M213.1 212.4h0M217.8 213.0h0M224.9 213.5h0M127.0 203.0h0M152.3 205.8h0M195.7 212.9h0M201.5 212.3h0M144.5 207.9h0M147.7 207.4h0M170.8 211.6h0M130.7 210.0h0M132.8 213.3h0"/>
<path stroke="#0099ff" d="M214.1 100.7h0M215.1 104.2h0M202.9 106.5h0M221.3 111.6h0M226.3 111.8h0M191.5 109.4h0M220.9 113.6h0M138.2 111.5h0M141.4 112.6h0M148.0 118.6h0M149.9 120.1h0M183.9 144.9h0M189.0 145.3h0M194.1 145.1h0M171.8 147.1h0M180.8 148.2h0M185.7 149.1h0M214.1 153.7h0M216.4 153.9h0M209.0 155.0h0M160.0 150.6h0M199.4 155.3h0"/>
<path stroke="#00ccff" d="M211.8 96.3h0M203.0 108.6h0M183.3 118.0h0M230.9 136.3h0M227.4 140.4h0M217.2 142.4h0M207.9 142.3h0M221.7 145.0h0M146.1 148.9h0"/>
<path stroke="#0066ff" d="M227.7 84.5h0M210.9 103.2h0M142.1 100.3h0M179.4 110.6h0M146.3 110.6h0M150.2 111.7h0M147.7 116.2h0M232.3 139.2h0M220.9 148.9h0M220.9 152.0h0M227.5 153.1h0M199.7 153.1h0M185.0 154.5h0M198.6 157.7h0M138.0 153.0h0M145.2 153.7h0M152.5 154.5h0M146.9 155.9h0M186.3 161.3h0M142.2 157.9h0"/>
<path stroke="#ccff33" d="M173.5 85.7h0M214.7 93.3h0M228.2 100.8h0M190.8 128.9h0M169.4 128.6h0M173.1 141.0h0"/>
<path stroke="#ff1a00" d="M232.6 87.3h0M159.2 132.0h0M146.5 142.0h0"/>
<path stroke="#ff0000" d="M231.7 88.7h0M137.8 133.3h0"/>
<path stroke="#b3ff4c" d="M221.0 120.4h0M208.6 122.2h0M226.6 126.7h0M231.1 131.5h0M187.7 132.4h0M223.5 137.1h0M178.5 134.6h0M171.3 135.6h0M170.6 137.5h0M160.6 138.7h0M148.3 146.2h0"/>
<path stroke="#0080ff" d="M211.1 97.8h0M140.6 98.2h0M196.3 107.5h0M212.3 110.2h0M230.1 117.2h0M148.6 108.1h0M148.5 110.8h0M140.4 114.3h0M137.1 119.4h0M139.8 119.3h0M229.6 143.8h0M213.5 150.7h0M218.4 151.1h0M169.8 149.6h0M188.5 152.0h0M211.2 155.3h0M166.5 151.1h0M150.6 151.0h0M194.2 158.2h0M200.6 158.1h0M205.3 160.9h0"/>
<path stroke="#33ffcc" d="M184.8 86.8h0M215.0 96.8h0M223.8 97.6h0M213.4 117.1h0M161.3 118.0h0M172.0 130.5h0M217.9 139.3h0M193.2 142.7h0"/>
<path stroke="#e5ff1a" d="M170.8 85.4h0M208.4 90.8h0M214.0 122.7h0M207.4 127.8h0M212.0 129.8h0M205.1 129.9h0M145.4 145.7h0"/>
<path stroke="#004dff" d="M192.1 106.9h0M145.0 103.0h0M176.4 112.1h0M228.4 147.8h0M176.0 152.6h0M181.2 153.5h0M182.3 153.5h0M167.0 154.1h0M175.9 155.3h0M178.6 154.8h0M187.1 157.0h0M226.7 162.1h0M159.6 155.4h0M181.7 158.9h0M208.1 161.1h0M219.4 163.7h0M148.8 155.9h0M156.7 157.3h0M161.3 158.3h0M174.4 159.5h0M188.5 161.0h0M193.0 161.8h0M151.4 158.3h0M184.0 163.4h0M187.0 163.5h0M198.4 164.8h0M209.9 169.2h0M190.8 168.4h0M135.9 163.3h0M145.2 165.5h0M133.6 165.7h0M138.5 169.4h0M131.3 169.7h0M135.4 170.5h0M143.1 171.2h0"/>
<path stroke="#ff8000" d="M192.3 83.3h0M231.2 96.2h0M213.0 126.4h0M219.5 128.3h0"/>
<path stroke="#99ff66" d="M193.9 85.8h0M211.2 117.7h0M212.7 123.9h0M201.6 125.6h0M227.3 128.6h0M210.7 135.9h0M171.7 132.6h0M208.7 137.9h0"/>
<path stroke="#80ff80" d="M192.5 136.5h0M189.1 137.3h0M188.6 142.3h0M177.8 143.0h0"/>
<path stroke="#990000" d="M154.6 131.0h0M143.1 132.2h0"/>
<path stroke="#cc0000" d="M234.5 89.5h0M158.2 128.6h0"/>
<path stroke="#b3ff4c" d="M197.1 86.7h0M217.3 93.8h0M225.8 99.6h0M206.0 119.2h0M217.7 128.1h0M222.3 130.6h0M173.0 126.2h0M194.0 128.4h0M176.5 129.3h0M192.9 131.4h0M195.7 132.0h0M201.6 134.7h0M143.2 145.3h0"/>
<path stroke="#0099ff" d="M170.3 88.5h0M205.3 92.5h0M215.9 101.5h0M212.2 112.4h0M139.7 107.0h0M192.9 119.8h0M156.4 117.0h0M191.4 121.7h0M149.5 117.8h0M229.3 138.4h0M219.9 142.1h0M220.3 143.8h0M223.9 144.7h0M201.0 144.5h0M195.3 150.2h0M201.0 156.1h0M146.1 151.4h0M133.4 151.3h0"/>
<path stroke="#ffe500" d="M230.2 84.0h0M219.8 92.7h0M135.0 137.1h0"/>
<path stroke="#800000" d="M156.2 126.7h0"/>
<path stroke="#0080ff" d="M191.4 89.0h0M182.4 89.4h0M139.8 100.9h0M195.4 110.2h0M174.0 115.0h0M176.7 114.6h0M146.2 112.4h0M152.5 116.3h0M143.4 117.2h0M156.8 119.7h0M227.0 143.4h0M221.4 147.7h0M209.3 150.2h0M211.8 150.0h0M183.5 148.7h0M219.0 153.1h0M221.3 154.1h0M206.9 154.0h0M213.0 155.2h0M194.9 155.3h0M206.3 156.5h0M209.2 157.1h0M217.9 158.0h0M215.2 160.2h0M143.0 152.5h0"/>
<path stroke="#66ff99" d="M161.4 86.8h0M206.6 123.7h0M183.8 128.3h0M212.5 140.8h0"/>
<path stroke="#990000" d="M147.7 136.7h0"/>
<path stroke="#e50000" d="M149.1 137.0h0"/>
<path stroke="#ff4c00" d="M149.4 141.9h0"/>
<path stroke="#e5ff1a" d="M218.8 94.7h0M170.9 123.9h0M228.1 131.2h0M214.6 131.9h0M226.3 133.4h0M184.9 137.1h0"/>
<path stroke="#00ffff" d="M224.8 104.9h0M220.1 106.5h0M222.8 116.6h0M232.2 124.7h0M191.2 124.6h0M184.8 142.6h0M168.1 142.4h0"/>
<path stroke="#0019ff" d="M193.5 93.7h0M151.6 89.7h0M152.9 90.2h0M156.0 90.8h0M161.0 91.0h0M168.1 92.5h0M148.3 91.5h0M150.5 91.8h0M176.0 95.9h0M169.3 96.7h0M201.3 101.8h0M148.2 96.5h0M185.5 104.3h0M149.5 101.9h0M178.0 105.5h0M184.4 107.1h0M161.3 105.4h0M170.0 106.7h0M177.9 108.2h0M156.4 107.8h0M166.0 108.7h0M167.8 108.4h0M165.6 111.0h0M165.2 113.1h0M216.7 184.5h0M231.1 186.2h0M235.0 187.0h0M164.5 182.4h0M204.6 186.9h0M222.9 189.6h0M230.0 190.9h0M148.8 182.2h0M159.3 184.1h0M165.2 184.8h0M183.8 186.9h0M185.0 187.2h0M192.5 188.3h0M201.4 189.4h0M206.7 189.6h0M211.1 190.0h0M213.2 190.5h0M230.3 192.8h0M232.4 192.9h0M148.0 184.3h0M153.1 184.8h0M173.7 188.4h0M177.7 188.4h0M181.0 188.4h0M183.1 188.6h0M190.2 190.2h0M198.6 191.6h0M204.0 191.5h0M206.2 192.7h0M213.4 192.6h0M224.9 194.8h0M229.4 195.1h0M232.4 196.5h0M145.0 186.4h0M151.8 187.8h0M154.0 188.1h0M157.5 188.1h0M159.2 188.5h0M163.2 189.4h0M171.3 190.1h0M172.8 190.0h0M175.8 190.7h0M180.2 191.0h0M227.3 197.3h0M130.6 187.0h0M149.9 189.7h0M158.6 190.8h0M163.9 191.2h0M187.3 195.0h0M194.1 195.7h0M205.5 196.6h0M210.7 197.1h0M212.7 198.4h0M217.8 199.1h0M231.8 200.0h0M139.9 190.4h0M142.7 190.3h0M154.1 192.9h0M156.7 193.0h0M162.9 193.5h0M172.8 194.3h0M179.2 195.4h0M186.6 197.0h0M218.6 200.7h0M221.7 201.3h0M223.8 202.4h0M229.1 202.6h0M129.8 191.3h0M135.0 192.5h0M149.4 193.6h0M172.1 196.9h0M190.6 199.3h0M211.7 202.1h0M214.3 202.4h0M216.1 202.9h0M218.9 203.3h0M221.5 203.3h0M134.6 194.2h0M137.3 194.3h0M141.9 195.3h0M148.7 196.4h0M153.4 197.1h0M158.5 197.9h0M174.2 200.2h0M177.0 200.8h0M220.7 205.7h0M224.9 207.2h0M228.5 207.6h0M145.6 198.4h0M150.8 199.2h0M164.1 200.6h0M171.1 202.0h0M183.0 203.1h0M192.8 205.2h0M195.0 205.0h0M211.0 207.6h0M229.7 209.7h0M234.9 210.7h0M131.5 198.6h0M134.4 199.4h0M158.0 202.6h0M189.4 206.3h0M199.0 207.9h0M151.8 204.0h0M157.3 204.5h0M187.5 208.7h0M215.6 212.1h0M142.5 205.7h0M145.1 204.9h0M155.1 206.9h0M165.4 208.7h0M175.3 209.6h0M184.6 211.0h0M193.6 211.5h0M198.2 212.8h0M125.9 206.9h0M134.8 209.1h0M132.9 210.7h0M137.0 211.7h0"/>
<path stroke="#33ffcc" d="M213.5 86.9h0M186.2 129.7h0M173.6 133.1h0M201.5 141.5h0M165.9 144.0h0M139.4 143.1h0M153.3 146.5h0M150.5 149.7h0"/>
<path stroke="#ff9900" d="M205.8 86.3h0M214.8 127.8h0M221.0 132.6h0"/>
<path stroke="#ccff33" d="M230.0 98.6h0M214.5 98.4h0M161.8 119.3h0M202.9 133.2h0"/>
<path stroke="#ff1a00" d="M160.4 124.7h0M160.2 128.8h0M152.5 137.9h0"/>
<path stroke="#80ff80" d="M215.6 86.9h0M165.5 86.8h0M221.4 97.2h0M209.0 119.4h0M200.9 120.7h0M204.2 120.9h0M179.5 124.1h0M176.7 131.8h0M165.9 134.6h0M168.6 139.2h0M156.6 141.1h0M150.5 145.1h0"/>
<path stroke="#b30000" d="M144.1 129.6h0M148.6 129.3h0M146.1 131.4h0"/>
<path stroke="#0000ff" d="M197.6 94.1h0M162.8 92.3h0M192.8 95.8h0M153.5 92.7h0M155.0 92.7h0M158.1 93.8h0M184.2 96.8h0M153.4 94.5h0M162.2 96.6h0M188.3 100.1h0M166.9 98.9h0M168.4 99.8h0M176.4 100.8h0M182.7 102.1h0M189.4 102.4h0M161.4 101.5h0M163.5 101.3h0M173.0 101.8h0M178.6 103.8h0M166.6 103.4h0M170.0 104.0h0M148.8 208.4h0M154.4 209.4h0M167.8 210.6h0M163.6 212.1h0M165.4 213.5h0M134.2 211.5h0M152.8 213.6h0M156.2 213.6h0"/>
<path stroke="#ffcc00" d="M171.2 121.6h0M223.7 130.7h0M218.4 137.6h0M175.3 140.2h0"/>
<path stroke="#00e5ff" d="M198.8 111.0h0M230.7 114.7h0M195.8 112.8h0M199.8 112.6h0M197.0 116.0h0M209.1 117.2h0M167.3 116.5h0M178.5 120.2h0M198.3 141.4h0M218.1 144.0h0M176.3 145.5h0"/>
<path stroke="#ff0000" d="M233.8 91.3h0M142.4 136.0h0"/>
<path stroke="#00ccff" d="M183.3 110.6h0M202.2 113.7h0M216.3 115.2h0M232.3 120.6h0M200.1 117.4h0M186.6 125.1h0M188.6 126.5h0M196.3 143.6h0M172.7 142.9h0M197.6 148.6h0M155.5 147.8h0M153.2 149.1h0M143.5 150.7h0"/>
<path stroke="#00b2ff" d="M194.8 88.2h0M193.6 109.7h0M224.2 113.5h0M226.2 115.0h0M234.5 120.5h0M139.2 110.0h0M161.8 115.5h0M143.8 114.8h0M184.5 121.2h0M198.1 143.4h0M203.1 144.7h0M198.2 146.9h0M185.8 146.6h0M178.6 148.8h0M174.6 149.6h0M204.7 154.3h0"/>
<path stroke="#1affe5" d="M213.1 83.6h0M218.1 99.5h0M226.6 107.7h0M195.5 114.5h0M180.4 115.0h0M229.7 126.2h0M213.2 138.8h0M197.1 140.8h0M158.1 140.3h0M134.0 147.7h0M148.5 148.8h0"/>
<path stroke="#cc0000" d="M160.4 126.2h0"/>
<path stroke="#0066ff" d="M225.3 86.1h0M189.1 90.2h0M193.2 108.3h0M219.4 113.1h0M148.0 112.8h0M231.7 140.9h0M181.2 150.6h0M185.8 152.1h0M227.9 157.8h0M171.8 152.3h0M227.1 159.2h0M161.5 153.0h0M220.1 160.6h0M222.8 161.0h0M191.4 159.8h0M134.9 154.5h0M203.0 163.3h0"/>
<path stroke="#ff8000" d="M201.4 85.0h0M183.0 84.9h0M215.0 89.4h0"/>
<path stroke="#ffff00" d="M227.3 102.5h0M152.1 123.8h0M184.1 132.0h0M184.2 140.0h0"/>
<path stroke="#004dff" d="M141.5 93.9h0M206.7 104.0h0M209.0 105.1h0M197.1 105.5h0M212.7 108.5h0M214.9 110.1h0M147.6 103.5h0M146.6 105.7h0M166.9 113.9h0M234.6 141.1h0M223.3 154.8h0M229.8 155.1h0M231.3 160.6h0M172.6 154.8h0M184.4 156.9h0M184.3 158.2h0M201.4 161.3h0M215.4 162.4h0M142.5 154.6h0M144.7 154.9h0M191.5 161.3h0M191.6 164.1h0M203.1 166.1h0M205.2 165.5h0M136.8 158.6h0M148.3 160.7h0M151.2 161.3h0M197.3 167.1h0M200.7 167.7h0M207.0 170.4h0M208.7 170.7h0M133.6 163.8h0M199.8 171.9h0M147.4 167.5h0M133.0 170.5h0M130.1 172.4h0M132.5 173.5h0"/>
<path stroke="#4dffb2" d="M227.6 105.7h0M226.4 110.1h0M173.5 119.5h0M173.4 121.4h0M185.5 133.1h0"/>
<path stroke="#99ff66" d="M177.4 86.5h0M225.0 102.5h0M198.1 125.4h0M203.7 126.2h0M197.2 139.3h0M163.8 137.2h0M191.5 140.7h0M139.3 140.4h0M141.5 147.7h0"/>
<path stroke="#0033ff" d="M203.6 92.6h0M185.8 92.8h0M204.7 101.6h0M206.6 102.6h0M197.4 103.0h0M152.0 106.3h0M160.0 110.3h0M172.6 112.5h0M153.1 111.0h0M233.7 148.7h0M230.1 153.3h0M175.9 156.9h0M166.3 158.1h0M178.0 160.6h0M207.0 163.9h0M232.9 168.0h0M230.8 168.9h0M185.9 165.9h0M220.9 170.2h0M165.0 165.3h0M173.8 166.7h0M183.8 168.2h0M185.6 168.8h0M201.9 170.7h0M150.7 165.9h0M173.9 168.4h0M187.1 171.4h0M192.5 170.9h0M204.5 173.7h0M211.4 173.9h0M222.8 175.3h0M154.1 168.8h0M166.5 169.8h0M173.0 171.7h0M184.6 173.0h0M194.3 174.4h0M196.2 174.0h0M218.1 177.4h0M222.4 177.5h0M226.4 179.0h0M145.7 169.7h0M149.3 170.4h0M151.5 170.3h0M167.9 173.2h0M171.0 173.8h0M177.6 174.6h0M184.9 175.7h0M187.6 175.4h0M188.9 175.3h0M206.0 177.8h0M220.3 179.6h0M224.0 179.9h0M138.3 171.4h0M139.8 171.8h0M144.7 172.8h0M146.9 172.0h0M151.9 172.9h0M187.1 177.4h0M207.6 180.9h0M217.1 181.8h0M146.8 174.4h0M156.1 175.7h0M167.2 177.5h0M172.5 178.7h0M176.9 178.4h0M178.8 179.8h0M186.5 180.9h0M195.9 181.6h0M200.4 181.7h0M137.5 175.4h0M140.2 176.5h0M144.0 177.5h0M163.4 179.2h0M179.4 181.7h0M139.7 177.9h0M151.5 179.5h0M153.2 180.8h0M156.1 181.2h0M188.5 184.7h0M189.9 184.8h0M198.1 186.0h0M216.5 188.7h0M218.8 189.2h0M139.0 181.6h0M157.3 183.1h0M142.8 183.7h0M150.8 184.2h0M128.8 184.0h0M138.8 185.0h0M193.4 197.2h0"/>
<path stroke="#b3ff4c" d="M232.2 101.3h0M224.4 123.9h0M203.6 128.3h0M202.5 130.1h0M228.2 133.9h0M208.5 136.0h0M154.1 138.1h0"/>
<path stroke="#ff3300" d="M231.5 91.7h0M233.8 95.8h0M163.4 125.0h0M137.4 135.2h0"/>
<path stroke="#1affe5" d="M182.1 87.9h0M222.1 104.7h0M190.4 114.2h0M182.6 122.4h0M194.1 124.1h0M234.2 130.4h0M190.5 135.9h0"/>
<path stroke="#33ffcc" d="M202.7 116.5h0M196.5 124.3h0M226.3 136.3h0"/>
<path stroke="#ff9900" d="M227.7 88.9h0M169.8 125.5h0M200.3 129.9h0"/>
<path stroke="#0033ff" d="M198.3 89.9h0M193.5 91.5h0M207.3 97.2h0M209.3 97.6h0M198.6 103.3h0M147.4 101.5h0M152.2 104.6h0M181.9 108.1h0M174.3 109.7h0M231.7 146.6h0M233.8 160.0h0M234.3 163.3h0M172.9 159.5h0M167.4 160.9h0M174.5 162.4h0M182.2 162.8h0M214.2 167.7h0M216.6 168.0h0M219.6 167.3h0M223.6 169.1h0M225.8 169.4h0M232.6 170.0h0M169.7 164.2h0M181.5 164.8h0M183.4 165.4h0M195.5 166.8h0M216.6 170.3h0M225.4 171.3h0M227.9 170.9h0M231.9 172.6h0M161.9 164.6h0M172.1 166.8h0M197.1 170.5h0M199.1 169.6h0M220.8 172.7h0M222.7 173.9h0M161.4 168.0h0M176.7 170.0h0M178.5 169.4h0M209.2 173.4h0M152.4 168.7h0M161.3 169.3h0M203.0 174.8h0M206.0 176.1h0M214.7 176.4h0M156.9 171.7h0M159.1 171.9h0M182.6 175.4h0M212.7 178.6h0M221.3 179.7h0M159.0 173.8h0M175.0 176.0h0M176.9 176.0h0M191.3 178.4h0M193.5 179.0h0M212.1 181.6h0M215.1 181.6h0M163.6 177.2h0M182.3 179.5h0M198.0 181.4h0M207.2 183.5h0M209.2 184.0h0M156.4 178.6h0M167.0 179.5h0M181.4 181.6h0M137.4 178.0h0M141.4 179.2h0M146.3 180.2h0M179.3 183.5h0M192.3 186.3h0M129.8 179.8h0M141.9 181.8h0M152.5 183.4h0M166.8 184.7h0M132.9 189.5h0"/>
<path stroke="#4dffb2" d="M201.4 86.9h0M203.5 87.7h0M222.5 92.0h0M197.1 122.1h0M194.8 136.5h0M206.2 137.4h0M173.1 135.5h0M172.7 138.2h0M159.2 138.7h0M153.8 142.2h0M157.8 142.9h0"/>
<path stroke="#ff6600" d="M163.4 122.9h0M135.6 135.9h0"/>
<path stroke="#ccff33" d="M204.0 85.9h0M224.8 90.0h0M221.8 126.3h0M153.9 123.0h0M179.4 141.6h0M153.5 140.9h0"/>
<path stroke="#99ff66" d="M205.4 87.8h0M209.8 90.9h0M229.8 106.0h0M208.3 126.8h0M191.2 131.2h0M159.7 136.6h0M182.1 141.6h0M142.2 140.6h0"/>
<path stroke="#ffff00" d="M229.7 86.1h0M211.2 121.8h0M219.8 122.4h0M210.6 126.4h0M186.6 139.4h0"/>
<path stroke="#cc0000" d="M155.8 129.0h0"/>
<path stroke="#00ccff" d="M227.3 86.0h0M229.3 112.5h0M205.3 113.8h0M199.3 115.7h0M230.5 120.0h0M189.6 118.4h0M190.1 121.5h0M233.4 126.9h0M199.4 139.7h0M216.2 148.5h0M206.2 152.7h0M136.8 145.0h0"/>
<path stroke="#ff0000" d="M234.7 85.0h0M157.6 131.9h0"/>
<path stroke="#004dff" d="M184.8 92.0h0M209.3 96.2h0M143.2 95.6h0M203.7 103.6h0M210.3 104.7h0M205.9 107.2h0M189.0 107.1h0M148.7 106.5h0M154.6 113.7h0M157.4 114.0h0M226.0 147.0h0M231.9 157.4h0M178.7 153.1h0M220.7 159.3h0M163.4 153.1h0M170.7 155.1h0M179.7 155.2h0M183.2 156.4h0M224.1 161.7h0M163.6 155.5h0M167.9 156.7h0M180.1 157.6h0M187.4 158.7h0M212.5 162.3h0M221.3 163.7h0M151.1 156.7h0M179.3 159.9h0M198.1 162.3h0M205.4 163.2h0M140.1 156.7h0M192.8 164.8h0M196.1 165.5h0M153.3 161.4h0M192.3 167.0h0M202.8 168.7h0M138.6 161.4h0M142.1 161.6h0M204.5 170.9h0M136.2 166.6h0M138.4 167.0h0M141.4 166.6h0M142.7 166.9h0M135.7 168.6h0"/>
<path stroke="#ff8000" d="M188.0 83.8h0M185.6 84.8h0M218.0 124.7h0"/>
<path stroke="#0080ff" d="M172.2 88.7h0M211.3 100.9h0M205.6 108.8h0M219.9 111.0h0M139.7 104.4h0M137.5 116.7h0M226.3 144.7h0M200.6 149.0h0M200.2 151.4h0M204.3 151.3h0M178.6 151.0h0M183.0 151.6h0M197.5 152.9h0M162.3 151.4h0M192.4 155.6h0M205.4 159.4h0M198.9 160.8h0M144.7 157.8h0"/>
<path stroke="#ffcc00" d="M209.0 83.1h0M218.4 132.9h0M146.4 144.0h0"/>
<path stroke="#66ff99" d="M232.6 105.8h0M223.4 118.8h0M232.1 127.5h0M195.1 133.2h0M194.4 138.4h0M208.2 140.5h0M169.7 142.1h0"/>
<path stroke="#00ffff" d="M193.1 111.7h0M225.8 120.9h0M163.9 115.5h0M180.9 129.1h0M220.2 140.0h0M164.2 139.5h0M154.6 149.3h0"/>
<path stroke="#0099ff" d="M213.9 103.0h0M201.8 105.8h0M188.7 109.9h0M200.3 110.6h0M228.2 114.8h0M181.4 110.3h0M178.5 112.5h0M178.3 114.5h0M137.8 113.8h0M140.0 116.9h0M154.1 119.1h0M234.0 138.7h0M209.8 145.6h0M187.9 147.1h0M190.4 147.6h0M176.7 148.6h0M191.0 150.6h0M220.8 155.8h0"/>
<path stroke="#b30000" d="M146.3 138.7h0"/>
<path stroke="#ffb300" d="M206.6 81.5h0M194.6 84.3h0M161.7 122.3h0M219.2 130.7h0M162.6 131.9h0M182.7 136.4h0"/>
<path stroke="#80ff80" d="M205.4 89.8h0M226.7 95.4h0M232.5 108.0h0M171.9 128.8h0M220.6 134.5h0M177.6 138.5h0"/>
<path stroke="#990000" d="M150.8 128.3h0M145.9 129.3h0M150.4 132.5h0"/>
<path stroke="#ff4c00" d="M208.0 88.2h0"/>
<path stroke="#e5ff1a" d="M219.8 89.7h0M214.1 119.2h0M173.2 124.0h0M184.3 130.6h0M182.8 139.9h0"/>
<path stroke="#e50000" d="M233.2 84.0h0M156.7 133.6h0M140.2 133.9h0"/>
<path stroke="#00e5ff" d="M222.6 108.5h0M198.0 112.3h0M231.5 129.6h0M182.6 124.8h0M174.3 145.7h0M165.5 146.0h0"/>
<path stroke="#00b2ff" d="M219.7 109.2h0M209.5 115.2h0M185.3 118.2h0M194.9 121.9h0M224.7 141.0h0M215.5 143.7h0"/>
<path stroke="#ff1a00" d="M140.2 135.3h0"/>
<path stroke="#0066ff" d="M218.8 82.2h0M220.5 85.6h0M186.1 90.0h0M141.6 95.5h0M214.8 108.0h0M142.3 103.7h0M187.2 108.5h0M159.3 115.2h0M150.6 116.7h0M151.5 118.3h0M223.7 147.1h0M216.5 155.4h0M218.8 156.7h0M173.4 152.0h0M222.5 158.6h0M154.1 152.2h0M157.3 152.6h0M210.4 160.4h0M217.9 160.4h0M166.5 156.0h0M134.5 156.7h0M147.1 158.1h0M131.9 164.0h0"/>
<path stroke="#0019ff" d="M201.0 90.1h0M198.9 91.8h0M165.4 89.5h0M177.5 93.9h0M202.4 99.1h0M143.8 93.3h0M199.9 101.4h0M145.0 95.7h0M147.5 98.6h0M151.5 101.6h0M165.6 106.3h0M158.7 107.6h0M233.9 174.2h0M234.2 177.4h0M230.5 183.2h0M149.0 177.0h0M170.2 180.6h0M209.8 186.0h0M216.4 187.1h0M232.2 188.7h0M162.3 182.2h0M176.3 183.6h0M149.9 182.5h0M155.5 182.8h0M162.2 183.4h0M172.1 185.2h0M177.9 185.9h0M189.5 188.5h0M154.9 185.8h0M187.1 189.2h0M192.0 190.3h0M209.1 192.9h0M219.8 193.6h0M222.3 195.2h0M150.3 187.0h0M168.5 189.7h0M205.8 194.6h0M208.8 195.3h0M219.3 196.2h0M221.7 197.4h0M135.5 187.3h0M137.5 187.2h0M179.9 193.0h0M181.6 193.6h0M189.8 194.6h0M198.4 195.9h0M225.9 199.3h0M233.8 200.8h0M146.9 190.8h0M149.5 192.2h0M161.2 192.8h0M189.3 196.4h0M210.3 199.3h0M214.8 200.8h0M233.5 202.4h0M127.8 191.9h0M140.2 193.2h0M156.7 194.6h0M195.2 200.2h0M132.9 194.6h0M144.5 196.5h0M146.8 196.0h0M151.0 196.3h0M172.6 200.0h0M191.3 202.2h0M192.9 201.9h0M199.8 204.0h0M201.9 203.4h0M143.6 198.7h0M148.7 198.9h0M159.5 200.5h0M178.6 202.8h0M187.5 204.2h0M196.9 204.9h0M216.1 208.4h0M217.9 207.7h0M127.0 197.8h0M144.0 200.9h0M152.2 201.8h0M159.5 202.5h0M173.7 203.9h0M195.3 207.1h0M211.1 209.2h0M225.3 211.8h0M138.0 201.8h0M149.6 203.7h0M180.8 208.3h0M184.4 208.2h0M194.2 210.0h0M201.0 211.3h0M219.4 213.0h0M131.2 203.8h0M135.3 204.6h0M147.8 205.6h0M149.4 205.5h0M188.9 211.1h0M205.7 213.8h0M131.2 205.9h0M135.0 206.7h0M140.4 206.7h0M163.3 209.8h0M187.1 213.4h0M130.2 208.1h0M137.1 209.5h0M139.6 209.8h0M149.6 210.5h0M126.1 210.2h0M141.7 212.1h0M146.3 212.7h0M124.5 212.5h0M129.5 213.3h0"/>
<path stroke="#0000ff" d="M185.6 94.5h0M198.2 96.9h0M160.3 93.6h0M181.2 97.0h0M195.8 97.9h0M198.1 98.1h0M165.1 96.5h0M166.9 97.6h0M186.2 99.6h0M195.2 101.0h0M196.8 100.8h0M160.1 97.8h0M191.6 102.0h0M154.5 99.7h0M159.5 100.4h0M171.1 102.3h0M175.7 104.8h0M162.8 198.5h0M166.9 203.5h0M172.7 209.6h0M191.1 211.3h0M213.2 213.9h0M158.3 209.4h0M146.5 210.6h0M151.6 211.2h0M153.2 211.1h0M160.4 212.3h0M144.7 213.1h0M148.6 212.6h0M134.7 213.3h0"/>
<path stroke="#ffe500" d="M217.8 92.0h0M205.8 128.6h0M212.5 131.6h0M223.1 133.0h0"/>
</g>
<g stroke-width="5.8">
<path stroke="#4dffb2" d="M192.9 77.2h0"/>
<path stroke="#0099ff" d="M144.5 75.8h0"/>
<path stroke="#1affe5" d="M189.8 77.8h0"/>
</g>
</g>
<use href="#usmap" clip-path="url(#fc)"/>
</g>
<rect x="862.5" y="485.5" width="23" height="215" fill="url(#jet)" stroke="#262626" stroke-width="1"/>
<path d="M885.5 593h-3" stroke="#262626" stroke-width="1" fill="none"/>
<text class="c" x="893.6" y="493.1">100</text>
<text class="c" x="893.6" y="600.4">50</text>
<text class="c" x="893.6" y="707.9">0</text>
<text class="t"><tspan x="566.8" y="502.8">48</tspan><tspan class="d" x="586.4" y="495.2">° </tspan><tspan x="596.1" y="502.8">N</tspan></text>
<text class="t"><tspan x="566.8" y="520.4">46</tspan><tspan class="d" x="586.4" y="512.8">° </tspan><tspan x="596.1" y="520.4">N</tspan></text>
<text class="t"><tspan x="566.8" y="537.7">44</tspan><tspan class="d" x="586.4" y="530.1">° </tspan><tspan x="596.1" y="537.7">N</tspan></text>
<text class="t"><tspan x="566.8" y="556.7">42</tspan><tspan class="d" x="586.4" y="549.1">° </tspan><tspan x="596.1" y="556.7">N</tspan></text>
<text class="t"><tspan x="566.8" y="572.7">40</tspan><tspan class="d" x="586.4" y="565.1">° </tspan><tspan x="596.1" y="572.7">N</tspan></text>
<text class="t"><tspan x="566.8" y="587.6">38</tspan><tspan class="d" x="586.4" y="580.0">° </tspan><tspan x="596.1" y="587.6">N</tspan></text>
<text class="t"><tspan x="566.8" y="604.3">36</tspan><tspan class="d" x="586.4" y="596.7">° </tspan><tspan x="596.1" y="604.3">N</tspan></text>
<text class="t"><tspan x="566.8" y="618.6">34</tspan><tspan class="d" x="586.4" y="611.0">° </tspan><tspan x="596.1" y="618.6">N</tspan></text>
<text class="t"><tspan x="566.8" y="635.6">32</tspan><tspan class="d" x="586.4" y="628.0">° </tspan><tspan x="596.1" y="635.6">N</tspan></text>
<text class="t"><tspan x="566.8" y="649.3">30</tspan><tspan class="d" x="586.4" y="641.7">° </tspan><tspan x="596.1" y="649.3">N</tspan></text>
<text class="t"><tspan x="566.8" y="662.7">28</tspan><tspan class="d" x="586.4" y="655.1">° </tspan><tspan x="596.1" y="662.7">N</tspan></text>
<text class="t"><tspan x="566.8" y="677.7">26</tspan><tspan class="d" x="586.4" y="670.1">° </tspan><tspan x="596.1" y="677.7">N</tspan></text>
<text class="t"><tspan x="566.8" y="691.8">24</tspan><tspan class="d" x="586.4" y="684.2">° </tspan><tspan x="596.1" y="691.8">N</tspan></text>
<text class="t"><tspan x="566.8" y="704.5">22</tspan><tspan class="d" x="586.4" y="696.9">° </tspan><tspan x="596.1" y="704.5">N</tspan></text>
<text class="w"><tspan x="636.4" y="467.0">100</tspan><tspan class="d" x="663.4" y="460.3">° </tspan><tspan x="673.9" y="467.0">W</tspan></text>
<text class="w"><tspan x="705.0" y="467.0">90</tspan><tspan class="d" x="723.4" y="460.3">° </tspan><tspan x="733.9" y="467.0">W</tspan></text>
<text class="w"><tspan x="769.5" y="467.0">80</tspan><tspan class="d" x="787.9" y="460.3">° </tspan><tspan x="798.4" y="467.0">W</tspan></text>
<text class="w"><tspan x="832.0" y="467.0">70</tspan><tspan class="d" x="850.4" y="460.3">° </tspan><tspan x="860.9" y="467.0">W</tspan></text>
<text class="l" x="560.6" y="731.2">SAT 350 hPa RH (Percent)</text>
</g>
<g>
<rect x="1037.5" y="485.5" width="235" height="215" fill="#fff" stroke="#1a1a1a" stroke-width="1"/>
<g transform="translate(1037.5 485.5) scale(1.00427 1.00939)">
<g fill="none" stroke-linecap="round">
<g stroke-width="5.8">
<path stroke="#00b2ff" d="M175.8 86.9h0M162.2 88.4h0M165.3 88.9h0M168.6 89.3h0M171.5 89.3h0M174.8 90.1h0M158.3 90.8h0M161.7 91.5h0M184.5 94.7h0M194.0 96.2h0M157.8 94.1h0M160.9 94.6h0M187.3 98.1h0M193.8 99.3h0M197.1 99.7h0M203.7 100.5h0M193.3 102.6h0M196.7 102.8h0M199.7 103.5h0M196.0 106.5h0M189.0 108.4h0M139.5 105.3h0M139.1 108.6h0M142.3 108.7h0M139.1 111.6h0M145.3 112.7h0M184.9 118.1h0M187.8 118.3h0M191.1 118.7h0M138.2 114.8h0M141.6 115.3h0M190.8 122.4h0M194.1 122.3h0M196.6 126.1h0M199.6 129.8h0M205.6 134.1h0M156.2 130.5h0M182.3 134.4h0M218.3 139.0h0M164.8 142.1h0M160.7 144.7h0M139.4 155.3h0M146.0 155.8h0M234.0 135.1h0"/>
<path stroke="#b3ff4c" d="M189.0 85.2h0M195.4 89.3h0M213.6 101.8h0M228.3 114.0h0M231.1 117.5h0M204.8 117.4h0M231.0 121.1h0M210.0 128.2h0M219.3 132.3h0M163.0 131.8h0M141.1 145.4h0M234.0 115.9h0"/>
<path stroke="#66ff99" d="M215.8 82.1h0M191.5 89.2h0M209.7 104.9h0M215.9 105.8h0M206.0 107.3h0M212.8 108.4h0M222.1 110.0h0M215.3 112.2h0M218.3 112.4h0M201.6 113.5h0M201.4 116.9h0M203.8 124.0h0M206.7 127.7h0M229.6 130.4h0M215.7 132.1h0M172.7 132.9h0M165.3 135.4h0M135.5 134.7h0M145.1 139.1h0M134.6 141.2h0M141.2 142.0h0M140.3 148.3h0M140.3 151.9h0"/>
<path stroke="#ff3300" d="M231.4 90.9h0M208.4 90.9h0M144.1 145.7h0M234.0 94.3h0M234.0 106.3h0"/>
<path stroke="#ff9900" d="M231.9 87.7h0M218.2 89.1h0M210.8 94.9h0M213.7 98.7h0M220.2 102.7h0M223.5 123.2h0M220.2 126.4h0M144.6 142.8h0M150.6 146.5h0"/>
<path stroke="#4dffb2" d="M188.3 88.8h0M209.9 101.5h0M216.0 108.7h0M219.1 109.1h0M202.2 110.6h0M200.7 120.2h0M233.3 127.5h0M212.7 131.6h0M225.9 133.2h0M169.6 129.5h0M139.5 131.6h0M168.7 135.6h0M178.3 140.3h0M137.7 145.1h0M153.8 147.1h0M137.1 148.4h0M234.0 127.9h0"/>
<path stroke="#0066ff" d="M170.8 96.1h0M174.3 96.6h0M177.4 96.9h0M180.8 97.2h0M166.9 98.6h0M160.1 101.2h0M163.2 102.0h0M186.6 105.1h0M149.9 103.3h0M153.0 103.7h0M182.8 107.8h0M149.2 106.4h0M165.9 109.0h0M152.4 109.9h0M159.0 111.4h0M152.1 113.4h0M155.1 114.1h0M158.5 114.6h0M157.8 120.6h0M177.0 123.8h0M156.9 127.6h0M186.2 131.4h0M189.1 131.9h0M153.2 130.0h0M185.6 134.7h0M188.9 135.5h0M192.1 135.8h0M195.6 136.0h0M198.5 136.5h0M231.1 141.1h0M188.3 138.7h0M191.6 139.1h0M195.2 139.6h0M198.2 139.7h0M201.4 140.2h0M205.0 140.5h0M224.5 143.4h0M228.0 143.8h0M184.9 141.4h0M204.3 144.0h0M207.8 144.3h0M210.8 145.0h0M214.2 145.3h0M217.7 145.5h0M220.7 146.2h0M167.4 145.3h0M163.8 148.7h0M159.5 154.6h0M208.9 161.1h0M212.1 161.7h0M215.5 162.3h0M185.3 161.5h0M188.6 162.0h0M191.7 162.3h0M194.9 162.9h0M198.2 163.0h0M202.0 163.7h0M234.0 139.9h0M234.0 142.3h0"/>
<path stroke="#cc0000" d="M221.2 93.0h0M224.6 93.4h0M217.6 95.9h0M221.1 96.3h0M224.3 96.5h0M227.1 97.3h0"/>
<path stroke="#e50000" d="M205.8 83.9h0M208.8 84.8h0M221.5 89.7h0M225.1 90.1h0M227.8 93.7h0M230.3 97.8h0M227.2 100.2h0M230.1 100.7h0M233.8 101.3h0M234.0 101.5h0"/>
<path stroke="#ffff00" d="M213.0 82.1h0M215.5 85.8h0M216.7 102.1h0M218.4 115.7h0M221.4 116.1h0M224.5 116.4h0M208.1 118.0h0M227.8 120.3h0M226.6 127.1h0M213.2 128.2h0M149.0 136.6h0M154.9 140.8h0"/>
<path stroke="#ccff33" d="M219.1 85.7h0M198.6 89.6h0M231.6 114.6h0M208.5 114.3h0M230.2 124.3h0M207.2 124.0h0"/>
<path stroke="#ff1a00" d="M202.4 83.4h0M212.1 85.2h0M222.0 86.7h0M211.7 88.4h0M228.1 90.4h0M211.5 91.5h0M214.3 95.5h0M220.5 99.7h0M229.7 104.1h0"/>
<path stroke="#ffb300" d="M219.4 82.6h0M228.9 87.5h0M198.5 86.6h0M215.4 88.7h0M211.1 118.4h0M224.4 120.1h0M211.0 121.7h0M223.4 126.3h0M152.1 137.0h0M234.0 87.1h0"/>
<path stroke="#0099ff" d="M164.8 91.7h0M167.8 92.1h0M171.1 92.7h0M174.4 93.0h0M178.0 93.8h0M181.4 94.0h0M197.3 96.3h0M204.1 97.0h0M151.4 93.2h0M154.3 93.8h0M164.1 95.0h0M200.1 100.3h0M141.2 95.5h0M154.2 97.1h0M157.2 97.8h0M160.5 97.8h0M187.1 101.5h0M140.5 98.4h0M192.8 105.5h0M140.2 102.0h0M143.2 102.6h0M186.1 108.2h0M143.1 105.5h0M145.6 109.2h0M144.8 116.0h0M148.2 116.1h0M151.5 117.1h0M154.6 117.4h0M177.8 120.3h0M180.6 121.0h0M183.9 121.3h0M187.5 121.7h0M137.8 118.3h0M141.0 118.9h0M186.9 125.2h0M190.5 125.4h0M193.7 126.1h0M193.3 129.1h0M196.1 129.7h0M179.3 130.9h0M199.1 133.1h0M202.6 133.7h0M232.0 137.8h0M205.3 137.3h0M208.5 137.8h0M212.0 138.4h0M215.3 138.8h0M221.7 139.7h0M224.6 139.8h0M168.1 138.9h0M171.5 139.7h0M177.7 143.8h0M164.1 145.1h0M160.5 147.8h0M160.2 151.5h0M156.6 154.1h0M136.5 154.9h0"/>
<path stroke="#ff4c00" d="M199.4 83.5h0M225.5 86.8h0M205.1 87.5h0M217.4 99.0h0M226.4 103.9h0M232.6 107.8h0M214.5 118.4h0M217.6 119.2h0M213.8 122.2h0M217.6 122.1h0M213.3 125.3h0M216.9 125.5h0M151.8 140.2h0M147.8 142.7h0M147.6 146.5h0"/>
<path stroke="#0019ff" d="M163.8 122.0h0M157.3 124.3h0M160.6 124.8h0M163.6 124.8h0M166.7 125.3h0M189.8 152.2h0M193.2 152.5h0M186.4 154.9h0M189.5 155.5h0M193.0 155.5h0M196.3 156.4h0M199.2 156.7h0M202.5 156.8h0M169.6 155.9h0M172.8 156.3h0M176.2 156.7h0M179.2 157.2h0M182.8 157.6h0M185.6 158.3h0M188.8 158.4h0M192.4 159.0h0M159.1 157.8h0M162.2 158.2h0M165.5 158.7h0M139.3 158.6h0M142.5 158.6h0M145.8 159.3h0M148.7 160.0h0M152.4 160.3h0M155.5 160.4h0M145.5 162.8h0M148.8 162.9h0M151.7 163.3h0M154.8 164.0h0M148.3 166.1h0M151.3 166.8h0M154.5 166.9h0M158.0 167.5h0M150.9 169.9h0M154.3 170.3h0M157.7 170.9h0M160.5 171.5h0M163.8 171.7h0M167.4 172.2h0M170.6 172.8h0M232.4 181.3h0M154.0 173.6h0M156.8 174.0h0M160.4 174.6h0M163.5 175.2h0M166.8 175.5h0M170.1 176.1h0M173.6 176.2h0M176.9 176.7h0M218.8 182.8h0M222.6 183.2h0M225.6 183.2h0M228.7 184.1h0M232.4 184.5h0M156.7 177.2h0M159.9 177.9h0M162.9 178.1h0M166.5 178.6h0M169.4 179.4h0M173.0 179.7h0M175.9 180.3h0M179.6 180.5h0M182.5 181.2h0M185.9 181.4h0M195.6 182.5h0M199.0 183.3h0M202.2 183.5h0M205.8 184.3h0M208.9 184.5h0M212.2 185.0h0M215.4 185.3h0M219.0 185.5h0M221.9 186.1h0M225.5 186.8h0M228.7 187.2h0M231.7 187.4h0M159.5 181.4h0M162.9 181.3h0M166.0 182.3h0M169.1 182.4h0M172.7 182.9h0M176.0 183.5h0M178.9 183.9h0M182.5 184.0h0M185.5 184.7h0M188.7 184.8h0M192.3 185.4h0M195.5 185.9h0M198.9 186.4h0M201.7 187.1h0M205.0 187.5h0M208.1 187.5h0M211.6 188.5h0M215.2 188.7h0M218.1 188.8h0M221.3 189.6h0M225.0 190.1h0M228.2 190.2h0M231.4 190.9h0M169.0 185.8h0M171.9 186.2h0M175.4 186.4h0M178.7 186.9h0M181.8 187.5h0M185.1 188.2h0M188.5 188.4h0M191.9 188.6h0M194.8 189.1h0M198.1 189.7h0M201.7 189.9h0M204.5 190.8h0M207.7 190.9h0M211.1 191.3h0M214.5 191.9h0M218.0 192.3h0M220.9 193.1h0M224.6 193.3h0M227.5 193.4h0M230.7 194.3h0M234.0 194.8h0M174.9 190.1h0M178.2 190.4h0M181.3 190.6h0M184.5 191.2h0M188.0 191.8h0M191.0 192.2h0M194.8 192.4h0M197.9 192.8h0M201.0 193.4h0M204.5 193.9h0M207.6 194.3h0M210.9 194.7h0M214.2 195.3h0M217.1 195.6h0M220.4 196.3h0M223.7 196.2h0M227.0 197.2h0M230.6 197.7h0M233.4 197.9h0M180.9 193.8h0M184.3 194.2h0M187.3 194.7h0M191.0 195.3h0M194.2 195.7h0M197.3 196.1h0M200.4 196.4h0M204.0 197.4h0M207.3 197.7h0M210.3 198.1h0M213.8 198.7h0M217.0 199.0h0M220.0 199.6h0M223.6 199.9h0M226.4 200.2h0M229.9 200.4h0M233.1 201.1h0M200.1 199.7h0M206.7 200.9h0M210.1 201.6h0M213.4 202.0h0M216.8 202.4h0M219.6 202.7h0M222.8 203.1h0M226.3 203.5h0M229.4 204.1h0M234.0 180.7h0M234.0 183.1h0M234.0 185.5h0M234.0 187.9h0M234.0 190.3h0M234.0 192.7h0M234.0 195.1h0M234.0 197.5h0M234.0 199.9h0M234.0 202.3h0"/>
<path stroke="#0000ff" d="M132.4 161.0h0M135.5 161.2h0M138.4 161.4h0M142.0 162.3h0M131.9 164.0h0M135.1 164.6h0M138.1 164.7h0M141.6 165.5h0M144.9 166.0h0M131.3 167.5h0M134.3 167.9h0M137.6 168.1h0M141.0 168.4h0M144.1 169.3h0M147.8 169.8h0M130.9 170.6h0M134.3 171.1h0M137.3 171.4h0M140.4 171.9h0M143.6 172.3h0M146.9 172.8h0M150.3 173.5h0M130.6 173.6h0M133.5 174.2h0M136.7 174.8h0M140.2 175.0h0M143.4 175.8h0M146.9 176.0h0M150.0 176.5h0M153.5 176.7h0M130.2 177.3h0M133.0 177.5h0M136.7 177.9h0M139.7 178.5h0M142.8 178.8h0M146.6 179.1h0M149.6 180.0h0M153.1 180.5h0M156.1 180.5h0M129.4 180.7h0M133.0 180.7h0M136.2 181.1h0M139.1 181.7h0M142.4 182.0h0M145.9 182.7h0M149.4 183.3h0M152.2 183.8h0M155.4 184.1h0M159.2 184.6h0M162.5 184.8h0M165.5 185.6h0M129.2 183.5h0M132.3 184.0h0M135.6 184.6h0M138.6 185.0h0M142.2 185.2h0M145.6 185.8h0M148.7 186.4h0M151.8 187.0h0M155.2 187.0h0M158.3 187.4h0M161.5 188.3h0M165.0 188.5h0M168.4 189.1h0M171.5 189.7h0M128.3 186.7h0M132.0 187.3h0M135.2 187.7h0M138.6 188.4h0M141.8 188.9h0M145.3 189.3h0M148.2 189.3h0M151.6 190.3h0M154.7 190.7h0M158.1 190.8h0M161.1 191.4h0M164.7 191.7h0M167.6 192.3h0M171.2 192.8h0M174.3 192.9h0M177.5 193.5h0M128.3 190.0h0M131.2 190.5h0M134.5 191.1h0M138.1 191.5h0M141.4 192.1h0M144.8 192.4h0M147.7 192.9h0M151.0 193.1h0M154.2 193.6h0M157.5 194.4h0M160.9 194.4h0M163.9 194.8h0M167.6 195.3h0M170.7 195.7h0M173.8 196.1h0M177.5 196.6h0M180.8 197.5h0M183.9 197.5h0M187.3 198.3h0M190.5 198.8h0M193.7 198.9h0M196.9 199.4h0M203.4 200.6h0M232.7 204.3h0M127.9 193.6h0M130.8 193.9h0M134.4 194.3h0M137.6 195.1h0M140.8 195.1h0M144.0 196.0h0M147.1 196.1h0M150.5 196.3h0M154.0 196.8h0M157.4 197.6h0M160.3 198.2h0M163.6 198.6h0M167.0 198.9h0M170.4 199.2h0M173.8 200.0h0M177.0 200.1h0M180.3 200.8h0M183.1 201.2h0M186.5 201.6h0M189.8 201.8h0M193.2 202.1h0M196.5 202.8h0M199.8 203.0h0M203.1 203.8h0M206.5 203.9h0M209.4 204.8h0M212.7 204.9h0M216.1 205.2h0M219.6 205.9h0M222.4 206.4h0M226.1 207.0h0M229.3 207.1h0M232.6 207.5h0M127.3 197.0h0M130.4 197.5h0M133.7 197.6h0M137.3 197.9h0M140.3 198.4h0M143.4 199.1h0M146.7 199.6h0M150.4 199.9h0M153.6 200.2h0M156.6 201.0h0M160.2 201.5h0M163.5 201.8h0M166.7 202.4h0M169.9 202.4h0M173.2 203.1h0M176.3 203.6h0M179.4 204.1h0M183.1 204.6h0M186.3 204.9h0M189.6 205.2h0M192.9 205.5h0M195.8 206.3h0M199.5 206.3h0M202.4 206.7h0M205.7 207.4h0M209.2 207.8h0M212.2 208.5h0M215.6 208.8h0M218.9 209.1h0M221.9 209.3h0M225.6 210.2h0M228.4 210.5h0M232.0 210.8h0M127.1 199.8h0M130.4 200.7h0M133.5 201.2h0M136.5 201.4h0M139.8 201.6h0M143.3 202.5h0M146.6 202.5h0M149.9 203.0h0M153.3 203.6h0M156.4 203.8h0M159.8 204.7h0M162.8 204.8h0M166.0 205.5h0M169.5 205.8h0M172.6 206.2h0M175.7 206.4h0M178.9 207.4h0M182.6 207.5h0M185.9 208.2h0M189.2 208.5h0M192.6 209.2h0M195.7 209.1h0M198.5 209.7h0M202.0 210.0h0M205.6 210.7h0M208.5 210.8h0M211.8 211.7h0M214.9 211.7h0M218.7 212.7h0M221.6 212.9h0M126.3 203.0h0M129.4 204.0h0M132.7 204.0h0M136.2 204.5h0M139.6 205.1h0M142.7 205.6h0M146.3 205.9h0M149.3 206.3h0M152.7 206.7h0M155.6 207.5h0M159.3 207.9h0M162.1 208.0h0M165.7 208.5h0M168.9 209.3h0M172.4 209.6h0M175.6 209.7h0M178.8 210.3h0M182.1 210.9h0M185.4 211.2h0M188.6 211.5h0M191.9 212.2h0M195.2 212.5h0M198.6 213.0h0M126.1 206.7h0M129.3 207.0h0M132.6 207.6h0M135.9 207.8h0M139.0 208.6h0M142.4 209.0h0M145.4 209.3h0M149.0 209.7h0M152.0 210.3h0M155.3 210.5h0M158.5 211.2h0M161.8 211.2h0M165.1 211.6h0M168.5 212.2h0M171.6 212.9h0M125.5 210.0h0M129.1 210.3h0M131.9 210.6h0M135.2 211.4h0M138.5 211.7h0M141.6 211.8h0M145.4 212.8h0M148.7 212.8h0M125.0 212.8h0M234.0 204.7h0M234.0 207.1h0M234.0 209.5h0M234.0 211.9h0M125.1 213.0h0M127.5 213.0h0M129.9 213.0h0M132.3 213.0h0M134.7 213.0h0M137.1 213.0h0M139.5 213.0h0M141.9 213.0h0M144.3 213.0h0M146.7 213.0h0M149.1 213.0h0M151.5 213.0h0M153.9 213.0h0M156.3 213.0h0M158.7 213.0h0M161.1 213.0h0M163.5 213.0h0M165.9 213.0h0M168.3 213.0h0M170.7 213.0h0M173.1 213.0h0M175.5 213.0h0M177.9 213.0h0M180.3 213.0h0M182.7 213.0h0M185.1 213.0h0M187.5 213.0h0M189.9 213.0h0M192.3 213.0h0M194.7 213.0h0M197.1 213.0h0M199.5 213.0h0M201.9 213.0h0M204.3 213.0h0M206.7 213.0h0M209.1 213.0h0M211.5 213.0h0M213.9 213.0h0M216.3 213.0h0M218.7 213.0h0M221.1 213.0h0M223.5 213.0h0M225.9 213.0h0M228.3 213.0h0M230.7 213.0h0M233.1 213.0h0"/>
<path stroke="#80ff80" d="M179.5 84.0h0M213.1 105.2h0M205.4 111.0h0M211.8 111.8h0M221.9 112.8h0M225.2 113.2h0M233.5 124.7h0M222.5 132.9h0M136.2 131.2h0M162.1 135.0h0M178.5 137.0h0M161.9 138.1h0M158.2 141.1h0M154.2 144.0h0M146.6 152.7h0M234.0 120.7h0M234.0 123.1h0M234.0 125.5h0"/>
<path stroke="#004dff" d="M170.5 99.4h0M173.7 100.1h0M177.0 100.1h0M180.5 100.5h0M183.2 101.0h0M166.8 102.3h0M170.1 102.6h0M173.3 102.8h0M156.4 104.2h0M159.9 104.3h0M162.8 105.3h0M179.1 107.5h0M152.9 107.2h0M159.6 107.9h0M162.5 108.0h0M155.8 110.8h0M168.0 118.8h0M231.1 143.9h0M187.8 141.7h0M191.0 141.9h0M194.7 142.4h0M197.7 143.3h0M200.9 143.4h0M223.9 146.3h0M227.1 146.9h0M230.6 147.7h0M233.7 147.8h0M184.2 144.4h0M200.5 146.6h0M204.1 147.0h0M207.5 147.4h0M210.2 147.9h0M213.9 148.3h0M216.8 149.2h0M220.1 149.5h0M223.4 150.1h0M226.8 150.5h0M230.1 150.5h0M233.3 151.1h0M170.8 146.2h0M174.3 146.4h0M177.1 147.0h0M180.8 147.6h0M206.9 151.0h0M210.1 151.6h0M213.1 151.6h0M216.5 152.1h0M219.7 152.8h0M223.0 153.4h0M226.2 153.3h0M229.9 154.0h0M233.1 154.5h0M167.3 149.0h0M170.5 149.6h0M212.9 155.4h0M216.2 155.6h0M163.5 151.9h0M219.2 159.2h0M222.0 159.7h0M225.8 160.4h0M228.8 160.3h0M232.0 160.7h0M198.8 160.1h0M202.1 160.4h0M205.2 160.9h0M218.3 162.3h0M222.0 163.0h0M224.8 163.4h0M228.1 163.8h0M231.7 164.5h0M152.9 157.1h0M179.1 160.4h0M181.9 160.9h0M204.9 164.1h0M208.5 164.2h0M211.7 164.8h0M215.1 165.3h0M218.1 165.8h0M221.3 166.4h0M224.4 166.9h0M227.8 166.9h0M231.4 167.3h0M171.6 162.7h0M174.9 163.5h0M178.1 163.8h0M181.6 164.4h0M185.0 164.4h0M187.9 165.3h0M191.6 165.4h0M195.0 165.7h0M197.9 166.6h0M201.5 166.7h0M204.8 167.4h0M208.1 167.5h0M211.1 167.9h0M214.2 168.4h0M217.8 168.9h0M220.7 169.6h0M181.2 167.7h0M184.3 167.6h0M187.7 168.1h0M190.8 168.8h0M194.2 169.4h0M197.6 169.9h0M201.0 170.1h0M203.9 170.4h0M207.1 170.7h0M210.8 171.4h0M213.9 171.9h0M187.6 171.6h0M190.7 171.9h0M234.0 144.7h0M234.0 147.1h0M234.0 149.5h0M234.0 151.9h0M234.0 154.3h0M234.0 161.5h0M234.0 163.9h0M234.0 166.3h0"/>
<path stroke="#00ccff" d="M172.4 86.4h0M178.9 87.3h0M178.4 90.2h0M187.4 95.3h0M190.9 95.3h0M207.3 97.7h0M190.3 98.7h0M190.0 101.9h0M199.7 106.5h0M141.9 112.1h0M181.1 117.5h0M194.3 119.1h0M197.3 123.2h0M202.7 130.6h0M232.5 134.5h0M163.0 128.1h0M176.3 129.9h0M209.1 134.7h0M228.7 137.1h0M174.8 140.2h0M157.3 147.6h0M157.1 150.7h0"/>
<path stroke="#ffcc00" d="M232.3 84.3h0M226.1 106.7h0M210.2 124.7h0M143.6 148.8h0M147.0 149.2h0M234.0 84.7h0M234.0 111.1h0"/>
<path stroke="#e5ff1a" d="M226.1 83.6h0M228.9 84.1h0M192.3 85.4h0M201.4 90.0h0M210.6 98.2h0M228.7 110.4h0M211.8 114.9h0M228.1 117.3h0M207.3 121.0h0M222.6 129.7h0M169.5 132.3h0M134.3 144.2h0M150.0 149.7h0M234.0 113.5h0"/>
<path stroke="#00e5ff" d="M169.0 85.7h0M181.8 87.7h0M181.6 90.7h0M185.0 91.5h0M203.2 103.8h0M192.2 109.1h0M225.3 136.9h0M146.1 132.8h0M133.7 151.0h0M152.9 153.6h0M142.9 155.3h0M234.0 132.7h0"/>
<path stroke="#1affe5" d="M185.0 88.0h0M198.1 93.3h0M204.5 94.2h0M198.8 109.7h0M198.0 116.7h0M232.7 131.2h0M209.2 131.2h0M228.8 133.7h0M166.2 128.7h0M172.9 130.0h0M218.8 135.8h0M159.7 131.0h0M176.1 133.3h0M142.6 132.1h0M175.5 136.9h0M142.1 135.3h0M135.4 137.6h0M138.4 138.6h0M142.0 138.8h0M161.3 141.5h0M138.1 141.7h0M137.0 151.2h0M234.0 130.3h0"/>
<path stroke="#ff8000" d="M222.6 82.9h0M201.9 86.9h0M223.1 103.3h0M221.1 119.6h0M220.8 122.6h0M148.4 139.4h0M151.3 143.4h0M234.0 89.5h0M234.0 108.7h0"/>
<path stroke="#ff0000" d="M202.9 80.7h0M206.5 80.9h0M209.6 81.5h0M208.6 87.7h0M217.8 92.8h0M230.9 94.5h0M233.9 97.7h0M223.5 99.8h0M232.9 104.6h0M234.0 96.7h0M234.0 99.1h0M234.0 103.9h0"/>
<path stroke="#0033ff" d="M176.3 103.5h0M179.8 103.7h0M182.9 104.3h0M166.1 105.6h0M169.7 106.1h0M172.5 106.4h0M176.3 106.5h0M156.3 107.7h0M161.5 118.4h0M164.7 118.4h0M161.0 121.3h0M167.3 122.0h0M153.6 123.7h0M153.5 126.9h0M187.4 145.0h0M191.1 145.4h0M194.0 145.8h0M197.3 146.1h0M184.1 147.9h0M186.9 148.1h0M190.5 148.4h0M193.5 148.9h0M197.2 149.6h0M200.1 150.1h0M203.5 150.4h0M173.8 149.7h0M176.9 150.4h0M180.4 150.3h0M183.4 151.0h0M186.9 151.2h0M196.6 152.7h0M199.8 153.1h0M202.9 154.0h0M206.6 154.3h0M209.7 154.8h0M219.6 156.1h0M222.4 156.1h0M225.7 156.9h0M229.3 157.0h0M232.3 158.0h0M166.9 152.3h0M170.1 152.8h0M173.1 153.1h0M176.6 153.2h0M179.5 154.0h0M182.9 154.1h0M205.8 157.7h0M209.3 157.7h0M212.7 158.1h0M215.6 158.9h0M162.8 154.8h0M166.3 155.5h0M195.9 159.7h0M156.0 157.3h0M169.2 159.4h0M172.5 159.5h0M175.3 160.1h0M132.4 157.6h0M136.0 158.2h0M158.8 160.8h0M161.8 161.2h0M165.3 162.0h0M168.6 162.4h0M223.9 169.8h0M227.4 170.4h0M230.7 171.1h0M234.1 171.0h0M158.3 164.5h0M161.5 164.8h0M164.9 165.2h0M168.1 165.9h0M171.6 166.2h0M174.8 166.4h0M177.9 167.1h0M217.3 172.4h0M220.2 172.5h0M223.7 173.1h0M227.1 173.5h0M230.5 174.2h0M233.7 174.6h0M161.3 168.2h0M164.4 168.5h0M167.6 169.0h0M170.7 169.1h0M174.5 169.6h0M177.8 170.5h0M180.7 170.6h0M183.8 171.3h0M193.8 172.6h0M197.0 172.8h0M200.4 173.2h0M203.7 174.0h0M207.1 174.3h0M210.5 175.0h0M213.2 175.2h0M216.5 175.5h0M220.0 175.9h0M223.3 176.4h0M226.8 176.9h0M229.6 177.3h0M233.3 177.7h0M173.6 173.2h0M176.9 173.5h0M180.5 173.9h0M183.7 174.1h0M187.0 174.8h0M190.3 175.1h0M193.5 176.0h0M196.9 176.1h0M200.2 176.3h0M203.5 177.0h0M206.6 177.4h0M209.8 178.1h0M212.9 178.3h0M216.6 178.7h0M219.3 179.6h0M222.9 179.8h0M226.4 180.0h0M229.3 180.4h0M179.9 177.1h0M183.3 177.7h0M186.6 178.2h0M189.4 178.4h0M192.9 179.0h0M196.4 179.5h0M199.4 180.0h0M202.9 180.5h0M206.1 180.5h0M209.6 180.9h0M212.5 181.7h0M215.6 181.8h0M189.1 182.1h0M192.8 182.1h0M234.0 156.7h0M234.0 159.1h0M234.0 168.7h0M234.0 171.1h0M234.0 173.5h0M234.0 175.9h0M234.0 178.3h0"/>
<path stroke="#00ffff" d="M187.9 92.1h0M206.8 101.0h0M202.9 106.8h0M195.8 109.7h0M188.1 114.9h0M191.4 115.4h0M194.8 116.0h0M197.9 119.4h0M200.3 126.6h0M206.0 130.9h0M212.5 135.0h0M215.5 135.3h0M222.3 136.4h0M179.0 133.8h0M149.1 133.3h0M152.7 133.4h0M172.1 136.1h0M164.8 138.9h0M181.4 140.8h0M157.5 144.4h0"/>
<path stroke="#33ffcc" d="M191.5 92.0h0M194.6 92.5h0M201.0 93.4h0M206.2 104.5h0M188.4 111.7h0M191.8 112.0h0M195.5 112.6h0M198.3 113.3h0M200.7 123.4h0M203.6 127.3h0M181.9 137.8h0M139.1 135.0h0M145.6 135.9h0M153.7 150.5h0M149.7 153.1h0"/>
<path stroke="#0080ff" d="M200.8 96.7h0M167.3 95.5h0M183.8 97.6h0M144.6 96.0h0M147.4 96.4h0M150.7 97.0h0M164.1 98.2h0M143.8 98.9h0M146.9 99.5h0M150.5 100.1h0M153.5 100.6h0M156.9 100.8h0M189.3 105.2h0M146.4 103.1h0M146.4 105.8h0M169.3 109.2h0M149.3 109.6h0M148.9 113.0h0M157.9 117.8h0M150.9 119.9h0M154.2 120.3h0M180.2 123.8h0M183.7 124.6h0M176.5 126.9h0M179.8 127.5h0M183.3 127.7h0M186.4 128.3h0M189.7 128.5h0M159.9 127.8h0M182.6 131.1h0M192.6 132.3h0M195.7 132.6h0M202.0 136.8h0M228.4 140.3h0M185.0 137.8h0M208.4 141.3h0M211.2 141.4h0M214.7 141.8h0M217.6 142.3h0M221.1 142.7h0M168.2 142.2h0M171.0 142.9h0M174.7 142.9h0M181.3 143.9h0M133.2 154.5h0M149.4 156.5h0M234.0 137.5h0"/>
<path stroke="#ffe500" d="M195.3 86.1h0M204.6 90.4h0M232.3 111.2h0M214.9 115.3h0M227.4 123.8h0M216.1 128.7h0M219.8 129.1h0M166.2 132.3h0"/>
<path stroke="#ff6600" d="M195.9 82.8h0M214.5 92.0h0M229.6 107.1h0M234.0 91.9h0"/>
<path stroke="#99ff66" d="M176.2 83.6h0M207.9 94.4h0M219.7 105.7h0M222.5 106.6h0M209.3 108.0h0M225.3 110.1h0M208.9 111.4h0M205.0 113.9h0M204.4 120.7h0M229.7 127.5h0M226.1 130.4h0M133.9 147.7h0M143.3 152.4h0M234.0 118.3h0"/>
</g>
<g stroke-width="3.5">
<path stroke="#ccff33" d="M227.7 83.8h0M234.6 84.3h0M221.7 113.1h0M232.3 117.7h0M210.8 127.2h0M216.5 130.3h0M218.3 131.8h0M150.9 148.8h0"/>
<path stroke="#e5ff1a" d="M227.3 86.8h0M205.2 114.1h0M223.6 130.2h0"/>
<path stroke="#ff1a00" d="M208.9 80.9h0M197.9 81.8h0M210.7 89.1h0M217.6 94.3h0M227.9 103.2h0"/>
<path stroke="#00ffff" d="M170.5 85.9h0M193.2 95.6h0M235.0 132.7h0"/>
<path stroke="#ff0000" d="M202.9 80.2h0M204.7 85.0h0M215.0 93.9h0M215.1 95.7h0M234.8 104.0h0M149.1 137.7h0"/>
<path stroke="#80ff80" d="M212.8 102.7h0M205.4 108.7h0M210.2 109.3h0M136.3 130.6h0"/>
<path stroke="#4dffb2" d="M210.5 104.9h0M216.1 106.0h0M220.8 105.8h0M188.6 112.0h0M203.5 122.8h0M207.2 128.3h0M139.2 130.8h0M147.6 135.2h0"/>
<path stroke="#1affe5" d="M198.7 93.7h0M203.5 103.6h0M220.5 109.1h0M230.7 133.9h0M144.7 133.9h0M173.4 138.1h0"/>
<path stroke="#ffb300" d="M205.1 89.7h0M220.5 126.1h0M212.2 126.4h0M222.6 127.6h0"/>
<path stroke="#0066ff" d="M199.7 96.7h0M176.2 98.3h0M185.6 101.4h0M164.1 101.3h0M152.3 103.9h0M152.2 119.0h0M157.1 119.8h0M179.0 130.0h0M186.2 130.2h0M188.9 131.1h0M185.4 132.4h0M187.5 132.7h0M203.6 137.8h0M230.3 141.7h0M190.4 137.4h0M194.9 138.8h0M211.0 141.1h0M225.2 142.8h0M229.5 142.8h0M225.0 144.4h0M180.2 144.4h0M202.2 146.6h0M214.1 150.8h0M167.2 148.5h0M161.8 152.7h0M226.2 161.9h0M200.9 161.3h0M212.2 162.9h0M193.2 162.5h0M207.8 164.8h0M137.6 156.6h0M193.8 164.4h0"/>
<path stroke="#ffff00" d="M232.1 85.1h0M198.5 89.2h0M219.5 114.1h0"/>
<path stroke="#99ff66" d="M198.7 92.0h0M211.3 102.3h0M206.5 117.0h0M212.7 129.7h0M220.8 134.4h0M168.3 135.0h0M135.2 142.6h0"/>
<path stroke="#ff6600" d="M195.4 83.6h0M209.1 121.6h0M212.3 124.3h0"/>
<path stroke="#0080ff" d="M169.3 94.8h0M164.2 96.8h0M143.5 98.3h0M152.9 100.0h0M189.3 106.5h0M147.4 103.3h0M148.0 108.4h0M146.0 112.4h0M159.4 114.4h0M145.0 116.1h0M194.2 126.1h0M193.5 128.5h0M160.2 128.5h0M195.5 134.2h0M224.7 140.0h0M212.6 143.7h0M161.0 144.1h0M167.2 144.9h0"/>
<path stroke="#cc0000" d="M221.5 92.2h0"/>
<path stroke="#0099ff" d="M173.2 87.9h0M176.4 93.6h0M207.4 98.1h0M147.8 93.8h0M150.1 97.2h0M141.3 98.0h0M156.7 99.7h0M149.6 101.2h0M140.7 109.6h0M188.3 126.0h0M160.4 127.5h0M204.1 134.6h0M203.8 139.4h0M172.2 140.5h0M133.1 151.4h0"/>
<path stroke="#ff9900" d="M213.4 83.7h0M231.6 86.3h0M230.1 88.5h0M134.4 145.1h0"/>
<path stroke="#00e5ff" d="M185.9 92.7h0M142.7 106.1h0M192.8 117.5h0M182.4 118.0h0M185.7 120.0h0M230.7 136.1h0M140.7 133.3h0M140.2 136.6h0"/>
<path stroke="#ffe500" d="M228.2 119.0h0M207.4 125.8h0M159.5 138.7h0M153.4 143.1h0"/>
<path stroke="#ff3300" d="M146.9 144.5h0"/>
<path stroke="#66ff99" d="M207.2 109.0h0M231.2 128.8h0"/>
<path stroke="#0033ff" d="M172.6 102.1h0M168.5 104.1h0M169.8 106.2h0M156.7 123.9h0M181.4 146.2h0M184.5 146.2h0M176.1 148.1h0M199.8 151.6h0M176.6 150.1h0M186.0 151.8h0M207.0 154.9h0M203.9 155.9h0M179.8 155.5h0M203.6 159.5h0M206.2 159.7h0M234.3 162.3h0M174.5 159.8h0M180.2 160.2h0M225.9 166.4h0M221.7 168.5h0M132.4 158.6h0M219.1 170.5h0M229.6 171.9h0M162.1 165.2h0M206.7 171.6h0M234.3 174.8h0M160.3 166.6h0M161.9 167.4h0M209.1 173.1h0M218.3 175.1h0M166.2 169.9h0M168.6 170.1h0M187.9 173.9h0M189.0 173.8h0M194.0 173.8h0M206.0 175.1h0M208.1 175.4h0M213.5 176.8h0M224.5 178.7h0M213.2 179.7h0M221.5 180.5h0M179.3 176.6h0M181.7 177.3h0M201.3 180.3h0M202.5 179.8h0M204.8 180.7h0M207.1 180.5h0M216.9 182.3h0M196.2 181.6h0"/>
<path stroke="#b3ff4c" d="M207.2 93.5h0M231.9 122.0h0M136.2 134.8h0"/>
<path stroke="#e50000" d="M209.4 84.3h0M224.5 91.0h0M221.1 99.3h0M217.9 124.7h0"/>
<path stroke="#ff4c00" d="M234.3 105.8h0M213.9 119.4h0M148.3 142.2h0"/>
<path stroke="#ffcc00" d="M231.3 115.3h0M216.8 117.5h0M225.0 127.8h0"/>
<path stroke="#0019ff" d="M163.1 120.5h0M161.2 122.9h0M156.0 125.6h0M199.2 157.6h0M172.4 156.7h0M163.2 158.0h0M149.7 159.2h0M161.2 159.7h0M153.0 163.6h0M155.1 166.2h0M227.0 178.6h0M233.5 182.2h0M156.7 174.0h0M160.6 174.1h0M233.8 183.6h0M172.8 178.3h0M175.4 179.2h0M191.3 180.9h0M212.1 184.0h0M220.9 185.6h0M177.3 180.6h0M181.4 181.3h0M199.5 184.5h0M205.1 185.0h0M211.4 185.5h0M218.6 186.2h0M225.2 188.4h0M232.4 188.9h0M234.4 189.3h0M143.3 179.5h0M167.0 182.4h0M171.5 183.5h0M178.6 183.9h0M181.2 184.8h0M186.0 185.1h0M218.0 189.6h0M221.3 189.1h0M182.6 187.5h0M206.2 189.9h0M208.5 190.4h0M210.8 191.1h0M213.1 191.4h0M227.9 192.9h0M180.9 189.5h0M182.5 188.8h0M187.8 189.4h0M205.8 192.0h0M213.6 193.4h0M218.3 194.1h0M229.1 196.1h0M234.5 196.4h0M175.7 190.5h0M208.7 194.6h0M217.8 196.5h0M221.5 197.0h0M138.2 187.2h0M194.1 195.2h0M209.7 197.1h0M212.5 198.0h0M224.6 199.4h0M231.3 200.3h0M169.6 195.2h0M202.6 198.7h0M207.4 199.8h0M216.6 201.1h0M233.4 202.6h0M174.4 199.9h0M220.9 206.1h0M201.6 205.8h0M176.1 204.3h0M148.0 203.8h0"/>
<path stroke="#0000ff" d="M136.9 162.3h0M134.3 163.7h0M142.5 166.9h0M148.0 170.5h0M135.8 170.3h0M140.0 171.8h0M143.1 172.0h0M147.5 172.3h0M158.4 174.7h0M134.7 175.8h0M133.0 177.4h0M139.1 177.9h0M130.0 179.8h0M132.6 180.5h0M167.3 184.4h0M155.0 185.2h0M164.1 187.2h0M171.8 187.9h0M138.7 185.4h0M147.2 186.5h0M154.3 188.3h0M157.0 188.8h0M159.6 189.1h0M165.6 189.6h0M168.3 190.3h0M201.5 196.5h0M207.5 198.0h0M144.7 191.6h0M156.5 193.1h0M158.8 193.4h0M168.3 194.4h0M205.1 199.6h0M223.6 201.5h0M137.6 193.1h0M146.7 193.6h0M149.0 193.7h0M183.3 199.2h0M186.2 198.6h0M202.5 202.0h0M210.1 202.0h0M219.2 203.5h0M230.8 204.8h0M140.0 194.7h0M142.2 196.0h0M153.6 197.0h0M160.0 198.2h0M162.8 198.1h0M171.9 199.8h0M179.5 201.1h0M191.2 202.5h0M192.8 202.0h0M195.9 202.7h0M202.6 203.3h0M129.7 196.4h0M134.5 197.5h0M139.0 196.9h0M141.0 198.5h0M158.2 199.8h0M167.5 201.3h0M173.7 202.1h0M176.5 202.0h0M197.3 205.9h0M215.2 207.4h0M230.2 210.5h0M143.3 200.1h0M157.7 201.7h0M161.8 203.3h0M169.5 204.3h0M186.0 205.6h0M196.8 207.7h0M220.9 210.5h0M227.4 211.6h0M133.5 202.0h0M141.1 203.0h0M164.7 205.2h0M177.5 207.6h0M182.9 208.6h0M187.0 208.3h0M193.7 209.6h0M203.3 211.2h0M208.2 211.7h0M220.1 213.4h0M131.3 204.2h0M178.1 209.4h0M186.7 210.4h0M189.7 211.7h0M191.1 212.3h0M199.0 213.3h0M170.7 210.8h0M191.2 213.4h0M128.6 208.5h0M132.7 209.2h0M167.6 213.5h0M169.7 213.1h0M127.3 210.1h0M130.7 210.5h0M137.5 211.9h0M127.7 211.9h0M132.0 212.7h0"/>
<path stroke="#ff8000" d="M213.5 82.3h0M221.4 82.3h0M203.5 87.7h0M223.1 121.2h0"/>
<path stroke="#00b2ff" d="M160.7 89.2h0M158.6 90.9h0M195.2 98.7h0M199.2 98.8h0M139.4 102.6h0M141.1 114.6h0M194.5 124.3h0M198.1 127.2h0M201.1 128.2h0M200.8 130.3h0M165.5 127.3h0M176.1 129.6h0M202.6 134.7h0M220.5 139.8h0"/>
<path stroke="#004dff" d="M159.6 103.0h0M166.6 104.0h0M173.0 104.2h0M154.7 105.3h0M161.5 106.1h0M153.4 107.3h0M164.4 117.4h0M151.8 122.7h0M158.2 126.9h0M162.9 126.5h0M201.7 141.7h0M227.0 146.0h0M189.3 142.4h0M202.7 144.7h0M221.6 147.5h0M224.0 147.2h0M226.1 147.5h0M209.8 148.2h0M224.2 149.8h0M229.1 150.1h0M211.5 150.7h0M221.3 152.0h0M230.4 152.7h0M212.0 152.4h0M218.7 154.1h0M220.7 153.6h0M225.8 155.2h0M232.4 157.7h0M220.4 159.2h0M222.4 161.8h0M224.5 162.0h0M159.3 155.8h0M196.2 160.5h0M155.9 156.8h0M198.0 162.9h0M202.3 163.2h0M144.2 157.4h0M169.5 161.8h0M206.7 166.8h0M216.5 167.7h0M218.9 167.6h0M176.7 165.0h0M197.8 168.0h0M207.1 168.1h0M188.2 168.9h0M211.6 172.3h0M192.9 171.9h0"/>
<path stroke="#33ffcc" d="M187.3 88.2h0M177.1 88.9h0M212.5 112.3h0M202.3 120.6h0M167.1 135.3h0M149.7 134.7h0M135.2 137.6h0"/>
<path stroke="#00ccff" d="M187.0 109.6h0M190.7 111.9h0M187.5 118.7h0M202.7 130.8h0M200.0 132.7h0M170.8 137.3h0M134.7 154.0h0"/>
<path stroke="#cc0000" d="M222.9 89.6h0M228.4 100.2h0"/>
<path stroke="#0033ff" d="M175.6 102.8h0M179.6 103.8h0M182.9 103.3h0M182.1 105.8h0M165.3 106.6h0M158.2 107.2h0M155.1 109.9h0M158.2 110.3h0M161.7 117.5h0M165.6 119.9h0M196.8 141.6h0M193.2 145.6h0M221.3 149.0h0M186.6 147.6h0M190.7 147.6h0M204.9 149.3h0M180.5 148.7h0M183.2 149.4h0M201.9 150.8h0M204.6 152.3h0M214.2 152.9h0M192.4 152.5h0M197.3 153.0h0M204.0 153.5h0M227.8 157.1h0M171.6 152.3h0M176.3 153.4h0M211.4 157.4h0M213.5 157.3h0M214.9 158.6h0M164.6 153.4h0M173.9 154.1h0M194.1 159.7h0M165.7 160.2h0M197.9 164.7h0M171.4 166.5h0M175.9 167.0h0M181.1 167.9h0M182.7 167.9h0M209.4 170.9h0M215.9 171.8h0M218.9 173.3h0M228.2 174.0h0M168.7 168.8h0M174.2 168.8h0M178.2 170.2h0M232.2 176.3h0M173.9 171.9h0M192.3 173.8h0M201.8 175.5h0M180.5 174.6h0M185.4 175.5h0M193.9 176.4h0M197.0 176.6h0M227.0 180.2h0M187.1 178.3h0M188.4 178.8h0M195.8 179.1h0M214.3 181.0h0M205.2 183.3h0"/>
<path stroke="#ff9900" d="M223.7 83.6h0"/>
<path stroke="#0019ff" d="M165.7 125.1h0M190.8 152.6h0M190.5 154.0h0M196.7 156.1h0M201.4 155.5h0M170.6 154.6h0M185.5 156.5h0M189.5 156.5h0M201.7 158.8h0M165.7 156.4h0M177.3 157.6h0M187.2 158.4h0M167.4 158.3h0M153.8 159.5h0M135.5 159.5h0M142.1 159.7h0M155.8 161.6h0M134.0 160.9h0M151.4 163.7h0M150.4 168.6h0M154.8 168.1h0M228.7 178.3h0M233.9 180.1h0M163.9 172.6h0M173.3 173.1h0M229.3 180.9h0M230.9 182.0h0M163.8 174.6h0M168.0 175.7h0M170.9 175.5h0M231.1 183.3h0M159.0 176.7h0M162.6 177.4h0M203.0 182.6h0M216.1 184.4h0M225.6 185.6h0M233.3 186.2h0M179.5 181.7h0M223.7 187.1h0M155.7 180.1h0M157.5 181.4h0M162.5 181.3h0M169.0 182.8h0M175.9 183.4h0M187.6 184.9h0M193.3 185.4h0M209.0 187.9h0M211.5 188.8h0M234.1 191.6h0M138.8 181.2h0M165.1 184.3h0M169.7 184.7h0M173.8 185.3h0M175.8 186.0h0M178.7 186.8h0M187.6 187.8h0M191.8 188.4h0M220.4 194.4h0M224.6 194.5h0M189.2 192.9h0M198.6 193.9h0M201.1 193.5h0M228.6 197.7h0M196.8 195.9h0M199.1 195.5h0M206.2 197.3h0M214.4 198.0h0M221.4 199.7h0M209.6 200.0h0M135.6 192.9h0M158.9 195.8h0M196.0 200.4h0M197.7 200.6h0M199.8 201.3h0M234.6 205.2h0M209.9 204.1h0M214.2 204.8h0M218.6 206.5h0M206.1 206.5h0M212.9 208.0h0M224.9 209.0h0M136.0 201.6h0M158.7 210.3h0M125.7 207.4h0"/>
<path stroke="#ff4c00" d="M211.0 83.5h0M219.1 101.3h0M233.4 108.1h0"/>
<path stroke="#ffcc00" d="M222.1 131.0h0"/>
<path stroke="#0066ff" d="M202.2 99.4h0M166.5 97.1h0M169.4 96.9h0M164.8 98.7h0M161.1 100.3h0M186.8 107.1h0M175.0 108.1h0M177.5 108.3h0M151.4 108.3h0M155.0 114.7h0M152.9 116.2h0M159.8 117.5h0M158.6 119.3h0M182.2 127.6h0M229.6 138.4h0M187.4 138.1h0M198.8 139.7h0M221.6 144.6h0M184.4 141.7h0M209.8 145.3h0M174.8 143.5h0M205.2 161.6h0M214.4 163.1h0M217.6 162.6h0M196.4 162.0h0"/>
<path stroke="#00b2ff" d="M176.9 91.1h0M197.1 98.2h0M140.9 94.1h0M154.9 95.7h0M159.3 96.5h0M206.9 101.8h0M201.4 103.3h0M196.2 105.3h0M139.0 114.8h0M186.9 123.3h0M198.6 124.8h0M158.0 129.0h0"/>
<path stroke="#ccff33" d="M219.9 104.6h0M232.9 113.2h0M227.5 116.9h0"/>
<path stroke="#4dffb2" d="M216.2 82.4h0M187.4 85.5h0M212.6 107.9h0M173.9 133.1h0M175.8 134.4h0M153.2 146.8h0"/>
<path stroke="#ffe500" d="M227.6 122.2h0M165.2 131.8h0"/>
<path stroke="#004dff" d="M178.5 94.4h0M173.2 98.3h0M181.1 99.0h0M182.8 99.6h0M146.8 102.0h0M177.4 105.1h0M155.6 106.7h0M165.5 107.9h0M166.4 118.1h0M175.6 124.5h0M190.4 131.2h0M232.6 141.7h0M194.2 140.8h0M229.0 146.2h0M191.9 142.7h0M193.6 143.7h0M231.3 148.0h0M184.3 144.2h0M205.0 147.8h0M207.3 147.2h0M201.9 149.5h0M207.0 150.0h0M209.4 150.8h0M226.3 151.9h0M167.9 146.6h0M174.1 147.4h0M179.1 149.0h0M222.9 154.8h0M232.5 160.1h0M199.2 160.0h0M219.0 163.3h0M217.6 165.0h0M142.4 157.4h0M171.7 161.6h0M186.2 163.9h0M209.4 166.2h0M212.5 166.7h0M178.6 164.4h0M188.8 165.6h0M194.8 166.6h0M220.8 170.6h0M223.5 171.6h0M178.2 166.8h0M192.7 169.3h0M195.2 171.1h0"/>
<path stroke="#66ff99" d="M175.4 84.5h0M195.7 92.1h0M204.8 92.2h0M221.6 109.0h0M209.4 112.0h0M226.3 128.2h0M223.9 132.6h0M140.5 150.9h0"/>
<path stroke="#1affe5" d="M188.9 91.0h0M203.0 106.8h0M218.5 136.9h0M139.2 145.8h0"/>
<path stroke="#00ffff" d="M188.1 97.0h0M198.8 108.3h0M215.5 111.0h0M195.8 110.1h0M206.9 130.3h0M171.7 128.9h0M138.6 143.5h0"/>
<path stroke="#80ff80" d="M191.8 84.5h0M213.7 101.2h0M202.4 111.9h0M225.7 130.3h0M213.4 133.7h0M161.1 140.8h0M152.0 150.1h0"/>
<path stroke="#0000ff" d="M143.7 163.1h0M136.8 164.6h0M138.6 163.6h0M135.9 166.4h0M139.0 167.0h0M130.8 168.2h0M137.5 168.8h0M144.3 171.8h0M145.1 174.9h0M133.0 175.3h0M129.8 177.2h0M134.9 178.5h0M153.4 183.4h0M140.6 184.2h0M148.4 185.1h0M129.1 184.4h0M131.0 183.9h0M140.5 186.5h0M233.5 198.4h0M128.7 186.9h0M135.1 187.4h0M145.4 188.9h0M164.1 191.9h0M168.7 191.5h0M170.9 192.0h0M227.0 199.9h0M130.2 188.9h0M153.7 192.2h0M172.7 195.1h0M174.6 194.8h0M179.9 195.4h0M186.0 197.1h0M198.1 198.7h0M132.6 192.0h0M181.9 198.5h0M190.6 200.3h0M214.1 202.2h0M216.1 203.6h0M220.8 204.2h0M127.8 193.1h0M170.2 199.2h0M188.8 201.3h0M197.1 202.6h0M199.9 203.5h0M227.9 207.2h0M234.3 208.6h0M126.7 195.8h0M150.3 199.1h0M163.0 200.1h0M180.4 203.6h0M222.5 209.3h0M134.6 199.7h0M139.0 199.5h0M145.9 201.1h0M153.3 201.8h0M167.3 204.2h0M199.8 207.8h0M203.8 208.7h0M209.0 208.7h0M216.3 209.7h0M217.2 210.4h0M154.6 204.2h0M159.9 205.3h0M168.4 205.9h0M173.8 206.3h0M175.8 207.1h0M181.0 207.6h0M214.7 213.1h0M224.3 213.3h0M138.3 204.6h0M140.8 205.0h0M164.3 208.2h0M181.8 210.5h0M185.1 210.9h0M193.5 212.3h0M196.2 212.9h0M201.5 212.9h0M142.2 206.8h0M146.7 208.1h0M149.1 208.7h0M154.2 209.3h0M181.6 212.9h0M130.5 207.6h0M137.0 208.6h0M144.0 209.6h0M147.4 210.5h0M156.6 212.3h0M159.0 212.3h0M161.3 212.1h0M166.0 212.6h0M135.3 210.9h0M134.7 213.1h0M137.5 213.8h0"/>
<path stroke="#00ccff" d="M163.4 88.8h0M202.8 95.3h0M160.7 91.9h0M165.1 92.0h0M186.1 96.5h0M195.0 100.6h0M192.7 121.8h0M211.3 136.5h0M159.3 147.6h0M156.9 152.6h0"/>
<path stroke="#ffff00" d="M205.0 125.9h0"/>
<path stroke="#ffb300" d="M224.8 105.1h0"/>
<path stroke="#ff3300" d="M197.2 84.5h0M221.0 87.8h0M231.7 91.1h0M222.9 102.4h0M215.5 122.5h0M220.2 123.0h0"/>
<path stroke="#ff8000" d="M225.9 85.4h0M151.4 137.1h0"/>
<path stroke="#ff6600" d="M199.8 85.2h0M211.2 119.8h0M147.9 148.3h0"/>
<path stroke="#00e5ff" d="M163.1 86.5h0M204.4 99.6h0M193.3 108.2h0M223.8 135.8h0M222.9 137.6h0M156.1 144.8h0"/>
<path stroke="#e5ff1a" d="M194.3 86.9h0M203.5 89.8h0M222.9 106.8h0M227.5 107.0h0M231.1 117.0h0M208.6 116.6h0M229.2 126.5h0M156.2 138.4h0"/>
<path stroke="#0099ff" d="M165.2 87.6h0M170.2 88.4h0M193.1 98.5h0M184.9 99.1h0M140.2 100.4h0M191.4 106.8h0M181.9 108.3h0M147.4 112.7h0M173.8 119.0h0M138.2 117.3h0M140.0 117.1h0M143.4 116.9h0M145.6 117.7h0M195.5 127.0h0M179.7 127.2h0M195.8 129.9h0M201.9 132.1h0M207.4 135.1h0M231.9 139.1h0M183.6 135.2h0M196.5 136.1h0M213.7 141.4h0M184.9 139.1h0M142.7 155.1h0"/>
<path stroke="#33ffcc" d="M217.8 110.4h0M201.4 118.7h0M204.8 131.2h0M179.2 133.8h0M175.8 135.6h0M152.7 151.4h0"/>
<path stroke="#b3ff4c" d="M192.6 85.8h0M168.3 84.8h0M209.3 95.8h0M207.3 111.9h0M168.9 132.8h0M180.7 137.0h0M140.8 152.9h0"/>
<path stroke="#0080ff" d="M163.0 91.6h0M175.0 93.7h0M167.6 95.3h0M173.6 95.7h0M148.3 96.6h0M194.5 105.4h0M142.6 101.0h0M143.9 108.7h0M146.5 107.7h0M143.9 110.8h0M150.5 113.2h0M176.3 119.7h0M153.8 121.0h0M180.6 131.6h0M228.2 138.4h0M194.7 136.8h0M206.4 137.8h0M215.8 138.9h0M222.4 139.9h0M154.2 154.6h0M133.6 153.7h0"/>
<path stroke="#ff1a00" d="M206.5 80.3h0"/>
<path stroke="#ff0000" d="M205.8 86.2h0M212.6 86.4h0M210.9 91.0h0M229.1 93.9h0M232.4 101.4h0"/>
<path stroke="#e50000" d="M209.0 85.7h0M148.6 146.5h0"/>
<path stroke="#e5ff1a" d="M226.4 109.7h0M207.7 123.4h0M145.2 153.3h0"/>
<path stroke="#ff0000" d="M210.8 86.3h0M219.8 94.4h0"/>
<path stroke="#ffcc00" d="M219.2 127.6h0M151.1 147.5h0"/>
<path stroke="#e50000" d="M226.3 93.2h0M226.5 94.9h0M230.4 96.0h0M225.5 97.3h0M227.7 97.5h0"/>
<path stroke="#ffff00" d="M227.0 124.3h0M164.1 135.2h0"/>
<path stroke="#ccff33" d="M217.4 87.2h0M212.2 115.0h0M230.2 121.9h0M226.9 126.7h0M212.1 131.8h0M142.1 143.2h0M142.4 150.2h0"/>
<path stroke="#ff6600" d="M214.5 91.6h0M218.0 118.0h0M150.9 142.0h0"/>
<path stroke="#0019ff" d="M164.0 122.9h0M157.9 124.7h0M153.9 125.9h0M192.6 155.5h0M187.0 156.9h0M192.1 156.8h0M194.6 157.6h0M180.4 158.5h0M188.8 158.6h0M166.2 157.8h0M173.0 158.7h0M151.0 159.3h0M137.6 159.1h0M148.4 160.7h0M150.8 161.4h0M148.8 162.9h0M150.6 166.0h0M152.8 166.8h0M151.8 168.6h0M163.4 170.4h0M156.6 171.0h0M159.6 172.1h0M168.0 173.6h0M173.2 175.3h0M167.5 177.5h0M169.8 178.3h0M209.8 183.0h0M215.0 183.3h0M224.1 185.5h0M228.1 186.2h0M231.3 186.7h0M167.4 180.0h0M186.4 183.0h0M197.4 184.2h0M206.4 185.7h0M228.1 188.2h0M160.6 181.6h0M183.9 184.6h0M197.0 185.9h0M222.7 189.6h0M227.8 190.0h0M215.9 190.8h0M217.8 192.1h0M220.9 192.2h0M175.9 187.9h0M189.9 189.5h0M199.6 191.2h0M204.5 191.7h0M222.8 194.3h0M227.8 194.9h0M231.9 196.0h0M152.7 187.0h0M191.6 192.3h0M197.0 193.6h0M224.8 197.8h0M182.7 194.2h0M187.3 194.2h0M189.2 195.3h0M217.7 198.9h0M228.7 200.7h0M193.3 198.0h0M195.4 198.3h0M214.2 201.0h0M226.3 202.1h0M207.4 202.2h0M232.2 207.8h0M144.9 208.2h0"/>
<path stroke="#ff1a00" d="M224.6 87.7h0M207.8 90.0h0M214.8 124.7h0"/>
<path stroke="#33ffcc" d="M193.5 92.9h0M191.2 110.3h0M196.1 112.2h0M137.3 138.0h0"/>
<path stroke="#00ccff" d="M172.9 85.5h0M179.7 86.4h0M175.3 87.9h0M173.0 91.0h0M185.7 94.8h0M207.4 99.4h0M197.5 117.6h0M191.8 119.9h0M194.4 119.8h0M193.9 121.8h0M203.6 127.8h0M174.2 128.8h0M168.3 138.0h0M140.1 138.9h0"/>
<path stroke="#b3ff4c" d="M224.3 106.5h0M210.2 114.1h0M226.4 116.7h0M210.5 128.4h0M166.7 132.0h0M171.2 135.0h0"/>
<path stroke="#0033ff" d="M175.0 105.6h0M180.4 105.6h0M168.6 106.2h0M153.3 123.6h0M188.3 144.3h0M197.9 145.6h0M192.7 147.5h0M186.5 149.2h0M230.4 155.1h0M199.0 153.9h0M201.3 154.2h0M213.8 155.8h0M218.9 156.3h0M225.2 156.9h0M173.9 152.7h0M177.8 152.7h0M218.2 158.6h0M161.9 155.8h0M234.0 165.3h0M169.7 159.4h0M228.7 167.0h0M228.6 168.9h0M159.9 162.3h0M162.8 162.2h0M164.6 163.2h0M232.5 172.9h0M164.2 164.9h0M167.3 166.3h0M169.6 166.2h0M200.1 169.8h0M213.4 172.6h0M164.6 167.3h0M183.2 170.8h0M187.5 171.4h0M204.1 173.0h0M224.6 175.6h0M227.3 176.2h0M170.9 171.4h0M203.6 175.0h0M222.5 177.3h0M231.0 179.9h0M175.5 173.3h0M189.1 176.4h0M203.9 178.1h0M209.8 178.8h0M220.0 182.3h0M188.3 180.2h0"/>
<path stroke="#66ff99" d="M193.5 90.9h0M215.7 103.6h0M209.1 104.4h0M226.6 112.5h0M216.8 112.9h0M168.8 130.6h0M170.9 133.8h0M142.6 134.6h0M137.5 135.1h0M142.2 139.1h0"/>
<path stroke="#99ff66" d="M218.9 111.2h0M234.1 127.2h0M171.6 130.9h0M152.8 145.6h0"/>
<path stroke="#cc0000" d="M224.6 95.7h0M228.7 96.4h0M221.3 96.6h0"/>
<path stroke="#1affe5" d="M189.0 92.3h0M192.3 114.9h0M185.7 115.7h0M200.5 124.7h0M215.0 132.2h0M208.9 133.7h0M228.3 135.4h0M178.0 141.0h0M158.7 142.7h0M155.0 147.5h0M136.6 149.5h0"/>
<path stroke="#ff3300" d="M205.7 87.8h0M231.7 93.6h0M149.6 140.1h0"/>
<path stroke="#0099ff" d="M163.2 93.3h0M157.4 96.0h0M201.3 101.5h0M157.4 97.5h0M150.6 99.9h0M189.3 104.6h0M143.0 102.9h0M144.3 105.5h0M141.3 107.9h0M182.2 120.4h0M146.7 118.4h0M155.1 118.5h0M185.0 123.0h0M190.0 123.2h0M186.5 128.2h0M181.6 129.9h0M233.1 137.0h0M160.8 145.5h0M159.9 152.4h0"/>
<path stroke="#0080ff" d="M170.5 93.0h0M202.9 96.3h0M147.0 98.8h0M151.6 102.3h0M148.6 111.1h0M152.5 112.1h0M177.4 120.2h0M177.6 122.4h0M181.5 125.4h0M218.3 141.6h0M173.0 142.3h0M208.6 161.9h0"/>
<path stroke="#004dff" d="M171.3 99.9h0M173.0 99.7h0M163.0 103.1h0M184.6 106.7h0M180.1 107.8h0M168.3 108.6h0M153.1 109.8h0M150.6 128.1h0M190.3 132.7h0M196.4 144.3h0M198.5 144.0h0M200.9 144.8h0M207.6 144.9h0M212.7 145.8h0M214.2 146.0h0M178.9 146.7h0M227.6 153.1h0M207.2 151.4h0M216.2 153.9h0M220.2 156.7h0M223.5 156.5h0M224.8 160.0h0M233.7 161.2h0M208.3 159.6h0M210.3 159.3h0M228.6 164.5h0M154.1 157.4h0M200.3 163.0h0M223.7 166.4h0M135.3 157.0h0M139.2 157.0h0M177.1 162.3h0M188.0 164.5h0M204.3 165.9h0M214.3 168.0h0M223.9 168.5h0M213.3 169.8h0M190.3 169.5h0M195.5 169.1h0M201.8 170.5h0M204.5 170.2h0"/>
<path stroke="#4dffb2" d="M183.4 84.6h0M209.1 97.3h0M201.6 122.8h0M210.4 131.5h0M140.5 148.0h0M138.8 149.5h0"/>
<path stroke="#00b2ff" d="M164.9 89.5h0M175.2 91.3h0M172.8 93.1h0M145.8 93.7h0M153.4 94.7h0M138.6 112.5h0M142.8 115.1h0M196.3 122.2h0M180.0 122.4h0M191.2 126.5h0M218.1 139.9h0M138.5 133.2h0M181.7 141.7h0M159.9 150.9h0M152.6 154.2h0"/>
<path stroke="#ff8000" d="M231.8 89.0h0M234.4 89.8h0M230.0 107.9h0M222.5 126.2h0"/>
<path stroke="#00e5ff" d="M196.3 94.1h0M141.3 95.3h0M200.6 106.9h0M185.5 114.1h0M234.1 129.1h0M233.6 133.7h0M183.2 139.6h0M165.1 141.6h0"/>
<path stroke="#ffe500" d="M201.0 90.2h0M224.3 113.9h0M146.3 149.2h0"/>
<path stroke="#80ff80" d="M191.3 88.9h0M230.4 119.7h0M232.6 120.3h0M232.3 126.6h0M226.1 132.8h0M164.7 130.1h0M137.6 143.3h0M142.9 153.4h0"/>
<path stroke="#0066ff" d="M181.0 96.5h0M171.6 97.5h0M146.1 106.2h0M163.6 108.8h0M169.6 108.5h0M177.5 124.0h0M179.4 125.3h0M186.2 125.5h0M193.1 131.5h0M196.9 133.8h0M190.5 136.0h0M192.5 135.6h0M201.2 139.7h0M208.0 140.6h0M234.0 144.5h0M207.9 143.5h0M210.5 143.7h0M217.4 146.4h0M220.0 146.7h0M217.3 149.2h0M232.4 151.6h0M218.2 151.2h0M217.4 160.3h0M188.5 162.1h0M215.3 165.2h0M132.1 156.3h0M184.0 162.7h0M203.3 165.7h0"/>
<path stroke="#0000ff" d="M160.9 125.0h0M140.7 167.4h0M135.7 168.5h0M141.2 168.8h0M132.5 170.5h0M137.6 170.9h0M150.1 172.4h0M155.6 176.7h0M141.8 176.9h0M165.0 179.7h0M136.3 178.2h0M148.9 179.6h0M153.4 180.0h0M148.2 182.6h0M161.5 183.5h0M159.3 185.8h0M162.5 187.0h0M135.7 185.0h0M149.5 187.8h0M163.6 189.4h0M177.9 190.9h0M183.1 191.5h0M134.0 187.2h0M140.6 187.9h0M147.0 188.9h0M161.4 191.5h0M180.1 194.1h0M202.7 196.8h0M232.9 200.4h0M132.4 189.5h0M138.0 190.8h0M151.1 192.5h0M163.4 194.1h0M228.4 201.9h0M139.9 192.2h0M154.2 194.1h0M161.1 196.0h0M167.8 196.7h0M188.8 200.0h0M204.5 202.3h0M132.5 193.9h0M155.4 196.9h0M157.4 197.8h0M164.9 198.4h0M167.9 198.7h0M176.0 200.3h0M212.0 204.3h0M136.7 197.5h0M145.9 198.2h0M148.8 199.2h0M199.5 206.3h0M209.0 206.4h0M211.1 206.8h0M127.0 198.7h0M136.7 200.0h0M148.7 201.6h0M159.4 202.5h0M163.8 203.5h0M188.3 205.8h0M195.1 208.1h0M213.4 210.3h0M224.5 211.1h0M234.3 212.1h0M127.1 200.2h0M139.1 202.5h0M143.5 203.3h0M146.1 203.0h0M149.6 203.7h0M171.6 207.2h0M192.1 209.6h0M197.3 210.3h0M212.6 212.5h0M126.1 202.7h0M128.4 202.8h0M147.3 206.1h0M159.3 207.1h0M169.1 208.5h0M203.5 213.4h0M135.4 207.1h0M138.0 206.5h0M139.6 207.2h0M164.0 210.7h0M168.6 210.3h0M176.8 212.1h0M134.7 208.9h0M139.4 210.1h0M149.3 210.7h0M154.1 211.6h0M132.1 211.1h0M148.5 213.0h0"/>
<path stroke="#ff4c00" d="M201.2 85.5h0M198.7 86.5h0M217.3 91.9h0M212.8 93.7h0M216.1 98.4h0M231.8 107.6h0"/>
<path stroke="#ff9900" d="M217.2 90.1h0"/>
<path stroke="#ffb300" d="M220.5 85.8h0M214.8 112.6h0M221.1 116.4h0M224.0 126.0h0M216.7 126.8h0"/>
<path stroke="#00ffff" d="M181.7 91.2h0M140.4 112.2h0M177.0 131.5h0M165.6 137.7h0M163.3 142.0h0M155.4 143.2h0M157.0 149.8h0M144.5 154.9h0"/>
<path stroke="#00ccff" d="M181.8 87.6h0M167.5 86.9h0M180.2 88.9h0M195.7 96.4h0M161.9 96.6h0M189.2 101.8h0M191.8 103.3h0M199.0 103.6h0M139.5 107.8h0M198.7 122.2h0M153.1 132.3h0M146.8 156.0h0"/>
<path stroke="#00e5ff" d="M177.8 86.2h0M188.3 95.1h0M139.1 104.4h0M149.7 118.3h0M196.3 124.1h0M207.2 133.1h0M173.8 135.9h0M157.8 147.6h0M140.3 154.8h0"/>
<path stroke="#ffcc00" d="M232.7 114.9h0"/>
<path stroke="#cc0000" d="M222.2 88.5h0M220.3 92.1h0M223.0 99.7h0M229.8 100.6h0"/>
<path stroke="#0080ff" d="M172.5 95.7h0M143.2 95.4h0M151.9 97.9h0M166.3 98.7h0M154.9 100.3h0M159.8 101.1h0M145.3 101.4h0M153.7 102.6h0M143.6 112.3h0M152.0 121.0h0M177.4 126.5h0M199.9 134.3h0M234.2 139.6h0M187.6 135.6h0M202.4 136.7h0M227.3 140.1h0M219.6 142.1h0M215.5 144.3h0M164.3 145.9h0M149.0 156.5h0"/>
<path stroke="#4dffb2" d="M181.0 84.7h0M215.2 107.6h0M193.2 110.1h0M200.2 110.7h0M204.8 111.8h0M205.5 128.9h0M231.1 131.5h0M141.7 141.4h0"/>
<path stroke="#ff4c00" d="M219.3 89.7h0M234.0 93.8h0M215.7 120.5h0"/>
<path stroke="#99ff66" d="M209.4 102.3h0M208.1 107.9h0M193.6 112.1h0M207.3 119.1h0M229.2 128.4h0M136.3 132.6h0M152.9 135.8h0M145.0 151.1h0M146.8 153.6h0"/>
<path stroke="#ff9900" d="M219.2 116.2h0M212.0 117.3h0M153.9 140.2h0"/>
<path stroke="#ff3300" d="M228.0 89.2h0M219.1 99.0h0M146.9 142.3h0M146.4 146.6h0"/>
<path stroke="#ff1a00" d="M233.5 92.2h0M212.2 95.9h0"/>
<path stroke="#ffe500" d="M215.8 88.9h0M211.8 98.7h0M210.8 123.8h0M143.3 147.7h0"/>
<path stroke="#66ff99" d="M224.8 109.1h0M228.7 112.3h0M226.7 114.6h0M197.2 113.0h0M224.0 117.1h0M202.6 116.5h0M200.3 117.8h0M206.6 120.9h0M146.9 137.1h0M158.5 141.3h0M134.5 146.6h0M150.2 151.6h0"/>
<path stroke="#b3ff4c" d="M229.0 114.8h0M204.3 115.6h0"/>
<path stroke="#ff8000" d="M211.4 81.0h0M213.2 91.7h0M213.7 98.1h0M222.3 104.5h0M230.9 110.3h0M220.3 118.5h0M220.1 120.8h0"/>
<path stroke="#1affe5" d="M182.3 90.2h0M207.3 94.8h0M194.9 115.6h0M190.3 116.1h0M233.4 131.9h0M226.0 135.2h0M183.0 137.4h0M144.8 136.2h0M155.1 150.2h0"/>
<path stroke="#ff6600" d="M210.2 92.7h0M218.6 120.2h0M213.9 121.5h0M151.1 140.3h0M143.3 145.8h0"/>
<path stroke="#004dff" d="M169.6 99.5h0M183.1 101.0h0M184.7 104.1h0M149.7 103.5h0M158.9 105.5h0M151.7 106.8h0M155.1 111.8h0M150.7 130.2h0M189.2 140.0h0M231.8 145.6h0M200.4 146.8h0M218.6 148.5h0M230.9 150.4h0M174.5 145.2h0M176.4 145.8h0M216.9 150.5h0M234.6 153.3h0M208.8 152.7h0M227.2 154.3h0M169.2 149.7h0M171.8 149.1h0M174.4 150.3h0M226.6 160.1h0M228.6 162.5h0M224.6 164.1h0M231.6 165.2h0M177.2 160.4h0M190.7 162.5h0M218.8 165.1h0M221.3 166.2h0M232.6 167.0h0M182.0 162.8h0M195.6 164.5h0M171.6 164.2h0M174.2 163.9h0M181.6 165.9h0M191.2 167.1h0M193.2 166.4h0M199.8 167.7h0M202.7 168.4h0M215.9 170.3h0M225.4 171.6h0M181.3 170.1h0M185.8 170.9h0M190.0 170.7h0"/>
<path stroke="#00b2ff" d="M167.2 89.5h0M197.3 96.4h0M159.8 93.5h0M197.3 100.3h0M154.2 117.2h0M180.6 120.5h0M186.7 121.0h0M208.8 135.2h0M216.4 137.0h0M164.1 139.3h0M139.0 148.1h0"/>
<path stroke="#0019ff" d="M161.9 120.3h0M194.7 153.5h0M187.4 154.5h0M194.3 154.8h0M182.8 155.9h0M161.7 157.8h0M147.3 158.4h0M163.5 159.8h0M140.0 160.3h0M143.9 160.5h0M146.5 160.0h0M153.8 161.5h0M155.3 163.8h0M157.7 165.0h0M166.4 168.6h0M157.5 169.2h0M159.8 168.9h0M152.0 170.6h0M154.4 171.4h0M161.6 171.6h0M171.2 173.1h0M166.2 174.4h0M224.2 182.7h0M226.1 182.6h0M154.0 175.7h0M179.1 179.3h0M181.9 178.9h0M186.9 180.7h0M193.1 181.4h0M198.4 182.4h0M206.9 183.2h0M219.4 185.0h0M171.7 180.5h0M183.6 182.8h0M189.0 182.9h0M196.0 184.2h0M210.0 186.0h0M214.3 186.2h0M217.0 186.0h0M221.3 187.1h0M194.8 185.5h0M199.3 186.4h0M202.8 186.7h0M205.0 186.8h0M207.2 188.4h0M213.2 188.5h0M216.2 188.7h0M225.8 189.8h0M230.1 190.2h0M181.0 186.8h0M195.1 188.0h0M199.7 189.6h0M204.7 189.2h0M224.9 193.2h0M230.0 193.7h0M232.3 193.9h0M234.2 193.2h0M185.3 189.1h0M192.3 189.9h0M201.2 192.0h0M209.1 192.6h0M173.8 189.9h0M193.8 192.6h0M203.5 194.2h0M205.8 194.3h0M210.7 195.8h0M214.8 195.6h0M191.2 195.4h0M219.2 198.8h0M200.7 199.0h0M165.5 195.9h0M172.7 197.9h0M143.7 196.1h0M223.3 205.9h0M187.8 204.4h0M204.4 205.8h0M173.6 204.5h0M192.0 206.4h0M222.6 211.7h0M201.0 210.5h0M156.9 206.8h0"/>
<path stroke="#e50000" d="M204.4 80.1h0M207.1 83.9h0M224.3 93.3h0M216.8 96.5h0"/>
<path stroke="#0099ff" d="M179.2 91.4h0M158.0 93.6h0M164.4 94.4h0M183.5 96.1h0M188.5 100.1h0M199.9 101.5h0M159.0 97.7h0M193.8 102.4h0M196.5 103.0h0M195.6 107.9h0M190.6 119.6h0M184.2 125.4h0M196.0 132.1h0M175.3 140.8h0M162.1 148.9h0"/>
<path stroke="#0066ff" d="M204.1 97.4h0M178.6 96.6h0M178.8 98.9h0M145.9 96.6h0M171.7 109.0h0M157.9 115.3h0M153.3 130.8h0M185.2 135.7h0M199.7 137.3h0M234.3 141.6h0M150.1 132.0h0M196.6 139.0h0M206.7 140.8h0M187.0 139.7h0M192.4 140.0h0M205.2 142.7h0M217.1 144.2h0M168.3 139.7h0M204.9 144.9h0M167.8 142.5h0M181.8 144.4h0M226.7 149.7h0M164.6 148.3h0M210.8 161.7h0"/>
<path stroke="#ff0000" d="M204.8 83.2h0M226.5 91.4h0"/>
<path stroke="#33ffcc" d="M217.7 85.2h0M185.3 85.3h0M221.4 111.6h0M187.7 114.6h0M234.5 122.7h0M143.0 136.9h0M145.1 138.3h0M137.8 140.4h0M133.3 149.5h0"/>
<path stroke="#0033ff" d="M171.4 101.6h0M170.6 105.0h0M159.4 121.2h0M229.2 148.4h0M186.0 144.5h0M195.5 146.3h0M196.0 148.3h0M197.2 147.9h0M192.9 149.8h0M232.4 156.1h0M178.1 150.1h0M234.5 157.6h0M164.7 151.3h0M168.7 152.4h0M180.4 153.9h0M182.8 153.9h0M205.8 157.3h0M209.0 156.8h0M176.2 155.2h0M177.6 155.7h0M159.4 157.4h0M230.9 166.6h0M174.2 162.2h0M226.0 169.4h0M230.0 169.3h0M232.2 169.5h0M170.4 164.3h0M227.6 170.9h0M160.7 164.2h0M220.8 173.0h0M226.0 173.6h0M230.2 174.7h0M171.7 168.2h0M201.1 172.5h0M210.6 174.1h0M213.0 174.9h0M215.6 174.2h0M222.0 175.5h0M180.0 171.9h0M184.7 172.7h0M198.6 174.1h0M210.2 176.0h0M217.4 176.7h0M177.1 174.1h0M182.5 174.8h0M186.6 176.1h0M200.6 176.8h0M208.3 177.9h0M214.5 179.1h0"/>
<path stroke="#ffb300" d="M197.2 86.2h0M213.5 117.6h0M225.6 118.7h0"/>
<path stroke="#ccff33" d="M218.0 83.2h0M231.7 124.9h0"/>
<path stroke="#80ff80" d="M215.5 84.8h0M217.3 107.9h0M224.2 111.7h0M203.5 121.5h0M179.6 139.6h0M143.8 141.6h0M148.3 151.8h0"/>
<path stroke="#e5ff1a" d="M215.8 86.3h0M204.6 118.7h0M205.7 122.9h0"/>
<path stroke="#0000ff" d="M132.5 163.5h0M143.4 164.3h0M145.4 165.7h0M133.2 165.3h0M147.2 168.0h0M133.2 167.6h0M143.0 169.3h0M151.5 172.7h0M135.1 173.6h0M140.3 173.7h0M142.0 174.4h0M146.2 174.4h0M152.0 174.9h0M130.3 175.1h0M144.9 177.3h0M147.1 177.4h0M150.8 177.8h0M154.2 178.5h0M157.8 178.1h0M142.2 179.2h0M151.2 180.3h0M136.3 180.5h0M141.9 181.8h0M144.2 181.8h0M146.3 181.6h0M155.3 183.6h0M157.0 184.0h0M159.4 183.8h0M170.9 185.4h0M129.2 181.5h0M132.3 181.8h0M136.5 183.4h0M144.0 184.3h0M145.4 183.8h0M168.5 186.8h0M173.9 187.5h0M178.2 189.0h0M144.8 186.1h0M161.5 188.6h0M171.5 190.5h0M226.9 197.9h0M131.7 187.5h0M142.3 188.1h0M156.4 189.9h0M158.8 191.0h0M166.4 191.7h0M173.1 192.9h0M128.0 189.2h0M134.8 189.6h0M141.8 190.7h0M147.6 191.0h0M148.8 191.1h0M181.8 196.8h0M184.5 196.5h0M189.2 196.7h0M128.4 190.8h0M129.9 191.3h0M144.7 193.9h0M174.3 197.5h0M193.5 200.4h0M211.6 202.5h0M223.6 204.3h0M225.2 204.5h0M227.7 205.1h0M232.2 205.5h0M136.7 195.3h0M151.0 196.1h0M180.8 201.2h0M183.1 201.3h0M204.7 204.4h0M207.0 204.5h0M229.6 207.4h0M132.3 195.9h0M153.7 199.7h0M155.6 199.5h0M159.6 200.4h0M164.2 201.6h0M183.6 203.9h0M186.0 203.2h0M190.1 204.3h0M194.6 204.9h0M218.7 208.3h0M220.8 207.9h0M131.7 199.1h0M150.6 202.0h0M171.3 203.6h0M182.3 205.9h0M190.4 206.8h0M201.3 208.3h0M229.0 212.0h0M231.6 212.4h0M128.5 201.2h0M131.2 201.3h0M162.1 204.7h0M166.6 205.3h0M199.2 210.7h0M210.9 211.8h0M133.2 204.0h0M150.1 206.7h0M151.4 205.7h0M166.7 208.8h0M175.0 209.3h0M128.7 205.7h0M152.0 208.2h0M157.0 210.0h0M160.8 210.7h0M174.8 211.5h0M183.8 213.7h0M151.0 211.7h0M172.2 213.8h0M124.9 209.9h0M139.3 211.2h0M147.0 213.0h0M124.6 212.6h0M130.3 213.0h0M139.3 213.6h0"/>
<path stroke="#ffff00" d="M230.1 123.7h0M147.2 139.2h0"/>
<path stroke="#00ffff" d="M184.8 87.1h0M187.1 90.7h0M200.9 94.0h0M192.1 104.9h0M195.4 116.9h0M154.3 152.3h0"/>
<path stroke="#cc0000" d="M223.1 85.3h0M222.4 94.4h0"/>
<path stroke="#0033ff" d="M177.8 102.8h0M166.4 122.2h0M190.9 144.7h0M188.4 147.2h0M199.5 148.2h0M188.9 149.5h0M190.0 149.9h0M194.6 149.9h0M198.0 150.2h0M181.2 150.9h0M183.8 151.6h0M188.5 151.9h0M208.9 155.3h0M216.4 155.3h0M229.3 158.3h0M185.6 154.5h0M198.9 155.3h0M230.2 159.3h0M167.0 154.5h0M168.8 154.7h0M163.1 155.8h0M192.3 159.8h0M168.3 160.5h0M158.2 162.4h0M167.4 163.5h0M204.1 168.0h0M173.6 167.1h0M186.0 168.9h0M223.1 173.6h0M232.2 174.2h0M175.6 169.9h0M197.6 172.7h0M206.5 173.6h0M220.7 175.8h0M229.2 177.1h0M234.2 176.6h0M176.4 171.1h0M178.4 172.6h0M182.2 172.9h0M196.1 174.0h0M216.0 176.7h0M219.6 177.3h0M191.9 175.5h0M199.1 176.6h0M205.1 178.0h0M217.7 179.2h0M224.9 180.2h0M177.2 177.1h0M184.7 177.1h0M191.8 177.9h0M193.7 179.4h0M210.2 181.3h0M212.3 180.7h0M221.7 181.9h0M228.7 183.2h0M184.8 180.6h0"/>
<path stroke="#ffe500" d="M225.2 83.0h0M228.4 109.9h0M222.8 118.8h0M142.0 146.1h0"/>
<path stroke="#ff8000" d="M214.6 126.9h0M219.0 130.3h0"/>
<path stroke="#0066ff" d="M175.9 96.5h0M145.7 98.4h0M161.2 103.1h0M172.7 107.4h0M151.2 110.8h0M157.8 112.9h0M157.6 117.4h0M156.0 121.3h0M183.5 127.5h0M185.3 137.7h0M191.6 138.9h0M215.2 140.7h0M227.4 142.5h0M232.0 143.0h0M203.7 142.8h0M220.0 144.8h0M170.8 140.0h0M170.7 141.9h0M211.8 147.7h0M215.0 149.0h0M223.1 152.0h0M215.6 160.4h0M219.3 161.0h0M184.7 161.5h0M212.3 164.7h0M185.7 166.6h0"/>
<path stroke="#ff6600" d="M224.5 123.4h0M144.2 144.1h0"/>
<path stroke="#0080ff" d="M192.0 100.7h0M154.8 97.2h0M162.2 98.4h0M187.6 104.4h0M156.5 102.0h0M144.8 103.7h0M152.3 114.3h0M150.2 116.6h0M188.7 128.4h0M191.5 128.3h0M183.1 129.8h0M155.8 129.2h0M183.8 132.4h0M192.1 134.0h0M213.9 138.7h0M221.7 142.6h0M165.6 139.2h0M177.3 143.3h0M165.3 144.4h0M161.8 151.4h0"/>
<path stroke="#4dffb2" d="M206.2 106.7h0M198.8 110.4h0M228.2 131.5h0M221.4 133.1h0M228.8 133.5h0M175.7 137.9h0M139.8 141.3h0M136.8 147.0h0"/>
<path stroke="#ffff00" d="M234.0 87.6h0M212.2 110.0h0M206.6 113.7h0"/>
<path stroke="#ffcc00" d="M230.0 87.2h0M218.3 103.7h0M225.4 121.1h0M151.0 145.1h0"/>
<path stroke="#0000ff" d="M132.8 160.9h0M139.6 161.6h0M141.3 162.2h0M146.2 163.6h0M141.6 164.7h0M131.4 165.5h0M145.2 166.9h0M131.0 169.9h0M131.1 173.3h0M132.8 173.1h0M137.3 173.3h0M149.0 175.5h0M137.8 175.4h0M139.0 176.4h0M148.5 177.3h0M146.3 179.3h0M133.7 180.6h0M151.2 182.9h0M134.4 183.3h0M139.2 183.1h0M149.7 185.3h0M152.4 185.2h0M156.7 185.3h0M134.1 184.9h0M143.0 185.5h0M149.4 189.6h0M151.7 189.4h0M153.9 189.4h0M174.6 192.7h0M139.5 190.8h0M160.7 193.9h0M165.2 193.5h0M176.6 195.8h0M191.4 197.7h0M212.1 199.8h0M219.2 200.7h0M221.4 201.5h0M141.4 192.5h0M150.7 194.1h0M156.0 194.8h0M162.8 195.3h0M169.8 197.6h0M176.9 198.3h0M179.8 197.7h0M130.3 193.2h0M134.1 193.8h0M145.9 196.3h0M148.6 196.3h0M186.6 201.9h0M225.1 206.5h0M143.7 197.6h0M169.3 201.6h0M172.0 201.5h0M178.1 202.4h0M192.2 205.1h0M227.4 209.8h0M231.8 209.9h0M129.8 198.9h0M140.6 199.7h0M155.7 202.1h0M178.4 205.8h0M181.3 205.1h0M206.4 208.6h0M210.8 210.0h0M151.9 204.0h0M156.5 205.2h0M206.4 211.5h0M217.2 212.2h0M135.7 204.7h0M142.7 205.3h0M145.0 206.0h0M155.0 206.9h0M162.1 207.9h0M171.0 208.2h0M173.5 209.7h0M179.7 209.8h0M205.7 213.2h0M210.1 213.6h0M126.2 205.3h0M130.8 206.1h0M133.1 206.0h0M166.3 210.2h0M172.9 211.6h0M179.6 212.2h0M186.2 213.3h0M141.5 210.2h0M162.9 212.9h0M142.4 212.2h0M143.7 212.5h0M150.8 212.7h0M153.3 213.2h0"/>
<path stroke="#00e5ff" d="M175.5 86.3h0M180.9 94.5h0M190.3 99.5h0M196.4 119.6h0M189.5 120.9h0M216.7 134.5h0M218.0 134.8h0"/>
<path stroke="#b3ff4c" d="M194.6 88.8h0M206.7 104.3h0M203.3 108.7h0M215.9 115.9h0M167.7 130.6h0M160.0 130.9h0M160.8 138.5h0"/>
<path stroke="#00ccff" d="M161.1 86.4h0M185.1 90.0h0M184.4 94.8h0M199.2 105.5h0M189.4 109.1h0M168.1 128.2h0M179.1 131.9h0M225.8 138.3h0M141.5 131.6h0M137.7 154.9h0"/>
<path stroke="#ff4c00" d="M212.9 88.3h0M218.2 123.0h0"/>
<path stroke="#ff1a00" d="M225.7 102.3h0M229.8 103.2h0M232.9 103.9h0"/>
<path stroke="#0099ff" d="M167.2 92.5h0M138.6 110.4h0M148.0 115.4h0M191.9 123.7h0M198.1 129.0h0M197.6 132.0h0M155.4 130.8h0M180.8 134.3h0M209.1 138.2h0M211.6 138.0h0"/>
<path stroke="#00ffff" d="M191.7 90.4h0M183.5 92.7h0M191.3 95.8h0M191.1 97.5h0M204.3 102.3h0M191.1 114.2h0M187.9 116.6h0M198.7 120.6h0M214.3 136.1h0M180.2 141.9h0M137.4 152.7h0"/>
<path stroke="#ccff33" d="M229.7 83.8h0M190.1 85.7h0"/>
<path stroke="#80ff80" d="M178.7 84.6h0M195.8 88.9h0M200.9 91.5h0M161.7 132.4h0"/>
<path stroke="#e50000" d="M232.7 97.1h0M230.7 98.7h0M232.3 98.3h0M225.4 99.8h0"/>
<path stroke="#ff9900" d="M215.9 101.1h0M209.5 119.7h0M222.1 123.5h0"/>
<path stroke="#33ffcc" d="M202.9 92.9h0M210.6 107.6h0M197.6 114.7h0M234.0 125.2h0M216.0 132.6h0M174.4 130.8h0M134.7 139.7h0M137.3 144.7h0M135.1 152.0h0"/>
<path stroke="#1affe5" d="M191.6 92.7h0M204.6 94.8h0M199.8 115.6h0M211.1 133.8h0M220.8 136.7h0M177.7 135.7h0M163.7 136.2h0M149.5 154.4h0"/>
<path stroke="#ffb300" d="M201.8 87.5h0M234.3 110.2h0M211.1 122.0h0"/>
<path stroke="#ff3300" d="M199.7 82.8h0M201.6 83.2h0M221.4 102.1h0M227.2 104.7h0M232.0 105.6h0M148.1 144.0h0"/>
<path stroke="#004dff" d="M175.7 100.7h0M178.7 100.5h0M180.9 100.7h0M166.2 101.5h0M168.2 101.6h0M157.0 104.8h0M163.4 105.3h0M149.5 106.7h0M160.6 107.4h0M152.6 128.0h0M198.5 141.4h0M233.9 145.7h0M187.1 142.9h0M233.3 148.7h0M169.4 144.9h0M172.7 145.7h0M232.5 153.4h0M170.3 146.8h0M171.4 147.3h0M211.6 155.0h0M167.1 151.0h0M222.4 159.0h0M213.3 160.3h0M231.7 163.2h0M157.2 155.5h0M203.3 161.6h0M222.0 163.3h0M225.9 164.8h0M152.1 157.2h0M182.1 160.4h0M186.8 161.4h0M205.0 163.6h0M209.7 164.6h0M178.8 162.6h0M191.2 164.4h0M199.8 165.7h0M184.2 165.0h0M209.0 168.5h0M211.7 169.3h0M196.8 169.9h0M199.2 171.8h0"/>
<path stroke="#e5ff1a" d="M214.9 129.6h0"/>
<path stroke="#ff0000" d="M207.7 88.3h0M228.7 91.7h0M223.7 97.8h0M230.3 104.8h0"/>
<path stroke="#b30000" d="M218.4 96.3h0"/>
<path stroke="#99ff66" d="M190.0 87.5h0M209.0 100.5h0M211.9 101.1h0M213.1 105.2h0M217.3 105.8h0M214.1 114.8h0M177.7 138.7h0M155.8 140.9h0"/>
<path stroke="#0019ff" d="M163.1 125.5h0M197.1 158.2h0M168.0 156.4h0M170.3 157.4h0M175.6 157.5h0M181.9 158.3h0M184.6 158.4h0M156.1 160.1h0M157.7 159.2h0M147.9 165.1h0M158.0 166.6h0M161.2 170.1h0M145.1 170.3h0M150.5 170.2h0M166.7 173.1h0M219.5 180.4h0M154.4 174.0h0M174.6 175.9h0M198.4 179.7h0M161.2 176.8h0M165.1 177.6h0M177.2 178.9h0M200.9 182.2h0M155.9 178.2h0M160.9 179.0h0M162.7 179.0h0M170.0 180.3h0M175.1 180.7h0M190.2 183.8h0M193.7 183.2h0M202.3 185.2h0M229.7 189.2h0M165.1 182.0h0M173.5 182.7h0M190.0 185.2h0M231.9 191.0h0M185.7 187.5h0M189.6 187.9h0M197.2 188.6h0M201.1 189.8h0M222.2 192.7h0M166.8 186.7h0M194.9 191.2h0M197.2 190.6h0M210.6 192.3h0M215.9 193.5h0M180.1 190.9h0M184.3 191.3h0M187.7 192.6h0M213.2 195.0h0M220.4 197.2h0M232.0 197.9h0M178.0 192.7h0M184.7 194.1h0M231.3 203.2h0M215.8 205.5h0M185.1 208.3h0M189.3 208.9h0"/>
<path stroke="#00b2ff" d="M170.1 90.0h0M156.1 93.5h0M150.6 94.7h0M188.2 102.3h0M145.7 111.1h0M183.8 116.4h0M178.0 117.6h0M180.7 118.2h0M185.3 119.0h0M182.2 122.7h0M205.3 132.4h0M162.7 129.0h0M162.7 144.3h0M157.5 146.2h0M162.5 146.0h0"/>
<path stroke="#66ff99" d="M201.2 109.3h0M231.3 112.2h0M199.8 113.5h0M202.8 113.9h0M203.1 126.1h0"/>
</g>
<g stroke-width="5.8">
<path stroke="#ffe500" d="M191.3 78.0h0"/>
<path stroke="#e5ff1a" d="M193.4 76.7h0"/>
<path stroke="#ffff00" d="M195.0 78.6h0"/>
</g>
</g>
<use href="#usmap" clip-path="url(#fc)"/>
</g>
<rect x="1285.5" y="485.5" width="23" height="215" fill="url(#jet)" stroke="#262626" stroke-width="1"/>
<path d="M1308.5 593h-3" stroke="#262626" stroke-width="1" fill="none"/>
<text class="c" x="1316.6" y="493.1">100</text>
<text class="c" x="1316.6" y="600.4">50</text>
<text class="c" x="1316.6" y="707.9">0</text>
<text class="t"><tspan x="987.8" y="502.8">48</tspan><tspan class="d" x="1007.4" y="495.2">° </tspan><tspan x="1017.1" y="502.8">N</tspan></text>
<text class="t"><tspan x="987.8" y="520.5">46</tspan><tspan class="d" x="1007.4" y="512.9">° </tspan><tspan x="1017.1" y="520.5">N</tspan></text>
<text class="t"><tspan x="987.8" y="538.0">44</tspan><tspan class="d" x="1007.4" y="530.4">° </tspan><tspan x="1017.1" y="538.0">N</tspan></text>
<text class="t"><tspan x="987.8" y="557.2">42</tspan><tspan class="d" x="1007.4" y="549.6">° </tspan><tspan x="1017.1" y="557.2">N</tspan></text>
<text class="t"><tspan x="987.8" y="573.3">40</tspan><tspan class="d" x="1007.4" y="565.7">° </tspan><tspan x="1017.1" y="573.3">N</tspan></text>
<text class="t"><tspan x="987.8" y="588.3">38</tspan><tspan class="d" x="1007.4" y="580.7">° </tspan><tspan x="1017.1" y="588.3">N</tspan></text>
<text class="t"><tspan x="987.8" y="605.2">36</tspan><tspan class="d" x="1007.4" y="597.6">° </tspan><tspan x="1017.1" y="605.2">N</tspan></text>
<text class="t"><tspan x="987.8" y="619.6">34</tspan><tspan class="d" x="1007.4" y="612.0">° </tspan><tspan x="1017.1" y="619.6">N</tspan></text>
<text class="t"><tspan x="987.8" y="636.8">32</tspan><tspan class="d" x="1007.4" y="629.2">° </tspan><tspan x="1017.1" y="636.8">N</tspan></text>
<text class="t"><tspan x="987.8" y="650.6">30</tspan><tspan class="d" x="1007.4" y="643.0">° </tspan><tspan x="1017.1" y="650.6">N</tspan></text>
<text class="t"><tspan x="987.8" y="664.2">28</tspan><tspan class="d" x="1007.4" y="656.6">° </tspan><tspan x="1017.1" y="664.2">N</tspan></text>
<text class="t"><tspan x="987.8" y="679.3">26</tspan><tspan class="d" x="1007.4" y="671.7">° </tspan><tspan x="1017.1" y="679.3">N</tspan></text>
<text class="t"><tspan x="987.8" y="693.5">24</tspan><tspan class="d" x="1007.4" y="685.9">° </tspan><tspan x="1017.1" y="693.5">N</tspan></text>
<text class="t"><tspan x="987.8" y="706.3">22</tspan><tspan class="d" x="1007.4" y="698.7">° </tspan><tspan x="1017.1" y="706.3">N</tspan></text>
<text class="w"><tspan x="1059.0" y="464.7">100</tspan><tspan class="d" x="1086.0" y="458.0">° </tspan><tspan x="1096.5" y="464.7">W</tspan></text>
<text class="w"><tspan x="1127.9" y="464.7">90</tspan><tspan class="d" x="1146.3" y="458.0">° </tspan><tspan x="1156.8" y="464.7">W</tspan></text>
<text class="w"><tspan x="1192.6" y="464.7">80</tspan><tspan class="d" x="1211.1" y="458.0">° </tspan><tspan x="1221.6" y="464.7">W</tspan></text>
<text class="w"><tspan x="1255.4" y="464.7">70</tspan><tspan class="d" x="1273.8" y="458.0">° </tspan><tspan x="1284.3" y="464.7">W</tspan></text>
<text class="l" x="982.3" y="732.2">SAT 400 hPa RH (Percent)</text>
</g>
</svg></body></html>
